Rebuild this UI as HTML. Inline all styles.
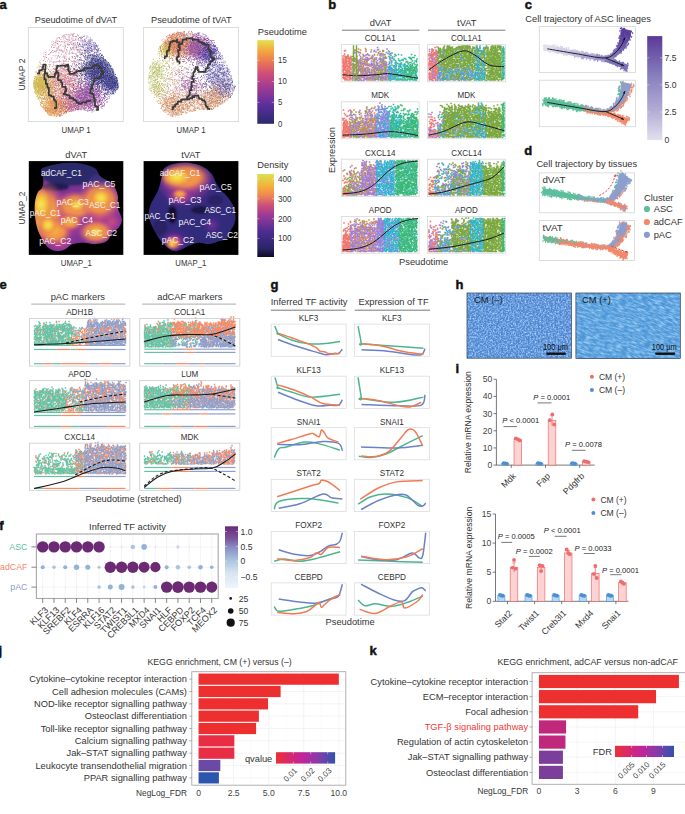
<!DOCTYPE html><html><head><meta charset="utf-8"><style>html,body{margin:0;padding:0;background:#fff;overflow:hidden}svg{display:block}</style></head><body><svg width="685" height="814" viewBox="0 0 685 814" font-family='"Liberation Sans", sans-serif'><defs><linearGradient id="gPT" x1="0" y1="1" x2="0" y2="0"><stop offset="0" stop-color="#2a2a6c"/><stop offset="0.22" stop-color="#5a2f9c"/><stop offset="0.45" stop-color="#a43c92"/><stop offset="0.6" stop-color="#cf4e78"/><stop offset="0.75" stop-color="#ec7a52"/><stop offset="0.87" stop-color="#f3a642"/><stop offset="1" stop-color="#e4e24c"/></linearGradient><linearGradient id="gDEN" x1="0" y1="1" x2="0" y2="0"><stop offset="0" stop-color="#0f0a24"/><stop offset="0.1" stop-color="#2a2466"/><stop offset="0.3" stop-color="#4a2e90"/><stop offset="0.5" stop-color="#9a3a98"/><stop offset="0.62" stop-color="#cc4e7a"/><stop offset="0.75" stop-color="#f08a50"/><stop offset="0.85" stop-color="#f2b03a"/><stop offset="1" stop-color="#dce24e"/></linearGradient><filter id="blur1" x="-10%" y="-10%" width="120%" height="120%"><feGaussianBlur stdDeviation="1.2"/></filter><filter id="blur2" x="-20%" y="-20%" width="140%" height="140%"><feGaussianBlur stdDeviation="2.5"/></filter><filter id="blur05"><feGaussianBlur stdDeviation="0.5"/></filter><radialGradient id="rgY"><stop offset="0" stop-color="#f2ee5a" stop-opacity="1"/><stop offset="0.4" stop-color="#f6c840" stop-opacity="0.95"/><stop offset="0.75" stop-color="#f09a48" stop-opacity="0.7"/><stop offset="1" stop-color="#c04a80" stop-opacity="0"/></radialGradient><radialGradient id="rgO"><stop offset="0" stop-color="#f7b43e" stop-opacity="1"/><stop offset="0.55" stop-color="#f29048" stop-opacity="0.95"/><stop offset="1" stop-color="#c8488a" stop-opacity="0"/></radialGradient><radialGradient id="rgM"><stop offset="0" stop-color="#d4507a" stop-opacity="0.9"/><stop offset="0.6" stop-color="#a43c92" stop-opacity="0.6"/><stop offset="1" stop-color="#7a3498" stop-opacity="0"/></radialGradient><radialGradient id="rgP"><stop offset="0" stop-color="#7a3498" stop-opacity="0.9"/><stop offset="1" stop-color="#5a2f9c" stop-opacity="0"/></radialGradient><clipPath id="cpDV"><path d="M42 168.4C44.33 166.77 51.33 165.13 56 164.2C60.67 163.27 65.33 162.8 70 162.8C74.67 162.8 79.78 163.27 84 164.2C88.22 165.13 92.48 166.3 95.3 168.4C98.12 170.5 98.1 174.23 100.9 176.8C103.7 179.37 109.3 180.77 112.1 183.8C114.9 186.83 116.77 191.02 117.7 195C118.63 198.98 117 203.72 117.7 207.7C118.4 211.68 121.67 215.63 121.9 218.9C122.13 222.17 120.73 224.97 119.1 227.3C117.47 229.63 114.2 230.57 112.1 232.9C110 235.23 109.3 239.43 106.5 241.3C103.7 243.17 99.05 243.87 95.3 244.1C91.55 244.33 87.75 242.7 84 242.7C80.25 242.7 76.07 242.93 72.8 244.1C69.53 245.27 67.2 248.53 64.4 249.7C61.6 250.87 58.57 251.33 56 251.1C53.43 250.87 51.1 249.93 49 248.3C46.9 246.67 45.27 244.33 43.4 241.3C41.53 238.27 39.2 234.3 37.8 230.1C36.4 225.9 35.47 220.78 35 216.1C34.53 211.42 34.53 205.98 35 202C35.47 198.02 36.63 194.53 37.8 192.2C38.97 189.87 41.07 189.87 42 188C42.93 186.13 43.4 183.33 43.4 181C43.4 178.67 42.23 176.1 42 174C41.77 171.9 39.67 170.03 42 168.4Z"/></clipPath><clipPath id="cpTV"><path d="M164 168.4C166.33 165.72 170.98 164.43 175.2 163.5C179.42 162.57 184.62 162.22 189.3 162.8C193.98 163.38 199.57 165.13 203.3 167C207.03 168.87 209.6 171.43 211.7 174C213.8 176.57 214.27 179.6 215.9 182.4C217.53 185.2 219.63 188.47 221.5 190.8C223.37 193.13 225.23 194.07 227.1 196.4C228.97 198.73 231.3 201.52 232.7 204.8C234.1 208.08 235.27 212.82 235.5 216.1C235.73 219.38 235.03 221.93 234.1 224.5C233.17 227.07 231.07 229.17 229.9 231.5C228.73 233.83 228.97 236.87 227.1 238.5C225.23 240.13 221.73 240.37 218.7 241.3C215.67 242.23 212.17 243.87 208.9 244.1C205.63 244.33 202.37 242.47 199.1 242.7C195.83 242.93 192.35 244.33 189.3 245.5C186.25 246.67 183.38 248.77 180.8 249.7C178.22 250.63 176.13 251.57 173.8 251.1C171.47 250.63 168.9 248.53 166.8 246.9C164.7 245.27 163.07 243.63 161.2 241.3C159.33 238.97 157.23 235.7 155.6 232.9C153.97 230.1 152.57 227.3 151.4 224.5C150.23 221.7 148.83 219.15 148.6 216.1C148.37 213.05 149.07 209.25 150 206.2C150.93 203.15 152.8 200.6 154.2 197.8C155.6 195 157.23 192.43 158.4 189.4C159.57 186.37 160.27 183.1 161.2 179.6C162.13 176.1 161.67 171.08 164 168.4Z"/></clipPath><clipPath id="cpdvc"><path d="M36 70C37.5 65.17 39.67 59.67 42 55C44.33 50.33 46.67 45.33 50 42C53.33 38.67 57.83 36.5 62 35C66.17 33.5 70.67 32.83 75 33C79.33 33.17 84.17 34 88 36C91.83 38 95.33 41.33 98 45C100.67 48.67 101.67 54.5 104 58C106.33 61.5 109.83 62.67 112 66C114.17 69.33 115.83 74.33 117 78C118.17 81.67 119.67 85 119 88C118.33 91 115.5 92.67 113 96C110.5 99.33 107.5 105.33 104 108C100.5 110.67 96 111.67 92 112C88 112.33 84 110 80 110C76 110 71.33 110.83 68 112C64.67 113.17 63 116.33 60 117C57 117.67 53 117.5 50 116C47 114.5 44.33 111.33 42 108C39.67 104.67 37.5 100 36 96C34.5 92 33 88.33 33 84C33 79.67 34.5 74.83 36 70Z"/></clipPath><clipPath id="cptvc"><path d="M163 38C166 34.67 170.5 33.17 175 32C179.5 30.83 185 30.67 190 31C195 31.33 201 32.5 205 34C209 35.5 211.17 36.5 214 40C216.83 43.5 219.33 50 222 55C224.67 60 227.67 64.83 230 70C232.33 75.17 235.67 81.67 236 86C236.33 90.33 234.33 93 232 96C229.67 99 225.33 101.67 222 104C218.67 106.33 216 109 212 110C208 111 202.5 109.33 198 110C193.5 110.67 189.17 112.83 185 114C180.83 115.17 176.67 117.33 173 117C169.33 116.67 165.67 114.5 163 112C160.33 109.5 159.17 105.33 157 102C154.83 98.67 151.5 96 150 92C148.5 88 148 82.5 148 78C148 73.5 148.5 69.33 150 65C151.5 60.67 154.83 56.5 157 52C159.17 47.5 160 41.33 163 38Z"/></clipPath><linearGradient id="gTr" gradientUnits="userSpaceOnUse" x1="542" y1="0" x2="608" y2="0"><stop offset="0" stop-color="#e8e5f2"/><stop offset="0.5" stop-color="#c4bde0"/><stop offset="1" stop-color="#8e84c4"/></linearGradient><linearGradient id="gUp" gradientUnits="userSpaceOnUse" x1="0" y1="60" x2="0" y2="29"><stop offset="0" stop-color="#8a80c0"/><stop offset="1" stop-color="#5a3a9a"/></linearGradient><linearGradient id="gC" x1="0" y1="1" x2="0" y2="0"><stop offset="0" stop-color="#e2e0ee"/><stop offset="0.3" stop-color="#b0aad4"/><stop offset="0.6" stop-color="#8a82c0"/><stop offset="1" stop-color="#5a3a98"/></linearGradient><linearGradient id="gF" x1="0" y1="1" x2="0" y2="0"><stop offset="0" stop-color="#eef4fa"/><stop offset="0.25" stop-color="#d6e4f1"/><stop offset="0.45" stop-color="#a9c3de"/><stop offset="0.65" stop-color="#8a8fc4"/><stop offset="0.82" stop-color="#7a4e98"/><stop offset="1" stop-color="#6a2a78"/></linearGradient><filter id="texA" x="0" y="0" width="100%" height="100%" color-interpolation-filters="sRGB"><feTurbulence type="fractalNoise" baseFrequency="0.6" numOctaves="2" seed="4" result="n"/><feColorMatrix in="n" type="matrix" values="0 0 0 0 0.72  0 0 0 0 0.85  0 0 0 0 1  2.0 0 0 0 -0.75" result="w"/><feComposite in="w" in2="SourceGraphic" operator="over"/></filter><filter id="texB" x="0" y="0" width="100%" height="100%" color-interpolation-filters="sRGB"><feTurbulence type="fractalNoise" baseFrequency="0.16 0.75" numOctaves="3" seed="9" result="n"/><feColorMatrix in="n" type="matrix" values="0 0 0 0 0.72  0 0 0 0 0.88  0 0 0 0 1  2.0 0 0 0 -0.78" result="w"/><feComposite in="w" in2="SourceGraphic" operator="over"/></filter><clipPath id="cpH1"><rect x="467" y="293" width="104.5" height="65.2"/></clipPath><clipPath id="cpH2"><rect x="575.9" y="293" width="104.4" height="65.5"/></clipPath><linearGradient id="gQ" x1="0" y1="0" x2="1" y2="0"><stop offset="0" stop-color="#ee2f3a"/><stop offset="0.45" stop-color="#c0259a"/><stop offset="0.7" stop-color="#8a3aa8"/><stop offset="1" stop-color="#2e52ad"/></linearGradient><linearGradient id="gK" x1="0" y1="0" x2="1" y2="0"><stop offset="0" stop-color="#ee2f3a"/><stop offset="0.45" stop-color="#c0259a"/><stop offset="0.7" stop-color="#8a3aa8"/><stop offset="1" stop-color="#2e52ad"/></linearGradient></defs><rect width="685" height="814" fill="#fff"/><text x="-0.5" y="9" font-size="13" fill="#111" font-weight="bold" stroke="#111" stroke-width="0.45">a</text><text x="76" y="22.9" font-size="9.3" fill="#333" text-anchor="middle" textLength="82.4" lengthAdjust="spacingAndGlyphs">Pseudotime of dVAT</text><text x="191.4" y="22.8" font-size="9.3" fill="#333" text-anchor="middle" textLength="80.6" lengthAdjust="spacingAndGlyphs">Pseudotime of tVAT</text><rect x="28.3" y="27.5" width="95" height="94.1" fill="none" stroke="#d4d4d4" stroke-width="0.8"/><rect x="143.6" y="27.5" width="94.8" height="94.1" fill="none" stroke="#d4d4d4" stroke-width="0.8"/><text x="76" y="133" font-size="9.3" fill="#333" text-anchor="middle" textLength="29" lengthAdjust="spacingAndGlyphs">UMAP 1</text><text x="191" y="133" font-size="9.3" fill="#333" text-anchor="middle" textLength="29" lengthAdjust="spacingAndGlyphs">UMAP 1</text><text x="25" y="74.5" font-size="9.3" fill="#333" text-anchor="middle" textLength="32" lengthAdjust="spacingAndGlyphs" transform="rotate(-90 25 74.5)">UMAP 2</text><text x="76.2" y="157.5" font-size="9.3" fill="#333" text-anchor="middle">dVAT</text><text x="190.8" y="157.5" font-size="9.3" fill="#333" text-anchor="middle">tVAT</text><text x="25" y="208" font-size="9.3" fill="#333" text-anchor="middle" textLength="32.8" lengthAdjust="spacingAndGlyphs" transform="rotate(-90 25 208)">UMAP_2</text><text x="76.3" y="266.3" font-size="9.3" fill="#333" text-anchor="middle" textLength="31" lengthAdjust="spacingAndGlyphs">UMAP_1</text><text x="190.8" y="266.3" font-size="9.3" fill="#333" text-anchor="middle" textLength="31" lengthAdjust="spacingAndGlyphs">UMAP_1</text><rect x="28.8" y="161.1" width="94.5" height="93.8" fill="#000"/><rect x="143.6" y="161.1" width="94.8" height="93.8" fill="#000"/><text x="257.8" y="35" font-size="9.3" fill="#333">Pseudotime</text><text x="257.3" y="168.3" font-size="9.3" fill="#333">Density</text><text x="278.1" y="63.2" font-size="9" fill="#333" textLength="8.61" lengthAdjust="spacingAndGlyphs">15</text><text x="278.1" y="84.4" font-size="9" fill="#333" textLength="8.61" lengthAdjust="spacingAndGlyphs">10</text><text x="278.1" y="105.3" font-size="9" fill="#333" textLength="4.3" lengthAdjust="spacingAndGlyphs">5</text><text x="278.1" y="126.7" font-size="9" fill="#333" textLength="4.3" lengthAdjust="spacingAndGlyphs">0</text><text x="278.1" y="181.9" font-size="9" fill="#333" textLength="13.51" lengthAdjust="spacingAndGlyphs">400</text><text x="278.1" y="201.7" font-size="9" fill="#333" textLength="13.51" lengthAdjust="spacingAndGlyphs">300</text><text x="278.1" y="221.6" font-size="9" fill="#333" textLength="13.51" lengthAdjust="spacingAndGlyphs">200</text><text x="278.1" y="241.4" font-size="9" fill="#333" textLength="13.51" lengthAdjust="spacingAndGlyphs">100</text><rect x="257.3" y="40.1" width="16.7" height="83.7" fill="url(#gPT)"/><line x1="257.3" y1="60.3" x2="259.5" y2="60.3" stroke="#fff" stroke-width="0.6" stroke-opacity="0.7"/><line x1="271.8" y1="60.3" x2="274" y2="60.3" stroke="#fff" stroke-width="0.6" stroke-opacity="0.7"/><line x1="257.3" y1="81.5" x2="259.5" y2="81.5" stroke="#fff" stroke-width="0.6" stroke-opacity="0.7"/><line x1="271.8" y1="81.5" x2="274" y2="81.5" stroke="#fff" stroke-width="0.6" stroke-opacity="0.7"/><line x1="257.3" y1="102.4" x2="259.5" y2="102.4" stroke="#fff" stroke-width="0.6" stroke-opacity="0.7"/><line x1="271.8" y1="102.4" x2="274" y2="102.4" stroke="#fff" stroke-width="0.6" stroke-opacity="0.7"/><rect x="257.3" y="174" width="16.7" height="83" fill="url(#gDEN)"/><line x1="257.3" y1="179" x2="259.5" y2="179" stroke="#fff" stroke-width="0.6" stroke-opacity="0.7"/><line x1="271.8" y1="179" x2="274" y2="179" stroke="#fff" stroke-width="0.6" stroke-opacity="0.7"/><line x1="257.3" y1="198.8" x2="259.5" y2="198.8" stroke="#fff" stroke-width="0.6" stroke-opacity="0.7"/><line x1="271.8" y1="198.8" x2="274" y2="198.8" stroke="#fff" stroke-width="0.6" stroke-opacity="0.7"/><line x1="257.3" y1="218.7" x2="259.5" y2="218.7" stroke="#fff" stroke-width="0.6" stroke-opacity="0.7"/><line x1="271.8" y1="218.7" x2="274" y2="218.7" stroke="#fff" stroke-width="0.6" stroke-opacity="0.7"/><line x1="257.3" y1="238.5" x2="259.5" y2="238.5" stroke="#fff" stroke-width="0.6" stroke-opacity="0.7"/><line x1="271.8" y1="238.5" x2="274" y2="238.5" stroke="#fff" stroke-width="0.6" stroke-opacity="0.7"/><g clip-path="url(#cpDV)"><g filter="url(#blur1)"><rect x="28" y="160" width="96" height="96" fill="#7a3295"/><ellipse cx="70" cy="172" rx="32" ry="14" fill="#2c2a6a"/><ellipse cx="100" cy="181" rx="11" ry="7" fill="#3a3080"/><ellipse cx="55" cy="187" rx="14" ry="4" fill="#221f50"/><ellipse cx="62" cy="218" rx="34" ry="30" fill="url(#rgM)"/><ellipse cx="100" cy="215" rx="26" ry="26" fill="url(#rgM)"/><ellipse cx="60" cy="243" rx="16" ry="10" fill="url(#rgM)"/><ellipse cx="112" cy="222" rx="12" ry="12" fill="url(#rgM)"/><ellipse cx="45" cy="214" rx="22" ry="34" fill="url(#rgO)"/><ellipse cx="76" cy="206" rx="22" ry="16" fill="url(#rgO)"/><ellipse cx="100" cy="200" rx="23" ry="21" fill="url(#rgO)"/><ellipse cx="96" cy="232" rx="19" ry="13" fill="url(#rgO)"/><ellipse cx="55" cy="231" rx="18" ry="15" fill="url(#rgO)"/><ellipse cx="70" cy="222" rx="13" ry="9" fill="url(#rgO)"/><ellipse cx="41" cy="204" rx="11" ry="17" fill="url(#rgY)"/><ellipse cx="101" cy="198" rx="11" ry="10" fill="url(#rgY)"/><ellipse cx="48" cy="225" rx="9" ry="9" fill="url(#rgY)"/><ellipse cx="77" cy="205" rx="9" ry="7" fill="url(#rgY)"/><ellipse cx="96" cy="232" rx="8" ry="6" fill="url(#rgY)"/></g></g><g clip-path="url(#cpTV)"><g filter="url(#blur1)"><rect x="143" y="160" width="96" height="96" fill="#33297a"/><ellipse cx="172.4" cy="214.7" rx="4.5" ry="9" fill="#14102e"/><ellipse cx="200" cy="210" rx="9" ry="4" fill="#1e1844"/><ellipse cx="215" cy="200" rx="8" ry="5" fill="#2a2462"/><ellipse cx="160" cy="228" rx="7" ry="8" fill="#2a2462"/><ellipse cx="185" cy="186" rx="32" ry="24" fill="url(#rgP)"/><ellipse cx="175" cy="240" rx="16" ry="12" fill="url(#rgP)"/><ellipse cx="212" cy="225" rx="10" ry="10" fill="url(#rgP)"/><ellipse cx="185" cy="183" rx="30" ry="20" fill="url(#rgM)"/><ellipse cx="180" cy="197" rx="15" ry="9" fill="url(#rgM)"/><ellipse cx="174" cy="242" rx="11" ry="9" fill="url(#rgM)"/><ellipse cx="185" cy="177" rx="28" ry="16" fill="url(#rgO)"/><ellipse cx="173" cy="243" rx="8" ry="7" fill="url(#rgO)"/><ellipse cx="180" cy="194" rx="8" ry="5" fill="url(#rgO)"/><ellipse cx="177" cy="177" rx="16" ry="10" fill="url(#rgY)"/><ellipse cx="172" cy="244" rx="4" ry="4" fill="url(#rgY)"/></g></g><text x="41" y="176.3" font-size="9.2" fill="#f4f4f4" textLength="40.9" lengthAdjust="spacingAndGlyphs">adCAF_C1</text><text x="82.6" y="186.7" font-size="9.2" fill="#f4f4f4" textLength="32.8" lengthAdjust="spacingAndGlyphs">pAC_C5</text><text x="56.6" y="204.6" font-size="9.2" fill="#f4f4f4" textLength="32.2" lengthAdjust="spacingAndGlyphs">pAC_C3</text><text x="89.3" y="208.3" font-size="9.2" fill="#f4f4f4" textLength="31" lengthAdjust="spacingAndGlyphs">ASC_C1</text><text x="29.8" y="216" font-size="9.2" fill="#f4f4f4" textLength="31" lengthAdjust="spacingAndGlyphs">pAC_C1</text><text x="60.8" y="223.2" font-size="9.2" fill="#f4f4f4" textLength="32.2" lengthAdjust="spacingAndGlyphs">pAC_C4</text><text x="85.6" y="235.6" font-size="9.2" fill="#f4f4f4" textLength="31.5" lengthAdjust="spacingAndGlyphs">ASC_C2</text><text x="39.2" y="244.3" font-size="9.2" fill="#f4f4f4" textLength="32" lengthAdjust="spacingAndGlyphs">pAC_C2</text><text x="159.8" y="176.3" font-size="9.2" fill="#f4f4f4" textLength="40.4" lengthAdjust="spacingAndGlyphs">adCAF_C1</text><text x="199.5" y="190.4" font-size="9.2" fill="#f4f4f4" textLength="32.2" lengthAdjust="spacingAndGlyphs">pAC_C5</text><text x="168.5" y="202.9" font-size="9.2" fill="#f4f4f4" textLength="32.7" lengthAdjust="spacingAndGlyphs">pAC_C3</text><text x="204.4" y="213.3" font-size="9.2" fill="#f4f4f4" textLength="31.6" lengthAdjust="spacingAndGlyphs">ASC_C1</text><text x="144.4" y="219" font-size="9.2" fill="#f4f4f4" textLength="31" lengthAdjust="spacingAndGlyphs">pAC_C1</text><text x="178.4" y="225.2" font-size="9.2" fill="#f4f4f4" textLength="32.7" lengthAdjust="spacingAndGlyphs">pAC_C4</text><text x="205.7" y="238.3" font-size="9.2" fill="#f4f4f4" textLength="32.2" lengthAdjust="spacingAndGlyphs">ASC_C2</text><text x="161.8" y="242.6" font-size="9.2" fill="#f4f4f4" textLength="32.2" lengthAdjust="spacingAndGlyphs">pAC_C2</text><g clip-path="url(#cpdvc)" filter="url(#blur2)" opacity="0.45"><ellipse cx="68" cy="44" rx="16.9" ry="16.9" fill="#f2e4ea" fill-opacity="0.22"/><ellipse cx="90" cy="46" rx="10.4" ry="10.4" fill="#e0daf0" fill-opacity="0.35"/><ellipse cx="41" cy="85" rx="10.4" ry="10.4" fill="#d4b848" fill-opacity="0.95"/><ellipse cx="54" cy="107" rx="10.4" ry="10.4" fill="#e0a050" fill-opacity="0.85"/><ellipse cx="63" cy="82" rx="14.3" ry="14.3" fill="#e8b0b8" fill-opacity="0.5"/><ellipse cx="98" cy="70" rx="13" ry="13" fill="#40408c" fill-opacity="0.95"/><ellipse cx="112" cy="83" rx="7.8" ry="7.8" fill="#40408c" fill-opacity="1"/><ellipse cx="88" cy="97" rx="11.7" ry="11.7" fill="#9a58a8" fill-opacity="0.8"/><ellipse cx="72" cy="105" rx="9.1" ry="9.1" fill="#c878a0" fill-opacity="0.6"/></g><path transform="scale(.5)" d="M113 198h0m8 3h0m0 31h0m2-8h0m0 4h0m1-21h0m1-10h0m2 15h0m0 15h0m1-30h0m0 22h0m1-27h0m0 8h0m0 8h0m0 6h0m0 11h0m2-21h0m0 19h0m2-28h0m0 1h0m0 17h0m1-30h0m0 25h0m0 5h0m0 8h0m1-23h0m0 17h0m1-17h0m0 11h0m0 2h0m0 9h0m0 2h0m1-16h0m0 0h0m1-17h0m0 2h0m1 4h0m0 18h0m0 0h0m1-7h0m0 9h0m1-33h0m0 22h0m1-2h0m1-5h0m0 12h0m0 2h0m0 7h0m1-30h0m0 9h0m0 12h0m0 4h0m0 6h0m1-25h0m0 28h0m1-41h0m0 27h0m0 2h0m0 4h0m1-20h0m0 3h0m0 22h0m1 3h0m1-39h0m0 29h0m0 3h0m1-25h0m0 3h0m0 7h0m1-23h0m0 24h0m0 12h0m0 4h0m1 2h0m1-13h0m0 1h0m1-15h0m0 15h0m2-5h0m0 4h0m0 6h0m1-5h0m0 2h0m1-18h0m0 16h0m0 6h0m2-24h0m0 18h0m0 11h0m0 1h0m2-25h0m2 4h0m0 10h0m0 1h0m0 9h0m1-52h0m1 45h0m6-14h0m1 17h0" stroke="#c86080" stroke-width="1.7" stroke-linecap="round"/><path transform="scale(.5)" d="M67 170h0m1 5h0m1-18h0m0 3h0m0 13h0m1-4h0m0 2h0m0 1h0m0 11h0m1-39h0m0 10h0m0 21h0m1-16h0m0 9h0m0 4h0m0 2h0m1-13h0m0 13h0m0 12h0m1-36h0m0 8h0m0 9h0m0 9h0m1-20h0m0 12h0m0 13h0m0 11h0m1-60h0m0 15h0m0 13h0m0 5h0m0 18h0m1-22h0m0 3h0m0 17h0m1-41h0m0 19h0m0 7h0m0 4h0m0 25h0m0 1h0m1-40h0m0 20h0m0 10h0m0 16h0m1-32h0m0 3h0m0 6h0m0 10h0m1-29h0m0 7h0m0 6h0m0 3h0m1-17h0m0 3h0m0 2h0m0 10h0m0 10h0m1-7h0m0 5h0m1-30h0m0 11h0m0 4h0m0 31h0m0 5h0m1-54h0m0 15h0m0 16h0m0 16h0m0 0h0m0 9h0m1-54h0m0 1h0m0 10h0m0 2h0m0 5h0m0 2h0m0 44h0m1-57h0m0 10h0m0 5h0m0 7h0m0 5h0m0 25h0m1-73h0m0 27h0m0 11h0m0 5h0m0 6h0m0 22h0m1-51h0m0 9h0m1-24h0m0 4h0m0 3h0m0 13h0m0 5h0m1-3h0m0 9h0m0 10h0m0 0h0m0 2h0m0 5h0m1-32h0m0 4h0m0 9h0m0 11h0m0 10h0m1-37h0m0 6h0m0 14h0m0 35h0m1-61h0m0 25h0m0 5h0m0 19h0m1-54h0m0 3h0m0 1h0m0 29h0m0 7h0m1-31h0m0 21h0m0 38h0m1-62h0m0 3h0m0 5h0m0 10h0m0 4h0m0 4h0m0 12h0m0 4h0m1-39h0m0 15h0m0 17h0m1-8h0m0 15h0m0 3h0m1-27h0m0 7h0m0 13h0m1-40h0m0 6h0m0 30h0m0 9h0m1-17h0m0 4h0m0 4h0m1-22h0m0 2h0m0 16h0m1-5h0m0 6h0m3-51h0m3 28h0m0 20h0m1-24h0m1-16h0m0 14h0m7 7h0m4 16h0" stroke="#b8b838" stroke-width="1.7" stroke-linecap="round"/><path transform="scale(.5)" d="M117 207h0m2 11h0m17-53h0m1 17h0m5-26h0m2 30h0m1 29h0m1-15h0m1-32h0m1 35h0m1-6h0m0 9h0m0 8h0m1-29h0m2 3h0m0 5h0m0 9h0m1-8h0m1-22h0m0 30h0m1 9h0m1-17h0m0 2h0m0 18h0m1-30h0m0 10h0m1-16h0m0 0h0m0 9h0m0 15h0m1-37h0m0 25h0m0 6h0m1-8h0m0 6h0m0 1h0m0 16h0m1-42h0m0 27h0m1-16h0m0 2h0m0 7h0m0 1h0m1-16h0m2 8h0m0 3h0m1-43h0m0 40h0m0 9h0m0 25h0m2-44h0m0 22h0m0 1h0m0 1h0m0 4h0m0 8h0m1-28h0m0 31h0m0 2h0m0 7h0m1-52h0m0 17h0m0 5h0m0 2h0m0 10h0m0 3h0m0 4h0m1-18h0m0 2h0m0 2h0m1-17h0m0 12h0m0 2h0m0 2h0m0 15h0m0 7h0m0 0h0m1-36h0m1-8h0m0 13h0m0 17h0m0 1h0m1-11h0m0 17h0m0 2h0m1-22h0m1-21h0m0 6h0m0 12h0m0 4h0m0 2h0m0 8h0m0 4h0m0 6h0m1-19h0m0 2h0m0 22h0m2-57h0m0 10h0m0 5h0m0 15h0m0 3h0m0 2h0m0 12h0m0 11h0m0 2h0m1-49h0m0 30h0m0 1h0m0 12h0m1-42h0m0 16h0m0 5h0m0 16h0m0 3h0m1-15h0m0 4h0m0 3h0m1-13h0m0 7h0m0 9h0m1-34h0m0 3h0m0 4h0m0 7h0m0 2h0m0 2h0m0 10h0m0 1h0m0 6h0m1-14h0m0 9h0m0 2h0m0 7h0m1-28h0m0 23h0m1-15h0m0 13h0m0 8h0m0 1h0m1-32h0m0 16h0m0 2h0m0 4h0m0 13h0m1-35h0m0 6h0m0 13h0m0 5h0m0 3h0m1-8h0m1-34h0m0 5h0m0 13h0m0 3h0m0 26h0m1-45h0m0 6h0m1 25h0m1-14h0m1-12h0m0 15h0m0 7h0m0 17h0m0 8h0m1-6h0m1-37h0m1 2h0m0 13h0m1-18h0m0 9h0m0 3h0m0 5h0m0 12h0m1-15h0m1-21h0m2 8h0m0 21h0m1 4h0m0 2h0m1-21h0m0 5h0m0 19h0m2-30h0m0 7h0m1 28h0m3-54h0m1 11h0m0 9h0m0 29h0m7-14h0" stroke="#8a40a0" stroke-width="1.7" stroke-linecap="round"/><path transform="scale(.5)" d="M68 166h0m0 4h0m1-3h0m0 11h0m1-25h0m1 18h0m0 6h0m0 3h0m1-16h0m0 4h0m0 2h0m0 13h0m1-29h0m0 2h0m0 4h0m0 3h0m0 17h0m1-45h0m0 35h0m0 3h0m0 10h0m0 3h0m1-22h0m0 5h0m1 11h0m0 7h0m0 11h0m1-49h0m0 13h0m0 22h0m0 11h0m1-46h0m0 6h0m0 19h0m0 11h0m0 5h0m1-33h0m0 4h0m0 1h0m0 2h0m0 4h0m1-46h0m0 27h0m0 10h0m0 36h0m1-52h0m0 15h0m0 4h0m0 7h0m0 2h0m0 14h0m0 4h0m0 16h0m1-67h0m0 10h0m0 9h0m0 14h0m0 1h0m0 9h0m0 17h0m1-50h0m0 13h0m0 8h0m0 19h0m0 1h0m1-53h0m0 19h0m0 12h0m0 2h0m0 15h0m1-14h0m0 4h0m0 10h0m1-42h0m0 14h0m0 1h0m0 3h0m0 8h0m1-20h0m0 6h0m0 0h0m0 18h0m0 10h0m0 9h0m1-23h0m0 1h0m2-11h0m0 1h0m0 22h0m0 6h0m1-37h0m0 5h0m0 2h0m0 6h0m0 10h0m0 4h0m1-11h0m0 1h0m1-2h0m0 43h0m1-71h0m0 17h0m0 2h0m0 5h0m0 33h0m1-16h0m1 11h0m1-26h0m1 2h0m0 8h0m1-23h0m0 11h0m0 22h0m1-30h0m0 18h0m0 5h0m0 6h0m0 21h0m1-39h0m0 2h0m0 32h0m1-48h0m0 32h0m0 3h0m2-16h0m0 14h0m2-40h0m0 16h0m1 15h0m0 19h0m0 4h0m3-36h0m1-10h0m0 15h0m0 5h0m0 16h0m2-29h0m0 14h0m2-7h0m2-14h0m2 1h0m1 28h0m2-22h0m5 11h0m3 10h0" stroke="#e0a840" stroke-width="1.7" stroke-linecap="round"/><path transform="scale(.5)" d="M76 185h0m5 24h0m1 2h0m1-20h0m0 13h0m0 2h0m2-15h0m1 12h0m0 11h0m1-28h0m0 11h0m1 0h0m0 1h0m0 13h0m1-16h0m1 4h0m0 4h0m1 13h0m0 4h0m1-18h0m0 16h0m1-27h0m0 4h0m0 21h0m0 5h0m1-29h0m0 8h0m0 12h0m1-12h0m1 21h0m1-3h0m1-7h0m0 14h0m1-36h0m0 19h0m0 14h0m1-24h0m0 1h0m0 24h0m1-34h0m0 18h0m0 3h0m1-18h0m0 6h0m0 20h0m0 9h0m1-41h0m0 4h0m0 2h0m0 13h0m0 0h0m0 5h0m0 8h0m1-15h0m0 6h0m0 2h0m0 11h0m1-14h0m0 4h0m1-21h0m0 1h0m0 10h0m0 1h0m0 18h0m1-21h0m0 1h0m0 2h0m0 1h0m0 8h0m0 14h0m0 1h0m1-30h0m0 14h0m0 4h0m0 2h0m0 8h0m0 6h0m1-36h0m0 3h0m0 3h0m0 7h0m0 2h0m0 7h0m0 6h0m0 6h0m1-15h0m0 1h0m0 3h0m1-28h0m0 1h0m0 14h0m0 16h0m1 0h0m0 6h0m1-31h0m0 8h0m0 22h0m1-21h0m0 1h0m0 10h0m0 2h0m0 1h0m1-25h0m0 20h0m0 0h0m0 3h0m0 3h0m1-33h0m0 26h0m0 15h0m1-20h0m0 18h0m2 5h0m0 2h0m1-26h0m0 2h0m0 21h0m0 1h0m1-51h0m0 25h0m0 1h0m0 24h0m1-27h0m0 8h0m0 3h0m0 6h0m1-26h0m0 8h0m0 8h0m0 13h0m1-34h0m1 11h0m1 7h0m0 3h0m0 3h0m0 8h0m1-29h0m0 18h0m0 11h0m2-12h0m0 1h0m0 2h0m2 5h0m1-7h0m1-10h0m0 7h0m1-1h0m0 16h0m1-15h0m0 13h0m1-4h0m1-25h0m2 0h0m0 9h0m0 7h0m4-12h0m4 16h0" stroke="#d07840" stroke-width="1.7" stroke-linecap="round"/><path transform="scale(.5)" d="M80 196h0m8 3h0m1 7h0m1 12h0m1-20h0m0 24h0m1-33h0m0 7h0m0 10h0m0 17h0m1-26h0m0 5h0m1 3h0m0 10h0m1 1h0m0 3h0m0 4h0m1-21h0m0 3h0m0 1h0m1-10h0m0 9h0m0 10h0m0 13h0m1-39h0m0 4h0m0 10h0m0 2h0m1-10h0m0 12h0m0 10h0m0 6h0m0 7h0m1-18h0m0 2h0m0 3h0m1-6h0m0 2h0m2-6h0m0 7h0m1-28h0m0 31h0m1 5h0m1-34h0m0 6h0m0 13h0m0 10h0m1-31h0m0 10h0m0 15h0m0 11h0m1-18h0m1-22h0m0 2h0m0 9h0m0 6h0m0 6h0m0 3h0m0 3h0m0 19h0m1-21h0m0 18h0m1-31h0m0 13h0m0 10h0m1-44h0m0 36h0m0 4h0m0 16h0m2-36h0m0 15h0m0 12h0m1 8h0m1-22h0m0 7h0m0 12h0m0 2h0m0 2h0m1-32h0m0 6h0m0 7h0m1-10h0m0 5h0m0 13h0m1-25h0m0 11h0m0 6h0m1 11h0m0 2h0m1 1h0m1-37h0m0 14h0m0 25h0m1-11h0m0 2h0m0 1h0m1-37h0m0 9h0m1 29h0m1-20h0m0 27h0m2-25h0m1 16h0m1-8h0m0 1h0m0 7h0m1-35h0m0 19h0m0 12h0m0 5h0m0 1h0m0 5h0m1-41h0m0 4h0m2 25h0m2 3h0m2-11h0m1 14h0m8-8h0m19 2h0" stroke="#e09040" stroke-width="1.7" stroke-linecap="round"/><path transform="scale(.5)" d="M83 213h0m2-13h0m0 7h0m0 7h0m2-30h0m0 24h0m0 6h0m1 5h0m2-35h0m1 15h0m1 17h0m1-9h0m1-21h0m0 4h0m1-5h0m0 9h0m0 25h0m0 4h0m0 4h0m1-5h0m1-19h0m0 3h0m0 5h0m0 3h0m1-7h0m0 2h0m0 14h0m1-21h0m0 18h0m1-19h0m0 6h0m0 8h0m0 2h0m1-21h0m0 4h0m0 5h0m0 11h0m0 1h0m0 13h0m1-28h0m0 5h0m0 4h0m0 8h0m0 7h0m1-39h0m0 4h0m0 12h0m0 9h0m0 3h0m0 1h0m0 12h0m0 3h0m1-30h0m0 5h0m0 2h0m1-33h0m0 14h0m0 21h0m0 3h0m0 3h0m1-17h0m0 10h0m0 15h0m1-5h0m1-29h0m0 13h0m0 12h0m0 5h0m1-26h0m0 0h0m1 8h0m0 17h0m0 2h0m1-16h0m0 2h0m0 9h0m0 1h0m0 7h0m0 2h0m1-39h0m0 14h0m0 6h0m0 5h0m0 1h0m1-5h0m0 2h0m0 6h0m0 14h0m1-31h0m0 10h0m0 2h0m0 2h0m0 8h0m1-23h0m0 3h0m0 2h0m0 3h0m1-11h0m0 5h0m0 13h0m1-22h0m0 19h0m1-22h0m0 8h0m0 21h0m1-25h0m0 16h0m0 9h0m0 2h0m0 6h0m1-26h0m0 15h0m1-32h0m0 33h0m0 6h0m0 10h0m1-22h0m1-2h0m0 14h0m1-3h0m1-29h0m0 2h0m0 18h0m0 4h0m2 2h0m1 7h0m0 0h0m2 5h0m1-30h0m0 21h0m3-12h0m0 3h0m0 12h0m2 3h0m1-13h0m2-11h0m1 18h0m1-6h0m10-21h0" stroke="#e8a050" stroke-width="1.7" stroke-linecap="round"/><path transform="scale(.5)" d="M145 114h0m2 57h0m1-19h0m2-35h0m0 34h0m0 5h0m0 3h0m1-9h0m3 33h0m2-71h0m1 16h0m0 6h0m0 24h0m0 9h0m1-45h0m1-33h0m0 48h0m0 25h0m1-21h0m1 33h0m2-65h0m0 35h0m0 16h0m1-32h0m0 6h0m0 6h0m0 16h0m1-18h0m0 3h0m0 21h0m1-24h0m0 41h0m1-52h0m0 36h0m2 29h0m1-84h0m0 20h0m0 9h0m0 19h0m0 19h0m1-41h0m0 22h0m1-41h0m0 44h0m0 17h0m1-51h0m0 4h0m0 15h0m0 6h0m0 14h0m1-60h0m0 36h0m0 12h0m0 21h0m1-57h0m0 19h0m0 8h0m0 3h0m1-11h0m0 33h0m1-26h0m0 5h0m0 21h0m1-68h0m0 42h0m0 10h0m1-47h0m0 25h0m0 18h0m1-22h0m0 2h0m0 6h0m0 11h0m0 13h0m0 8h0m0 5h0m1-76h0m0 42h0m0 6h0m0 4h0m0 16h0m1-48h0m0 6h0m0 11h0m0 15h0m0 2h0m0 10h0m0 9h0m1-66h0m0 20h0m0 19h0m0 3h0m0 6h0m0 1h0m0 9h0m0 4h0m0 7h0m1-68h0m0 20h0m0 13h0m0 2h0m0 3h0m0 3h0m0 24h0m0 17h0m1-71h0m0 8h0m0 25h0m0 7h0m0 2h0m0 15h0m1-39h0m1-14h0m0 9h0m0 4h0m0 33h0m0 10h0m1-45h0m0 6h0m0 5h0m0 19h0m0 3h0m0 3h0m1-49h0m0 8h0m0 2h0m0 13h0m0 5h0m0 6h0m0 3h0m0 1h0m0 3h0m0 5h0m0 10h0m1-36h0m0 6h0m0 3h0m0 9h0m0 9h0m1-46h0m0 7h0m0 14h0m0 2h0m0 9h0m0 0h0m0 13h0m1-35h0m0 4h0m0 9h0m0 2h0m0 3h0m0 2h0m1-38h0m0 18h0m0 2h0m0 4h0m0 22h0m1-25h0m0 31h0m0 0h0m1-61h0m0 19h0m0 9h0m0 3h0m0 5h0m0 5h0m0 0h0m0 3h0m0 25h0m1-44h0m0 3h0m0 0h0m0 25h0m0 2h0m1-57h0m0 28h0m0 11h0m0 5h0m0 10h0m0 5h0m0 6h0m0 3h0m1-47h0m0 6h0m0 1h0m0 64h0m1-82h0m0 11h0m0 16h0m0 28h0m0 4h0m0 5h0m0 2h0m0 2h0m1-33h0m0 9h0m0 6h0m0 7h0m1-32h0m0 3h0m1-17h0m0 2h0m0 5h0m0 3h0m0 4h0m0 7h0m0 1h0m0 3h0m0 5h0m0 6h0m0 2h0m0 1h0m1-47h0m0 19h0m0 1h0m0 7h0m0 12h0m0 4h0m0 2h0m1-45h0m0 4h0m0 10h0m0 8h0m0 4h0m0 7h0m0 5h0m0 3h0m0 9h0m0 14h0m1-48h0m0 6h0m0 14h0m0 1h0m0 7h0m1-20h0m0 5h0m0 10h0m0 19h0m0 3h0m1-56h0m0 12h0m0 6h0m0 1h0m0 3h0m0 5h0m0 6h0m0 2h0m0 1h0m0 11h0m1-6h0m0 10h0m0 5h0m1-50h0m0 33h0m0 1h0m0 3h0m0 4h0m0 3h0m0 7h0m0 20h0m1-73h0m0 15h0m0 2h0m0 4h0m0 26h0m0 5h0m0 7h0m1-32h0m0 1h0m0 33h0m1-39h0m0 6h0m0 3h0m0 7h0m0 4h0m0 5h0m0 0h0m1-13h0m0 5h0m0 1h0m0 11h0m0 18h0m1-54h0m0 5h0m0 3h0m0 32h0m0 13h0m1-57h0m0 7h0m0 5h0m0 10h0m0 14h0m0 1h0m0 6h0m0 11h0m0 5h0m1-56h0m0 9h0m0 2h0m0 2h0m0 4h0m0 3h0m0 2h0m0 7h0m0 1h0m0 4h0m0 5h0m0 1h0m0 10h0m0 0h0m1-46h0m0 0h0m0 26h0m1-34h0m0 29h0m0 8h0m0 22h0m0 4h0m1-55h0m0 5h0m0 4h0m0 12h0m0 9h0m0 9h0m0 7h0m1-39h0m0 9h0m0 10h0m0 0h0m0 5h0m0 2h0m0 0h0m0 1h0m0 2h0m1-40h0m0 21h0m0 22h0m0 0h0m1-45h0m0 6h0m0 6h0m0 2h0m0 26h0m1-22h0m0 3h0m0 0h0m0 4h0m0 10h0m0 3h0m0 7h0m1-20h0m0 5h0m0 3h0m0 6h0m0 13h0m0 4h0m1-48h0m0 6h0m0 4h0m0 6h0m0 1h0m0 10h0m0 6h0m1-25h0m0 6h0m0 0h0m0 0h0m0 8h0m0 7h0m0 16h0m1-45h0m0 3h0m0 3h0m0 10h0m0 2h0m0 8h0m0 1h0m1-9h0m0 6h0m0 3h0m0 12h0m0 3h0m1-28h0m0 4h0m0 4h0m0 3h0m0 2h0m0 5h0m0 1h0m0 7h0m1-15h0m0 4h0m0 1h0m1-5h0m0 3h0m0 2h0m0 1h0m0 5h0m0 5h0m1-19h0m0 5h0m0 7h0m1-19h0m0 5h0m0 4h0m0 1h0m1-9h0m0 7h0m0 4h0m1 1h0m1 6h0m0 0h0" stroke="#2c2c7a" stroke-width="1.7" stroke-linecap="round"/><path transform="scale(.5)" d="M106 207h0m6 7h0m1 6h0m5-20h0m0 2h0m1 4h0m0 18h0m1-29h0m0 8h0m1 8h0m0 12h0m3-39h0m0 47h0m1-16h0m0 3h0m1-27h0m0 8h0m0 12h0m2 5h0m0 8h0m2-40h0m0 31h0m1-11h0m0 1h0m2-23h0m0 15h0m0 18h0m1-16h0m1 0h0m0 20h0m2-24h0m0 3h0m0 10h0m0 7h0m0 4h0m1-32h0m0 10h0m0 7h0m0 13h0m1-6h0m0 7h0m1-10h0m1-23h0m0 14h0m0 7h0m0 1h0m0 2h0m0 1h0m0 5h0m1-23h0m0 2h0m0 23h0m1-24h0m0 7h0m1-12h0m2 16h0m0 0h0m1-25h0m0 17h0m1 18h0m0 3h0m0 3h0m1-41h0m0 13h0m1 3h0m0 2h0m1-30h0m0 31h0m0 7h0m0 6h0m1-4h0m1 5h0m0 2h0m0 1h0m0 3h0m1 1h0m2-19h0m0 5h0m0 15h0m1-20h0m1 14h0m1-8h0m1-11h0m2 15h0m1-19h0m0 7h0m0 9h0m0 3h0m0 2h0m2-17h0m0 19h0m4 4h0m7-14h0m7-6h0" stroke="#b85888" stroke-width="1.7" stroke-linecap="round"/><path transform="scale(.5)" d="M147 87h0m7 35h0m1-37h0m0 3h0m0 11h0m2-8h0m2-3h0m1-13h0m0 30h0m1-15h0m0 26h0m1-16h0m2-25h0m0 26h0m1 4h0m1-16h0m0 3h0m1 3h0m0 30h0m1-12h0m1 10h0m1-40h0m1 30h0m1-24h0m0 6h0m2-23h0m0 14h0m0 16h0m1-8h0m0 2h0m0 1h0m0 4h0m0 3h0m2-20h0m0 4h0m1 3h0m0 3h0m0 3h0m0 14h0m0 4h0m1-28h0m0 15h0m1-23h0m0 12h0m1-15h0m0 25h0m0 8h0m0 16h0m2-29h0m0 13h0m1-8h0m2 25h0m1-40h0m0 22h0m1-9h0m1-9h0m0 4h0m1-9h0m0 3h0m1-1h0m0 11h0m0 13h0m2 5h0m8-15h0m5 14h0m0 2h0m2 3h0" stroke="#6a58a8" stroke-width="1.7" stroke-linecap="round"/><path transform="scale(.5)" d="M81 195h0m0 11h0m1-10h0m1 2h0m3-22h0m0 27h0m2-6h0m0 15h0m0 3h0m0 1h0m1-23h0m1 15h0m0 6h0m0 3h0m1-7h0m0 2h0m0 4h0m0 5h0m1-35h0m0 28h0m1-33h0m1 23h0m0 10h0m0 8h0m1-5h0m0 3h0m0 5h0m1-42h0m0 25h0m0 9h0m0 4h0m0 6h0m1-45h0m0 15h0m0 25h0m1-4h0m0 2h0m0 10h0m1-39h0m0 9h0m0 10h0m0 18h0m1-8h0m0 5h0m1-52h0m0 30h0m1-13h0m0 14h0m0 17h0m0 1h0m0 3h0m0 4h0m0 1h0m1-36h0m0 30h0m1-48h0m0 38h0m0 4h0m0 1h0m0 5h0m1-12h0m0 6h0m0 7h0m0 1h0m1-64h0m0 39h0m0 6h0m0 13h0m0 6h0m0 2h0m1-36h0m0 32h0m1-17h0m0 2h0m0 5h0m0 5h0m1-17h0m0 10h0m0 1h0m0 13h0m1-13h0m0 11h0m1-24h0m0 3h0m0 1h0m0 19h0m0 1h0m1-19h0m1 2h0m0 16h0m0 10h0m1-36h0m0 32h0m1-51h0m1 7h0m0 25h0m0 1h0m0 13h0m0 2h0m1-33h0m0 22h0m0 7h0m0 1h0m1-26h0m0 13h0m0 6h0m0 4h0m1-20h0m0 22h0m2-14h0m0 3h0m1-17h0m0 3h0m1-6h0m0 9h0m0 4h0m0 3h0m0 5h0m0 3h0m0 11h0m1-15h0m0 6h0m0 5h0m1-20h0m0 17h0m1-17h0m0 7h0m0 15h0m1-13h0m1 3h0m0 9h0m1 3h0m1-25h0m1 19h0m1-26h0m0 13h0m0 19h0m2-46h0m1 25h0m0 6h0m0 2h0m1-33h0m3 15h0m1 24h0m1-27h0m2 13h0m2 0h0m9-1h0" stroke="#d88a48" stroke-width="1.7" stroke-linecap="round"/><path transform="scale(.5)" d="M112 222h0m5-13h0m2 20h0m2-37h0m0 25h0m1-30h0m0 23h0m0 4h0m0 3h0m1-19h0m0 7h0m1-29h0m0 36h0m3-19h0m1 10h0m0 15h0m1-11h0m1-16h0m0 8h0m1-6h0m0 4h0m0 11h0m0 0h0m0 5h0m0 10h0m1-24h0m0 15h0m0 9h0m1-9h0m0 9h0m0 2h0m1-39h0m0 8h0m0 7h0m1-9h0m1-25h0m0 23h0m0 4h0m0 2h0m0 7h0m0 0h0m0 4h0m0 5h0m1-26h0m0 8h0m0 6h0m0 18h0m1-30h0m0 9h0m0 2h0m0 1h0m0 4h0m0 5h0m0 8h0m0 5h0m1-60h0m0 14h0m0 9h0m0 31h0m0 0h0m0 7h0m1-43h0m0 23h0m0 0h0m1-9h0m0 6h0m0 4h0m0 9h0m0 9h0m1-25h0m0 16h0m0 4h0m0 4h0m1-35h0m0 17h0m0 5h0m0 7h0m0 4h0m0 4h0m1-41h0m0 3h0m0 7h0m0 8h0m0 10h0m0 3h0m1-10h0m1-9h0m0 25h0m1-39h0m0 3h0m0 12h0m0 12h0m0 1h0m0 6h0m1-45h0m0 20h0m0 6h0m0 12h0m0 1h0m0 1h0m1-25h0m0 2h0m0 25h0m1-27h0m0 23h0m1-15h0m0 8h0m0 18h0m0 2h0m1-29h0m0 8h0m0 1h0m1-21h0m0 11h0m0 15h0m1-9h0m0 10h0m0 10h0m1-60h0m0 17h0m0 18h0m0 13h0m0 6h0m0 9h0m1-54h0m0 10h0m0 12h0m0 11h0m0 18h0m1-44h0m0 12h0m0 1h0m0 26h0m0 4h0m0 3h0m2-37h0m0 1h0m1 16h0m0 5h0m0 14h0m1-51h0m0 5h0m0 6h0m0 4h0m0 24h0m1-34h0m0 2h0m0 4h0m0 8h0m0 2h0m0 10h0m0 4h0m0 1h0m0 1h0m0 17h0m1-34h0m0 18h0m0 5h0m0 5h0m0 2h0m1-55h0m0 46h0m0 7h0m1-27h0m0 16h0m0 9h0m1-18h0m0 4h0m0 3h0m0 4h0m1-34h0m0 14h0m0 2h0m0 1h0m0 11h0m0 1h0m0 3h0m0 2h0m1 1h0m0 6h0m1-34h0m0 5h0m0 3h0m0 7h0m0 9h0m0 1h0m1-39h0m0 18h0m0 17h0m0 2h0m0 6h0m0 9h0m1-49h0m0 16h0m0 3h0m0 25h0m1-38h0m0 8h0m0 21h0m0 19h0m1-40h0m0 5h0m0 21h0m0 3h0m1-33h0m0 2h0m0 4h0m0 2h0m0 1h0m1-30h0m0 23h0m0 4h0m0 8h0m0 5h0m0 3h0m0 2h0m0 7h0m0 5h0m1-51h0m0 15h0m0 10h0m0 9h0m0 3h0m0 3h0m0 20h0m1-60h0m0 12h0m0 28h0m0 4h0m1-25h0m0 2h0m0 7h0m0 6h0m0 3h0m1-7h0m0 1h0m0 8h0m0 2h0m0 1h0m0 4h0m1-33h0m0 5h0m0 14h0m0 17h0m1-18h0m0 27h0m1-41h0m0 13h0m0 13h0m0 13h0m1-26h0m0 1h0m0 7h0m0 12h0m0 0h0m1-40h0m0 3h0m0 6h0m0 12h0m1-3h0m0 24h0m0 7h0m1-57h0m0 26h0m0 6h0m0 6h0m0 6h0m1-49h0m0 32h0m0 2h0m0 3h0m1-48h0m0 74h0m1-14h0m1-32h0m0 25h0m1-54h0m0 68h0m1-36h0m0 25h0m1-49h0m0 32h0m0 12h0m0 16h0m1-50h0m0 39h0m1-14h0m0 15h0m1-22h0m0 22h0m1-28h0m0 10h0m0 4h0m0 20h0m0 4h0m1-16h0m1-15h0m0 12h0m0 9h0m1-1h0m1 2h0m1-24h0m0 12h0m0 20h0m1-13h0m0 13h0m1-24h0m0 5h0m0 17h0m0 5h0m2-47h0m1 35h0m2 2h0m1-49h0m1 28h0m3 9h0m2-35h0m0 19h0" stroke="#a85090" stroke-width="1.7" stroke-linecap="round"/><path transform="scale(.5)" d="M78 136h0m1 46h0m1-30h0m1-2h0m0 40h0m1-61h0m2 31h0m0 18h0m1-35h0m2 17h0m2-15h0m0 34h0m3-16h0m3-41h0m0 77h0m1-54h0m0 7h0m1-43h0m0 71h0m1-51h0m1-5h0m0 9h0m0 45h0m0 2h0m1-14h0m0 15h0m1-11h0m0 3h0m0 2h0m0 4h0m1-11h0m0 2h0m3-14h0m0 39h0m1-90h0m0 47h0m0 36h0m0 17h0m1-77h0m0 30h0m0 7h0m0 20h0m1-35h0m0 2h0m0 4h0m1-17h0m0 35h0m1-19h0m0 28h0m0 4h0m1-41h0m0 14h0m0 2h0m0 2h0m0 29h0m1-36h0m0 21h0m0 9h0m2-19h0m1-19h0m0 29h0m1-36h0m0 28h0m1-17h0m0 20h0m0 5h0m1-25h0m0 9h0m0 41h0m1-57h0m0 22h0m0 25h0m1-55h0m0 43h0m0 6h0m1-25h0m0 7h0m0 15h0m1-33h0m0 9h0m0 38h0m1-54h0m0 19h0m0 3h0m0 6h0m0 12h0m1-41h0m0 5h0m1-8h0m0 40h0m0 7h0m1-44h0m0 6h0m0 4h0m1-26h0m0 13h0m0 24h0m0 24h0m0 19h0m2-25h0m1-61h0m0 43h0m0 11h0m0 7h0m1-31h0m0 4h0m0 0h0m0 5h0m0 2h0m0 7h0m0 18h0m0 22h0m1-92h0m0 33h0m0 5h0m0 21h0m0 2h0m1-35h0m0 14h0m0 5h0m0 6h0m0 5h0m0 8h0m1-58h0m0 7h0m0 9h0m0 25h0m0 38h0m1-66h0m0 34h0m1-33h0m0 46h0m0 3h0m1-44h0m0 18h0m0 2h0m0 8h0m0 32h0m1-58h0m0 2h0m0 2h0m0 0h0m0 12h0m0 21h0m1-63h0m0 46h0m0 19h0m1-36h0m0 15h0m0 35h0m1-58h0m0 18h0m0 12h0m0 3h0m1-21h0m0 0h0m0 10h0m0 12h0m1-11h0m0 5h0m1 4h0m1-48h0m0 19h0m0 2h0m0 28h0m0 36h0m0 8h0m1-65h0m0 9h0m0 25h0m0 1h0m1-20h0m0 9h0m1 0h0m0 1h0m1-4h0m3-37h0m0 4h0m0 21h0m0 3h0m1-20h0m0 30h0m1-48h0m0 60h0m1-54h0m0 43h0m0 25h0m1-47h0m0 19h0m0 19h0m1-48h0m0 29h0m0 10h0m2-22h0m1-30h0m2 29h0m4-5h0m0 20h0m3-19h0m3-4h0m2 19h0m1-25h0m5 30h0m2-44h0m9 39h0" stroke="#d07080" stroke-width="1.7" stroke-linecap="round"/><path transform="scale(.5)" d="M81 126h0m0 7h0m10-10h0m1-13h0m5 8h0m2-10h0m1 12h0m1-14h0m1-1h0m2-21h0m0 5h0m0 27h0m1-15h0m1-10h0m0 34h0m3-22h0m1 40h0m1-58h0m1 17h0m0 1h0m2-26h0m0 24h0m0 16h0m1-3h0m1-16h0m1-4h0m0 17h0m2-36h0m0 25h0m1 13h0m2-34h0m0 5h0m1 47h0m2-27h0m1 18h0m1-18h0m0 8h0m0 9h0m2-4h0m1-48h0m0 4h0m0 13h0m0 26h0m1-36h0m1 7h0m1-4h0m0 20h0m0 1h0m1-21h0m1 10h0m0 6h0m1-26h0m0 14h0m0 3h0m1 4h0m0 38h0m1-58h0m0 3h0m0 16h0m1-8h0m0 24h0m0 11h0m0 3h0m1-34h0m1 57h0m1-59h0m1 16h0m0 33h0m1-64h0m0 16h0m1 43h0m1-55h0m0 9h0m0 16h0m0 9h0m1 18h0m1-43h0m0 6h0m0 3h0m0 8h0m1 39h0m2-48h0m1 7h0m0 37h0m1-60h0m1 26h0m0 14h0m1-2h0m0 37h0m2-76h0m0 54h0m2-51h0m0 27h0m0 34h0m3-53h0m0 9h0m0 22h0m0 14h0m2-54h0m0 21h0m2 16h0m2-14h0m3-14h0m5 23h0m1-2h0m2 12h0m1-35h0m0 65h0m4-46h0m8 51h0" stroke="#b88098" stroke-width="1.7" stroke-linecap="round"/><path transform="scale(.5)" d="M88 104h0m2 10h0m3-10h0m2 29h0m1 22h0m7-62h0m0 10h0m2-13h0m1 34h0m1-41h0m0 4h0m1-1h0m0 16h0m1-11h0m1 33h0m1-42h0m0 10h0m2 4h0m0 38h0m2-58h0m0 7h0m1 12h0m0 2h0m1-22h0m0 7h0m0 22h0m0 30h0m1-35h0m0 14h0m0 9h0m1-21h0m1-10h0m0 10h0m1-10h0m0 10h0m1 22h0m2-48h0m1-2h0m0 10h0m0 31h0m1-21h0m1-21h0m0 6h0m0 36h0m1-24h0m0 3h0m2-16h0m2 37h0m0 20h0m1-25h0m1-22h0m2-6h0m2-7h0m0 1h0m0 4h0m1-1h0m0 12h0m4-1h0m2-17h0m0 35h0m1-12h0m2-28h0m0 13h0m0 5h0m0 14h0m0 22h0m0 12h0m1-41h0m0 25h0m1-44h0m0 8h0m0 9h0m0 23h0m1-27h0m0 2h0m0 30h0m0 5h0m0 0h0m1 6h0m2-51h0m0 10h0m0 5h0m1-24h0m0 2h0m1 24h0m0 6h0m1-1h0m4-19h0m1 39h0m1 26h0m1-46h0m7-13h0m6 8h0" stroke="#d4a0b0" stroke-width="1.7" stroke-linecap="round"/><path transform="scale(.5)" d="M136 78h0m8 20h0m0 8h0m1-36h0m3 37h0m1 6h0m3-18h0m1-3h0m3-2h0m2-9h0m1 6h0m2-12h0m2 18h0m2-18h0m0 7h0m1 4h0m2 13h0m1-20h0m0 2h0m2 2h0m2 16h0m0 13h0m0 7h0m2-33h0m1 1h0m0 7h0m1 3h0m0 6h0m0 34h0m1-56h0m0 2h0m1 27h0m1-27h0m0 25h0m1-21h0m0 25h0m1-32h0m2 0h0m2 23h0m0 17h0m1-22h0m0 20h0m1-22h0m0 12h0m2-10h0m3-8h0m0 10h0m0 9h0m2 1h0m1-4h0m2-9h0" stroke="#8a78c0" stroke-width="1.7" stroke-linecap="round"/><path transform="scale(.5)" d="M146 88h0m0 2h0m7 20h0m1 2h0m6-19h0m1 5h0m0 12h0m2 16h0m1-40h0m1 3h0m0 5h0m2 17h0m1-38h0m0 11h0m1 4h0m0 1h0m4-13h0m0 43h0m1-31h0m0 12h0m0 23h0m2-49h0m3 17h0m0 8h0m0 36h0m1-52h0m0 6h0m0 16h0m1-23h0m1 5h0m0 17h0m0 8h0m2-23h0m0 12h0m0 12h0m2-28h0m0 8h0m3-1h0m0 4h0m0 4h0m0 10h0m2-19h0m0 6h0m0 24h0m2-29h0m2 1h0m0 3h0m1-5h0m0 10h0m5 13h0m2 14h0" stroke="#7a68b8" stroke-width="1.7" stroke-linecap="round"/><path transform="scale(.5)" d="M123 197h0m10 20h0m9-24h0m2 10h0m2 18h0m1-44h0m0 6h0m1 17h0m2-21h0m0 19h0m0 6h0m1-27h0m0 1h0m1 5h0m1 12h0m1-18h0m0 18h0m0 15h0m1-24h0m0 2h0m0 5h0m0 7h0m0 19h0m1-12h0m0 10h0m1-57h0m0 14h0m0 17h0m0 1h0m0 2h0m0 25h0m1-28h0m0 5h0m0 20h0m1-40h0m1-2h0m0 13h0m0 4h0m0 3h0m0 6h0m0 3h0m0 4h0m1-38h0m0 19h0m0 15h0m0 11h0m1-46h0m0 32h0m1-21h0m0 16h0m0 6h0m0 4h0m1-38h0m0 10h0m0 7h0m0 10h0m0 7h0m0 4h0m1-18h0m0 15h0m1-16h0m0 3h0m0 12h0m0 7h0m1-28h0m0 15h0m0 3h0m0 12h0m1-37h0m0 5h0m0 17h0m0 24h0m1-42h0m0 8h0m0 23h0m1-19h0m0 9h0m1-28h0m0 5h0m0 4h0m0 3h0m0 4h0m0 4h0m0 28h0m1-23h0m1-12h0m0 5h0m0 7h0m0 16h0m1-34h0m0 13h0m0 13h0m0 3h0m1-33h0m0 24h0m0 25h0m1-39h0m0 2h0m1-15h0m0 43h0m0 3h0m0 1h0m1-46h0m1 6h0m0 2h0m0 12h0m0 3h0m0 5h0m0 16h0m1-65h0m0 39h0m0 8h0m0 0h0m0 5h0m1-29h0m0 5h0m0 3h0m0 12h0m0 2h0m0 19h0m0 2h0m1-15h0m0 3h0m0 7h0m1-45h0m0 8h0m0 12h0m0 2h0m0 17h0m0 12h0m1-38h0m0 4h0m0 23h0m1-37h0m0 38h0m0 3h0m0 0h0m0 10h0m2-60h0m0 21h0m0 2h0m0 32h0m0 3h0m1-31h0m1-1h0m0 2h0m0 4h0m1-1h0m1-25h0m0 1h0m0 7h0m0 5h0m0 11h0m0 8h0m0 4h0m0 6h0m1-31h0m0 18h0m0 8h0m1-15h0m0 3h0m0 8h0m1-21h0m0 11h0m1-14h0m0 2h0m0 7h0m0 4h0m0 16h0m0 3h0m1-35h0m0 37h0m0 7h0m1-34h0m0 11h0m0 3h0m0 12h0m0 3h0m2-40h0m0 18h0m0 7h0m1-14h0m0 17h0m1 10h0m1-41h0m0 6h0m0 10h0m2 5h0m1 21h0m0 3h0m1-2h0m1-22h0m0 6h0m2-5h0m0 3h0m0 5h0m1-10h0m0 8h0m1 5h0m3-20h0m1 6h0m0 17h0m1-7h0m6-21h0m1 12h0" stroke="#9a4898" stroke-width="1.7" stroke-linecap="round"/><path transform="scale(.5)" d="M70 166h0m3-7h0m1 8h0m0 26h0m10-20h0m3-60h0m2 5h0m1 59h0m1-37h0m0 35h0m1-33h0m1-27h0m0 30h0m0 33h0m1-20h0m0 4h0m1 12h0m0 2h0m0 3h0m0 7h0m1-19h0m1-28h0m0 23h0m1-5h0m0 2h0m0 2h0m0 10h0m0 16h0m0 1h0m1-46h0m0 7h0m0 36h0m0 12h0m2 24h0m1-98h0m0 33h0m0 10h0m0 5h0m0 12h0m0 3h0m1-38h0m1 5h0m0 10h0m0 9h0m1 6h0m0 7h0m1-25h0m1-65h0m0 48h0m0 20h0m1-39h0m0 55h0m0 7h0m1-50h0m0 19h0m0 20h0m0 5h0m0 26h0m1-67h0m0 29h0m0 1h0m0 31h0m1-52h0m0 19h0m0 14h0m1-39h0m0 42h0m1-36h0m0 33h0m0 33h0m1-48h0m0 16h0m1-42h0m0 11h0m0 49h0m1-29h0m0 21h0m1-25h0m0 2h0m0 21h0m1-27h0m0 1h0m1 1h0m0 6h0m0 1h0m0 5h0m0 2h0m1-56h0m0 26h0m1-2h0m0 18h0m1-30h0m0 12h0m1 2h0m0 7h0m0 30h0m1-58h0m0 6h0m0 16h0m0 3h0m0 18h0m0 33h0m1-68h0m0 20h0m0 6h0m0 6h0m0 5h0m0 11h0m0 9h0m1-35h0m0 9h0m0 2h0m0 11h0m0 24h0m1-47h0m0 16h0m0 22h0m1-56h0m0 12h0m0 2h0m0 10h0m1-48h0m0 25h0m0 8h0m0 6h0m0 6h0m0 15h0m1-77h0m0 54h0m0 13h0m0 19h0m1-40h0m0 22h0m0 4h0m0 2h0m1-34h0m0 20h0m0 9h0m0 8h0m0 9h0m0 4h0m0 5h0m1-33h0m0 46h0m1-62h0m0 3h0m1 9h0m1-24h0m0 29h0m0 8h0m0 20h0m1-71h0m0 29h0m0 1h0m0 6h0m1 20h0m1-11h0m1-26h0m0 19h0m0 12h0m1-17h0m0 12h0m0 21h0m0 3h0m1-44h0m0 16h0m2-2h0m0 6h0m0 10h0m0 19h0m1-38h0m0 7h0m0 20h0m0 8h0m1-37h0m0 36h0m2-37h0m0 22h0m2-23h0m0 24h0m1-27h0m0 15h0m0 5h0m0 5h0m1 28h0m1-47h0m1-4h0m0 18h0m1-16h0m0 19h0m0 45h0m1-50h0m0 15h0m1-45h0m6-4h0m0 32h0m0 20h0m8-4h0m1-25h0m5-9h0m5 32h0m4 18h0m1-61h0" stroke="#c86878" stroke-width="1.7" stroke-linecap="round"/><path transform="scale(.5)" d="M88 108h0m0 35h0m2-29h0m1-5h0m10 20h0m2-34h0m3 16h0m3-16h0m1-10h0m0 27h0m1-24h0m1 16h0m0 7h0m1-25h0m0 60h0m1-48h0m0 2h0m1-13h0m1 25h0m1-24h0m0 5h0m1 1h0m1 21h0m0 7h0m0 2h0m4-41h0m0 18h0m1 1h0m3 22h0m1-53h0m0 55h0m1-30h0m1-5h0m0 17h0m0 5h0m1-20h0m0 35h0m1-7h0m1-52h0m1 37h0m1-4h0m2 21h0m1-54h0m0 39h0m1-6h0m1-31h0m1 24h0m0 2h0m1-1h0m0 5h0m0 5h0m0 31h0m1-59h0m0 8h0m0 37h0m1-54h0m0 7h0m1 28h0m1-27h0m0 58h0m1-41h0m0 53h0m1-80h0m1 55h0m2-44h0m0 39h0m1-43h0m0 18h0m1 2h0m1 26h0m1-18h0m0 17h0m2-28h0m0 3h0m0 5h0m1-7h0m1 14h0m2-7h0m0 20h0m1-15h0m0 21h0m0 8h0m2-4h0m2-28h0m2 27h0m1 6h0m1-34h0m1 2h0m0 13h0m1-30h0m5 21h0m0 26h0m5-47h0m7 39h0m29 21h0" stroke="#c090a8" stroke-width="1.7" stroke-linecap="round"/><path transform="scale(.5)" d="M68 164h0m0 9h0m1-17h0m0 9h0m0 12h0m1-16h0m0 7h0m0 7h0m0 9h0m1-19h0m1-3h0m1 27h0m1-36h0m0 16h0m0 19h0m1-34h0m0 29h0m1-25h0m0 15h0m0 3h0m1-20h0m0 12h0m0 6h0m0 1h0m0 4h0m0 3h0m0 15h0m1-36h0m0 2h0m0 7h0m1-36h0m0 37h0m0 21h0m1-17h0m0 8h0m0 4h0m1-10h0m0 2h0m0 8h0m0 0h0m1-42h0m0 1h0m0 13h0m0 20h0m0 15h0m1-39h0m0 1h0m0 9h0m0 11h0m0 25h0m1-67h0m0 23h0m0 14h0m0 16h0m1-36h0m0 3h0m0 18h0m0 8h0m1-12h0m0 9h0m0 9h0m0 12h0m1-48h0m0 7h0m0 10h0m0 10h0m1-25h0m0 5h0m0 14h0m0 11h0m0 7h0m1-35h0m0 13h0m0 5h0m0 7h0m1-29h0m0 3h0m0 8h0m0 2h0m0 6h0m0 4h0m0 1h0m0 24h0m1-61h0m0 8h0m0 25h0m0 7h0m1-4h0m0 2h0m0 15h0m0 5h0m1-42h0m0 5h0m0 3h0m0 20h0m0 25h0m1-60h0m1 18h0m0 5h0m0 19h0m0 4h0m1-34h0m0 3h0m0 30h0m1-35h0m0 4h0m1 8h0m0 11h0m1 24h0m2-60h0m0 5h0m0 11h0m1 3h0m1 1h0m0 15h0m0 13h0m1-12h0m0 9h0m1-40h0m0 22h0m1 7h0m2-12h0m2 26h0m1-44h0m1 27h0m0 8h0m5-7h0m1-19h0m4 18h0m1 6h0" stroke="#c8c040" stroke-width="1.7" stroke-linecap="round"/><path transform="scale(.5)" d="M81 144h0m0 2h0m3 61h0m3-28h0m3-2h0m0 8h0m1-7h0m1-22h0m0 10h0m0 22h0m2-34h0m1-4h0m0 18h0m1-32h0m0 12h0m0 23h0m0 1h0m1 11h0m0 3h0m1-46h0m0 16h0m0 20h0m1-15h0m0 8h0m1-26h0m0 13h0m0 9h0m0 28h0m1-41h0m0 6h0m1-17h0m0 60h0m1-83h0m0 77h0m1-49h0m0 27h0m1-40h0m0 33h0m0 0h0m1-33h0m0 31h0m0 6h0m0 12h0m1-34h0m0 21h0m0 10h0m1-17h0m0 16h0m0 13h0m1-34h0m0 6h0m0 8h0m1-40h0m0 29h0m1-18h0m0 42h0m1-25h0m0 7h0m0 1h0m0 24h0m1-55h0m0 7h0m1-14h0m0 26h0m0 12h0m0 7h0m0 3h0m1-44h0m0 3h0m0 8h0m0 10h0m0 1h0m0 10h0m1-1h0m0 3h0m0 12h0m0 15h0m0 11h0m1-47h0m0 5h0m0 3h0m1-22h0m0 16h0m0 2h0m0 4h0m1-18h0m0 6h0m0 34h0m0 21h0m1-70h0m0 18h0m0 8h0m1-21h0m0 6h0m0 2h0m0 14h0m0 12h0m0 20h0m1-3h0m1-19h0m0 2h0m0 4h0m1-56h0m0 32h0m0 9h0m0 2h0m0 2h0m1-42h0m0 23h0m0 13h0m0 13h0m0 10h0m1-8h0m0 2h0m0 21h0m1-51h0m1-23h0m0 8h0m0 2h0m0 6h0m0 5h0m0 16h0m0 6h0m0 4h0m0 1h0m1-35h0m0 38h0m1-7h0m1-19h0m0 26h0m0 15h0m1-56h0m0 15h0m1 32h0m1-51h0m0 31h0m0 27h0m1-46h0m0 15h0m0 29h0m1-35h0m0 18h0m0 2h0m0 24h0m1-45h0m0 14h0m1 7h0m0 4h0m1 12h0m0 4h0m1-44h0m0 5h0m0 14h0m0 19h0m0 8h0m1-62h0m0 19h0m0 29h0m0 7h0m0 14h0m1-84h0m0 23h0m0 25h0m0 1h0m1 5h0m1-13h0m0 11h0m1-4h0m0 6h0m0 18h0m1-53h0m0 26h0m0 13h0m0 17h0m1-39h0m0 58h0m1-89h0m0 17h0m0 45h0m0 13h0m1-3h0m1-66h0m0 6h0m0 3h0m0 27h0m1 8h0m0 12h0m1-41h0m0 32h0m0 1h0m1-25h0m0 11h0m0 22h0m1 1h0m0 21h0m1-60h0m1-9h0m0 6h0m1-2h0m0 19h0m2 5h0m0 16h0m2-28h0m0 8h0m1-15h0m0 63h0m4-68h0m0 38h0m2-14h0m0 4h0m1-14h0m0 16h0m0 37h0m7-57h0m14 19h0m10-29h0" stroke="#e09088" stroke-width="1.7" stroke-linecap="round"/><path transform="scale(.5)" d="M143 133h0m4 44h0m1-16h0m2-37h0m3 5h0m0 57h0m2-47h0m3-19h0m0 44h0m1-45h0m0 16h0m0 11h0m0 5h0m0 6h0m2-10h0m0 28h0m1-27h0m0 0h0m1-28h0m1 13h0m0 3h0m2-44h0m1 39h0m1 12h0m1-6h0m0 12h0m1-23h0m0 6h0m0 26h0m1-28h0m0 30h0m0 7h0m1-38h0m0 10h0m0 8h0m0 22h0m0 16h0m0 3h0m1-34h0m1-26h0m0 4h0m0 23h0m0 12h0m1-55h0m1-2h0m0 7h0m0 22h0m0 14h0m0 33h0m1-48h0m1-16h0m0 30h0m0 11h0m1-38h0m0 3h0m0 19h0m0 6h0m0 1h0m1-31h0m0 6h0m0 14h0m0 15h0m0 15h0m1-49h0m0 16h0m0 2h0m0 8h0m0 4h0m0 4h0m0 24h0m1-85h0m0 13h0m0 15h0m0 11h0m0 2h0m0 2h0m0 7h0m0 6h0m0 19h0m0 4h0m1-52h0m0 12h0m0 12h0m0 4h0m0 14h0m1-24h0m0 1h0m0 7h0m0 1h0m0 16h0m1-58h0m0 2h0m0 35h0m0 3h0m0 17h0m1-26h0m0 6h0m0 9h0m0 24h0m1-11h0m0 10h0m1-67h0m0 2h0m0 9h0m0 6h0m0 2h0m0 1h0m0 15h0m1-27h0m0 16h0m0 5h0m0 1h0m1-47h0m0 18h0m0 7h0m0 10h0m0 2h0m0 30h0m1-27h0m0 23h0m0 15h0m1-40h0m0 2h0m0 5h0m0 9h0m0 5h0m0 8h0m1-62h0m0 15h0m0 4h0m0 4h0m0 10h0m0 8h0m0 8h0m0 5h0m0 4h0m0 5h0m0 22h0m1-66h0m0 21h0m0 11h0m0 9h0m0 7h0m1-40h0m0 23h0m0 10h0m1-38h0m0 9h0m0 8h0m0 4h0m0 4h0m0 1h0m1-28h0m0 9h0m0 12h0m0 5h0m0 24h0m1-42h0m0 5h0m0 9h0m0 9h0m0 4h0m0 26h0m0 7h0m1-77h0m0 6h0m0 1h0m0 6h0m0 3h0m0 5h0m0 6h0m0 8h0m0 15h0m0 14h0m1-60h0m0 7h0m0 6h0m0 3h0m0 19h0m0 10h0m1-52h0m0 20h0m0 14h0m0 23h0m1-36h0m0 11h0m0 31h0m1-60h0m0 6h0m0 18h0m0 14h0m0 3h0m0 2h0m0 4h0m0 6h0m0 14h0m1-67h0m0 14h0m0 46h0m0 2h0m1-46h0m0 49h0m1-31h0m0 8h0m0 5h0m0 1h0m0 13h0m1-58h0m0 8h0m0 5h0m0 15h0m0 20h0m0 8h0m1-37h0m0 4h0m0 6h0m0 19h0m0 5h0m0 8h0m0 3h0m0 20h0m1-66h0m0 14h0m0 1h0m0 3h0m0 3h0m0 21h0m0 18h0m1-40h0m0 7h0m0 5h0m0 15h0m0 6h0m1-53h0m0 4h0m0 2h0m0 2h0m0 14h0m0 8h0m0 17h0m0 1h0m1-51h0m0 6h0m0 16h0m0 6h0m0 17h0m0 13h0m1-48h0m0 3h0m0 13h0m0 4h0m0 7h0m0 2h0m0 2h0m0 0h0m0 1h0m0 5h0m0 3h0m0 21h0m1-73h0m0 2h0m0 17h0m0 0h0m0 4h0m0 2h0m0 5h0m0 6h0m0 11h0m1-32h0m0 4h0m0 4h0m0 12h0m0 4h0m0 13h0m1-51h0m0 2h0m0 1h0m0 16h0m0 33h0m1-22h0m0 1h0m0 17h0m0 1h0m0 4h0m0 2h0m0 4h0m1-50h0m0 12h0m0 27h0m1-47h0m0 3h0m0 9h0m0 11h0m0 12h0m0 14h0m0 2h0m1-30h0m0 14h0m1-30h0m0 5h0m0 4h0m0 17h0m0 9h0m0 7h0m0 11h0m1-44h0m0 10h0m0 3h0m0 5h0m0 3h0m0 3h0m0 16h0m1-36h0m0 29h0m0 2h0m1-36h0m0 11h0m0 7h0m0 1h0m0 14h0m0 1h0m0 4h0m1-41h0m0 4h0m0 3h0m0 7h0m0 10h0m0 25h0m1-37h0m0 11h0m0 11h0m0 5h0m0 9h0m1-39h0m0 2h0m0 20h0m0 6h0m0 5h0m0 6h0m1-27h0m0 3h0m0 16h0m1-20h0m0 2h0m0 11h0m1-15h0m1-7h0m0 4h0m0 3h0m0 1h0m0 1h0m0 3h0m0 1h0m0 6h0m0 6h0m0 1h0m1-14h0m0 5h0m0 5h0m0 1h0m1-17h0m0 2h0m0 6h0m1-1h0m0 4h0m0 9h0m0 3h0m1-17h0m0 10h0m0 0h0m1 2h0" stroke="#3c3c98" stroke-width="1.7" stroke-linecap="round"/><path transform="scale(.5)" d="M91 105h0m8-5h0m7 39h0m7-59h0m1 2h0m0 41h0m1-35h0m2 52h0m1-34h0m1-29h0m0 6h0m0 38h0m3-32h0m0 10h0m1 10h0m1-7h0m2-32h0m0 14h0m0 18h0m2-30h0m0 3h0m0 52h0m1-45h0m0 3h0m0 17h0m2-12h0m0 4h0m0 12h0m1-2h0m1 15h0m3-29h0m3-1h0m0 19h0m1 42h0m1-64h0m0 12h0m1-30h0m1 21h0m1 24h0m1-33h0m0 15h0m1 21h0m1-47h0m0 4h0m0 22h0m1-1h0m0 6h0m3-27h0m0 6h0m0 36h0m1-35h0m0 18h0m0 9h0m0 2h0m5-32h0m0 3h0m1 23h0m1-5h0m0 4h0m1-9h0m1-16h0m1-3h0m0 5h0m0 27h0m0 1h0m0 9h0m1 11h0m2-45h0m2-9h0m0 19h0m4-11h0m2 24h0m2 16h0m2-13h0m5-16h0m1 0h0m2 6h0m1 38h0m7-34h0" stroke="#c88898" stroke-width="1.7" stroke-linecap="round"/><path transform="scale(.5)" d="M73 144h0m4 28h0m4-17h0m4-5h0m0 24h0m1 14h0m1-67h0m0 11h0m1 53h0m2-3h0m2-25h0m2 1h0m0 15h0m3-19h0m0 13h0m3-37h0m2 15h0m0 49h0m1-18h0m1-24h0m0 10h0m1 14h0m1-27h0m0 7h0m0 9h0m0 18h0m1-46h0m0 35h0m1-26h0m1 17h0m1-7h0m0 14h0m1-38h0m0 45h0m0 5h0m1-58h0m0 25h0m0 21h0m0 13h0m0 6h0m1-33h0m0 6h0m0 1h0m0 8h0m0 24h0m1-45h0m0 41h0m1-55h0m1-13h0m0 12h0m0 12h0m0 8h0m0 26h0m1-11h0m0 14h0m1-43h0m0 1h0m0 8h0m1 1h0m0 5h0m1-26h0m0 5h0m0 16h0m0 10h0m0 16h0m0 7h0m0 12h0m0 17h0m1-57h0m0 20h0m0 11h0m1-50h0m0 4h0m0 27h0m1-21h0m0 38h0m1-48h0m1 22h0m0 1h0m0 11h0m1-34h0m0 27h0m0 22h0m1-55h0m0 48h0m0 18h0m0 10h0m0 6h0m1-75h0m0 21h0m0 1h0m0 5h0m0 14h0m0 5h0m1-49h0m0 21h0m0 6h0m0 7h0m0 9h0m0 10h0m1-65h0m0 35h0m0 28h0m0 3h0m1-48h0m0 9h0m0 18h0m0 3h0m0 33h0m1-54h0m0 14h0m0 17h0m0 10h0m0 11h0m2-67h0m0 34h0m0 8h0m1-28h0m0 4h0m0 11h0m1-15h0m1 8h0m1-7h0m0 13h0m0 3h0m0 12h0m1-9h0m0 3h0m0 6h0m1-47h0m0 28h0m0 27h0m0 23h0m1-70h0m0 8h0m0 34h0m0 31h0m1-52h0m0 22h0m1 21h0m0 9h0m1-56h0m0 14h0m1-40h0m0 37h0m0 8h0m1-29h0m0 1h0m0 43h0m1-41h0m0 2h0m0 19h0m0 29h0m1-77h0m0 18h0m0 17h0m1 5h0m1-18h0m0 16h0m0 4h0m1 3h0m1-28h0m1 35h0m1-5h0m1-22h0m0 37h0m1-46h0m0 39h0m1-27h0m0 19h0m1 35h0m1-52h0m0 34h0m2-32h0m1-14h0m2-31h0m0 42h0m10 13h0m2 42h0" stroke="#b86080" stroke-width="1.7" stroke-linecap="round"/><path transform="scale(.5)" d="M127 205h0m14-9h0m3-12h0m0 15h0m2-7h0m0 20h0m1-11h0m1-10h0m2 21h0m1-27h0m0 5h0m0 19h0m0 8h0m1-21h0m0 11h0m0 5h0m1-35h0m0 5h0m1-24h0m0 31h0m0 7h0m0 16h0m1-30h0m1 0h0m0 18h0m1-7h0m1-11h0m0 7h0m0 14h0m0 10h0m1-21h0m0 5h0m0 8h0m1-2h0m0 2h0m0 3h0m1-11h0m0 3h0m1-17h0m0 14h0m0 21h0m1-40h0m0 14h0m1-15h0m0 4h0m0 7h0m0 3h0m0 3h0m0 2h0m1 3h0m1-35h0m0 16h0m0 17h0m1-8h0m0 27h0m1-47h0m0 11h0m0 18h0m0 2h0m0 3h0m0 14h0m1-64h0m0 10h0m0 25h0m0 8h0m1 0h0m0 14h0m0 5h0m1-52h0m0 45h0m1-42h0m0 17h0m0 14h0m0 3h0m0 5h0m1-46h0m0 31h0m0 9h0m1-31h0m0 8h0m0 12h0m0 2h0m0 4h0m0 1h0m0 6h0m0 3h0m0 2h0m1-45h0m0 13h0m0 8h0m1-13h0m0 10h0m0 19h0m0 22h0m1-20h0m1-22h0m0 2h0m0 6h0m0 1h0m0 21h0m0 5h0m1-48h0m0 7h0m0 10h0m0 3h0m0 1h0m0 23h0m0 12h0m1-41h0m0 27h0m1-21h0m0 1h0m0 11h0m0 10h0m1-33h0m0 8h0m0 5h0m1 32h0m1-28h0m0 3h0m0 8h0m0 0h0m0 21h0m2-54h0m0 11h0m0 6h0m0 32h0m1-37h0m0 6h0m0 6h0m0 4h0m1-6h0m0 5h0m0 3h0m1-36h0m0 10h0m0 10h0m0 10h0m0 15h0m0 2h0m1-28h0m1 7h0m1-53h0m0 40h0m0 5h0m0 12h0m1 7h0m0 16h0m1-60h0m0 37h0m0 1h0m1 22h0m1-15h0m2-12h0m0 13h0m1-41h0m0 39h0m0 1h0m0 9h0m1-30h0m0 2h0m0 10h0m0 16h0m1-9h0m1-3h0m0 5h0m0 7h0m1-29h0m0 25h0m0 3h0m1-1h0m1-30h0m1 21h0m2-2h0m0 15h0m0 2h0m1-26h0m0 15h0m2-31h0m0 23h0m1-31h0m2 18h0m0 18h0m5-3h0m3-16h0m3-3h0m1-6h0m2 17h0" stroke="#7a3aa0" stroke-width="1.7" stroke-linecap="round"/><path transform="scale(.5)" d="M67 166h0m1-5h0m1 2h0m0 3h0m1 19h0m1-31h0m0 9h0m0 9h0m0 8h0m0 7h0m1-30h0m0 20h0m1 3h0m1-15h0m0 16h0m1-16h0m0 7h0m0 2h0m0 17h0m1-41h0m0 5h0m0 3h0m0 12h0m0 0h0m0 2h0m0 24h0m1-45h0m0 8h0m0 8h0m0 3h0m0 6h0m0 1h0m0 8h0m0 1h0m0 3h0m1-44h0m0 2h0m0 5h0m0 2h0m0 4h0m0 6h0m0 8h0m0 3h0m0 3h0m0 8h0m0 13h0m1-74h0m0 7h0m0 14h0m0 4h0m0 12h0m0 6h0m0 3h0m0 7h0m0 1h0m0 1h0m0 13h0m1-39h0m0 9h0m0 3h0m0 1h0m1-4h0m0 1h0m0 18h0m1-16h0m0 1h0m0 4h0m0 3h0m0 7h0m1-27h0m0 5h0m0 17h0m0 6h0m0 25h0m1-61h0m0 11h0m0 8h0m0 7h0m0 3h0m0 5h0m1-18h0m0 5h0m0 10h0m0 3h0m0 2h0m1-27h0m0 7h0m0 2h0m0 25h0m1-46h0m0 21h0m0 11h0m1-46h0m0 30h0m0 2h0m0 3h0m0 10h0m0 2h0m0 2h0m1-45h0m0 15h0m0 16h0m0 7h0m1-16h0m0 15h0m0 21h0m1-47h0m0 16h0m0 7h0m0 1h0m1-34h0m0 17h0m0 34h0m0 7h0m0 12h0m1-40h0m0 8h0m1-7h0m0 5h0m0 1h0m0 0h0m0 10h0m1-10h0m0 25h0m1-30h0m0 12h0m0 0h0m1 17h0m1-21h0m1 17h0m2-32h0m0 29h0m1-38h0m0 22h0m0 2h0m1-16h0m0 25h0m1-1h0m1-14h0m0 6h0m0 13h0m1 7h0m1-28h0m0 1h0m0 8h0m1-31h0m1 22h0m1 16h0m3 27h0m2-38h0m1-9h0m0 18h0m1-30h0m11 28h0" stroke="#d0b040" stroke-width="1.7" stroke-linecap="round"/><path transform="scale(.5)" d="M140 168h0m7-30h0m0 32h0m2-42h0m3 21h0m2-4h0m1 8h0m2-12h0m2-14h0m0 14h0m3-20h0m0 20h0m1 17h0m1-8h0m0 15h0m1-33h0m0 17h0m0 31h0m1-45h0m0 8h0m0 7h0m1-28h0m1 13h0m0 9h0m0 14h0m1-36h0m0 6h0m0 5h0m0 6h0m0 2h0m0 16h0m1-54h0m0 43h0m0 26h0m1-66h0m0 43h0m0 2h0m1 0h0m1-62h0m0 39h0m0 6h0m0 2h0m0 4h0m1-24h0m0 11h0m0 4h0m0 6h0m0 12h0m0 7h0m2-41h0m0 17h0m0 33h0m1-39h0m1-3h0m0 26h0m0 17h0m1-14h0m1-22h0m0 14h0m0 9h0m0 16h0m2-51h0m0 14h0m0 10h0m1 12h0m0 3h0m0 1h0m0 4h0m1-62h0m0 19h0m0 7h0m0 2h0m0 6h0m0 14h0m0 29h0m1-51h0m0 5h0m0 4h0m0 22h0m0 1h0m0 3h0m0 3h0m0 18h0m1-71h0m0 14h0m0 8h0m0 5h0m0 6h0m0 8h0m1-27h0m0 19h0m0 7h0m0 3h0m0 12h0m0 11h0m1-61h0m0 28h0m0 6h0m0 1h0m1-46h0m0 16h0m0 15h0m0 11h0m0 2h0m1-21h0m0 2h0m0 3h0m0 21h0m0 5h0m0 2h0m0 2h0m1-43h0m0 3h0m0 19h0m1-49h0m0 12h0m0 19h0m0 12h0m0 8h0m0 7h0m0 18h0m1-78h0m0 15h0m0 17h0m0 7h0m0 14h0m0 8h0m0 8h0m0 9h0m1-45h0m0 9h0m0 13h0m0 5h0m0 1h0m0 3h0m0 12h0m1-47h0m0 23h0m0 3h0m0 21h0m0 4h0m0 11h0m1-46h0m0 13h0m0 7h0m0 14h0m0 3h0m0 7h0m1-80h0m0 12h0m0 10h0m0 10h0m0 6h0m0 9h0m0 21h0m0 0h0m0 24h0m1-62h0m0 25h0m0 4h0m0 1h0m0 7h0m0 12h0m2-45h0m0 2h0m0 2h0m0 1h0m0 3h0m0 10h0m0 15h0m1-50h0m0 7h0m0 25h0m0 6h0m0 2h0m1-43h0m0 11h0m0 22h0m0 3h0m0 1h0m0 9h0m0 1h0m1-38h0m0 3h0m0 1h0m0 13h0m0 2h0m0 1h0m0 15h0m0 5h0m0 1h0m1-53h0m0 26h0m0 6h0m0 10h0m0 7h0m0 8h0m0 5h0m0 6h0m0 4h0m1-53h0m0 11h0m0 1h0m0 19h0m0 2h0m0 9h0m1-54h0m0 3h0m0 2h0m0 8h0m0 16h0m0 9h0m0 5h0m0 3h0m1-46h0m0 6h0m0 19h0m0 7h0m0 4h0m0 0h0m0 0h0m0 24h0m1-59h0m0 37h0m0 3h0m0 4h0m0 25h0m1-63h0m0 3h0m0 10h0m0 5h0m0 10h0m0 17h0m1-41h0m0 13h0m0 3h0m0 6h0m0 25h0m0 12h0m0 4h0m1-73h0m0 2h0m0 1h0m0 4h0m0 3h0m0 1h0m0 4h0m0 9h0m0 12h0m0 1h0m0 3h0m0 3h0m0 3h0m0 1h0m0 2h0m0 0h0m0 11h0m1-53h0m0 19h0m0 2h0m0 29h0m0 11h0m1-49h0m0 19h0m0 6h0m0 16h0m1-55h0m0 8h0m0 7h0m0 12h0m0 20h0m1-35h0m0 15h0m0 11h0m0 8h0m1-16h0m0 2h0m0 2h0m0 1h0m0 3h0m0 7h0m0 1h0m0 2h0m0 10h0m1-40h0m0 24h0m0 4h0m0 1h0m1-38h0m0 8h0m0 11h0m0 1h0m0 2h0m0 1h0m0 6h0m0 1h0m0 6h0m0 4h0m0 3h0m1-46h0m0 21h0m0 5h0m0 6h0m0 4h0m0 6h0m1-35h0m0 4h0m0 6h0m0 1h0m0 3h0m0 5h0m0 6h0m0 4h0m0 1h0m1-35h0m0 11h0m0 7h0m0 21h0m0 2h0m0 14h0m1-39h0m0 7h0m0 3h0m0 3h0m0 3h0m0 4h0m0 6h0m0 5h0m1-39h0m0 9h0m0 6h0m0 3h0m0 5h0m0 4h0m0 5h0m1-16h0m0 13h0m0 6h0m0 3h0m0 3h0m1-38h0m0 10h0m0 7h0m0 5h0m0 1h0m0 17h0m1-12h0m0 1h0m0 2h0m0 2h0m1-25h0m0 23h0m0 6h0m0 7h0m1-27h0m0 3h0m0 3h0m0 3h0m0 2h0m0 12h0m1-29h0m0 24h0m1-29h0m0 4h0m0 10h0m0 11h0m0 1h0m0 4h0m1 5h0m1-16h0m0 8h0m1 3h0m1-22h0m0 2h0m0 10h0m0 2h0m1-10h0m0 8h0m0 6h0m0 3h0m1-12h0m0 4h0m0 6h0" stroke="#303080" stroke-width="1.7" stroke-linecap="round"/><path transform="scale(.5)" d="M153 95h0m1 5h0m1 14h0m1-9h0m1-27h0m1 8h0m1 29h0m1-6h0m0 19h0m3-51h0m1 4h0m1-1h0m0 13h0m0 28h0m1-14h0m1-25h0m1 32h0m1-42h0m1 6h0m0 12h0m0 1h0m0 1h0m1 6h0m2 23h0m1-25h0m0 6h0m2-19h0m1-3h0m0 9h0m0 12h0m0 31h0m1-40h0m0 17h0m1-24h0m0 9h0m0 19h0m1-27h0m0 9h0m1-7h0m0 8h0m3-16h0m0 2h0m0 10h0m2-3h0m0 3h0m1-1h0m1-1h0m0 5h0m1 1h0m0 11h0m1-3h0m1-9h0m0 44h0m1-47h0m2 2h0m0 8h0m2 9h0m0 7h0m2-16h0m4 21h0m3-13h0m2 18h0" stroke="#9080c0" stroke-width="1.7" stroke-linecap="round"/><path transform="scale(.5)" d="M134 129h0m10 14h0m4-6h0m1 2h0m3-8h0m0 10h0m0 2h0m1 8h0m3 12h0m1-21h0m3-4h0m0 45h0m1-21h0m1-26h0m0 2h0m0 8h0m0 8h0m1-11h0m0 8h0m0 16h0m1-59h0m2 40h0m1-11h0m2-36h0m0 5h0m0 8h0m1 3h0m0 23h0m0 1h0m0 7h0m1-47h0m0 10h0m0 8h0m0 22h0m0 2h0m0 1h0m0 6h0m2-18h0m0 14h0m1-55h0m0 48h0m0 8h0m0 13h0m0 15h0m1-61h0m0 11h0m0 10h0m0 23h0m1-60h0m0 9h0m0 12h0m0 22h0m0 2h0m0 2h0m1-33h0m0 18h0m0 18h0m0 8h0m0 14h0m0 8h0m1-67h0m0 17h0m0 5h0m0 3h0m0 22h0m1-42h0m0 23h0m0 3h0m0 20h0m1-34h0m1-17h0m0 20h0m0 6h0m0 37h0m1-76h0m0 20h0m0 7h0m1-32h0m0 27h0m0 6h0m0 2h0m0 27h0m1-38h0m0 0h0m0 13h0m0 16h0m1-30h0m0 4h0m0 9h0m0 4h0m0 10h0m1-25h0m0 3h0m0 20h0m0 8h0m0 4h0m0 8h0m0 38h0m1-85h0m0 3h0m0 16h0m0 4h0m0 2h0m0 9h0m0 9h0m1-45h0m0 16h0m0 9h0m0 6h0m0 1h0m0 5h0m0 20h0m1-57h0m0 17h0m0 3h0m0 5h0m0 15h0m0 4h0m1-24h0m0 14h0m0 11h0m1-43h0m0 9h0m0 21h0m1-24h0m0 37h0m0 3h0m0 20h0m1-68h0m0 1h0m0 24h0m0 5h0m0 37h0m1-44h0m0 1h0m0 9h0m1-43h0m0 10h0m0 4h0m0 6h0m0 5h0m0 8h0m0 3h0m0 9h0m0 7h0m0 11h0m0 9h0m1-70h0m0 5h0m0 13h0m0 11h0m0 10h0m0 8h0m0 11h0m0 3h0m0 10h0m1-61h0m0 6h0m0 2h0m0 15h0m0 2h0m0 5h0m0 15h0m0 4h0m0 19h0m1-49h0m0 1h0m0 14h0m0 54h0m1-69h0m0 7h0m0 5h0m0 8h0m0 4h0m1-29h0m0 15h0m0 10h0m1-32h0m0 4h0m0 4h0m0 3h0m0 3h0m0 2h0m0 4h0m0 5h0m0 1h0m0 3h0m0 15h0m1-43h0m0 10h0m0 5h0m0 7h0m0 3h0m0 18h0m1-20h0m0 16h0m0 24h0m1-50h0m0 30h0m0 1h0m0 0h0m1-50h0m0 13h0m0 3h0m0 2h0m0 4h0m0 8h0m0 4h0m0 5h0m0 3h0m1-35h0m0 14h0m0 9h0m0 8h0m0 14h0m1-34h0m0 46h0m1-40h0m0 5h0m1-19h0m0 9h0m0 1h0m0 3h0m0 26h0m0 5h0m1-30h0m1 12h0m1-19h0m0 11h0m1-22h0m0 8h0m0 22h0m1-20h0m0 18h0m1-21h0m0 17h0m1-11h0m1-10h0m0 23h0m0 12h0m1-10h0m0 8h0m1 21h0m1-33h0m0 7h0m0 1h0m0 7h0m1-4h0m2-20h0m1 1h0m1 25h0m0 13h0m1-31h0m0 7h0m0 7h0m0 5h0m2-18h0m0 5h0m2 15h0" stroke="#28286a" stroke-width="1.7" stroke-linecap="round"/><g clip-path="url(#cptvc)" filter="url(#blur2)" opacity="0.45"><ellipse cx="177" cy="44" rx="10.4" ry="10.4" fill="#d88858" fill-opacity="0.95"/><ellipse cx="166" cy="50" rx="4.55" ry="4.55" fill="#c8c050" fill-opacity="0.9"/><ellipse cx="197" cy="47" rx="10.4" ry="10.4" fill="#9050a0" fill-opacity="0.9"/><ellipse cx="209" cy="53" rx="7.8" ry="7.8" fill="#6050a8" fill-opacity="0.8"/><ellipse cx="156" cy="70" rx="7.8" ry="7.8" fill="#d0d890" fill-opacity="0.5"/><ellipse cx="157" cy="88" rx="7.8" ry="7.8" fill="#d0d890" fill-opacity="0.45"/><ellipse cx="190" cy="86" rx="9.1" ry="9.1" fill="#d0b0d8" fill-opacity="0.4"/><ellipse cx="176" cy="80" rx="11.7" ry="11.7" fill="#f0e4e0" fill-opacity="0.15"/><ellipse cx="217" cy="74" rx="13" ry="13" fill="#a0a0d0" fill-opacity="0.45"/><ellipse cx="226" cy="88" rx="7.8" ry="7.8" fill="#a0a0d0" fill-opacity="0.45"/><ellipse cx="173" cy="106" rx="10.4" ry="10.4" fill="#e0b090" fill-opacity="0.6"/><ellipse cx="216" cy="99" rx="11.7" ry="11.7" fill="#e0b090" fill-opacity="0.55"/><ellipse cx="195" cy="107" rx="13" ry="13" fill="#ecc8b0" fill-opacity="0.35"/></g><path transform="scale(.5)" d="M389 144h0m1 8h0m1-3h0m2 25h0m1-17h0m3-25h0m0 3h0m0 25h0m4 7h0m2-62h0m0 47h0m1 17h0m1-47h0m0 2h0m2 58h0m1-48h0m0 14h0m1 6h0m0 15h0m1-44h0m0 48h0m0 12h0m1-79h0m0 44h0m0 18h0m1-1h0m1-56h0m0 30h0m1-15h0m0 7h0m0 6h0m1 10h0m1-1h0m0 11h0m1-39h0m0 32h0m1-5h0m0 4h0m0 14h0m0 24h0m2-39h0m2 8h0m1-10h0m0 15h0m1-51h0m0 28h0m0 5h0m1-8h0m0 13h0m0 4h0m0 43h0m1-25h0m0 6h0m0 7h0m1-37h0m0 32h0m1-49h0m0 16h0m0 24h0m0 11h0m1-47h0m0 51h0m1-70h0m0 15h0m0 11h0m0 19h0m0 9h0m0 7h0m1-23h0m0 3h0m0 12h0m1-37h0m0 5h0m0 6h0m0 9h0m1-3h0m0 27h0m1-42h0m0 24h0m0 2h0m0 15h0m0 4h0m1-53h0m0 43h0m1-17h0m0 5h0m0 18h0m1-21h0m1-35h0m0 24h0m0 20h0m0 6h0m0 1h0m0 35h0m1-96h0m0 20h0m0 42h0m1-54h0m0 17h0m1 26h0m0 22h0m0 19h0m0 1h0m1-90h0m0 26h0m0 11h0m0 11h0m0 6h0m0 6h0m0 13h0m1-60h0m1-14h0m0 7h0m0 6h0m0 29h0m0 31h0m0 3h0m1-47h0m0 16h0m0 3h0m0 9h0m0 5h0m0 12h0m0 8h0m1-68h0m0 21h0m0 10h0m0 5h0m0 7h0m0 10h0m0 3h0m1-16h0m0 7h0m0 6h0m0 1h0m0 3h0m1-26h0m0 13h0m0 2h0m1-29h0m0 15h0m0 2h0m1-23h0m0 9h0m0 24h0m0 2h0m1-5h0m0 3h0m1 4h0m1-37h0m0 17h0m0 31h0m0 3h0m1-45h0m1-1h0m0 25h0m1-11h0m0 2h0m0 1h0m0 16h0m0 14h0m1-44h0m0 3h0m0 12h0m0 11h0m2-25h0m0 17h0m0 7h0m0 13h0m1-7h0m1-21h0m0 14h0m0 4h0m2 15h0m1-26h0m0 3h0m1 6h0m0 16h0m1-8h0m0 4h0m1-8h0m2 3h0m1-5h0" stroke="#8070b8" stroke-width="1.7" stroke-linecap="round"/><path transform="scale(.5)" d="M302 182h0m7 13h0m8-7h0m1 5h0m2 11h0m1-17h0m0 19h0m0 0h0m2 0h0m2-23h0m0 12h0m0 11h0m0 14h0m1-8h0m1-16h0m0 6h0m2-18h0m0 18h0m0 0h0m0 0h0m1-5h0m1 13h0m0 6h0m1-9h0m0 14h0m0 3h0m1-37h0m0 10h0m0 13h0m0 3h0m0 0h0m1 1h0m0 7h0m1-18h0m0 5h0m1 4h0m1 11h0m2-25h0m0 4h0m0 3h0m0 3h0m0 9h0m1-20h0m0 3h0m0 13h0m0 4h0m1-68h0m0 31h0m0 15h0m0 35h0m1-43h0m0 3h0m0 7h0m0 11h0m1-4h0m0 8h0m2-26h0m0 17h0m0 9h0m0 1h0m0 10h0m1-33h0m0 7h0m0 19h0m1 16h0m1-52h0m0 12h0m0 12h0m1-4h0m0 8h0m1-17h0m1 12h0m1-13h0m0 16h0m0 18h0m2-27h0m0 22h0m1-21h0m1 15h0m0 6h0m0 10h0m1-41h0m0 30h0m0 3h0m0 5h0m1-35h0m0 20h0m0 2h0m0 6h0m0 11h0m1-48h0m0 29h0m1-16h0m0 6h0m1 9h0m0 1h0m0 1h0m1-27h0m0 24h0m0 20h0m1-22h0m0 11h0m2-17h0m1-2h0m1-6h0m0 16h0m0 6h0m1-7h0m0 9h0m1-38h0m0 15h0m0 8h0m0 16h0m1-7h0m0 11h0m1-31h0m0 9h0m0 18h0m1-40h0m0 48h0m1-19h0m1-18h0m0 1h0m0 10h0m0 9h0m0 10h0m2-36h0m0 28h0m2-25h0m0 15h0m0 14h0m0 3h0m1-11h0m0 5h0m1-20h0m0 12h0m0 9h0m1-24h0m0 6h0m0 14h0m0 3h0m1-7h0m0 16h0m1-22h0m1-12h0m0 23h0m1-22h0m1 34h0m1-19h0m0 9h0m0 8h0m1-20h0m1 18h0m1-37h0m0 27h0m1-22h0m1-4h0m0 17h0m2-19h0m1 20h0m1 5h0m1-6h0m1-13h0m0 8h0m2 10h0m2-23h0m0 21h0m1-16h0m1 14h0m0 0h0m0 12h0m1-7h0m1-18h0m0 17h0m0 6h0m0 7h0m1-8h0m1-4h0m0 14h0m1-25h0m1 6h0m0 5h0m0 9h0m0 3h0m1-2h0m1-41h0m0 6h0m0 11h0m0 2h0m1 1h0m0 11h0m0 9h0m1-45h0m0 11h0m0 16h0m0 18h0m1-29h0m0 11h0m0 13h0m0 11h0m1-29h0m0 8h0m0 2h0m0 2h0m1 6h0m0 4h0m1-30h0m0 15h0m1 10h0m0 5h0m0 5h0m1-36h0m0 7h0m0 5h0m0 15h0m1-12h0m0 8h0m1-9h0m0 17h0m1-14h0m0 11h0m1-16h0m1-7h0m1 0h0m1 24h0m1-31h0m0 23h0m1-12h0m1-7h0m0 13h0m0 4h0m0 2h0m2-35h0m0 10h0m0 13h0m0 7h0m0 13h0m1-42h0m1 28h0m1-24h0m0 19h0m1 9h0m0 6h0m1-20h0m0 1h0m0 2h0m0 3h0m2-34h0m0 39h0m2-34h0m0 33h0m0 2h0m1-31h0m0 39h0m1-17h0m1 12h0m0 2h0m4-21h0m3 16h0m2-21h0m2 6h0m6 11h0m1-11h0" stroke="#d89868" stroke-width="1.7" stroke-linecap="round"/><path transform="scale(.5)" d="M348 97h0m9 2h0m2-13h0m4-15h0m0 40h0m2 12h0m1-26h0m1 16h0m0 1h0m0 9h0m1-38h0m0 25h0m2-39h0m0 6h0m3 3h0m1 13h0m0 9h0m0 2h0m1-22h0m0 2h0m0 3h0m0 32h0m1-39h0m0 10h0m0 8h0m0 7h0m1 5h0m0 10h0m2-20h0m0 9h0m0 12h0m1-47h0m0 39h0m1-32h0m0 14h0m0 5h0m0 4h0m1-16h0m0 4h0m0 4h0m0 12h0m1-20h0m0 16h0m1-30h0m0 6h0m0 15h0m1-25h0m0 14h0m0 8h0m0 4h0m0 6h0m0 3h0m1 8h0m0 6h0m1-46h0m0 5h0m0 14h0m0 17h0m1-29h0m0 3h0m0 6h0m0 12h0m1-1h0m0 4h0m0 2h0m0 14h0m1-35h0m1 5h0m1-10h0m0 1h0m0 7h0m0 5h0m0 4h0m0 3h0m0 17h0m1-44h0m0 23h0m0 9h0m1-34h0m0 12h0m0 40h0m0 7h0m1-38h0m0 1h0m0 5h0m0 2h0m0 6h0m0 4h0m0 23h0m1-66h0m0 9h0m0 3h0m0 10h0m0 8h0m0 10h0m1-32h0m0 2h0m0 10h0m0 8h0m0 33h0m1-59h0m0 6h0m0 10h0m0 26h0m1-25h0m0 14h0m0 6h0m0 9h0m0 9h0m1-44h0m0 5h0m0 14h0m0 7h0m0 8h0m1-30h0m0 2h0m0 2h0m0 15h0m0 4h0m1-29h0m0 6h0m0 28h0m0 20h0m1-45h0m0 21h0m1-21h0m0 11h0m1-12h0m0 14h0m0 3h0m0 4h0m0 18h0m1-20h0m1-29h0m0 24h0m0 9h0m1-35h0m1 2h0m0 3h0m1-1h0m0 18h0m1 4h0m1 11h0m1-33h0m0 10h0m1 6h0m1-9h0m0 14h0m1-22h0m0 5h0m0 7h0m1 4h0m1-14h0m0 10h0m0 35h0m1-34h0m1 6h0m2 5h0m6-20h0m0 37h0m1-33h0m1 7h0" stroke="#8a40a0" stroke-width="1.7" stroke-linecap="round"/><path transform="scale(.5)" d="M318 106h0m2-8h0m1 4h0m1 2h0m1-11h0m0 7h0m0 9h0m1-3h0m1-13h0m1-10h0m0 38h0m1-34h0m1 2h0m0 9h0m0 4h0m0 9h0m1-18h0m0 2h0m0 5h0m0 8h0m0 1h0m1-5h0m1 0h0m0 8h0m1-15h0m0 6h0m1 4h0m0 7h0m1-12h0m0 1h0m0 2h0m1 2h0m0 4h0m1-22h0m0 2h0m0 6h0m0 5h0m0 2h0m0 4h0m0 1h0m1-16h0m0 10h0m0 6h0m1-14h0m0 8h0m1-13h0m0 18h0m0 4h0m0 1h0m1-16h0m1 3h0m1 6h0m3-6h0m1 11h0m1-25h0" stroke="#b8b840" stroke-width="1.7" stroke-linecap="round"/><path transform="scale(.5)" d="M297 150h0m0 13h0m1 4h0m1-30h0m0 37h0m1-10h0m0 16h0m1-29h0m0 9h0m1-17h0m0 38h0m1-41h0m0 36h0m1-52h0m0 39h0m1-34h0m0 9h0m0 12h0m0 7h0m1-12h0m0 4h0m0 16h0m0 3h0m0 4h0m0 3h0m1-50h0m0 8h0m0 3h0m0 25h0m0 22h0m1-9h0m0 0h0m0 13h0m1-18h0m0 6h0m0 4h0m1-49h0m0 31h0m0 2h0m0 15h0m1-48h0m0 23h0m0 35h0m1-45h0m0 8h0m0 20h0m0 12h0m1-57h0m0 22h0m0 19h0m0 27h0m1-69h0m0 44h0m1-48h0m0 25h0m0 11h0m0 10h0m0 6h0m0 4h0m0 15h0m1-40h0m0 44h0m1-58h0m0 11h0m0 34h0m1-41h0m0 29h0m0 2h0m1-35h0m0 29h0m0 11h0m0 4h0m1-33h0m0 13h0m0 20h0m1-30h0m0 5h0m0 14h0m1-23h0m0 4h0m0 28h0m0 10h0m1-48h0m0 27h0m0 9h0m0 12h0m1-54h0m0 3h0m0 16h0m1 12h0m1-24h0m1-2h0m0 38h0m1-27h0m2 39h0m2-6h0m3-52h0m3 30h0m0 20h0m1-34h0m11 16h0" stroke="#c8c878" stroke-width="1.7" stroke-linecap="round"/><path transform="scale(.5)" d="M318 103h0m3-6h0m9-13h0m0 2h0m2 5h0m0 11h0m1-29h0m0 13h0m0 2h0m1-5h0m2-7h0m0 9h0m1-10h0m1 8h0m0 47h0m1-60h0m0 18h0m0 26h0m0 4h0m1-46h0m0 3h0m0 17h0m1-9h0m0 2h0m0 14h0m2-23h0m0 1h0m0 11h0m0 3h0m0 4h0m0 9h0m0 12h0m1-45h0m0 19h0m1-21h0m0 9h0m0 4h0m0 12h0m0 13h0m0 4h0m0 6h0m1-40h0m0 5h0m0 7h0m0 11h0m0 6h0m0 22h0m1-45h0m0 6h0m0 10h0m1-20h0m0 4h0m0 2h0m0 0h0m0 6h0m0 7h0m0 14h0m1-43h0m0 23h0m0 3h0m0 11h0m1-17h0m0 4h0m1-19h0m0 11h0m0 17h0m0 4h0m1-25h0m0 6h0m0 4h0m0 5h0m0 2h0m0 6h0m1-37h0m0 6h0m0 23h0m1-30h0m0 6h0m0 4h0m0 2h0m0 40h0m1-31h0m0 23h0m0 2h0m1-46h0m0 9h0m0 3h0m0 5h0m0 6h0m0 4h0m0 14h0m1-39h0m0 23h0m0 9h0m1-35h0m0 23h0m0 4h0m0 2h0m1-21h0m0 27h0m0 19h0m1-36h0m0 3h0m0 8h0m0 7h0m1-13h0m0 10h0m0 6h0m0 13h0m1-45h0m1 20h0m0 7h0m0 2h0m0 35h0m1-52h0m0 3h0m0 2h0m0 2h0m1-7h0m0 4h0m1-20h0m0 10h0m0 11h0m0 7h0m1-18h0m0 10h0m0 13h0m1 2h0m0 3h0m0 2h0m1-44h0m0 12h0m0 17h0m0 22h0m0 7h0m1-22h0m0 5h0m0 2h0m1-33h0m0 14h0m0 7h0m1-10h0m0 3h0m0 21h0m1-20h0m0 24h0m1-19h0m0 16h0m1-23h0m0 25h0m1-40h0m1 32h0m0 12h0m1-24h0m1-17h0m0 9h0m0 12h0m1-29h0m0 3h0m0 7h0m0 2h0m0 1h0m0 2h0m0 4h0m0 28h0m1 2h0m1-46h0m0 13h0m1 16h0m0 10h0m2-17h0m4-15h0m3 6h0m0 1h0" stroke="#b86050" stroke-width="1.7" stroke-linecap="round"/><path transform="scale(.5)" d="M298 155h0m1-9h0m0 32h0m1-44h0m0 22h0m1-22h0m1 20h0m0 9h0m0 7h0m2-23h0m0 4h0m0 9h0m0 14h0m1-32h0m1 4h0m1-14h0m0 13h0m0 8h0m0 16h0m0 5h0m0 5h0m1-31h0m0 12h0m0 10h0m1-25h0m0 1h0m0 16h0m0 12h0m0 8h0m0 3h0m0 0h0m1-62h0m0 20h0m0 22h0m1-7h0m1-31h0m0 10h0m0 23h0m0 5h0m0 24h0m1-60h0m0 45h0m0 12h0m0 6h0m1-57h0m0 16h0m0 31h0m1-35h0m0 16h0m0 2h0m0 13h0m0 7h0m0 19h0m1-65h0m0 5h0m0 11h0m0 34h0m1-57h0m0 10h0m0 4h0m0 26h0m0 3h0m0 8h0m0 24h0m1-84h0m0 9h0m0 44h0m0 10h0m1-52h0m0 1h0m0 6h0m0 3h0m0 4h0m0 1h0m0 5h0m0 24h0m0 19h0m1-76h0m0 7h0m0 12h0m0 3h0m0 55h0m2-52h0m1-13h0m0 16h0m0 18h0m0 11h0m0 2h0m1-32h0m0 5h0m1 24h0m0 1h0m2-47h0m1 38h0m0 27h0m2 3h0m1-49h0m2-13h0m0 1h0m0 34h0m1-6h0m0 21h0m1-29h0m0 10h0m1 2h0m2-32h0m0 50h0m1-55h0m3 26h0m1-23h0m2 45h0" stroke="#a8b050" stroke-width="1.7" stroke-linecap="round"/><path transform="scale(.5)" d="M357 96h0m1-30h0m1 31h0m1-28h0m1 28h0m1-10h0m0 8h0m1 46h0m1-73h0m2 34h0m2-5h0m0 0h0m0 8h0m1-3h0m1-32h0m0 21h0m1 2h0m0 23h0m2-46h0m0 11h0m0 18h0m0 8h0m0 1h0m0 9h0m1-33h0m0 2h0m0 13h0m0 2h0m0 0h0m0 4h0m1 2h0m2-30h0m0 18h0m0 1h0m0 2h0m0 24h0m1-37h0m1 6h0m0 14h0m0 5h0m0 8h0m1-24h0m0 3h0m0 6h0m0 3h0m1-22h0m0 5h0m0 2h0m0 1h0m0 21h0m1-29h0m0 2h0m0 13h0m0 5h0m0 6h0m1-23h0m0 3h0m0 4h0m1 6h0m0 3h0m1-27h0m0 4h0m0 1h0m0 48h0m1-60h0m0 25h0m0 6h0m0 11h0m1-31h0m0 5h0m0 8h0m0 11h0m0 21h0m0 6h0m1-45h0m0 5h0m0 12h0m1-24h0m0 7h0m0 1h0m0 6h0m0 4h0m1-26h0m0 11h0m0 14h0m0 13h0m1-35h0m0 4h0m0 13h0m0 8h0m0 6h0m0 10h0m1-23h0m0 3h0m0 4h0m0 8h0m0 12h0m1-50h0m0 22h0m0 11h0m0 8h0m0 7h0m1-32h0m0 0h0m0 8h0m0 2h0m0 4h0m0 29h0m1-53h0m0 5h0m0 2h0m0 8h0m0 18h0m1-42h0m0 2h0m0 19h0m0 5h0m0 7h0m0 4h0m0 14h0m0 2h0m1-53h0m0 5h0m0 13h0m0 11h0m0 3h0m0 4h0m0 5h0m0 7h0m0 1h0m1-13h0m1-36h0m0 31h0m0 7h0m0 3h0m1-36h0m0 7h0m0 13h0m0 4h0m0 15h0m0 8h0m1-27h0m1-4h0m0 8h0m0 1h0m0 31h0m1-14h0m1-39h0m0 10h0m0 2h0m0 18h0m1-15h0m0 3h0m0 20h0m0 20h0m1-64h0m1 13h0m0 4h0m0 4h0m0 2h0m0 5h0m0 23h0m0 0h0m1-40h0m0 37h0m0 11h0m1-34h0m0 6h0m0 9h0m1-34h0m0 12h0m0 22h0m0 1h0m1-30h0m0 8h0m0 2h0m0 6h0m0 3h0m1-26h0m0 15h0m0 2h0m2-1h0m0 8h0m0 2h0m0 14h0m1-31h0m0 24h0m0 14h0m1-9h0m1-15h0m1 0h0m1-4h0m2 1h0m2 10h0m4 5h0m1-14h0m12 45h0" stroke="#7a3a9a" stroke-width="1.7" stroke-linecap="round"/><path transform="scale(.5)" d="M318 189h0m5 12h0m0 15h0m1-35h0m0 7h0m3-7h0m0 28h0m1-3h0m0 2h0m1 12h0m2-29h0m0 17h0m1-9h0m0 6h0m1 1h0m0 0h0m0 5h0m1-11h0m0 10h0m1-27h0m0 3h0m0 36h0m1-11h0m0 4h0m1 2h0m1 3h0m0 1h0m2-32h0m0 17h0m1 13h0m1-10h0m1-18h0m0 33h0m1-19h0m0 24h0m1-25h0m0 20h0m1-40h0m0 14h0m0 5h0m0 12h0m1-27h0m0 3h0m0 4h0m1 3h0m0 22h0m1-33h0m0 12h0m0 10h0m0 1h0m0 4h0m0 4h0m0 4h0m1-8h0m0 6h0m0 1h0m1-31h0m0 29h0m0 7h0m0 0h0m1-45h0m0 3h0m0 31h0m1-14h0m1 16h0m0 0h0m0 7h0m0 7h0m1-43h0m0 26h0m1 12h0m1-12h0m0 1h0m0 9h0m1-36h0m0 13h0m0 13h0m0 16h0m1-14h0m0 6h0m1-46h0m0 10h0m0 36h0m1-19h0m0 3h0m0 16h0m1-17h0m0 20h0m1-26h0m0 13h0m0 17h0m1-40h0m0 27h0m1-11h0m0 7h0m1-2h0m1-5h0m0 14h0m0 6h0m1-34h0m1 11h0m1-18h0m1 18h0m0 3h0m0 9h0m1-24h0m0 6h0m0 13h0m0 8h0m1-21h0m1 5h0m0 12h0m1-42h0m0 41h0m0 2h0m2-16h0m1 6h0m0 13h0m1-20h0m1-16h0m1 28h0m0 11h0m1-10h0m1-26h0m1-17h0m0 44h0m0 12h0m2-49h0m0 20h0m0 8h0m0 4h0m1 1h0m2-35h0m0 32h0m0 6h0m1-7h0m1 18h0m1-27h0m1-12h0m0 5h0m0 10h0m0 9h0m1 9h0m1-18h0m0 3h0m0 6h0m0 8h0m0 3h0m1-26h0m1 5h0m0 6h0m1-2h0m0 7h0m2-12h0m2 1h0m1-12h0m0 14h0m0 2h0m1 15h0m0 2h0m1-8h0m1-40h0m0 21h0m0 11h0m0 12h0m1-18h0m0 23h0m0 0h0m1-19h0m0 2h0m1-38h0m0 25h0m0 14h0m1-6h0m1-8h0m0 5h0m0 18h0m1-13h0m1 2h0m0 8h0m1-22h0m0 13h0m1-19h0m0 24h0m0 9h0m1-51h0m0 19h0m0 27h0m0 6h0m1-63h0m2 41h0m0 5h0m0 4h0m0 16h0m1-32h0m1-9h0m0 15h0m0 20h0m0 2h0m1-19h0m1-5h0m0 23h0m0 7h0m1-27h0m0 2h0m0 8h0m0 1h0m0 2h0m0 14h0m1-38h0m0 3h0m1-2h0m0 5h0m0 9h0m0 3h0m0 6h0m1-12h0m0 23h0m0 1h0m1-21h0m1-18h0m0 21h0m0 5h0m1-28h0m0 14h0m0 19h0m1-23h0m0 5h0m0 15h0m0 7h0m1-32h0m1 1h0m0 1h0m0 2h0m1 2h0m1 9h0m0 7h0m0 7h0m0 3h0m1-42h0m0 15h0m0 20h0m1-45h0m0 23h0m0 14h0m1-6h0m0 5h0m0 9h0m1-20h0m0 2h0m0 6h0m0 8h0m1-36h0m0 4h0m0 18h0m0 6h0m0 1h0m0 5h0m0 7h0m1-30h0m1 0h0m0 12h0m0 0h0m0 15h0m0 4h0m1-14h0m1-21h0m1 27h0m1-49h0m0 55h0m1-44h0m0 11h0m0 22h0m1-39h0m1 45h0m1-8h0m1-22h0m1 12h0m1 1h0m1 1h0m0 13h0m3-19h0m0 11h0m0 0h0m3 4h0m1-20h0m2 17h0m3-17h0" stroke="#c88050" stroke-width="1.7" stroke-linecap="round"/><path transform="scale(.5)" d="M313 170h0m11 24h0m8-39h0m0 6h0m2 23h0m1-44h0m1 7h0m0 31h0m1-21h0m1 19h0m1-19h0m0 12h0m1-17h0m1 19h0m1 16h0m1-39h0m1 7h0m1-3h0m2-15h0m1 30h0m3-16h0m0 32h0m1-35h0m0 11h0m0 21h0m1-7h0m1-27h0m0 21h0m1-7h0m0 15h0m2-30h0m0 28h0m0 1h0m2-4h0m1 6h0m3-31h0m0 14h0m0 7h0m2-5h0m1-19h0m3 23h0m1-19h0m1 30h0m1 10h0m3-27h0m1 11h0m1-34h0m1 9h0m1 38h0m11-37h0m18 4h0" stroke="#d8b0a0" stroke-width="1.7" stroke-linecap="round"/><path transform="scale(.5)" d="M298 165h0m1-29h0m0 15h0m1 4h0m1-24h0m0 23h0m0 12h0m1-28h0m0 13h0m0 7h0m0 19h0m1-21h0m0 26h0m1-6h0m0 10h0m1-58h0m0 40h0m0 3h0m1-32h0m0 9h0m0 4h0m1-33h0m1 14h0m0 22h0m0 29h0m1-55h0m0 7h0m0 9h0m0 32h0m1-43h0m0 9h0m0 12h0m0 15h0m1-36h0m0 8h0m0 4h0m0 15h0m0 8h0m0 4h0m0 3h0m1-28h0m0 24h0m0 4h0m1-49h0m0 18h0m0 14h0m1-19h0m0 2h0m0 31h0m0 0h0m0 3h0m0 3h0m0 4h0m0 3h0m1-36h0m1-22h0m0 52h0m1-45h0m0 45h0m0 12h0m0 9h0m1-71h0m0 35h0m0 4h0m0 2h0m0 5h0m1-64h0m0 28h0m0 27h0m0 1h0m0 15h0m0 4h0m1-15h0m1-15h0m0 6h0m0 11h0m0 9h0m1-57h0m0 10h0m1-24h0m0 23h0m0 19h0m0 4h0m0 17h0m1-24h0m0 6h0m0 10h0m0 1h0m1-47h0m0 7h0m0 4h0m0 10h0m0 47h0m1-66h0m0 31h0m0 3h0m0 33h0m1-66h0m0 13h0m0 33h0m1-37h0m0 23h0m0 2h0m0 12h0m0 21h0m0 1h0m0 5h0m1-41h0m0 19h0m0 0h0m1-54h0m0 47h0m0 13h0m1-53h0m0 57h0m0 4h0m1-30h0m1-33h0m0 16h0m0 50h0m3-70h0m0 52h0" stroke="#b8c060" stroke-width="1.7" stroke-linecap="round"/><path transform="scale(.5)" d="M359 113h0m2-35h0m2 7h0m1-5h0m0 77h0m1-42h0m1-39h0m1-7h0m0 5h0m3 61h0m1-29h0m0 7h0m2-21h0m0 1h0m0 3h0m1-7h0m1 8h0m0 4h0m1-12h0m1 0h0m0 28h0m1-54h0m2 36h0m1 2h0m0 5h0m1 18h0m1-33h0m0 2h0m0 4h0m1-11h0m0 9h0m1-3h0m0 6h0m0 1h0m0 5h0m1-24h0m0 2h0m0 1h0m0 3h0m0 11h0m0 2h0m0 7h0m0 2h0m0 23h0m1-61h0m0 13h0m0 4h0m0 3h0m0 21h0m0 3h0m1-44h0m0 19h0m0 1h0m0 23h0m0 7h0m1-16h0m0 13h0m1-38h0m0 9h0m0 19h0m0 4h0m0 25h0m1-50h0m0 9h0m0 6h0m0 2h0m1-36h0m0 23h0m0 14h0m0 3h0m1-33h0m0 45h0m1-38h0m0 2h0m0 6h0m0 6h0m0 13h0m0 6h0m1-42h0m0 15h0m0 17h0m0 18h0m1-37h0m0 9h0m1-8h0m0 4h0m0 2h0m0 1h0m0 4h0m0 5h0m0 7h0m1-24h0m0 9h0m0 20h0m0 14h0m1-46h0m0 6h0m0 11h0m0 22h0m1-42h0m0 8h0m0 3h0m0 10h0m0 4h0m1-11h0m0 22h0m0 2h0m1-44h0m0 5h0m1 17h0m0 1h0m0 21h0m1-45h0m0 12h0m0 6h0m0 5h0m1-14h0m0 12h0m0 6h0m0 6h0m1-22h0m0 6h0m0 7h0m1 2h0m1-29h0m0 8h0m2 2h0m1-9h0m0 22h0m0 24h0m1-39h0m0 4h0m0 5h0m1-4h0m0 41h0m1-26h0m2-7h0m0 2h0m2-11h0m1 15h0m0 15h0m1-6h0m0 0h0m0 10h0m1-34h0m0 7h0m3 23h0m2-25h0m2 4h0m0 25h0m2-15h0" stroke="#9a4a98" stroke-width="1.7" stroke-linecap="round"/><path transform="scale(.5)" d="M382 118h0m8-14h0m5 13h0m1-5h0m1-3h0m3-8h0m0 4h0m0 4h0m0 5h0m0 11h0m1-3h0m1-42h0m0 20h0m0 1h0m1 19h0m2-11h0m0 10h0m1-9h0m0 10h0m1-26h0m0 8h0m0 18h0m1-30h0m0 5h0m0 6h0m0 3h0m0 2h0m0 2h0m0 3h0m0 2h0m1-33h0m0 23h0m0 16h0m0 5h0m1-34h0m0 7h0m0 1h0m0 4h0m0 15h0m0 12h0m1-39h0m0 5h0m0 16h0m0 6h0m1-2h0m1-30h0m0 10h0m0 22h0m1-17h0m0 13h0m0 4h0m1-30h0m0 3h0m0 2h0m0 12h0m0 9h0m0 18h0m1-43h0m0 12h0m0 3h0m0 9h0m0 4h0m1-37h0m0 6h0m0 32h0m0 2h0m1-26h0m1 4h0m0 31h0m0 1h0m0 5h0m0 1h0m1-46h0m0 10h0m0 2h0m1 12h0m0 2h0m0 6h0m1-26h0m0 13h0m0 0h0m1-25h0m0 27h0m0 7h0m1-36h0m0 22h0m0 2h0m0 1h0m0 3h0m0 1h0m0 5h0m1-15h0m0 13h0m1-15h0m0 1h0m0 0h0m0 6h0m0 4h0m0 8h0m1-1h0m1-16h0m0 1h0m0 14h0m1-23h0m0 22h0m0 3h0m0 9h0m1-8h0m1 8h0m1-24h0m0 1h0m0 15h0m1-22h0m0 12h0m1-12h0m0 11h0m2 9h0m1 27h0m3-27h0m1-3h0m2 17h0" stroke="#503ca0" stroke-width="1.7" stroke-linecap="round"/><path transform="scale(.5)" d="M344 88h0m9 9h0m0 5h0m2-4h0m2 15h0m2-33h0m1 27h0m1-24h0m0 10h0m1 8h0m5-10h0m0 8h0m0 20h0m1-47h0m1-4h0m0 6h0m0 10h0m0 23h0m1-5h0m0 8h0m0 13h0m3-36h0m0 29h0m1-30h0m0 5h0m1-10h0m0 16h0m2-19h0m0 15h0m0 24h0m1-39h0m0 8h0m0 7h0m0 7h0m0 2h0m0 6h0m1-31h0m0 38h0m1-22h0m0 9h0m0 5h0m0 22h0m1-40h0m0 2h0m1-12h0m0 19h0m0 2h0m0 23h0m1-60h0m0 21h0m0 17h0m0 3h0m0 3h0m1-28h0m0 6h0m0 3h0m1-22h0m0 7h0m0 6h0m0 8h0m0 3h0m1-12h0m0 18h0m0 8h0m0 1h0m0 9h0m1-24h0m0 15h0m1-27h0m0 17h0m0 3h0m0 3h0m0 18h0m1-51h0m1 9h0m0 15h0m0 21h0m0 0h0m1-25h0m0 1h0m0 9h0m1-29h0m0 17h0m0 22h0m0 5h0m1-26h0m0 3h0m0 9h0m0 1h0m0 5h0m0 10h0m0 10h0m0 3h0m1-50h0m0 6h0m0 14h0m0 5h0m1-15h0m0 13h0m0 11h0m0 8h0m1-30h0m0 37h0m1-22h0m0 6h0m0 15h0m1-38h0m0 3h0m0 0h0m0 13h0m0 6h0m1-31h0m0 4h0m1-8h0m0 7h0m0 3h0m0 11h0m0 7h0m0 4h0m1-32h0m0 22h0m1 2h0m0 7h0m0 5h0m1-33h0m0 13h0m0 8h0m0 2h0m0 4h0m0 3h0m0 8h0m1-16h0m0 28h0m0 1h0m1-37h0m1-13h0m0 10h0m0 10h0m0 18h0m2-37h0m0 4h0m0 8h0m0 23h0m1-29h0m0 20h0m1-14h0m0 3h0m0 7h0m0 15h0m3-45h0m0 9h0m1 12h0m1 19h0m0 4h0m1-41h0m0 23h0m0 4h0m1-17h0m1 10h0m0 1h0m0 3h0m0 4h0m1-17h0m0 2h0m1 6h0m1-4h0m1-9h0m0 9h0m4 32h0m1-33h0m13 16h0" stroke="#a04890" stroke-width="1.7" stroke-linecap="round"/><path transform="scale(.5)" d="M317 98h0m1 0h0m1 9h0m1-13h0m0 16h0m1-11h0m4-10h0m0 5h0m0 3h0m1 8h0m0 3h0m1-6h0m1-3h0m1-2h0m1-7h0m0 4h0m0 2h0m0 15h0m1-17h0m1 4h0m0 5h0m1-11h0m0 7h0m1-5h0m0 16h0m1-14h0m0 1h0m1 3h0m0 6h0m2-11h0m1 13h0m1 3h0m1-3h0m2-8h0m2 3h0m1 4h0m1-6h0" stroke="#c8c048" stroke-width="1.7" stroke-linecap="round"/><path transform="scale(.5)" d="M382 146h0m6 11h0m3-24h0m1 24h0m2 13h0m1-14h0m2 19h0m4-61h0m2 12h0m0 27h0m4-18h0m0 16h0m0 16h0m0 8h0m1-30h0m2-4h0m0 3h0m2 1h0m0 22h0m0 5h0m2-35h0m0 7h0m1-1h0m0 15h0m0 20h0m1-72h0m0 34h0m0 9h0m0 36h0m1-64h0m0 35h0m1-41h0m0 14h0m0 28h0m0 38h0m1-55h0m1 2h0m1 6h0m0 8h0m1-28h0m0 35h0m1-53h0m0 29h0m0 26h0m0 12h0m0 4h0m1-61h0m0 20h0m0 6h0m0 25h0m0 12h0m1-80h0m0 18h0m0 7h0m1 4h0m0 22h0m0 2h0m0 6h0m0 4h0m0 0h0m0 3h0m1-49h0m0 15h0m0 10h0m1 10h0m0 8h0m0 15h0m0 11h0m1-59h0m0 19h0m0 4h0m0 12h0m0 1h0m1-15h0m0 8h0m2 6h0m0 8h0m1-22h0m1-25h0m0 22h0m0 14h0m1-38h0m0 9h0m0 5h0m0 2h0m0 13h0m0 5h0m0 20h0m0 23h0m1-59h0m0 8h0m0 18h0m0 2h0m0 12h0m1-66h0m1-2h0m0 26h0m0 5h0m0 10h0m0 8h0m0 3h0m0 8h0m1-36h0m0 34h0m0 5h0m1-32h0m0 13h0m0 19h0m1-69h0m0 28h0m0 4h0m0 0h0m0 50h0m1-32h0m0 4h0m1 25h0m1-72h0m0 50h0m0 9h0m1-41h0m0 15h0m0 16h0m0 25h0m1-59h0m0 15h0m0 45h0m1-39h0m0 1h0m0 17h0m0 26h0m1-58h0m0 22h0m0 4h0m0 30h0m1-62h0m0 41h0m0 12h0m1-40h0m0 42h0m0 16h0m1-9h0m1-41h0m0 16h0m0 15h0m0 9h0m1-24h0m0 12h0m0 7h0m1-51h0m0 26h0m0 11h0m0 4h0m1-10h0m1 26h0m1-45h0m0 16h0m0 8h0m0 12h0m1-26h0m0 5h0m0 6h0m0 6h0m0 2h0m1 2h0m1 9h0m1 2h0m2-38h0m1 13h0m1-2h0m0 17h0m3 0h0m1-6h0m0 1h0" stroke="#4a4898" stroke-width="1.7" stroke-linecap="round"/><path transform="scale(.5)" d="M337 178h0m9-9h0m2 14h0m4-6h0m0 34h0m4-43h0m0 12h0m0 6h0m1-48h0m2 7h0m0 31h0m0 8h0m1-30h0m2 36h0m5-29h0m0 6h0m1-4h0m0 12h0m2-3h0m1-11h0m0 8h0m1 5h0m0 2h0m1 6h0m1-28h0m0 18h0m0 5h0m0 17h0m1-19h0m1-11h0m0 6h0m0 7h0m1-16h0m0 20h0m1-15h0m0 20h0m0 0h0m1-25h0m0 3h0m0 33h0m1-37h0m0 2h0m0 14h0m1-21h0m1 14h0m0 3h0m0 2h0m0 3h0m1-7h0m0 2h0m0 7h0m1-20h0m0 21h0m0 9h0m1-18h0m1-25h0m0 23h0m1 19h0m1-26h0m0 9h0m1-19h0m0 25h0m1 2h0m1-15h0m2-16h0m0 19h0m0 4h0m0 5h0m0 10h0m1 7h0m1-48h0m0 58h0m4-38h0m0 9h0m1-14h0m1 9h0m1 6h0m1-2h0m1-1h0m0 3h0m4 6h0m2-15h0m0 7h0m4 13h0" stroke="#b070a8" stroke-width="1.7" stroke-linecap="round"/><path transform="scale(.5)" d="M310 182h0m17 2h0m1-10h0m2-41h0m0 27h0m1 10h0m2-13h0m2-33h0m0 49h0m2-43h0m0 15h0m0 13h0m1-43h0m1 69h0m2-26h0m1-11h0m1-6h0m0 4h0m2 0h0m0 3h0m0 2h0m0 15h0m1-26h0m0 3h0m0 22h0m2-4h0m1-17h0m0 8h0m0 11h0m0 14h0m1-41h0m0 3h0m1 9h0m1 50h0m1-3h0m1-53h0m2 7h0m0 47h0m0 1h0m1-67h0m1 12h0m0 3h0m0 2h0m1-7h0m0 32h0m3-39h0m0 48h0m1-23h0m1-10h0m2 0h0m0 10h0m1-17h0m0 32h0m1-9h0m10-4h0m1-25h0" stroke="#d0a090" stroke-width="1.7" stroke-linecap="round"/><path transform="scale(.5)" d="M379 101h0m6 25h0m3-28h0m1 11h0m0 1h0m5-16h0m2-12h0m1 41h0m1-23h0m0 1h0m0 15h0m1-7h0m0 17h0m1-33h0m0 1h0m0 26h0m1 5h0m1-35h0m0 19h0m1-17h0m1 20h0m1-7h0m1 6h0m1-26h0m1 12h0m0 4h0m0 2h0m0 1h0m0 7h0m1-2h0m0 1h0m0 3h0m0 1h0m1-23h0m0 19h0m0 1h0m0 5h0m1-10h0m0 2h0m0 4h0m0 8h0m1-21h0m0 2h0m0 2h0m0 2h0m0 12h0m0 8h0m1-34h0m0 2h0m0 9h0m0 3h0m0 4h0m1-3h0m0 1h0m0 3h0m0 4h0m1-33h0m0 15h0m0 8h0m1 11h0m0 3h0m0 7h0m1-21h0m0 6h0m0 10h0m1-22h0m0 1h0m0 7h0m0 1h0m0 2h0m0 1h0m0 7h0m1-11h0m0 1h0m0 7h0m0 4h0m1-7h0m1-17h0m0 1h0m0 3h0m0 8h0m0 2h0m0 2h0m0 15h0m1-27h0m0 14h0m0 1h0m1-17h0m0 1h0m0 28h0m1-40h0m0 8h0m0 4h0m1 12h0m0 8h0m0 3h0m1-9h0m0 4h0m1-25h0m0 7h0m0 5h0m0 1h0m0 10h0m1-14h0m0 5h0m0 3h0m0 5h0m0 6h0m1-25h0m1 3h0m0 7h0m0 1h0m0 3h0m0 0h0m1-16h0m0 17h0m2-2h0m0 9h0m1-14h0m0 0h0m1-2h0m1 6h0m1-2h0m4 14h0" stroke="#5a40a0" stroke-width="1.7" stroke-linecap="round"/><path transform="scale(.5)" d="M321 95h0m2 7h0m0 1h0m0 1h0m1-24h0m0 29h0m2-10h0m4-6h0m1-10h0m0 2h0m1-4h0m0 4h0m0 8h0m1 11h0m1-26h0m0 19h0m1-8h0m0 21h0m1-29h0m2 4h0m0 9h0m1-24h0m0 65h0m1-41h0m0 7h0m1-27h0m0 23h0m1-13h0m0 6h0m0 1h0m1-20h0m0 8h0m0 20h0m1-24h0m0 8h0m0 9h0m0 6h0m0 28h0m1-45h0m1-14h0m0 2h0m0 16h0m0 11h0m0 6h0m1-20h0m0 29h0m1-37h0m0 12h0m0 2h0m0 7h0m0 1h0m1-15h0m0 13h0m0 2h0m0 7h0m1-13h0m0 10h0m0 8h0m0 5h0m1-35h0m0 17h0m1-11h0m0 24h0m1-40h0m0 12h0m0 5h0m0 5h0m0 1h0m0 2h0m0 18h0m1-40h0m0 13h0m0 3h0m0 1h0m0 32h0m1-56h0m0 13h0m0 3h0m0 11h0m0 8h0m0 9h0m0 7h0m1-19h0m0 18h0m0 9h0m1-44h0m0 9h0m0 17h0m1-35h0m0 11h0m1-9h0m0 20h0m0 0h0m0 2h0m0 2h0m1-19h0m0 5h0m0 27h0m0 1h0m0 23h0m1-49h0m0 0h0m0 10h0m0 3h0m0 13h0m1-41h0m0 12h0m0 1h0m0 33h0m1-35h0m0 31h0m0 2h0m1-34h0m0 15h0m0 8h0m0 0h0m1-21h0m0 4h0m0 3h0m0 45h0m1-34h0m1-10h0m1-23h0m0 4h0m0 22h0m0 1h0m1-30h0m0 36h0m1-21h0m0 16h0m0 2h0m1-12h0m0 7h0m0 8h0m1-23h0m0 4h0m0 47h0m1-52h0m0 15h0m0 20h0m0 15h0m1-50h0m0 45h0m2-27h0m0 3h0m1-31h0m0 17h0m1 1h0m0 0h0m0 14h0m1-10h0m1 1h0m0 8h0m1-28h0m1 20h0m1 13h0m1-13h0m2 4h0m0 10h0m2 17h0m4-17h0m4-2h0m3-5h0m5-13h0m5-5h0" stroke="#c86a50" stroke-width="1.7" stroke-linecap="round"/><path transform="scale(.5)" d="M319 117h0m2-25h0m5-14h0m1 13h0m1-6h0m0 5h0m1-6h0m1-4h0m2 7h0m0 9h0m0 31h0m1-11h0m1-42h0m1 27h0m1-23h0m0 8h0m0 1h0m1 10h0m1 0h0m1-8h0m0 15h0m0 1h0m1-24h0m0 2h0m0 6h0m0 10h0m0 5h0m1-24h0m0 8h0m0 7h0m1-21h0m0 1h0m0 19h0m0 3h0m0 8h0m0 3h0m1-26h0m0 3h0m0 10h0m1-22h0m0 21h0m0 15h0m1-35h0m0 10h0m0 1h0m0 2h0m0 3h0m0 28h0m1-45h0m0 5h0m0 2h0m0 11h0m0 2h0m0 5h0m0 7h0m0 1h0m0 15h0m1-48h0m0 7h0m0 15h0m0 8h0m1-26h0m0 13h0m0 2h0m0 5h0m0 13h0m1-44h0m0 32h0m0 7h0m1-30h0m0 4h0m0 5h0m0 1h0m1-15h0m0 10h0m0 1h0m0 8h0m0 1h0m0 13h0m1-28h0m0 0h0m0 39h0m1-20h0m0 6h0m1-15h0m0 6h0m0 13h0m0 3h0m1-3h0m0 26h0m1-52h0m0 3h0m0 4h0m0 12h0m0 5h0m0 10h0m0 13h0m1-27h0m1-33h0m0 20h0m0 3h0m0 2h0m0 12h0m0 4h0m0 1h0m0 8h0m2-50h0m0 24h0m0 6h0m0 4h0m1-34h0m0 8h0m0 7h0m0 24h0m1-39h0m0 2h0m0 6h0m0 5h0m0 8h0m0 2h0m0 8h0m0 6h0m0 4h0m0 7h0m1-47h0m0 22h0m0 1h0m0 15h0m1-38h0m0 12h0m0 13h0m0 5h0m0 4h0m1-33h0m0 9h0m0 15h0m0 2h0m0 1h0m1-30h0m0 24h0m0 20h0m0 3h0m1-29h0m0 4h0m0 8h0m0 2h0m0 6h0m0 7h0m1-32h0m0 3h0m0 16h0m0 14h0m1-28h0m0 37h0m1-34h0m1-9h0m0 3h0m0 23h0m0 10h0m1-43h0m0 13h0m0 8h0m0 6h0m0 10h0m1-29h0m0 6h0m1-3h0m0 4h0m1-1h0m0 8h0m0 7h0m0 10h0m1-30h0m0 13h0m0 10h0m0 7h0m1 0h0m1-2h0m1-30h0m1 34h0m4 0h0m0 3h0m4-42h0m0 36h0m1-8h0" stroke="#e08a50" stroke-width="1.7" stroke-linecap="round"/><path transform="scale(.5)" d="M310 190h0m6 0h0m4 3h0m2 24h0m2-6h0m1-1h0m2 4h0m0 8h0m1-33h0m0 10h0m1 9h0m1-4h0m0 20h0m1-29h0m0 7h0m0 16h0m0 2h0m1-42h0m1 16h0m1 23h0m1-45h0m0 39h0m0 4h0m1-21h0m0 8h0m0 4h0m0 6h0m0 17h0m1-32h0m0 2h0m1 29h0m1-35h0m0 18h0m0 2h0m0 12h0m2-27h0m0 8h0m0 16h0m1-4h0m0 14h0m1-32h0m0 15h0m1-14h0m0 8h0m0 4h0m0 1h0m0 7h0m1 0h0m0 9h0m0 3h0m1-38h0m0 2h0m0 8h0m0 4h0m0 18h0m1-34h0m0 19h0m0 3h0m0 7h0m0 4h0m1-23h0m0 1h0m0 6h0m0 1h0m0 18h0m1-41h0m0 5h0m0 24h0m1-5h0m0 10h0m0 3h0m1-23h0m0 19h0m1-23h0m0 7h0m0 4h0m0 3h0m0 17h0m2-36h0m0 14h0m0 12h0m0 7h0m0 2h0m1-19h0m1-14h0m0 5h0m0 8h0m0 13h0m1-28h0m0 7h0m0 2h0m1 11h0m1-24h0m0 7h0m0 17h0m0 6h0m3-20h0m0 1h0m0 24h0m1-43h0m0 22h0m0 2h0m0 16h0m0 7h0m1-56h0m0 28h0m0 18h0m1-26h0m0 6h0m0 17h0m1 2h0m0 1h0m0 5h0m1-11h0m1-14h0m0 3h0m0 18h0m2-20h0m1-19h0m0 29h0m0 0h0m1-7h0m0 9h0m0 15h0m1-36h0m1-2h0m1 5h0m0 17h0m0 10h0m1-4h0m0 5h0m1-29h0m1 7h0m0 8h0m0 5h0m0 2h0m1-26h0m1 35h0m2-43h0m0 20h0m1 8h0m1-34h0m0 23h0m0 8h0m2-13h0m0 8h0m0 5h0m0 8h0m1 5h0m2-38h0m0 34h0m0 2h0m1 4h0m1-4h0m1-15h0m1-38h0m0 5h0m1 33h0m0 8h0m3-3h0m0 10h0m1-42h0m0 7h0m1 37h0m1-10h0m0 11h0m1-10h0m0 2h0m2-29h0m0 12h0m0 2h0m0 11h0m1-28h0m0 39h0m2-25h0m0 15h0m0 6h0m2-27h0m0 20h0m0 9h0m1-7h0m1-18h0m2 18h0m1 4h0m2 0h0m1-25h0m0 22h0m0 7h0m1-14h0m0 10h0m1-6h0m0 3h0m0 1h0m1-26h0m0 2h0m0 13h0m1-7h0m0 7h0m0 4h0m0 2h0m1-31h0m0 22h0m0 10h0m1-33h0m0 12h0m1 16h0m0 15h0m1-13h0m0 3h0m0 12h0m1-51h0m0 45h0m1-45h0m0 36h0m1-25h0m0 24h0m1-35h0m0 17h0m0 8h0m0 13h0m1-32h0m1 14h0m0 25h0m1-40h0m0 20h0m0 10h0m1-28h0m0 1h0m0 18h0m0 7h0m0 3h0m1-21h0m0 17h0m0 4h0m1-18h0m0 9h0m0 10h0m1-43h0m0 15h0m0 17h0m1-18h0m0 18h0m0 13h0m0 5h0m2-25h0m0 14h0m1-5h0m0 9h0m1-27h0m0 12h0m0 3h0m1-12h0m0 6h0m1-26h0m0 9h0m0 26h0m2 3h0m1-7h0m0 11h0m1-15h0m1-5h0m1 2h0m1 19h0m1-20h0m0 12h0m1-15h0m0 2h0m1-9h0m2-15h0m0 41h0m1-24h0m0 16h0m4 3h0m3-35h0m0 7h0" stroke="#c07858" stroke-width="1.7" stroke-linecap="round"/><path transform="scale(.5)" d="M344 159h0m7-13h0m0 28h0m2 2h0m4-24h0m1 42h0m2-14h0m2-36h0m0 18h0m0 17h0m2-22h0m1 11h0m0 11h0m1-30h0m0 22h0m2 0h0m0 29h0m1-24h0m2-11h0m1-13h0m0 42h0m1-56h0m0 15h0m0 14h0m0 32h0m1-54h0m0 59h0m1-43h0m0 24h0m1-30h0m1-10h0m0 34h0m1-24h0m0 9h0m0 6h0m0 12h0m1-26h0m0 21h0m1-12h0m0 21h0m0 8h0m0 8h0m1-50h0m0 4h0m0 29h0m0 3h0m1 3h0m1-51h0m0 24h0m0 11h0m0 1h0m2-17h0m0 15h0m1-3h0m0 1h0m0 16h0m0 2h0m1-29h0m0 3h0m0 16h0m1-43h0m0 16h0m0 6h0m0 21h0m1-14h0m0 22h0m1-48h0m0 16h0m0 21h0m1-16h0m0 0h0m0 11h0m0 20h0m1-25h0m0 20h0m1-9h0m0 5h0m0 11h0m1-13h0m1-14h0m1-11h0m0 14h0m1 12h0m1-34h0m0 20h0m2 0h0m0 10h0m1-34h0m1 27h0m2 5h0m0 1h0m3 6h0m3-25h0" stroke="#a05aa0" stroke-width="1.7" stroke-linecap="round"/><path transform="scale(.5)" d="M297 158h0m1-2h0m1-3h0m2-11h0m3-10h0m0 3h0m0 18h0m1-18h0m1 1h0m0 11h0m2-20h0m0 10h0m0 19h0m1-14h0m0 12h0m1-19h0m2-3h0m0 3h0m0 5h0m0 9h0m0 10h0m1-21h0m0 1h0m0 13h0m1-12h0m1-16h0m0 29h0m1-17h0m0 5h0m0 22h0m1-11h0m1-22h0m1 7h0m0 32h0m3-34h0m2 9h0m2-25h0m1-4h0m1 34h0m1-18h0m2 14h0m3-6h0m1-12h0m1 19h0m1-13h0" stroke="#b0b858" stroke-width="1.7" stroke-linecap="round"/><path transform="scale(.5)" d="M306 126h0m15-31h0m0 6h0m9-13h0m0 0h0m1 0h0m0 4h0m1-5h0m0 37h0m1-33h0m1-3h0m1-9h0m0 3h0m0 12h0m1-23h0m0 19h0m0 4h0m0 19h0m1-31h0m0 1h0m0 1h0m0 3h0m0 2h0m0 6h0m0 4h0m0 6h0m1-29h0m0 12h0m0 5h0m1-1h0m0 15h0m0 15h0m1-44h0m0 8h0m0 6h0m1-17h0m0 42h0m1-45h0m0 14h0m0 2h0m0 5h0m0 15h0m1-20h0m1-14h0m0 8h0m0 5h0m0 14h0m1-15h0m0 9h0m0 10h0m0 16h0m1-51h0m0 27h0m0 17h0m0 6h0m1-51h0m0 10h0m0 22h0m0 3h0m0 5h0m1-34h0m0 4h0m0 9h0m0 5h0m1-22h0m0 16h0m1-5h0m0 20h0m1-26h0m0 6h0m0 3h0m0 16h0m1-33h0m0 9h0m0 1h0m0 4h0m0 11h0m0 6h0m1-13h0m0 18h0m0 9h0m1-25h0m0 5h0m0 2h0m0 5h0m0 9h0m1-41h0m0 3h0m0 10h0m0 2h0m0 2h0m0 6h0m0 5h0m0 4h0m0 3h0m1-34h0m0 14h0m0 8h0m0 3h0m0 4h0m0 11h0m0 34h0m1-61h0m1 3h0m0 5h0m0 13h0m0 24h0m1-44h0m0 1h0m0 4h0m1-13h0m0 12h0m0 14h0m1-34h0m0 11h0m0 2h0m0 10h0m0 3h0m0 26h0m1-36h0m0 8h0m0 15h0m1-9h0m1-19h0m0 5h0m0 10h0m0 7h0m0 10h0m0 9h0m1-49h0m0 11h0m0 18h0m0 8h0m1-36h0m0 2h0m0 7h0m0 25h0m0 8h0m1-49h0m0 60h0m1-53h0m0 16h0m0 4h0m1-13h0m0 7h0m0 0h0m0 19h0m0 2h0m1-26h0m0 3h0m0 7h0m0 3h0m1-15h0m0 11h0m0 10h0m1-24h0m0 27h0m1-34h0m1 0h0m0 0h0m0 6h0m0 9h0m0 23h0m1-35h0m0 7h0m0 8h0m2-18h0m0 6h0m0 16h0m1-9h0m0 7h0m1 3h0m0 7h0m3-21h0m1-11h0m2 18h0m0 25h0m3-8h0m1-29h0m1 10h0m1-8h0" stroke="#d07848" stroke-width="1.7" stroke-linecap="round"/><path transform="scale(.5)" d="M365 158h0m11-19h0m7 19h0m0 32h0m1-84h0m2 54h0m1-24h0m2 28h0m5 22h0m1-62h0m0 8h0m0 5h0m6 24h0m1 30h0m2-73h0m1-5h0m0 43h0m2-12h0m1-21h0m0 5h0m3 5h0m0 32h0m1-42h0m0 3h0m0 43h0m1-29h0m0 20h0m0 3h0m1-10h0m0 17h0m1-35h0m1 21h0m1-33h0m1 20h0m1-32h0m0 12h0m0 4h0m0 4h0m0 21h0m0 10h0m1-21h0m1-3h0m0 11h0m0 4h0m0 8h0m1-29h0m0 23h0m0 35h0m1-76h0m0 45h0m1-3h0m1-39h0m0 12h0m0 34h0m0 0h0m1 26h0m1-45h0m0 14h0m0 1h0m0 15h0m1-46h0m0 23h0m1-21h0m0 18h0m0 24h0m1-52h0m0 35h0m0 9h0m1-35h0m0 10h0m0 28h0m1-56h0m0 23h0m0 7h0m0 21h0m1 7h0m0 12h0m1-33h0m0 4h0m0 8h0m0 4h0m0 23h0m1-41h0m0 25h0m1-52h0m0 20h0m0 12h0m0 3h0m0 17h0m0 8h0m1-44h0m0 15h0m0 14h0m1-57h0m0 10h0m0 12h0m0 4h0m0 3h0m0 22h0m1-28h0m0 6h0m0 5h0m0 3h0m0 6h0m0 35h0m1-27h0m0 2h0m0 2h0m1-6h0m0 18h0m0 2h0m1-57h0m0 16h0m0 60h0m1-59h0m0 2h0m0 7h0m0 2h0m1-16h0m0 35h0m0 2h0m0 9h0m0 7h0m0 1h0m1-73h0m0 26h0m0 8h0m0 7h0m0 16h0m1-52h0m0 16h0m0 3h0m0 8h0m0 49h0m1-56h0m0 54h0m1-18h0m1-27h0m0 6h0m0 10h0m0 19h0m1-30h0m0 7h0m0 14h0m0 3h0m0 14h0m1-12h0m0 2h0m1-32h0m0 3h0m0 30h0m2-10h0m0 0h0m1-34h0m0 2h0m0 23h0m0 12h0m0 7h0m1-40h0m0 9h0m0 10h0m0 1h0m1 17h0m0 17h0m0 2h0m1-37h0m0 2h0m0 11h0m1-23h0m0 28h0m1-26h0m0 30h0m1 2h0m0 10h0m0 1h0m2-18h0m3 0h0" stroke="#6a60b0" stroke-width="1.7" stroke-linecap="round"/><path transform="scale(.5)" d="M381 108h0m8-12h0m3 15h0m4-5h0m2 0h0m1 12h0m2-13h0m0 10h0m2-1h0m1-12h0m0 29h0m1-44h0m0 10h0m0 13h0m0 10h0m1-12h0m0 7h0m1-17h0m0 3h0m0 12h0m0 2h0m1-7h0m1-13h0m1 2h0m1-6h0m0 3h0m0 7h0m0 4h0m0 4h0m0 4h0m0 9h0m1-38h0m0 9h0m0 25h0m0 2h0m1-28h0m0 7h0m0 1h0m0 20h0m1-18h0m0 1h0m0 6h0m0 5h0m0 1h0m1-38h0m1 19h0m0 2h0m0 15h0m1-5h0m0 3h0m0 16h0m1-43h0m0 8h0m0 9h0m0 3h0m0 0h0m0 9h0m0 5h0m0 19h0m1-38h0m0 2h0m0 1h0m0 2h0m0 5h0m0 10h0m0 3h0m1-38h0m0 19h0m0 13h0m1-16h0m0 0h0m0 8h0m0 7h0m0 8h0m0 5h0m1-39h0m0 10h0m0 4h0m1 1h0m0 3h0m0 14h0m1-34h0m0 4h0m0 13h0m0 11h0m0 1h0m1-10h0m0 1h0m0 26h0m1-52h0m0 11h0m1 13h0m0 1h0m1-15h0m0 3h0m0 14h0m0 17h0m1-27h0m0 7h0m1-7h0m0 2h0m0 3h0m0 8h0m0 5h0m1-23h0m0 6h0m0 24h0m0 2h0m1-24h0m1 12h0m0 4h0m0 3h0m0 9h0m1-29h0m1-4h0m0 21h0m2-5h0m1 4h0m1-5h0m0 14h0" stroke="#403090" stroke-width="1.7" stroke-linecap="round"/><path transform="scale(.5)" d="M315 159h0m4 28h0m6-16h0m1-22h0m1 13h0m1-21h0m1 21h0m0 22h0m2-21h0m4-12h0m0 2h0m1 14h0m0 15h0m1-7h0m1-16h0m2-3h0m0 6h0m1 8h0m0 2h0m1-17h0m0 47h0m3-41h0m1 17h0m2-53h0m1 34h0m0 8h0m0 3h0m1-11h0m0 42h0m1-31h0m0 27h0m1-56h0m0 22h0m1-2h0m0 18h0m1-54h0m1 40h0m0 22h0m1-47h0m0 24h0m1 2h0m1-5h0m1-19h0m0 7h0m0 13h0m1-8h0m4 6h0m1-19h0m0 56h0m0 2h0m1-26h0m0 3h0m1-27h0m2-11h0m2 25h0m1-27h0m2 27h0m1-15h0m2-8h0m10 2h0m1 10h0" stroke="#c89888" stroke-width="1.7" stroke-linecap="round"/><path transform="scale(.5)" d="M310 181h0m4 21h0m6 0h0m0 5h0m1-9h0m2 16h0m1-21h0m1 4h0m0 16h0m1-4h0m2 11h0m1 1h0m1-7h0m2-11h0m0 1h0m1-6h0m1 1h0m0 7h0m0 0h0m0 13h0m1-19h0m1 3h0m2 13h0m0 8h0m2-29h0m0 11h0m2-25h0m0 23h0m0 7h0m0 14h0m0 3h0m1-33h0m0 2h0m0 1h0m0 16h0m1-5h0m0 7h0m0 4h0m0 11h0m1-66h0m0 30h0m0 2h0m0 13h0m0 8h0m1-4h0m0 10h0m1-39h0m0 24h0m0 8h0m0 9h0m1-30h0m0 4h0m0 15h0m0 13h0m1-7h0m1-46h0m0 38h0m0 16h0m1-36h0m0 13h0m0 3h0m0 4h0m0 19h0m1-7h0m1-12h0m0 14h0m0 2h0m1-52h0m0 26h0m0 25h0m1-46h0m0 21h0m0 16h0m0 3h0m1-13h0m0 2h0m1-2h0m1 12h0m0 1h0m1-5h0m0 3h0m1-2h0m0 2h0m0 7h0m1-25h0m0 1h0m1-11h0m0 4h0m1 27h0m1-18h0m0 4h0m0 6h0m0 4h0m0 6h0m1-34h0m0 11h0m0 8h0m0 6h0m0 9h0m1-29h0m1 18h0m1-27h0m0 30h0m1-40h0m0 27h0m0 3h0m1-16h0m0 6h0m1 7h0m0 20h0m1-11h0m1-26h0m1 28h0m0 6h0m0 4h0m1-41h0m0 24h0m0 9h0m1-4h0m0 5h0m2-25h0m1 29h0m1-17h0m1 3h0m1-8h0m0 4h0m1-11h0m0 2h0m0 16h0m1 9h0m1-19h0m0 9h0m1-15h0m2 27h0m1-30h0m0 4h0m0 9h0m0 16h0m1-9h0m0 6h0m2-1h0m3-26h0m0 13h0m1-8h0m2 15h0m0 3h0m0 2h0m1-7h0m1-21h0m1-4h0m1 5h0m1 3h0m0 17h0m1-19h0m0 15h0m0 8h0m1-42h0m0 31h0m0 2h0m0 9h0m1-23h0m0 13h0m1-7h0m1-41h0m0 29h0m0 12h0m0 4h0m0 19h0m1-27h0m0 14h0m1-24h0m0 13h0m0 3h0m0 11h0m1-44h0m0 22h0m0 20h0m1-19h0m0 7h0m0 23h0m1-38h0m1 14h0m0 21h0m1-24h0m0 17h0m1 11h0m1-48h0m0 15h0m0 18h0m1-19h0m1 18h0m1-53h0m0 36h0m1-3h0m0 5h0m0 13h0m0 6h0m1-41h0m0 16h0m0 34h0m0 1h0m1-48h0m0 11h0m0 21h0m0 4h0m0 2h0m1-22h0m0 14h0m0 19h0m1-42h0m0 15h0m0 12h0m0 0h0m1-37h0m0 25h0m0 15h0m1 3h0m1-33h0m0 14h0m0 11h0m0 14h0m1-33h0m0 12h0m1 9h0m0 4h0m0 4h0m0 1h0m1-38h0m0 6h0m0 5h0m0 3h0m0 8h0m1-17h0m0 16h0m0 5h0m0 6h0m0 2h0m1-17h0m0 3h0m0 13h0m1-9h0m1-17h0m0 3h0m1-27h0m0 53h0m1-15h0m1-1h0m0 11h0m1-23h0m1-17h0m0 24h0m0 20h0m1-1h0m1-28h0m0 11h0m1-28h0m1 14h0m0 6h0m0 23h0m1-15h0m0 6h0m0 8h0m1-2h0m3-2h0m1-34h0m0 21h0m1-27h0m0 29h0m0 4h0m1-30h0m0 10h0m1-2h0m1 17h0m0 8h0m2-16h0m2 5h0m1 4h0m3-18h0m3 6h0m1 4h0m2-10h0" stroke="#d09060" stroke-width="1.7" stroke-linecap="round"/><path transform="scale(.5)" d="M316 108h0m3-14h0m1-1h0m3-2h0m0 17h0m1-20h0m0 11h0m0 14h0m0 2h0m1-21h0m1 2h0m1-2h0m0 3h0m0 2h0m0 1h0m1 2h0m0 2h0m2-13h0m0 7h0m0 2h0m0 3h0m0 3h0m0 2h0m0 3h0m1-15h0m0 1h0m0 3h0m1 6h0m1-11h0m0 5h0m1-1h0m0 1h0m0 6h0m1-13h0m1 6h0m0 4h0m1-3h0m0 6h0m1-8h0m0 8h0m1-16h0m1 11h0m0 16h0m1-21h0m0 5h0m2 11h0m1-15h0" stroke="#d0b040" stroke-width="1.7" stroke-linecap="round"/><path transform="scale(.5)" d="M352 187h0m1-38h0m5 11h0m2-11h0m3 12h0m0 8h0m1-1h0m0 3h0m0 2h0m1-18h0m1-2h0m0 28h0m0 4h0m2-29h0m0 10h0m0 7h0m1-21h0m0 16h0m0 5h0m1-12h0m0 14h0m0 4h0m1-17h0m0 10h0m0 2h0m1 10h0m1-23h0m1-24h0m0 7h0m1 23h0m0 2h0m1-1h0m1-2h0m0 9h0m0 2h0m1-4h0m0 0h0m1 1h0m0 31h0m1-16h0m1-32h0m0 17h0m0 12h0m1-28h0m0 5h0m0 5h0m1-20h0m0 17h0m0 23h0m1-48h0m0 12h0m0 16h0m0 25h0m1 6h0m1-36h0m0 19h0m1-23h0m0 4h0m0 13h0m1-4h0m0 3h0m1-18h0m0 8h0m0 6h0m0 7h0m0 22h0m1-29h0m0 17h0m1-14h0m0 12h0m1-25h0m0 12h0m0 15h0m1 7h0m1-21h0m2 2h0m0 13h0m1-26h0m4-8h0m0 26h0m1-17h0m1 46h0m2-42h0m3 25h0m3-17h0m4 8h0m4-11h0" stroke="#9050a0" stroke-width="1.7" stroke-linecap="round"/><path transform="scale(.5)" d="M383 120h0m15 18h0m1 5h0m1-12h0m3 28h0m2 13h0m2-32h0m1-9h0m0 36h0m0 6h0m1-51h0m0 74h0m2-82h0m0 23h0m0 47h0m2-65h0m0 6h0m0 24h0m0 5h0m0 8h0m0 8h0m0 4h0m2-15h0m0 29h0m1-66h0m1 19h0m0 22h0m1-23h0m0 10h0m0 5h0m1-39h0m0 20h0m0 21h0m0 7h0m0 11h0m1-3h0m0 2h0m1-52h0m0 20h0m0 7h0m1-11h0m0 6h0m0 33h0m1-57h0m0 71h0m1-60h0m0 23h0m0 6h0m0 7h0m0 31h0m1-52h0m0 1h0m0 8h0m1-25h0m0 25h0m1-31h0m0 22h0m0 21h0m0 7h0m1-43h0m0 56h0m1-43h0m1-33h0m0 33h0m0 6h0m0 1h0m1-31h0m0 5h0m0 15h0m0 7h0m0 31h0m0 3h0m1-32h0m1 8h0m1-3h0m0 2h0m0 33h0m1-58h0m0 13h0m0 19h0m0 1h0m1 14h0m1-25h0m0 0h0m0 6h0m0 26h0m1-54h0m0 20h0m0 1h0m0 18h0m0 8h0m1-5h0m0 11h0m1-47h0m0 29h0m0 14h0m0 4h0m0 5h0m1-71h0m0 12h0m0 8h0m0 7h0m0 27h0m0 7h0m1-31h0m0 18h0m0 9h0m0 8h0m1-26h0m1-9h0m0 15h0m0 17h0m0 9h0m1-59h0m1 29h0m0 3h0m0 1h0m0 3h0m0 0h0m0 4h0m0 1h0m0 7h0m1-39h0m0 8h0m0 2h0m0 24h0m0 13h0m1-64h0m0 4h0m0 18h0m0 4h0m0 3h0m1-6h0m0 16h0m0 14h0m1-26h0m0 24h0m0 2h0m0 3h0m1-54h0m0 38h0m0 6h0m0 6h0m0 10h0m1-14h0m0 6h0m0 2h0m0 14h0m1-50h0m0 5h0m0 3h0m0 6h0m0 13h0m0 10h0m1-48h0m0 13h0m0 23h0m1-24h0m0 10h0m0 24h0m1-39h0m0 4h0m0 11h0m0 16h0m0 1h0m0 3h0m0 11h0m0 7h0m1-6h0m1-46h0m0 28h0m0 19h0m0 2h0m0 2h0m1-20h0m0 8h0m0 2h0m1-37h0m0 15h0m0 14h0m1-12h0m0 9h0m0 2h0m1-15h0m0 9h0m0 4h0m0 9h0m1-21h0m1 3h0m0 6h0m1-2h0m0 7h0m0 17h0m6-15h0" stroke="#5050a0" stroke-width="1.7" stroke-linecap="round"/><path d="M37.7 73.4 L39.17 73.4 L39.17 72.62 L39.17 70.43 L41.33 70.43 L41.33 69.7 L42.9 69.7 L42.9 67.06 L42.28 67.06 L42.28 67.01 L43.22 67.01 L43.22 64.5 L43.6 64.5 L45.8 64.5 L45.8 65.2 L45.44 65.2 L45.44 66.26 L45.44 69.27 L44.69 69.27 L45.1 69.27 L45.1 71.2 L45.1 71.95 L44.94 71.95 L44.94 73.43 L46.84 73.43 L47.3 73.43 L47.3 75.6 L47.3 75.87 L48.42 75.87 L48.42 77.1 L50.3 77.1 L50.3 76.83 L52.6 76.83 L54.8 76.83 L54.8 76.4 L54.8 73.87 L55.54 73.87 L55.54 72.6 L57 72.6 L57 70.9 L56.71 70.9 L56.3 70.9 L56.3 68.2 L56.3 68.27 L56.99 68.27 L56.99 65.91 L58.85 65.91 L58.85 66 L60.7 66 L60.7 65.6 L62.26 65.6 L65.2 65.6 L65.2 66.7 L65.2 65.25 L66.22 65.25 L68.2 65.25 L68.2 64.5 L67.07 64.5 L67.07 66.31 L68.66 66.31 L68.66 68.11 L68.66 69.7 L67.4 69.7 L68.68 69.7 L68.68 71.47 L69.9 71.47 L69.9 72.19 L69.7 72.19 L69.7 74.1 L69.7 73.95 L72.64 73.95 L74.1 73.95 L74.1 72.6 L76.42 72.6 L76.42 72.46 L76.42 71.2 L78.6 71.2 L80.54 71.2 L80.54 70.43 L83.1 70.43 L83.1 69.7 L84.34 69.7 L84.34 68.26 L84.34 68.2 L87.5 68.2 L87.5 68.06 L89.82 68.06 L92 68.06 L92 66.7 L94.35 66.7 L94.35 66.16 L94.35 65.2 L96.5 65.2 L97.25 65.2 L97.25 65.46 L99.22 65.46 L99.22 68.07 L100.9 68.07 L100.9 68.2 L101.59 68.2 L101.59 69.73 L101.59 70.82 L102.61 70.82 L102.61 72.6 L103.2 72.6 L103.2 74.18 L102 74.18 L101.14 74.18 L101.14 76.51 L99.4 76.51 L99.4 77.1 L99.4 78.2 L97.42 78.2 L95 78.2 L95 78.6 L94.36 78.6 L94.36 80.01 L94.36 80.75 L94.35 80.75 L93.63 80.75 L93.63 83.69 L93.63 84.6 L92 84.6 L92 87.31 L92.18 87.31 L92.18 88.59 L91.9 88.59 L90.8 88.59 L90.8 89.99 L90.5 89.99 L90.5 92 L90.27 92 L90.27 93.46 L92.18 93.46 L92.18 94.09 L93.64 94.09 L93.64 96.63 L93.5 96.63 L93.5 98 L94.71 98 L94.71 100.53 L94.2 100.53 L94.2 101.07 L95 101.07 L95 103.9 L95 106.04 L96.8 106.04 L96.8 106.9 L98 106.9 L98 109.05 L98.1 109.05 L98.1 109.9 L96.5 109.9" fill="none" stroke="#3a3a3a" stroke-width="1.7" stroke-linejoin="round" stroke-linecap="round"/><path d="M57 72.6 L58.42 72.6 L58.42 74.32 L58.42 76.38 L57.9 76.38 L57.9 78.23 L57.92 78.23 L57.92 80.1 L59.2 80.1 L61.04 80.1 L61.04 82.52 L61.96 82.52 L61.96 82.65 L62.2 82.65 L62.2 84.6 L62.2 86.85 L63.33 86.85 L63.33 86.78 L65.62 86.78 L65.62 89 L66.7 89 L66.23 89 L66.23 91.09 L64.94 91.09 L64.94 92.94 L64.94 93.5 L63.7 93.5 L63.7 94.45 L64.48 94.45 L66.32 94.45 L66.32 94.84 L67.27 94.84 L67.27 95.3 L69.7 95.3 L69.7 96.5 L69.7 98.18 L71.91 98.18 L73.24 98.18 L73.24 99.55 L73.24 99.85 L74.52 99.85 L75.6 99.85 L75.6 100.9 L76.72 100.9 L76.72 102.58 L78.6 102.58 L78.6 103.9 L80.46 103.9 L80.46 103.68 L81.92 103.68 L81.92 102.26 L84.6 102.26 L84.6 102.4 L84.6 102.57 L86.27 102.57 L86.27 101.04 L88.55 101.04 L88.55 100.9 L90.5 100.9" fill="none" stroke="#3a3a3a" stroke-width="1.7" stroke-linejoin="round" stroke-linecap="round"/><path d="M45.1 71.2 L45.22 71.2 L45.22 73.61 L44.42 73.61 L44.42 75.33 L44.42 77.1 L44.4 77.1 L44.4 79.44 L45 79.44 L45.54 79.44 L45.54 79.55 L45.84 79.55 L45.84 82.14 L45.84 83.97 L45.94 83.97 L47.3 83.97 L47.3 84.6 L47.3 86.65 L47.54 86.65 L47.54 87.59 L47.63 87.59 L48.88 87.59 L48.88 90.63 L48.88 92 L48.8 92 L48.8 94.37 L48.94 94.37 L48.94 95.45 L51.23 95.45 L51.23 96.5 L51.8 96.5 L53.69 96.5 L53.69 97.92 L53.69 99.4 L54.8 99.4 L54.8 100.98 L56.03 100.98 L56.18 100.98 L56.18 102.92 L56.3 102.92 L56.3 105.4 L56.3 107.86 L56.5 107.86 L54.8 107.86 L54.8 108.4" fill="none" stroke="#3a3a3a" stroke-width="1.7" stroke-linejoin="round" stroke-linecap="round"/><path d="M164.7 58.3 L164.91 58.3 L164.91 56.4 L166.94 56.4 L166.94 54.86 L166.94 54.32 L166.75 54.32 L166.75 52.1 L167.2 52.1 L167.2 50.71 L167.07 50.71 L169.1 50.71 L169.1 48.36 L169.1 46.6 L170 46.6 L169.7 46.6 L169.7 44.7 L169.7 43.83 L170.25 43.83 L170.25 41.81 L172.29 41.81 L172.29 40.9 L173.4 40.9 L173.4 41.2 L174.31 41.2 L177.1 41.2 L177.1 39.7 L176.94 39.7 L176.94 42.35 L179.45 42.35 L179.45 42.72 L179.6 42.72 L179.6 44.7 L178.52 44.7 L178.52 47.15 L179.89 47.15 L179.89 48.71 L179.89 50.1 L178 50.1 L178 52.1 L178.4 52.1 L178.73 52.1 L178.73 53.94 L178.73 56.72 L177.5 56.72 L177.5 57.78 L176.52 57.78 L176.52 59.6 L177.1 59.6 L177.37 59.6 L177.37 61.43 L179.6 61.43 L179.6 63.3" fill="none" stroke="#3a3a3a" stroke-width="1.7" stroke-linejoin="round" stroke-linecap="round"/><path d="M179.6 44.7 L180.09 44.7 L180.09 43.9 L182.16 43.9 L182.16 42.32 L182.16 41.79 L182.75 41.79 L182.75 39.7 L184.6 39.7 L186.32 39.7 L186.32 38.44 L189.01 38.44 L189.01 38.32 L189.01 38.5 L190.8 38.5 L190.8 38.18 L192.65 38.18 L192.65 39.98 L194.07 39.98 L194.07 39.7 L197 39.7 L198.35 39.7 L198.35 39.64 L198.35 41.44 L199.93 41.44 L199.93 42.2 L202 42.2 L202 43.83 L202.86 43.83 L202.86 43.08 L204.4 43.08 L204.4 44.7 L206.9 44.7 L208.43 44.7 L208.43 46.44 L208.43 48.72 L208.09 48.72 L208.09 49.6 L209.4 49.6 L209.4 50.99 L210.03 50.99 L211.36 50.99 L211.36 52.36 L210.4 52.36 L210.4 55.72 L210.4 57.1 L211.9 57.1 L211.9 58.46 L213.54 58.46 L214.4 58.46 L214.4 59.6 L213.51 59.6 L213.51 60.02 L212.41 60.02 L212.41 61.47 L210.13 61.47 L210.13 63.71 L210.13 64.5 L209.4 64.5 L207.96 64.5 L207.96 66.7 L207.96 68.21 L206.99 68.21 L206.45 68.21 L206.45 68.57 L205.57 68.57 L205.57 70.74 L205.57 72 L204.4 72 L204.4 71.8 L202.95 71.8 L202.95 71.8 L200.57 71.8 L199.5 71.8 L199.5 72 L198.57 72 L198.57 70.14 L197.58 70.14 L197.58 68.2 L197.58 67 L195.8 67 L195.8 69.14 L195 69.14 L195 71.62 L194.48 71.62 L193.99 71.62 L193.99 72.54 L193.3 72.54 L193.3 74.4 L193.3 76.31 L192.14 76.31 L192.14 78.73 L192.92 78.73 L192.92 79.02 L193.67 79.02 L193.67 81.87 L192.13 81.87 L191.64 81.87 L191.64 82.69 L191.36 82.69 L191.36 85.47 L192 85.47 L192 86.8 L191.15 86.8 L191.15 89.65 L191.7 89.65 L191.7 90.17 L189.66 90.17 L189.66 92.85 L189.6 92.85 L189.6 94.3 L189.6 95.31 L188.41 95.31 L188.41 96.72 L187.41 96.72 L187.1 96.72 L187.1 99.3 L187.1 99.32 L185.16 99.32 L182.5 99.32 L182.5 99.7 L181.07 99.7 L181.07 101.32 L181.07 101.7 L179.6 101.7 L177.78 101.7 L177.78 103.29 L177.78 103.96 L176.27 103.96 L176.27 104.48 L175.1 104.48 L175.1 106.7 L174.7 106.7 L173.01 106.7 L173.01 107.83 L173.01 109.2 L172.2 109.2" fill="none" stroke="#3a3a3a" stroke-width="1.7" stroke-linejoin="round" stroke-linecap="round"/><path d="M187.1 99.3 L189.19 99.3 L189.19 98.3 L190.32 98.3 L190.32 98.14 L192.42 98.14 L192.42 96.1 L193.83 96.1 L193.83 97.1 L194.5 97.1 L194.5 95.5 L196.11 95.5 L196.11 95.54 L198.53 95.54 L198.53 96.42 L198.53 98 L199.5 98 L199.5 99.01 L200.98 99.01 L202.15 99.01 L202.15 100.36 L204.4 100.36 L204.4 101.7 L205.54 101.7 L205.54 102.7 L205.54 105.56 L206.23 105.56 L206.23 106.7 L206.9 106.7 L207.53 106.7 L207.53 108.7 L209.4 108.7 L209.4 109.2" fill="none" stroke="#3a3a3a" stroke-width="1.7" stroke-linejoin="round" stroke-linecap="round"/><text x="328.3" y="8.8" font-size="13" fill="#111" font-weight="bold" stroke="#111" stroke-width="0.45">b</text><text x="380.6" y="26" font-size="9.3" fill="#333" text-anchor="middle">dVAT</text><text x="466.7" y="26" font-size="9.3" fill="#333" text-anchor="middle">tVAT</text><line x1="341.9" y1="30.2" x2="419.3" y2="30.2" stroke="#555" stroke-width="0.8"/><line x1="428" y1="30.2" x2="505.4" y2="30.2" stroke="#555" stroke-width="0.8"/><text x="380.2" y="41.2" font-size="9.6" fill="#333" text-anchor="middle" textLength="30.93" lengthAdjust="spacingAndGlyphs">COL1A1</text><text x="466.4" y="41.2" font-size="9.6" fill="#333" text-anchor="middle" textLength="30.93" lengthAdjust="spacingAndGlyphs">COL1A1</text><text x="380.2" y="98.4" font-size="9.6" fill="#333" text-anchor="middle" textLength="17.92" lengthAdjust="spacingAndGlyphs">MDK</text><text x="466.4" y="98.4" font-size="9.6" fill="#333" text-anchor="middle" textLength="17.92" lengthAdjust="spacingAndGlyphs">MDK</text><text x="380.2" y="155.8" font-size="9.6" fill="#333" text-anchor="middle" textLength="30.48" lengthAdjust="spacingAndGlyphs">CXCL14</text><text x="466.4" y="155.8" font-size="9.6" fill="#333" text-anchor="middle" textLength="30.48" lengthAdjust="spacingAndGlyphs">CXCL14</text><text x="380.2" y="213" font-size="9.6" fill="#333" text-anchor="middle" textLength="22.85" lengthAdjust="spacingAndGlyphs">APOD</text><text x="466.4" y="213" font-size="9.6" fill="#333" text-anchor="middle" textLength="22.85" lengthAdjust="spacingAndGlyphs">APOD</text><path transform="scale(.5)" d="M686 112h0m0 4h0m0 2h0m0 2h0m0 3h0m0 3h0m0 5h0m0 3h0m0 5h0m0 2h0m0 3h0m0 6h0m0 5h0m1-26h0m0 8h0m0 10h0m0 6h0m0 4h0m1-37h0m0 4h0m0 3h0m0 2h0m0 3h0m0 9h0m0 14h0m0 2h0m1-55h0m0 6h0m0 4h0m0 23h0m0 1h0m0 3h0m0 7h0m0 4h0m0 1h0m1-35h0m0 44h0m1-59h0m0 14h0m0 3h0m0 3h0m0 3h0m0 4h0m0 4h0m0 3h0m0 1h0m0 2h0m0 11h0m0 6h0m0 3h0m1-45h0m0 13h0m0 15h0m0 3h0m0 2h0m0 7h0m1-34h0m0 2h0m0 4h0m0 4h0m0 11h0m0 8h0m0 1h0m1-36h0m0 3h0m0 7h0m0 9h0m0 1h0m0 8h0m0 17h0m0 2h0m1-23h0m0 7h0m0 8h0m0 2h0m1-44h0m0 18h0m0 12h0m0 4h0m0 3h0m0 13h0m1-47h0m0 3h0m0 2h0m0 4h0m0 1h0m0 4h0m0 5h0m0 1h0m0 3h0m0 6h0m0 13h0m2-36h0m0 2h0m0 2h0m0 3h0m0 9h0m0 1h0m0 4h0m0 2h0m0 2h0m0 6h0m0 2h0m0 5h0m1-41h0m0 13h0m0 3h0m0 15h0m0 7h0m0 6h0m1-34h0m0 13h0m0 5h0m0 5h0m0 2h0m0 4h0m0 4h0m1-46h0m0 3h0m0 2h0m0 6h0m0 7h0m0 5h0m0 11h0m0 10h0m1-37h0m0 9h0" stroke="#f0776f" stroke-width="3.2" stroke-linecap="square"/><path transform="scale(.5)" d="M704 118h0m0 33h0m1-31h0m0 13h0m0 14h0m2-40h0m0 33h0m1-19h0m1-17h0m0 19h0m0 8h0m0 8h0m0 3h0m1-42h0m0 22h0m0 12h0m0 13h0m0 10h0m3-46h0m0 43h0m1 1h0m1-34h0m0 7h0m0 5h0m1-30h0m0 23h0m0 13h0m0 8h0m0 2h0m1-51h0m0 36h0m0 3h0m0 15h0m1-26h0m0 2h0m0 24h0m1-20h0m0 9h0m1-18h0m0 26h0m1-49h0m0 6h0m0 7h0m0 24h0m1-16h0m0 8h0m0 3h0m0 12h0m0 2h0m0 7h0m0 2h0m2-33h0m0 12h0m0 3h0m0 2h0m0 2h0m0 11h0m2-43h0m0 5h0m0 25h0m0 5h0m0 3h0m1-28h0m0 5h0m0 7h0m0 5h0m0 6h0m0 16h0m3-40h0m0 8h0m0 3h0m0 15h0m1-47h0m0 29h0m0 26h0m1-52h0m0 20h0m0 11h0m0 14h0m0 14h0m1-36h0m0 26h0m0 5h0m1-28h0m0 16h0m1-34h0m0 7h0m0 14h0m0 6h0m0 4h0m0 6h0m0 10h0m2-45h0m0 30h0m0 20h0m1-32h0m0 30h0m1-20h0m0 3h0m0 14h0m0 5h0m1-31h0m0 22h0m2-34h0m0 16h0m0 22h0m0 5h0m1-60h0m0 14h0m0 28h0m0 4h0m1-1h0m0 2h0m1-29h0m0 23h0m0 9h0m1-27h0m0 17h0m1 14h0m1-34h0m0 11h0m0 8h0m0 5h0m0 13h0m1-29h0m0 27h0m1-39h0m0 19h0m0 4h0m0 13h0m2-8h0m2 3h0m1-37h0m1 35h0m1-40h0m0 39h0m0 16h0m1-34h0m0 15h0m2-38h0m0 5h0m0 31h0m0 6h0m1-16h0m0 18h0m1-35h0m0 43h0m1-23h0m0 8h0m0 20h0m2-34h0m0 20h0m0 9h0m1-52h0m0 5h0m0 10h0m0 14h0m2 2h0m0 2h0m0 12h0m0 12h0m1-18h0m1-15h0m0 2h0m1-16h0m0 10h0m0 24h0m0 8h0m0 4h0m2-30h0m0 29h0m1-4h0" stroke="#c99431" stroke-width="3.2" stroke-linecap="square"/><path transform="scale(.5)" d="M704 122h0m0 18h0m0 10h0m1-14h0m0 18h0m0 3h0m1-30h0m0 20h0m0 8h0m0 2h0m1-26h0m0 3h0m0 2h0m0 8h0m0 6h0m1-34h0m1 21h0m1-31h0m0 49h0m0 5h0m1-59h0m1 16h0m0 6h0m1-4h0m0 12h0m0 13h0m1-26h0m0 31h0m0 2h0m1-26h0m0 20h0m1-15h0m0 15h0m0 10h0m1-50h0m0 17h0m0 2h0m0 7h0m0 11h0m0 15h0m0 4h0m2-51h0m0 10h0m0 14h0m0 5h0m0 16h0m0 2h0m1-52h0m0 32h0m0 23h0m1-42h0m0 6h0m0 3h0m0 12h0m0 3h0m0 16h0m1-42h0m0 17h0m0 17h0m0 10h0m2-34h0m0 18h0m0 5h0m0 5h0m0 7h0m1-43h0m0 11h0m0 18h0m1 8h0m1-44h0m0 16h0m0 6h0m0 17h0m1 3h0m0 8h0m1-49h0m0 11h0m0 5h0m0 9h0m0 2h0m0 3h0m0 7h0m0 3h0m0 3h0m1-35h0m0 27h0m0 11h0m1-19h0m1-36h0m0 7h0m0 5h0m0 4h0m0 10h0m0 7h0m0 6h0m0 6h0m0 9h0m2-37h0m0 3h0m0 24h0m0 3h0m0 10h0m1-51h0m0 8h0m0 14h0m0 5h0m0 16h0m0 5h0m2-37h0m0 16h0m0 8h0m0 6h0m0 1h0m1-33h0m0 13h0m0 11h0m0 13h0m1-44h0m0 21h0m0 14h0m1-29h0m0 28h0m0 4h0m0 8h0m2-53h0m0 25h0m0 20h0m0 8h0m1-35h0m0 4h0m0 5h0m0 8h0m0 5h0m0 9h0m1 0h0m1-42h0m0 5h0m0 12h0m0 3h0m0 4h0m0 22h0m0 3h0m1-47h0m0 23h0m0 19h0m1-27h0m0 24h0m0 8h0m1-57h0m0 21h0m0 10h0m0 2h0m0 6h0m0 5h0m0 2h0m1-48h0m0 17h0m0 6h0m0 8h0m1 5h0m0 7h0m0 3h0m0 3h0m0 7h0m0 3h0m2-56h0m0 15h0m0 15h0m0 4h0m0 9h0m0 3h0m0 1h0m0 3h0m0 4h0m1-42h0m0 8h0m0 4h0m0 13h0m1-15h0m1-31h0m0 5h0m0 21h0m0 7h0m0 3h0m0 4h0m0 1h0m0 2h0m0 3h0m0 9h0m0 8h0m2-59h0m0 8h0m0 24h0m0 21h0m0 3h0m0 3h0m1-40h0m0 16h0m0 5h0m0 11h0m1 5h0m1-44h0m0 20h0m0 3h0m0 19h0m1-34h0m0 2h0m0 15h0m0 24h0m1-51h0m0 8h0m0 19h0m0 21h0m1-50h0m0 12h0m0 5h0m0 5h0m0 5h0m0 15h0m0 4h0m1-16h0m1-27h0m0 11h0m0 2h0m0 5h0m0 5h0m0 6h0m0 2h0m0 9h0m0 2h0m0 5h0m1-43h0m1-12h0m0 16h0m0 3h0m0 33h0m1-44h0m0 15h0m0 3h0m0 3h0m0 8h0m0 6h0m0 4h0m0 8h0m2-40h0m0 14h0m0 14h0m0 4h0m0 4h0m1-38h0m0 27h0m0 15h0m1-30h0m0 9h0m0 8h0m0 16h0m1-55h0m0 20h0m0 6h0m0 16h0m0 3h0m0 2h0m1-54h0m0 42h0m2-1h0m0 3h0m0 10h0m0 3h0m1-26h0m1-16h0m1-4h0m0 36h0m1-26h0m1-12h0m1 14h0m1 14h0m1-29h0m0 16h0m0 22h0m1-3h0m0 5h0" stroke="#a47dd0" stroke-width="3.2" stroke-linecap="square"/><path transform="scale(.5)" d="M704 128h0m0 16h0m1-31h0m0 47h0m1-41h0m0 41h0m1-47h0m0 17h0m0 12h0m0 10h0m2-23h0m0 23h0m1-35h0m0 2h0m0 30h0m1 11h0m1-31h0m0 5h0m0 2h0m0 21h0m1-33h0m0 3h0m0 13h0m0 2h0m0 5h0m0 2h0m0 2h0m1-38h0m0 10h0m0 24h0m0 13h0m1-19h0m0 17h0m1-19h0m33-30h0m0 1h0m0 12h0m0 20h0m2 17h0m1-28h0m0 5h0m2 19h0m1 4h0m1-7h0m1-4h0m1-11h0m2-21h0m0 7h0m0 26h0m1-8h0m0 17h0m1-14h0m0 3h0m1-22h0m2 19h0m0 16h0m1-59h0m2 14h0m0 8h0m2-14h0m0 27h0m1-2h0m0 5h0m1 2h0m1-25h0m1 18h0m3-32h0m2 40h0m0 5h0m0 10h0m1-7h0m0 5h0m0 5h0m2-49h0m0 5h0m1 8h0m1 6h0m1 9h0m0 11h0" stroke="#7ba83f" stroke-width="3.2" stroke-linecap="square"/><path transform="scale(.5)" d="M776 107h0m0 37h0m0 16h0m1-26h0m0 2h0m0 12h0m0 2h0m0 7h0m2-53h0m0 10h0m0 10h0m0 3h0m0 9h0m0 3h0m0 14h0m1-36h0m0 15h0m0 2h0m1-26h0m0 23h0m0 24h0m0 6h0m1-25h0m0 3h0m0 3h0m0 5h0m0 2h0m0 3h0m0 5h0m1-31h0m0 19h0m1-8h0m0 15h0m0 7h0m1-45h0m0 3h0m0 37h0m0 4h0m3-14h0m1-3h0m0 8h0m1-13h0m0 9h0m0 12h0m2-20h0m0 10h0m0 7h0m3-14h0m0 20h0m3-32h0m0 4h0m0 2h0m2 23h0m1-11h0m2-36h0m0 38h0m2-7h0m0 7h0m1-27h0m2 25h0m0 6h0m1-24h0m0 3h0" stroke="#3ba7df" stroke-width="3.2" stroke-linecap="square"/><path transform="scale(.5)" d="M787 132h0m0 7h0m1-21h0m0 31h0m0 3h0m0 5h0m0 2h0m1-28h0m1-5h0m0 7h0m0 7h0m0 12h0m1-31h0m1 3h0m0 5h0m0 5h0m0 10h0m0 8h0m0 8h0m1-19h0m0 8h0m2-4h0m0 5h0m1 4h0m1-45h0m0 37h0m0 12h0m1-37h0m0 16h0m0 5h0m0 2h0m0 8h0m0 8h0m2-38h0m0 8h0m0 14h0m0 6h0m1-18h0m0 10h0m0 11h0m1-24h0m1-9h0m0 14h0m0 18h0m0 8h0m1-21h0m0 5h0m0 14h0m1-21h0m0 8h0m0 13h0m0 2h0m1-41h0m0 11h0m0 20h0m0 2h0m2-19h0m0 27h0m1-43h0m0 20h0m0 10h0m1-30h0m0 12h0m0 6h0m0 25h0m2-22h0m1 4h0m0 4h0m2-15h0m0 6h0m0 4h0m0 9h0m0 5h0m0 5h0m1-12h0m1 4h0m1-8h0m2-29h0m0 2h0m0 30h0m0 3h0m1-21h0m1 28h0m1-48h0m0 10h0m0 13h0m0 22h0m2-18h0m0 19h0m0 3h0m1-24h0m0 13h0m2-12h0m0 9h0m1 11h0m0 5h0m1-38h0m0 36h0m1-11h0m0 8h0m0 5h0m2-15h0m1-27h0m0 24h0m0 12h0m0 3h0" stroke="#27b7c2" stroke-width="3.2" stroke-linecap="square"/><path transform="scale(.5)" d="M787 155h0m1-35h0m0 14h0m0 8h0m0 6h0m1-35h0m1-4h0m0 45h0m2-43h0m1 15h0m0 5h0m0 8h0m0 19h0m2-31h0m0 20h0m0 5h0m0 6h0m2-40h0m0 21h0m1 11h0m3-23h0m0 7h0m0 5h0m0 20h0m1-10h0m1-23h0m0 16h0m2-2h0m0 15h0m3-13h0m0 2h0m0 11h0m1-5h0m0 2h0m0 2h0m0 3h0m1-18h0m0 5h0m0 14h0m1-25h0m0 8h0m0 8h0m1-30h0m0 5h0m0 21h0m1-13h0m0 1h0m0 4h0m0 13h0m0 1h0m0 4h0m0 5h0m1-21h0m1-16h0m0 10h0m0 20h0m1-27h0m0 32h0m1-30h0m0 6h0m0 5h0m0 11h0m1-35h0m0 22h0m0 4h0m0 7h0m0 6h0m0 4h0m2-33h0m0 6h0m0 6h0m0 2h0m0 2h0m0 3h0m0 14h0m0 2h0m1-26h0m0 18h0m0 3h0m1-38h0m0 8h0m0 9h0m0 5h0m0 2h0m0 10h0m1-15h0m0 9h0m0 2h0m0 3h0m0 9h0m2-44h0m0 7h0m0 6h0m0 3h0m0 11h0m0 8h0m1-11h0m0 5h0m0 16h0m2-45h0m0 11h0m0 15h0m0 6h0m0 5h0m1-15h0m0 1h0m0 20h0m1-47h0m0 18h0m0 11h0m1-7h0m0 3h0m0 6h0m0 2h0m0 5h0m0 2h0m2-30h0m0 3h0m0 10h0m0 3h0m0 13h0m0 2h0m0 8h0m1-31h0m0 2h0m0 8h0" stroke="#3bb878" stroke-width="3.2" stroke-linecap="square"/><path d="M342.5 74.68C345.01 74.86 351.92 75.73 357.58 75.73C363.24 75.73 371.4 75.03 376.43 74.68C381.46 74.34 383.34 73.47 387.74 73.64C392.14 73.81 397.79 74.97 402.82 75.73C407.85 76.48 415.39 77.76 417.9 78.16" fill="none" stroke="#1a1a1a" stroke-width="1"/><rect x="341.3" y="44.6" width="77.8" height="37.2" fill="none" stroke="#d8d8d8" stroke-width="0.8"/><path transform="scale(.5)" d="M707 92h0m0 3h0m0 2h0m0 3h0m0 2h0m0 3h0m0 3h0m0 2h0m0 3h0m0 2h0m0 3h0m0 3h0m0 2h0m0 5h0m0 3h0m0 3h0m0 2h0m0 3h0m0 8h0m0 5h0" stroke="#7ba83f" stroke-width="2.8" stroke-linecap="square"/><path transform="scale(.5)" d="M713 92h0m0 3h0m0 2h0m0 3h0m0 2h0m0 3h0m0 3h0m0 2h0m0 3h0m0 2h0m0 3h0m0 3h0m0 2h0m0 3h0m0 5h0m0 3h0m0 2h0m0 3h0m0 2h0m0 3h0m0 3h0m0 2h0m0 3h0" stroke="#7ba83f" stroke-width="2.8" stroke-linecap="square"/><path transform="scale(.5)" d="M858 108h0m0 3h0m0 1h0m0 14h0m0 3h0m0 3h0m0 4h0m0 12h0m0 7h0m1-52h0m0 13h0m0 5h0m0 2h0m0 16h0m0 6h0m0 7h0m0 6h0m0 2h0m1-39h0m0 8h0m0 20h0m0 6h0m0 3h0m1-50h0m0 15h0m0 4h0m0 9h0m0 3h0m0 2h0m0 12h0m1-39h0m0 2h0m0 15h0m0 16h0m1-37h0m0 3h0m0 13h0m1-26h0m0 3h0m0 5h0m0 13h0m0 2h0m0 5h0m0 3h0m0 4h0m0 7h0m0 2h0m0 3h0m0 3h0m0 2h0m0 2h0m0 3h0m0 3h0m2-58h0m0 6h0m0 2h0m0 3h0m0 14h0m0 7h0m0 3h0m0 4h0m0 11h0m1-52h0m0 6h0m0 18h0m0 7h0m0 26h0m1-28h0m0 15h0m0 6h0m1-45h0m0 3h0m0 2h0m0 6h0m0 2h0m0 2h0m0 4h0m0 8h0m0 4h0m0 6h0m0 10h0m0 3h0m0 2h0m1-62h0m0 44h0m1-20h0m0 9h0m0 4h0m0 3h0m0 3h0m0 4h0m0 2h0m0 3h0m0 2h0m0 2h0m0 7h0m0 3h0m1-61h0m0 3h0m0 2h0m0 3h0m0 5h0m0 2h0m0 21h0m1-22h0m0 12h0m0 6h0m0 18h0m1-56h0m0 11h0m0 3h0m0 11h0m0 2h0m0 2h0m0 10h0m0 3h0m0 3h0m0 5h0m0 3h0m0 13h0m1-44h0m0 26h0" stroke="#f0776f" stroke-width="3.2" stroke-linecap="square"/><path transform="scale(.5)" d="M858 118h0m1-19h0m0 51h0m2-39h0m0 23h0m1 25h0m1-54h0m1-7h0m0 18h0m0 2h0m0 19h0m2-21h0m0 3h0m0 2h0m0 18h0m0 5h0m0 5h0m0 6h0m0 6h0m2-14h0m2-21h0m1-2h0m0 31h0m1-45h0m0 11h0m2-18h0m0 49h0m1-41h0m0 44h0m0 2h0m1-50h0m0 42h0m0 8h0m1-31h0m0 13h0m0 5h0m0 2h0m0 9h0m2-50h0m0 11h0m0 8h0m0 14h0m0 19h0m1-21h0m2-4h0m0 9h0m0 6h0m0 2h0m0 11h0m2-57h0m0 2h0m0 37h0m1-21h0m0 31h0m1-43h0m1-14h0m0 11h0m0 22h0m0 24h0m0 8h0m1-29h0m0 2h0m0 12h0m0 2h0m0 11h0m1-19h0m0 16h0m4 2h0m2-65h0m1 41h0m0 6h0m0 21h0m1-37h0m2 16h0m1-31h0m0 50h0m1-16h0m1 11h0m2-14h0m0 11h0m0 9h0m1-31h0m1 16h0m1 10h0m3-15h0m0 16h0m1 0h0m1 3h0m0 1h0m1-40h0m1 10h0m1-34h0m0 47h0m0 7h0m0 10h0m2-30h0m0 23h0m1-8h0m1 17h0m4-64h0m0 3h0m0 14h0m0 26h0m0 2h0m0 13h0m3-37h0m0 41h0m2-17h0m0 3h0m0 5h0m0 5h0m2-9h0m2 14h0m1-24h0m0 8h0m3 5h0m0 3h0m2 3h0m1-14h0m1 1h0m0 13h0m1-10h0m1 8h0m1-1h0m1-12h0m0 10h0m2-4h0" stroke="#a47dd0" stroke-width="3.2" stroke-linecap="square"/><path transform="scale(.5)" d="M876 111h0m0 5h0m0 2h0m0 3h0m0 13h0m1-39h0m0 3h0m0 2h0m0 3h0m0 3h0m0 7h0m0 10h0m0 5h0m0 8h0m0 5h0m1-13h0m1-30h0m0 5h0m0 10h0m0 14h0m0 14h0m0 13h0m1-54h0m0 8h0m0 3h0m0 11h0m0 9h0m1-34h0m0 5h0m0 3h0m0 2h0m0 14h0m0 31h0m1-52h0m0 10h0m0 3h0m0 2h0m0 9h0m0 1h0m0 4h0m0 28h0m1-38h0m1 5h0m0 2h0m0 5h0m0 3h0m0 2h0m0 8h0m1-35h0m0 2h0m0 2h0m0 3h0m0 12h0m0 12h0m0 15h0m1-57h0m0 3h0m0 35h0m1-20h0m0 3h0m0 5h0m0 23h0m0 3h0m0 4h0m1-59h0m0 3h0m0 8h0m0 2h0m0 2h0m0 1h0m0 3h0m0 2h0m0 2h0m0 3h0m0 1h0m0 4h0m0 0h0m0 8h0m0 3h0m0 4h0m0 1h0m0 7h0m0 4h0m0 6h0m1-67h0m0 8h0m0 3h0m0 20h0m0 6h0m0 3h0m0 12h0m2-44h0m0 13h0m0 2h0m0 4h0m0 5h0m0 5h0m0 6h0m0 2h0m0 3h0m0 4h0m0 13h0m0 2h0m1-56h0m0 2h0m0 2h0m0 3h0m0 11h0m0 10h0m0 15h0m0 5h0m1-53h0m0 10h0m0 2h0m0 14h0m1-30h0m0 6h0m0 3h0m0 2h0m0 8h0m0 8h0m0 5h0m0 3h0m0 2h0m0 3h0m0 2h0m0 6h0m0 7h0m0 11h0m1-44h0m0 2h0m0 27h0m1-52h0m0 2h0m0 2h0m0 6h0m0 3h0m0 5h0m0 2h0m0 2h0m0 3h0m0 13h0m0 5h0m0 6h0m0 8h0m0 2h0m1-52h0m0 9h0m0 11h0m0 6h0m0 3h0m1-5h0m0 3h0m1-35h0m0 3h0m0 2h0m0 9h0m0 4h0m0 3h0m0 5h0m0 3h0m0 7h0m0 4h0m0 5h0m0 4h0m0 19h0m1-60h0m0 2h0m0 13h0m0 18h0m0 19h0m1-54h0m0 5h0m0 2h0m0 9h0m0 5h0m0 7h0m0 7h0m0 22h0m1-60h0m0 5h0m0 8h0m0 2h0m0 6h0m0 5h0m0 2h0m0 5h0m0 4h0m0 4h0m0 8h0m0 3h0m0 10h0m0 2h0m1-9h0m1-53h0m0 4h0m0 2h0m0 5h0m0 5h0m0 3h0m0 3h0m0 1h0m0 3h0m0 3h0m0 10h0m0 6h0m0 9h0m0 3h0m0 4h0m1-64h0m0 11h0m0 5h0m0 21h0m0 2h0m1-33h0m0 14h0m0 1h0m0 4h0m0 6h0m0 12h0m1-39h0m0 5h0m0 3h0m0 1h0m0 16h0m0 6h0m0 3h0m0 2h0m0 8h0m0 8h0m0 2h0m1-42h0m0 12h0m0 24h0m1-41h0m0 14h0m0 2h0m0 11h0m0 2h0m0 2h0m1-38h0m0 2h0m0 8h0m0 4h0m0 3h0m0 8h0m0 3h0m0 3h0m0 13h0m0 11h0m0 5h0m0 2h0m1-57h0m1-6h0m0 10h0m0 4h0m0 3h0m0 2h0m0 7h0m0 2h0m0 6h0m0 5h0m0 11h0m0 5h0m1-57h0m0 10h0m0 15h0m0 9h0m0 5h0m0 10h0m0 6h0m1-53h0m0 2h0m0 11h0m0 13h0m0 8h0m0 24h0m1-52h0m0 2h0m0 3h0m0 6h0m0 1h0m0 4h0m0 2h0m0 4h0m0 8h0m0 6h0m0 8h0m0 6h0m0 5h0m2-65h0m0 1h0m0 5h0m0 4h0m0 3h0m0 2h0m0 2h0m0 14h0m0 7h0m0 3h0m0 7h0m0 6h0m0 8h0m0 5h0m1-63h0m0 16h0m0 2h0m0 4h0m0 1h0m0 5h0m0 14h0m0 11h0m0 7h0m1-50h0m0 5h0m0 8h0m0 17h0m0 16h0m1-60h0m0 2h0m0 7h0m0 21h0m0 2h0m0 3h0m0 21h0m1-51h0m0 3h0m0 9h0m0 5h0m0 3h0m0 16h0m0 10h0m1-41h0m0 5h0m0 19h0m0 2h0m0 3h0m0 13h0m0 4h0m0 3h0m1-59h0m0 2h0m0 10h0m0 16h0m0 2h0m0 11h0m0 2h0m0 22h0m0 2h0m1-57h0m0 2h0m0 6h0m0 12h0m1-31h0m0 6h0m0 2h0m0 7h0m0 9h0m0 15h0m0 2h0m0 4h0m0 5h0m0 13h0m1-60h0m0 18h0m0 8h0m0 6h0m0 2h0m0 18h0m1-55h0m0 9h0m0 6h0m0 9h0m0 17h0m1-37h0m0 7h0m0 3h0m0 4h0m0 3h0m0 6h0m0 2h0m0 3h0m0 3h0m0 1h0m0 3h0m0 5h0m0 3h0m0 12h0m1-54h0m1-5h0m0 5h0m0 3h0m0 3h0m0 4h0m0 6h0m0 6h0m0 2h0m0 3h0m0 2h0m0 3h0m0 6h0m0 6h0m0 3h0m0 5h0m0 6h0m0 3h0m1-63h0m0 10h0m0 5h0m0 5h0m0 16h0m0 6h0m1-18h0m0 38h0m1-65h0m0 3h0m0 4h0m0 8h0m0 4h0m0 2h0m0 3h0m0 5h0m0 6h0m0 15h0m0 5h0m0 5h0m0 2h0m1-57h0m0 6h0m0 2h0m0 18h0m0 8h0m0 3h0m1-42h0m0 3h0m0 2h0m0 3h0m0 3h0m0 2h0m0 9h0m0 2h0m0 7h0m0 5h0m0 6h0m0 8h0m0 15h0m1-47h0m0 8h0m0 3h0m0 5h0m0 5h0m0 5h0m0 8h0m0 11h0m0 5h0m1-66h0m0 9h0m1-11h0m0 5h0m0 8h0m0 3h0m0 2h0m0 3h0m0 3h0m0 3h0m0 2h0m0 2h0m0 3h0m0 8h0m0 16h0m0 10h0m1-59h0m0 38h0m1-46h0m0 2h0m0 3h0m0 10h0m0 14h0m0 1h0m0 6h0m0 8h0m0 3h0m1-37h0m0 2h0m0 5h0m0 3h0m0 3h0m0 3h0m0 7h0m0 6h0m0 25h0m0 3h0m2-58h0m0 6h0m0 3h0m0 4h0m0 4h0m0 1h0m0 5h0m0 4h0m0 3h0m0 4h0m0 23h0m1-61h0m0 2h0m0 24h0m0 10h0m0 13h0m0 11h0m1-58h0m0 3h0m0 5h0m0 21h0m0 2h0m0 6h0m1-43h0m0 3h0m0 8h0m0 10h0m0 3h0m0 3h0m0 18h0m0 3h0m0 2h0m0 7h0m0 6h0m1-47h0m0 3h0m0 10h0m0 3h0m0 8h0m2-39h0m0 2h0m0 4h0m0 9h0m0 9h0m0 4h0m0 8h0m0 3h0m0 5h0m0 13h0m0 5h0m1-54h0m0 3h0m0 15h0m0 8h0m0 7h0m1-21h0m0 30h0m0 10h0m1-54h0m0 4h0m0 3h0m0 5h0m0 8h0m0 5h0m0 5h0m0 5h0m0 5h0m1-49h0m0 3h0m0 23h0m1-26h0m0 7h0m0 9h0m0 8h0m0 2h0m0 32h0m1-53h0m0 5h0m0 21h0m0 14h0m0 10h0m0 5h0m1-47h0m1-5h0m0 2h0m0 5h0m0 18h0m0 15h0m0 2h0m0 18h0m2-52h0m0 13h0m0 5h0m0 13h0m0 11h0m0 2h0m0 5h0m1-60h0m0 6h0m0 7h0m0 6h0m0 2h0m0 11h0m0 2h0m0 5h0m0 9h0m0 9h0m2-47h0m0 3h0m0 8h0m0 8h0m0 11h0m0 5h0m0 5h0m0 10h0m1-43h0m0 1h0m0 6h0m0 2h0m0 6h0m0 2h0m1-23h0m0 6h0m0 28h0m0 18h0m1-55h0m0 5h0m0 6h0m0 5h0m0 13h0m0 13h0m0 8h0m2-55h0m0 3h0m0 2h0m0 3h0m0 7h0m0 8h0m0 36h0m1-49h0m0 3h0m0 21h0m0 2h0m0 4h0m0 9h0m0 5h0m1-52h0m0 12h0m0 5h0m0 7h0m1-29h0m0 3h0m0 5h0m0 11h0m0 15h0m0 6h0m0 7h0m0 3h0m0 5h0m1-57h0m0 26h0m0 3h0m0 15h0m2-47h0m0 3h0m0 2h0m0 11h0m0 2h0m0 6h0m0 2h0m0 3h0m0 5h0m0 5h0m0 6h0m0 13h0m0 5h0m0 2h0m0 4h0m1-60h0m0 1h0m0 3h0m0 9h0m0 10h0m0 18h0m0 11h0m1-3h0m1-55h0m0 2h0m0 3h0m0 2h0m0 4h0m0 2h0m0 2h0m0 3h0m0 2h0m0 5h0m0 4h0m0 5h0m0 5h0m0 2h0m0 5h0m0 5h0m0 6h0m0 2h0m0 4h0m0 1h0m1-40h0m0 7h0m0 6h0m0 13h0m1-37h0m0 2h0m0 13h0m0 6h0m0 2h0m0 4h0m0 5h0m0 6h0m0 6h0m0 3h0m0 3h0m1-55h0m0 3h0m0 8h0m0 2h0m0 2h0m0 3h0m0 5h0m0 10h0m0 6h0m0 2h0m0 6h0m0 10h0m2-62h0m0 2h0m0 10h0m0 2h0m0 6h0m0 8h0m0 2h0m0 5h0m0 9h0m0 2h0m0 3h0m0 3h0m0 2h0m0 2h0m0 6h0m1-66h0m0 11h0m0 3h0m0 8h0m0 5h0m0 2h0m0 8h0m0 6h0m0 2h0m0 18h0m1-54h0m0 7h0m0 11h0m0 4h0m0 4h0m0 8h0m0 2h0m0 14h0m1-61h0m0 3h0m0 3h0m0 2h0m0 5h0m0 3h0m0 6h0m0 2h0m0 2h0m0 5h0m0 11h0m0 8h0m0 2h0m0 2h0m0 3h0m0 8h0m0 3h0m1-28h0m1-40h0m0 3h0m0 6h0m0 5h0m0 2h0m0 5h0m0 8h0m0 5h0m0 2h0m0 6h0m0 2h0m0 3h0m0 3h0m0 2h0m0 3h0m0 2h0m0 3h0m1-55h0m0 5h0m0 8h0m0 6h0m0 2h0m0 5h0m0 8h0m0 24h0m0 2h0m0 3h0m1-47h0m0 16h0m0 26h0m0 5h0m1-65h0m0 5h0m0 2h0m0 3h0m0 3h0m0 7h0m0 3h0m0 3h0m0 5h0m0 5h0m0 6h0m0 1h0m0 8h0m0 3h0m0 8h0m1-65h0m0 6h0m0 13h0m0 13h0m0 9h0m0 9h0m0 3h0m0 8h0m1-61h0m0 3h0m0 2h0m0 6h0m0 3h0m0 2h0m0 10h0m0 11h0m0 11h0m0 5h0m0 1h0m0 4h0m0 3h0m0 1h0m0 4h0m0 2h0m1-59h0m0 9h0m0 2h0m0 4h0m0 5h0m0 3h0m0 3h0m0 4h0m0 3h0m0 8h0m1-35h0m0 26h0m0 4h0m0 2h0m1-41h0m0 2h0m0 3h0m0 10h0m0 2h0m0 6h0m0 6h0m0 4h0m0 14h0m0 3h0m0 1h0m0 2h0m0 4h0m0 3h0m1-66h0m0 3h0m0 10h0m0 5h0m0 8h0m0 5h0m0 6h0m0 12h0m0 18h0m1-59h0m0 6h0m0 2h0m0 5h0m0 3h0m0 8h0m0 7h0m0 5h0m0 4h0m0 4h0m1-52h0m0 3h0m0 16h0m0 10h0m0 6h0m0 2h0m0 6h0m0 6h0m0 6h0m0 2h0m0 3h0m0 2h0m0 7h0m2-66h0m0 3h0m0 8h0m0 5h0m0 3h0m0 2h0m0 2h0m0 3h0m0 5h0m0 3h0m0 3h0m0 7h0m0 2h0m0 14h0m0 4h0m1-67h0m0 7h0m0 8h0m0 16h0m0 12h0m0 2h0m0 10h0m0 2h0m0 3h0m1-52h0m0 15h0m0 6h0m0 23h0m0 5h0m1-56h0m0 3h0m0 1h0m0 11h0m0 2h0m0 8h0m0 6h0m0 2h0m0 3h0m0 3h0m0 5h0m0 2h0m0 2h0m0 6h0m0 5h0m0 3h0m1-53h0m0 4h0m0 8h0m0 19h0m0 24h0m0 3h0" stroke="#7ba83f" stroke-width="3.2" stroke-linecap="square"/><path transform="scale(.5)" d="M876 131h0m0 29h0m1-7h0m2-6h0m0 3h0m1-16h0m0 11h0m0 7h0m0 8h0m1-23h0m1 2h0m0 6h0m2 3h0m0 1h0m0 8h0m1 3h0m1-21h0m1-27h0m0 45h0m1-54h0m3 39h0m0 8h0m0 5h0m2-16h0m0 15h0m1-2h0m2-8h0m0 11h0m0 3h0m1-12h0m2-2h0m0 3h0m1 3h0m0 5h0m2-16h0m2 5h0m1 3h0m2 10h0m0 3h0m2-10h0m1-39h0m0 33h0m2-43h0m0 38h0m0 3h0m3-6h0m1 8h0m3 11h0m1-23h0m0 9h0m0 6h0m1 11h0m1-39h0m1-8h0m0 5h0m0 32h0m1-3h0m1 12h0m1-17h0m0 9h0m0 4h0m1-6h0m1 11h0m0 2h0m2 0h0m1-21h0m2 0h0m1 11h0m1-3h0m1-8h0m1 6h0m1-14h0m0 6h0m0 10h0m0 5h0m1 6h0m2-8h0m1-2h0m1-43h0m0 37h0m1 2h0m0 10h0m1-4h0m1 4h0m3-40h0m0 13h0m0 22h0m1-41h0m0 8h0m0 31h0m1 5h0m1-50h0m0 33h0m0 12h0m0 2h0m0 11h0m1-21h0m1-44h0m0 26h0m0 8h0m0 10h0m0 6h0m0 12h0m1-51h0m0 8h0m0 13h0m0 4h0m0 3h0m0 25h0m1-22h0m0 10h0m0 6h0m1-55h0m0 13h0m0 3h0m0 4h0m0 6h0m0 5h0m0 26h0m0 3h0m1-9h0m1-48h0m0 22h0m1-31h0m0 21h0m0 28h0m0 6h0m2-46h0m0 44h0m0 15h0m1-57h0m0 36h0m0 11h0m1-27h0m0 14h0m0 3h0m1 4h0m0 5h0m1-21h0m1-7h0m0 5h0m0 5h0m0 10h0m1-46h0m0 53h0m1-37h0m1-3h0m0 21h0m0 21h0m0 10h0m1-19h0" stroke="#3ba7df" stroke-width="3.2" stroke-linecap="square"/><path transform="scale(.5)" d="M949 154h0m0 6h0m1-16h0m2-46h0m0 13h0m0 18h0m0 28h0m2-16h0m1-30h0m1 11h0m0 23h0m1-14h0m0 3h0m2 1h0m0 25h0m1-65h0m1 59h0m1-2h0m1-47h0m1 52h0m1-55h0m0 24h0m0 5h0m0 21h0m2-55h0m0 32h0m0 23h0m1-7h0m0 13h0m1-3h0m0 2h0m35-32h0m0 25h0m1-39h0m0 5h0m0 21h0m0 5h0m1-45h0m0 35h0m0 7h0m0 8h0m0 4h0m1-57h0m0 58h0m1-54h0m0 12h0m0 6h0m0 2h0m0 5h0m0 22h0m0 3h0m1-17h0" stroke="#27b7c2" stroke-width="3.2" stroke-linecap="square"/><path transform="scale(.5)" d="M1005 99h0m0 3h0m0 3h0m0 16h0m0 3h0m0 5h0m0 5h0m0 11h0m0 9h0m0 3h0m0 2h0m1-50h0m0 5h0m0 5h0m1-19h0m0 28h0m0 6h0m0 23h0m1-54h0m0 2h0m0 3h0m0 6h0m0 8h0m0 5h0m0 9h0m0 2h0m0 4h0m0 8h0m0 5h0" stroke="#3bb878" stroke-width="3.2" stroke-linecap="square"/><path d="M428.6 70.16C431.12 68.42 438.05 62.91 443.72 59.72C449.39 56.53 457.58 51.89 462.62 51.02C467.66 50.15 469.55 52.18 473.96 54.5C478.37 56.82 484.04 62.91 489.08 64.94C494.12 66.97 501.68 66.39 504.2 66.68" fill="none" stroke="#1a1a1a" stroke-width="1"/><rect x="427.4" y="44.6" width="78" height="37.2" fill="none" stroke="#d8d8d8" stroke-width="0.8"/><path transform="scale(.5)" d="M686 237h0m0 3h0m0 10h0m0 11h0m0 3h0m0 2h0m0 3h0m0 5h0m1-54h0m0 25h0m0 3h0m0 5h0m0 3h0m0 2h0m0 14h0m1-16h0m0 2h0m0 13h0m1-44h0m0 10h0m0 5h0m0 3h0m0 3h0m0 6h0m0 6h0m0 4h0m0 5h0m0 5h0m1-23h0m0 15h0m1-36h0m0 12h0m0 6h0m0 5h0m0 5h0m0 3h0m0 4h0m1-25h0m0 6h0m0 4h0m0 6h0m0 7h0m0 6h0m0 2h0m0 2h0m1-12h0m1-28h0m0 10h0m0 7h0m0 3h0m0 2h0m0 8h0m0 2h0m0 6h0m0 2h0m1-41h0m0 14h0m0 12h0m0 11h0m1-21h0m0 13h0m1-39h0m0 31h0m0 2h0m0 3h0m0 5h0m0 2h0m0 3h0m0 3h0m0 2h0m2-42h0m0 7h0m0 5h0m0 11h0m0 4h0m0 2h0m0 3h0m1-43h0m0 26h0m0 1h0m0 3h0m0 6h0m0 10h0m0 2h0m0 6h0" stroke="#f0776f" stroke-width="3.2" stroke-linecap="square"/><path transform="scale(.5)" d="M701 248h0m0 11h0m0 10h0m1-30h0m0 33h0m1-14h0m0 15h0m1-49h0m0 16h0m0 5h0m0 21h0m1-24h0m0 14h0m1 2h0m1-12h0m0 14h0m0 4h0m1-44h0m0 9h0m1 10h0m0 9h0m0 21h0m1 2h0m1-29h0m0 13h0m0 8h0m1-39h0m0 15h0m0 12h0m0 2h0m0 21h0m1-13h0m1-21h0m0 16h0m0 8h0m0 5h0m1-33h0m0 10h0m0 26h0m1-16h0m1-13h0m0 15h0m0 16h0m1-24h0m1-15h0m0 17h0m0 3h0m0 14h0m1-31h0m0 13h0m0 8h0m2-32h0m0 8h0m0 7h0m0 3h0m0 2h0m0 4h0m0 8h0m0 2h0m0 8h0m0 2h0m2-9h0m0 9h0m1-31h0m0 11h0m0 5h0m0 3h0m0 15h0m1-11h0m1-26h0m0 13h0m0 9h0m1-14h0m0 11h0m0 5h0m0 10h0m1-22h0m0 25h0m1-20h0m0 1h0m0 3h0m0 9h0m0 2h0m1-42h0m0 11h0m0 8h0m0 7h0m0 3h0m0 5h0m0 0h0m0 10h0m0 1h0m1-48h0m0 23h0m0 17h0m0 2h0m1-43h0m1-9h0m0 5h0m0 26h0m0 2h0m0 12h0m0 2h0m0 4h0m0 9h0m1-21h0m0 3h0m0 13h0m1-35h0m0 21h0m1-25h0m0 8h0m0 5h0m0 2h0m0 19h0m0 5h0m0 5h0m1-54h0m1 20h0m0 10h0m0 5h0m0 8h0m0 3h0m1-24h0m0 10h0m0 20h0m1-44h0m1-10h0m0 21h0m0 22h0m0 8h0m1-44h0m0 21h0m0 2h0m1-32h0m0 22h0m0 4h0m0 7h0m0 2h0m0 2h0m0 6h0m1-18h0m0 4h0m0 11h0m0 5h0m0 8h0m0 2h0m2-34h0m0 5h0m0 31h0m1-34h0m0 19h0m0 3h0m0 5h0m0 5h0m1-45h0m0 9h0m0 32h0m1-53h0m0 26h0m0 6h0m0 5h0m0 2h0m0 2h0m2-12h0m0 6h0m0 5h0m0 4h0m0 10h0m0 5h0m1-38h0m0 3h0" stroke="#c99431" stroke-width="3.2" stroke-linecap="square"/><path transform="scale(.5)" d="M701 230h0m0 5h0m0 16h0m0 9h0m1-38h0m0 3h0m0 30h0m0 8h0m0 3h0m0 8h0m2-43h0m0 4h0m0 16h0m0 9h0m0 9h0m1-16h0m1-16h0m0 6h0m1-14h0m0 20h0m0 2h0m0 2h0m0 2h0m0 12h0m0 2h0m0 3h0m1-6h0m1-26h0m0 23h0m1-11h0m0 4h0m0 2h0m1-28h0m1 8h0m0 7h0m0 3h0m0 10h0m0 8h0m0 3h0m0 2h0m2-34h0m0 11h0m0 10h0m0 2h0m1-7h0m0 14h0m1-22h0m0 27h0m1-24h0m0 5h0m0 8h0m0 8h0m1-3h0m1-41h0m0 4h0m0 15h0m0 5h0m0 25h0m1-53h0m0 25h0m0 17h0m0 3h0m0 5h0m2-15h0m0 7h0m0 10h0m1-41h0m2 5h0m0 5h0m0 12h0m0 11h0m0 4h0m2-27h0m0 6h0m0 15h0m0 4h0m0 7h0m1-20h0m0 14h0m2-37h0m0 15h0m0 4h0m0 14h0m1-42h0m0 11h0m0 1h0m0 5h0m0 4h0m0 0h0m1 7h0m0 8h0m1-42h0m0 27h0m1-12h0m0 6h0m0 3h0m0 10h0m0 14h0m0 7h0m1-45h0m0 2h0m1 20h0m0 3h0m0 11h0m1-38h0m0 29h0m0 5h0m0 8h0m0 5h0m2-51h0m0 41h0m0 8h0m0 5h0m1-51h0m0 4h0m0 5h0m0 5h0m0 9h0m0 2h0m0 11h0m1-18h0m1-10h0m0 5h0m0 6h0m0 8h0m0 4h0m0 1h0m0 8h0m0 2h0m0 6h0m0 3h0m2-45h0m0 5h0m0 30h0m1-42h0m0 10h0m0 34h0m0 8h0m2-29h0m0 9h0m0 10h0m1-47h0m0 33h0m0 6h0m1 13h0m1-39h0m0 2h0m0 5h0m0 12h0m0 12h0m0 3h0m0 7h0m0 3h0m1-32h0m0 17h0m1-40h0m0 2h0m0 13h0m0 11h0m0 6h0m0 5h0m0 10h0m1-5h0m0 2h0m0 4h0m0 5h0m1-31h0m0 4h0m0 5h0m0 11h0m0 7h0m0 4h0m0 2h0m1-37h0m1-25h0m0 7h0m0 11h0m0 10h0m0 18h0m1-42h0m0 10h0m0 17h0m0 4h0m0 9h0m0 5h0m0 12h0m1-59h0m0 18h0m1-13h0m0 11h0m0 2h0m0 13h0m0 5h0m0 3h0m1-47h0m0 19h0m0 33h0m0 2h0m0 8h0m1-31h0m0 16h0m0 12h0m0 9h0m1-51h0m0 1h0m0 16h0m0 3h0m0 5h0m0 8h0m0 2h0m0 2h0m0 9h0m1-56h0m0 23h0m1-21h0m0 18h0m0 5h0m0 9h0m0 14h0m1-43h0m0 17h0m0 4h0m0 4h0m0 2h0m0 6h0m0 12h0m2-34h0m0 5h0m0 18h0m0 3h0m0 6h0m0 10h0m0 3h0m1-56h0m0 2h0m0 3h0m0 9h0m0 5h0m1-12h0m0 18h0m0 28h0m1-58h0m0 4h0m0 5h0m0 11h0m0 2h0m0 6h0m0 5h0m0 4h0m0 6h0m0 7h0m0 3h0m0 2h0m1-39h0m1-1h0m0 10h0m0 20h0m0 4h0m0 2h0m0 10h0m1-48h0m0 17h0m0 5h0m0 21h0m1-32h0m0 21h0m0 5h0m0 3h0m1-40h0m0 3h0m0 11h0m0 3h0m0 4h0m0 7h0m0 6h0m0 8h0m1-17h0m1-19h0m0 6h0m0 2h0m0 6h0m0 2h0m0 5h0m0 3h0m0 13h0m1-45h0m0 2h0m0 35h0m0 12h0" stroke="#a47dd0" stroke-width="3.2" stroke-linecap="square"/><path transform="scale(.5)" d="M701 245h0m0 7h0m1-24h0m2 35h0m3 11h0m2-13h0m1-18h0m0 3h0m0 27h0m2-39h0m2 17h0m0 24h0m4-51h0m5 43h0m2-22h0m6-22h0" stroke="#7ba83f" stroke-width="3.2" stroke-linecap="square"/><path transform="scale(.5)" d="M753 255h0m1-27h0m0 4h0m0 22h0m0 4h0m0 6h0m1-29h0m0 8h0m0 5h0m1-13h0m1-14h0m0 16h0m0 26h0m0 4h0m0 1h0m0 4h0m1-48h0m0 21h0m1-8h0m0 11h0m0 19h0m1-11h0m0 8h0m0 7h0m0 3h0m1-41h0m0 17h0m1-31h0m0 26h0m0 18h0m0 8h0m2-61h0m0 15h0m0 5h0m0 24h0m0 20h0m1-55h0m0 40h0m0 7h0m0 2h0m0 3h0m1-5h0m1-39h0m0 13h0m0 8h0m0 2h0m0 9h0m0 4h0m0 6h0m1-27h0m0 4h0m1 12h0m0 3h0m0 13h0m1-55h0m0 29h0m0 5h0m1-15h0m1-7h0m0 9h0m0 6h0m0 4h0m0 4h0m0 2h0m0 16h0m1-55h0m0 5h0m0 13h0m0 31h0m2-50h0m0 8h0m0 8h0m0 24h0m0 16h0m0 1h0m1-38h0m1 23h0m1-45h0m0 10h0m0 7h0m0 4h0m0 9h0m0 23h0m0 5h0" stroke="#3ba7df" stroke-width="3.2" stroke-linecap="square"/><path transform="scale(.5)" d="M779 228h0m1 5h0m0 15h0m0 3h0m0 2h0m0 3h0m0 5h0m0 2h0m0 10h0m2-55h0m0 37h0m0 3h0m0 11h0m0 3h0m1-41h0m0 20h0m0 10h0m0 3h0m1-25h0m0 15h0m1-30h0m0 6h0m0 3h0m0 2h0m0 2h0m0 5h0m0 8h0m0 8h0m0 3h0m0 5h0m0 5h0m0 2h0m1-17h0m1-37h0m0 6h0m0 7h0m0 10h0m0 3h0m0 3h0m1-20h0m0 12h0m0 13h0m0 5h0m0 9h0m2-53h0m0 8h0m0 13h0m0 13h0m0 2h0m0 5h0m1-14h0m0 1h0m0 29h0m0 3h0m1-57h0m0 2h0m0 23h0m0 24h0m1-36h0m0 1h0m0 3h0m0 6h0m0 5h0m0 3h0m0 3h0m0 7h0m0 5h0m2-49h0m0 22h0m0 11h0m0 4h0m0 8h0m0 4h0m1-18h0m0 11h0m0 15h0m1-31h0m1-8h0m0 3h0m0 11h0m0 5h0m0 2h0m0 16h0m0 5h0m1-26h0m1-8h0m0 14h0m0 12h0m1-39h0m0 10h0m0 13h0m0 8h0m0 3h0m0 2h0m0 6h0m0 3h0m0 2h0m2-42h0m0 3h0m1 10h0m0 9h0m0 9h0m0 6h0m2-26h0m1 15h0m2 5h0m1-20h0m2 2h0m0 17h0m0 1h0m1 11h0m1-33h0m0 5h0m0 17h0m0 11h0m1-31h0m2-17h0m0 27h0m0 8h0m0 10h0m0 2h0m1-6h0m1-7h0m1-40h0m0 20h0m0 26h0m1-23h0m0 28h0m1-36h0m0 23h0m0 8h0m0 2h0m0 4h0m1-34h0m0 15h0m1 15h0m1-40h0m0 26h0m0 17h0m2-29h0m3 9h0m0 13h0m1-24h0m1-16h0m1 26h0m1 6h0m1-3h0m1-30h0m0 27h0" stroke="#27b7c2" stroke-width="3.2" stroke-linecap="square"/><path transform="scale(.5)" d="M779 266h0m1-44h0m0 19h0m0 4h0m0 13h0m0 11h0m0 3h0m2-59h0m0 21h0m0 11h0m0 3h0m1-10h0m0 2h0m0 2h0m0 12h0m0 12h0m0 9h0m1-30h0m0 24h0m1-53h0m0 31h0m0 16h0m2-54h0m0 12h0m0 14h0m0 3h0m0 13h0m0 5h0m0 5h0m0 2h0m0 6h0m1-40h0m0 42h0m0 3h0m1-44h0m0 8h0m1-19h0m0 13h0m0 14h0m0 14h0m1-6h0m0 4h0m0 7h0m0 4h0m1-16h0m0 19h0m1-47h0m0 31h0m0 4h0m0 9h0m0 5h0m2-51h0m0 20h0m0 10h0m1-41h0m0 5h0m0 8h0m0 35h0m0 6h0m0 2h0m0 5h0m1-15h0m1-44h0m0 41h0m0 6h0m0 10h0m1-41h0m0 13h0m1-9h0m0 9h0m0 2h0m0 10h0m1-45h0m0 21h0m0 2h0m0 15h0m2-27h0m0 19h0m0 3h0m0 4h0m0 9h0m0 2h0m0 3h0m0 6h0m0 7h0m1-63h0m2 45h0m0 18h0m1-53h0m0 6h0m0 6h0m0 2h0m0 2h0m0 4h0m0 5h0m0 1h0m0 4h0m0 2h0m0 11h0m0 3h0m1-49h0m0 51h0m0 3h0m1-42h0m0 17h0m0 4h0m0 15h0m1-48h0m0 11h0m0 10h0m0 14h0m0 3h0m0 3h0m0 2h0m0 8h0m0 3h0m0 2h0m2-46h0m0 16h0m0 6h0m0 3h0m0 3h0m0 3h0m0 7h0m0 2h0m0 3h0m1-23h0m2-26h0m0 8h0m0 5h0m0 2h0m0 11h0m0 3h0m0 2h0m0 2h0m0 4h0m0 2h0m0 5h0m0 2h0m2-28h0m0 2h0m0 3h0m0 5h0m0 9h0m0 10h0m1-47h0m0 7h0m0 6h0m0 2h0m0 12h0m0 6h0m0 8h0m1-26h0m0 11h0m0 7h0m1-20h0m0 16h0m0 2h0m0 6h0m0 5h0m0 4h0m0 6h0m1-28h0m1-15h0m0 19h0m0 5h0m0 5h0m0 4h0m0 9h0m1-45h0m0 5h0m0 7h0m0 3h0m0 2h0m0 2h0m1 14h0m0 12h0m1-46h0m0 5h0m0 2h0m0 6h0m0 3h0m0 2h0m0 3h0m0 8h0m0 3h0m1-8h0m0 13h0m0 3h0m1-36h0m0 14h0m0 2h0m0 7h0m0 2h0m0 3h0m0 4h0m1-34h0m0 5h0m0 3h0m0 4h0m0 10h0m0 9h0m0 6h0m0 2h0m0 4h0m0 2h0m2-50h0m0 18h0m0 3h0m0 3h0m0 5h0m0 18h0m1-36h0m0 2h0m0 18h0m0 6h0m0 5h0m0 3h0m0 5h0m1-31h0m0 2h0m0 4h0m1-20h0m0 6h0m0 2h0m0 3h0m0 13h0m0 6h0m0 5h0m0 1h0m0 7h0m0 2h0m1-14h0m0 9h0m1-51h0m0 8h0m0 14h0m0 18h0m0 3h0m0 3h0m0 4h0m0 3h0m1-28h0m0 3h0m0 2h0m0 7h0m0 11h0m0 8h0" stroke="#3bb878" stroke-width="3.2" stroke-linecap="square"/><path d="M342.5 135.18C346.27 135.01 357.58 134.72 365.12 134.14C372.66 133.56 381.46 131.95 387.74 131.72C394.02 131.49 397.79 132.12 402.82 132.76C407.85 133.39 415.39 135.06 417.9 135.52" fill="none" stroke="#1a1a1a" stroke-width="1"/><rect x="341.3" y="101.8" width="77.8" height="37" fill="none" stroke="#d8d8d8" stroke-width="0.8"/><path transform="scale(.5)" d="M858 234h0m0 22h0m0 11h0m1-24h0m0 20h0m1-16h0m0 19h0m1-27h0m0 14h0m0 3h0m0 18h0m1-40h0m0 35h0m0 3h0m1-27h0m0 2h0m0 3h0m0 5h0m0 14h0m0 3h0m1-38h0m0 5h0m0 22h0m0 2h0m0 11h0m2-32h0m0 5h0m0 22h0m1-16h0m0 10h0m0 9h0m1-1h0m1-35h0m0 5h0m0 11h0m0 11h0m0 12h0m2-15h0m0 7h0m0 2h0m1-22h0m0 24h0m1 4h0m1-13h0m1-16h0m0 26h0" stroke="#f0776f" stroke-width="3.2" stroke-linecap="square"/><path transform="scale(.5)" d="M858 228h0m0 31h0m0 10h0m0 5h0m1-13h0m0 10h0m1-12h0m1 4h0m1-34h0m0 31h0m2-35h0m0 41h0m2 8h0m1-14h0m1-11h0m0 17h0m1-7h0m0 10h0m2-28h0m0 23h0m1 10h0m2-7h0m0 2h0m1-18h0m1-6h0m0 5h0m0 3h0m1 15h0m0 5h0m2-34h0m0 36h0m1-51h0m1 37h0m1-10h0m0 7h0m0 8h0m2-24h0m0 27h0m1-43h0m0 20h0m2-3h0m0 5h0m1-11h0m1 21h0m2 13h0m1-8h0m1 2h0m1-6h0m2 5h0m1-34h0m0 32h0m2-30h0m1 40h0m1-4h0m4-9h0m0 7h0m4 9h0m1-12h0m1-3h0m1-41h0m2 39h0m1-3h0m2-25h0m1 10h0m0 21h0m2-3h0m2-13h0m0 18h0m1-7h0m2-19h0m1 19h0m1 12h0m1-28h0m0 19h0m2-7h0m0 6h0m0 14h0m1-60h0m4 47h0m3 13h0m1-42h0m7-5h0m1 43h0" stroke="#a47dd0" stroke-width="3.2" stroke-linecap="square"/><path transform="scale(.5)" d="M876 256h0m0 7h0m0 3h0m0 5h0m1-36h0m0 25h0m2 0h0m0 4h0m0 2h0m1-18h0m0 8h0m0 13h0m0 2h0m1-60h0m0 43h0m1-19h0m2-23h0m0 17h0m0 21h0m0 13h0m0 8h0m1-57h0m0 39h0m0 6h0m0 15h0m1-35h0m0 0h0m1-14h0m0 7h0m0 21h0m0 3h0m0 5h0m0 8h0m0 5h0m1-53h0m0 6h0m0 10h0m0 4h0m0 9h0m0 5h0m0 3h0m0 6h0m0 2h0m0 0h0m0 5h0m0 0h0m1-56h0m0 2h0m0 3h0m0 4h0m0 6h0m0 2h0m0 3h0m0 8h0m0 4h0m0 4h0m0 2h0m0 8h0m0 7h0m2-38h0m0 2h0m0 3h0m0 2h0m0 4h0m0 5h0m0 2h0m0 8h0m0 5h0m1-44h0m0 2h0m0 4h0m0 1h0m0 19h0m0 8h0m0 8h0m0 10h0m0 5h0m1-55h0m0 9h0m0 14h0m0 6h0m0 5h0m0 21h0m1-65h0m0 15h0m0 9h0m0 5h0m0 2h0m0 5h0m0 6h0m0 13h0m0 5h0m0 3h0m1-55h0m0 13h0m0 5h0m0 21h0m0 5h0m1-36h0m0 10h0m0 5h0m0 3h0m0 2h0m0 11h0m1-44h0m0 1h0m0 7h0m0 7h0m0 6h0m0 4h0m0 10h0m0 4h0m0 3h0m0 11h0m0 4h0m0 3h0m0 2h0m2-60h0m0 3h0m0 3h0m0 5h0m0 3h0m0 2h0m0 8h0m0 5h0m0 5h0m0 3h0m0 2h0m0 3h0m0 4h0m0 4h0m0 2h0m0 2h0m0 6h0m1-39h0m0 5h0m0 5h0m0 13h0m1-36h0m0 13h0m0 2h0m0 16h0m0 8h0m0 2h0m1-56h0m0 8h0m0 1h0m0 4h0m0 4h0m0 5h0m0 3h0m0 8h0m0 2h0m0 4h0m0 2h0m0 3h0m0 5h0m0 2h0m0 8h0m0 7h0m2-61h0m0 3h0m0 1h0m0 7h0m0 4h0m0 3h0m0 5h0m0 3h0m0 5h0m0 10h0m0 3h0m0 12h0m1-49h0m0 6h0m0 7h0m0 7h0m0 6h0m0 3h0m0 3h0m0 10h0m0 2h0m0 9h0m0 3h0m1-35h0m0 16h0m0 16h0m1-47h0m0 3h0m0 1h0m0 3h0m0 3h0m0 3h0m0 8h0m0 2h0m0 6h0m0 7h0m0 2h0m0 3h0m0 2h0m0 6h0m1-31h0m0 8h0m1-42h0m0 10h0m0 6h0m0 8h0m0 8h0m0 4h0m0 13h0m0 2h0m1-48h0m0 2h0m0 3h0m0 5h0m0 6h0m0 2h0m0 7h0m0 6h0m0 5h0m0 6h0m0 14h0m0 4h0m1-23h0m0 9h0m1-44h0m0 2h0m0 9h0m0 2h0m0 5h0m0 3h0m0 5h0m0 2h0m0 9h0m0 4h0m0 9h0m0 4h0m0 4h0m1-19h0m1-28h0m0 3h0m0 15h0m0 4h0m0 6h0m0 15h0m0 6h0m1-55h0m0 3h0m0 7h0m0 3h0m0 2h0m0 7h0m0 4h0m0 5h0m0 11h0m0 6h0m0 4h0m2-61h0m0 5h0m0 10h0m0 2h0m0 5h0m0 5h0m0 6h0m0 2h0m0 8h0m0 13h0m0 6h0m1-61h0m0 6h0m0 2h0m0 2h0m0 14h0m0 16h0m0 5h0m0 2h0m0 5h0m0 6h0m1-47h0m0 3h0m0 9h0m0 19h0m1-40h0m0 4h0m0 2h0m0 10h0m0 3h0m0 5h0m0 4h0m0 4h0m0 3h0m0 3h0m0 5h0m0 7h0m0 2h0m0 6h0m1-28h0m0 18h0m0 13h0m1-57h0m0 3h0m0 8h0m0 7h0m0 5h0m0 7h0m0 11h0m0 13h0m1-59h0m0 2h0m0 8h0m0 3h0m0 4h0m0 4h0m0 5h0m0 15h0m0 9h0m0 4h0m1-54h0m0 13h0m0 43h0m1-54h0m0 2h0m0 18h0m0 7h0m0 2h0m0 8h0m0 2h0m0 5h0m0 4h0m0 4h0m1-46h0m0 1h0m0 7h0m0 20h0m0 25h0m1-44h0m0 5h0m0 11h0m0 4h0m0 17h0m0 5h0m1-56h0m0 1h0m0 3h0m0 2h0m0 3h0m0 2h0m0 12h0m0 5h0m0 7h0m0 3h0m0 10h0m0 11h0m1-14h0m1-44h0m0 3h0m0 6h0m0 2h0m0 3h0m0 2h0m0 3h0m0 2h0m0 10h0m0 4h0m0 13h0m0 2h0m0 3h0m1-55h0m0 9h0m0 20h0m0 13h0m1-31h0m0 2h0m0 29h0m0 8h0m1-45h0m0 11h0m0 2h0m0 3h0m0 3h0m0 2h0m0 3h0m0 3h0m0 4h0m0 3h0m0 13h0m0 2h0m0 6h0m1-60h0m0 8h0m0 26h0m0 13h0m0 11h0m1-52h0m0 4h0m0 14h0m0 5h0m0 10h0m0 3h0m0 10h0m1-54h0m0 2h0m0 2h0m0 6h0m0 6h0m0 2h0m0 3h0m0 2h0m0 6h0m0 4h0m0 3h0m0 2h0m0 13h0m0 6h0m0 3h0m0 2h0m1-65h0m0 36h0m1-31h0m0 2h0m0 6h0m0 2h0m0 9h0m0 2h0m0 14h0m0 1h0m0 5h0m0 4h0m0 3h0m0 1h0m0 5h0m1-49h0m0 8h0m0 11h0m0 1h0m0 4h0m0 10h0m0 21h0m1-62h0m0 5h0m0 5h0m0 15h0m0 8h0m0 5h0m0 11h0m0 2h0m0 11h0m1-61h0m0 6h0m0 7h0m0 4h0m0 5h0m0 5h0m0 3h0m0 5h0m0 5h0m0 6h0m0 8h0m0 1h0m0 3h0m2-43h0m0 12h0m0 5h0m0 3h0m0 3h0m0 3h0m0 2h0m0 2h0m0 16h0m1-52h0m0 2h0m0 6h0m0 2h0m0 2h0m0 27h0m0 10h0m1-58h0m0 1h0m1-4h0m0 10h0m0 9h0m0 4h0m0 3h0m0 2h0m0 5h0m0 3h0m0 3h0m0 1h0m0 4h0m0 2h0m0 8h0m0 3h0m0 4h0m0 3h0m1-57h0m0 5h0m0 18h0m0 21h0m1 13h0m1-57h0m0 5h0m0 3h0m0 9h0m0 3h0m0 5h0m0 6h0m0 19h0m1-55h0m0 2h0m0 5h0m0 11h0m0 3h0m0 7h0m0 20h0m0 9h0m0 3h0m1-51h0m0 11h0m0 18h0m0 3h0m1-36h0m0 8h0m0 5h0m0 5h0m0 10h0m0 3h0m0 8h0m0 3h0m0 5h0m0 10h0m1-37h0m0 6h0m1-29h0m0 3h0m0 13h0m0 2h0m0 9h0m0 2h0m0 9h0m0 3h0m0 4h0m0 12h0m1-45h0m0 9h0m0 3h0m0 26h0m1-50h0m0 16h0m0 33h0m1-57h0m0 11h0m0 2h0m0 3h0m0 6h0m0 4h0m0 3h0m0 3h0m0 5h0m0 12h0m0 3h0m0 10h0m0 5h0m1-32h0m0 4h0m1-26h0m0 11h0m0 5h0m0 3h0m0 2h0m0 2h0m0 21h0m0 3h0m0 9h0m1-63h0m0 2h0m0 2h0m0 6h0m0 5h0m0 5h0m0 16h0m0 3h0m0 2h0m0 3h0m0 3h0m0 9h0m1-40h0m1-16h0m0 5h0m0 20h0m0 6h0m0 10h0m0 10h0m1-55h0m0 6h0m0 26h0m0 18h0m0 11h0m0 5h0m1-57h0m0 20h0m0 12h0m0 1h0m1-38h0m0 7h0m0 4h0m0 1h0m0 6h0m0 5h0m0 6h0m0 2h0m0 2h0m0 11h0m0 3h0m0 2h0m0 5h0m1-33h0m1-17h0m0 3h0m0 2h0m0 3h0m0 5h0m0 3h0m0 6h0m0 3h0m0 15h0m0 11h0m1-53h0m0 13h0m0 8h0m0 8h0m0 3h0m0 2h0m1-18h0m0 26h0m1-41h0m0 2h0m0 2h0m0 19h0m0 3h0m0 1h0m0 17h0m1-37h0m0 2h0m0 1h0m0 2h0m0 5h0m0 0h0m0 6h0m0 10h0m0 2h0m0 11h0m0 10h0m0 3h0m1-63h0m0 8h0m0 11h0m0 5h0m0 5h0m0 14h0m0 1h0m0 3h0m0 5h0m0 3h0m0 3h0m0 3h0m1-56h0m0 5h0m0 22h0m0 2h0m1-13h0m0 8h0m0 3h0m0 2h0m0 5h0m0 2h0m0 3h0m0 3h0m0 2h0m0 3h0m1-37h0m0 10h0m0 2h0m0 10h0m0 21h0m0 2h0m0 3h0m1-5h0m1-53h0m0 5h0m0 3h0m0 6h0m0 7h0m0 6h0m0 2h0m0 3h0m0 3h0m0 8h0m0 5h0m1-37h0m0 5h0m0 8h0m0 16h0m0 6h0m0 4h0m0 6h0m0 2h0m1-46h0m0 15h0m0 6h0m0 9h0m0 6h0m0 5h0m0 5h0m1-58h0m0 8h0m0 8h0m0 3h0m0 2h0m0 4h0m0 4h0m0 6h0m0 2h0m0 2h0m0 6h0m0 5h0m0 6h0m2-48h0m0 3h0m0 5h0m0 3h0m0 2h0m0 3h0m0 3h0m0 3h0m0 8h0m0 2h0m0 2h0m0 6h0m0 5h0m0 2h0m1-53h0m0 5h0m0 7h0m0 18h0m0 2h0m0 16h0m0 9h0m1-29h0m0 5h0m0 7h0m0 6h0m0 10h0m1-47h0m0 3h0m0 2h0m0 3h0m0 3h0m0 2h0m0 2h0m0 7h0m0 4h0m0 8h0m0 5h0m0 2h0m0 3h0m1-15h0m1-32h0m0 4h0m0 7h0m0 2h0m0 2h0m0 3h0m0 3h0m0 3h0m0 3h0m0 4h0m0 3h0m0 11h0m0 2h0m1-59h0m0 5h0m0 6h0m0 7h0m0 2h0m0 21h0m0 8h0m0 3h0m0 2h0m0 8h0m2-57h0m0 5h0m0 3h0m0 4h0m0 4h0m0 2h0m0 3h0m0 2h0m0 8h0m0 2h0m0 4h0m0 6h0m0 3h0m0 3h0m0 3h0m0 5h0m1-55h0m0 9h0m0 18h0m0 9h0m0 3h0m0 14h0m1-47h0m0 2h0m0 14h0m0 1h0m0 19h0m0 3h0m0 2h0m0 5h0m1-54h0m0 3h0m0 9h0m0 3h0m0 2h0m0 3h0m0 8h0m0 3h0m0 3h0m0 2h0m0 2h0m0 3h0m0 11h0m0 5h0m2-64h0m0 14h0m0 5h0m0 3h0m0 3h0m0 2h0m0 3h0m0 3h0m0 3h0m0 1h0m0 3h0m0 6h0m0 2h0m0 5h0m0 2h0m0 7h0m0 3h0m1-55h0m0 8h0m0 25h0m0 8h0m0 8h0m1-31h0m0 5h0m1-28h0m0 1h0m0 3h0m0 3h0m0 2h0m0 3h0m0 2h0m0 3h0m0 13h0m0 3h0m0 3h0m0 9h0m0 4h0m0 2h0m0 8h0m1-38h0m0 23h0m0 10h0m0 3h0m1-54h0m0 9h0m0 2h0m0 5h0m0 6h0m0 14h0m0 12h0m0 3h0m0 3h0m1-50h0m0 10h0m0 6h0m0 8h0m0 1h0m0 4h0m0 4h0m0 4h0m0 2h0m0 3h0m0 10h0m1-8h0m0 3h0m0 3h0m1-63h0m0 21h0m0 2h0m0 3h0m0 2h0m0 6h0m0 4h0m0 4h0m0 3h0m0 2h0m0 5h0m0 3h0m1-25h0m0 6h0m0 14h0" stroke="#7ba83f" stroke-width="3.2" stroke-linecap="square"/><path transform="scale(.5)" d="M877 232h0m0 26h0m2-29h0m0 30h0m1-9h0m0 3h0m1 19h0m1-23h0m0 15h0m1 5h0m1-35h0m0 33h0m2-33h0m1 11h0m1 29h0m1-11h0m2 3h0m1-39h0m16 32h0m1-24h0m0 31h0m3-20h0m0 27h0m1-43h0m2 34h0m1-26h0m1 36h0m5-5h0m0 5h0m3-11h0m0 8h0m2-39h0m1 24h0m2-10h0m1 16h0m2-4h0m3 3h0m1 5h0m3-42h0m2 31h0m1-12h0m0 21h0m1 4h0m2-9h0m3 5h0m1-10h0m2-34h0m0 6h0m0 34h0m0 11h0m1-4h0m1-48h0m0 2h0m1 30h0m0 23h0m1-8h0m0 6h0m1-63h0m0 3h0m0 38h0m0 3h0m0 9h0m2-1h0m1 10h0m1-46h0m1 4h0m0 6h0m0 21h0m0 4h0m0 7h0m2-53h0m0 54h0m1-58h0m0 17h0m0 26h0m0 11h0m0 9h0m2-20h0m0 5h0m0 6h0m0 8h0m1 3h0m1-30h0m1-18h0m0 8h0m0 39h0m1-13h0m0 8h0" stroke="#3ba7df" stroke-width="3.2" stroke-linecap="square"/><path transform="scale(.5)" d="M949 227h0m0 28h0m0 3h0m2-17h0m1 27h0m2-44h0m0 21h0m0 16h0m0 8h0m1-3h0m2-17h0m1-25h0m1 21h0m3-24h0m0 12h0m0 12h0m0 5h0m0 21h0m1-65h0m1 65h0m3-21h0m1 18h0m1-4h0m1-16h0m1 5h0" stroke="#27b7c2" stroke-width="3.2" stroke-linecap="square"/><path transform="scale(.5)" d="M1005 209h0m0 3h0m0 2h0m0 2h0m0 3h0m0 6h0m0 8h0m0 2h0m0 2h0m0 3h0m0 3h0m0 7h0m0 6h0m0 2h0m0 3h0m0 3h0m0 11h0m1-54h0m0 7h0m0 1h0m0 16h0m0 3h0m0 5h0m0 16h0m0 2h0m1-63h0m0 22h0m0 3h0m0 12h0m0 13h0m0 6h0m1-58h0m0 5h0m0 4h0m0 5h0m0 2h0m0 2h0m0 4h0m0 7h0m0 3h0m0 2h0m0 2h0m0 6h0m0 3h0m0 1h0m0 3h0m0 6h0m0 8h0m0 3h0m1-56h0" stroke="#3bb878" stroke-width="3.2" stroke-linecap="square"/><path d="M428.6 135.18C431.12 134.54 437.42 133.56 443.72 131.37C450.02 129.18 459.47 123.01 466.4 122.03C473.33 121.05 479 124.05 485.3 125.49C491.6 126.93 501.05 129.81 504.2 130.68" fill="none" stroke="#1a1a1a" stroke-width="1"/><rect x="427.4" y="101.8" width="78" height="37" fill="none" stroke="#d8d8d8" stroke-width="0.8"/><path transform="scale(.5)" d="M686 342h0m0 19h0m0 18h0m0 5h0m0 6h0m1-14h0m1-24h0m1 6h0m0 8h0m0 7h0m0 12h0m0 1h0m1-10h0m1-20h0m0 8h0m0 12h0m0 3h0m0 2h0m0 6h0m0 2h0m1-4h0m1 5h0m1-25h0m0 19h0m0 3h0m1-38h0m1 31h0m0 5h0m0 1h0m0 4h0m1-27h0m0 6h0m0 8h0m0 5h0" stroke="#f0776f" stroke-width="3.2" stroke-linecap="square"/><path transform="scale(.5)" d="M698 379h0m0 7h0m1-31h0m0 6h0m0 7h0m1 10h0m1-34h0m0 7h0m0 14h0m0 25h0m1-18h0m1-31h0m0 22h0m0 6h0m1-38h0m0 19h0m0 21h0m0 5h0m1-13h0m1-9h0m0 25h0m0 5h0m1-34h0m0 11h0m1-18h0m0 2h0m0 18h0m0 6h0m0 6h0m1-38h0m0 11h0m0 37h0m0 5h0m2-14h0m0 5h0m1-25h0m0 9h0m1-6h0m1 3h0m2 2h0m0 13h0m0 12h0m1-34h0m2-3h0m0 8h0m0 4h0m0 1h0m0 14h0m0 8h0m1-41h0m2 10h0m0 11h0m0 22h0m1-2h0m1-1h0m2-36h0m1-15h0m0 5h0m0 6h0m0 27h0m0 12h0m0 2h0m2-60h0m0 8h0m0 2h0m0 13h0m0 9h0m0 25h0m1-39h0m0 3h0m0 28h0m0 5h0m2-52h0m0 9h0m0 1h0m0 12h0m0 28h0m0 3h0m1-49h0m0 52h0m1-43h0m0 24h0m0 3h0m1-35h0m0 7h0m0 43h0m2-51h0m0 36h0m0 9h0m2-14h0m0 7h0m0 8h0m1-50h0m0 19h0m0 39h0m1-42h0m1-15h0m0 2h0m0 6h0m0 35h0m0 7h0m1-26h0m0 4h0m0 5h0m0 3h0m1-23h0m0 3h0m0 8h0m1-16h0m0 12h0m0 6h0m0 5h0m0 10h0m0 14h0m2-25h0m1 22h0m1 2h0m0 2h0m1-25h0m0 20h0m2-46h0m0 7h0m0 8h0m0 19h0m0 13h0m1-37h0m0 3h0m0 6h0" stroke="#c99431" stroke-width="3.2" stroke-linecap="square"/><path transform="scale(.5)" d="M698 370h0m0 4h0m0 16h0m1-47h0m0 1h0m0 41h0m1-39h0m0 17h0m1-29h0m0 15h0m0 25h0m0 2h0m0 11h0m1-2h0m1-38h0m0 27h0m1-20h0m0 6h0m0 6h0m0 18h0m0 4h0m2-22h0m0 8h0m0 3h0m0 9h0m1-44h0m0 29h0m0 19h0m2-32h0m0 8h0m0 6h0m0 6h0m0 3h0m0 6h0m2-35h0m0 15h0m0 17h0m1-48h0m0 32h0m0 6h0m0 6h0m0 7h0m1-23h0m0 11h0m0 15h0m1-44h0m0 23h0m0 7h0m0 2h0m0 6h0m0 3h0m1-34h0m1 19h0m0 8h0m0 1h0m0 4h0m0 2h0m1-19h0m0 5h0m2-25h0m0 27h0m0 1h0m0 8h0m1-25h0m0 30h0m1-38h0m0 23h0m0 7h0m0 3h0m1-19h0m0 6h0m1-30h0m0 3h0m0 27h0m1-45h0m0 3h0m0 2h0m0 6h0m0 8h0m0 3h0m0 3h0m0 2h0m0 2h0m0 4h0m0 8h0m0 6h0m0 3h0m0 3h0m0 3h0m0 3h0m0 4h0m1-47h0m0 18h0m0 4h0m0 4h0m1-47h0m0 5h0m0 4h0m0 23h0m0 5h0m0 5h0m0 3h0m0 5h0m0 5h0m1-44h0m0 6h0m0 4h0m0 14h0m0 5h0m0 8h0m0 11h0m2-56h0m0 6h0m0 2h0m0 24h0m0 12h0m0 4h0m0 2h0m0 16h0m1-50h0m0 12h0m0 8h0m0 4h0m0 2h0m0 13h0m0 8h0m1-52h0m0 11h0m0 2h0m0 7h0m0 12h0m0 2h0m0 2h0m0 5h0m0 14h0m1-64h0m0 4h0m0 23h0m0 6h0m0 2h0m0 2h0m1-40h0m0 51h0m0 12h0m1-49h0m0 19h0m0 2h0m0 3h0m0 11h0m0 5h0m0 2h0m0 11h0m1-45h0m0 3h0m0 2h0m0 4h0m0 9h0m0 10h0m0 9h0m0 4h0m1-43h0m0 46h0m1-51h0m0 2h0m0 8h0m0 2h0m0 4h0m0 4h0m0 3h0m0 12h0m0 3h0m0 6h0m0 2h0m1-50h0m0 11h0m0 11h0m0 7h0m0 4h0m0 4h0m0 15h0m1-62h0m0 11h0m0 3h0m0 2h0m0 6h0m0 15h0m0 8h0m0 7h0m0 5h0m0 8h0m1-56h0m0 9h0m0 8h0m0 3h0m0 3h0m0 2h0m0 8h0m0 8h0m0 11h0m1-13h0m1-38h0m0 6h0m0 8h0m0 13h0m0 8h0m0 12h0m1-30h0m0 5h0m0 21h0m0 10h0m0 2h0m1-41h0m0 18h0m0 10h0m0 4h0m1-45h0m0 5h0m0 19h0m0 4h0m0 6h0m0 5h0m0 7h0m0 6h0m0 2h0m2-59h0m0 10h0m0 13h0m0 11h0m0 3h0m0 10h0m0 2h0m0 5h0m1-48h0m0 2h0m0 5h0m0 2h0m0 3h0m0 2h0m0 5h0m0 3h0m0 13h0m0 2h0m0 14h0m0 3h0m1-36h0m1-22h0m0 6h0m0 5h0m0 3h0m0 1h0m0 3h0m0 19h0m0 2h0m0 6h0m1-42h0m0 21h0m0 7h0m0 16h0m0 11h0m1-65h0m0 31h0m0 2h0m0 3h0m0 23h0m0 2h0m1-63h0m0 6h0m0 9h0m0 26h0m0 2h0m0 5h0m0 0h0m0 2h0m0 4h0m0 2h0m0 11h0m1-60h0m0 5h0m0 29h0m0 18h0m1-22h0m4-33h0m0 19h0m0 6h0m0 15h0m0 6h0m0 12h0m0 2h0m1-65h0m1 15h0m0 16h0m1-29h0m0 6h0m1 12h0m0 18h0m1 2h0m0 1h0m0 22h0m0 2h0m1-39h0m0 42h0m1-27h0m1-4h0m0 10h0m2-19h0m0 11h0m0 4h0m3-20h0m0 8h0m0 11h0m0 13h0m2-35h0m0 3h0m0 27h0m1-16h0m0 5h0m0 3h0m0 12h0m2-10h0m1-29h0m0 14h0m0 13h0m2-43h0m0 47h0m0 18h0m1-8h0m1-39h0m0 25h0m1 15h0m2-7h0m0 7h0m1-52h0m0 50h0m0 10h0m2-60h0m0 14h0m0 1h0m0 5h0m0 19h0m1-34h0" stroke="#a47dd0" stroke-width="3.2" stroke-linecap="square"/><path transform="scale(.5)" d="M687 382h0m0 6h0m1-10h0m1-38h0m0 49h0m1-7h0m2-11h0m2-24h0m0 12h0m0 14h0m0 6h0m1 2h0m1-24h0m1 15h0m0 2h0m1 2h0m1 6h0m1-22h0m1-5h0m0 14h0m1 13h0m2-25h0m0 33h0m5-13h0m1-23h0m2-6h0m0 41h0m2-18h0m0 11h0m2-38h0m2 27h0m1-15h0m1 26h0m1-3h0m1-20h0" stroke="#7ba83f" stroke-width="3.2" stroke-linecap="square"/><path transform="scale(.5)" d="M753 390h0m1-48h0m0 4h0m0 3h0m0 17h0m0 11h0m0 7h0m1-57h0m0 11h0m0 18h0m0 23h0m1-52h0m0 2h0m0 6h0m0 8h0m0 16h0m1-35h0m0 8h0m0 6h0m0 10h0m0 2h0m0 11h0m0 2h0m0 8h0m0 6h0m0 5h0m0 2h0m0 5h0m1-1h0m1-59h0m0 5h0m0 26h0m0 9h0m1-10h0m0 4h0m0 16h0m0 2h0m1-18h0m0 11h0m0 7h0m1-54h0m0 18h0m0 11h0m0 28h0m0 2h0m1-51h0m0 32h0m1-38h0m0 14h0m0 7h0m0 8h0m0 10h0m0 9h0m0 5h0m1-37h0m0 8h0m0 13h0m0 7h0m2-37h0m0 6h0m0 14h0m0 5h0m0 4h0m0 13h0m0 3h0m0 5h0m1-57h0m0 56h0m0 5h0m1-51h0m0 6h0m0 41h0m1-51h0m0 8h0m0 5h0m0 6h0m0 2h0m0 2h0m0 10h0m0 6h0m0 5h0m2-53h0m0 9h0m0 21h0m0 3h0m0 25h0m0 3h0m1-54h0m0 7h0m0 8h0m0 18h0m0 24h0m1-62h0m0 2h0m0 18h0m0 11h0m1-22h0m0 4h0m0 28h0m0 10h0m0 2h0m1 4h0m1-27h0m0 18h0m0 8h0m1-56h0m0 5h0m0 2h0m0 19h0m0 20h0m0 4h0m0 4h0m0 7h0m2-65h0m0 4h0m0 7h0m0 3h0m0 15h0m0 23h0m0 6h0m1-26h0m0 3h0m0 3h0m0 1h0m0 4h0m0 6h0m0 17h0m1-61h0m0 16h0m0 4h0m1-16h0m0 2h0m0 15h0m0 8h0m0 2h0m0 7h0m0 15h0m0 2h0m2-54h0m0 15h0m0 18h0m0 18h0m1-49h0m0 2h0m0 14h0m0 2h0m0 6h0m0 2h0m1-2h0m0 6h0m0 13h0m1-53h0m0 3h0m0 5h0m0 4h0m0 16h0m0 4h0m0 18h0m0 5h0m0 11h0m0 2h0m1-31h0" stroke="#3ba7df" stroke-width="3.2" stroke-linecap="square"/><path transform="scale(.5)" d="M753 339h0m0 34h0m1-52h0m0 3h0m0 8h0m0 19h0m0 8h0m0 10h0m0 19h0m1-35h0m2-8h0m0 8h0m0 16h0m0 4h0m0 6h0m2-40h0m0 9h0m0 2h0m0 22h0m0 4h0m1-43h0m0 5h0m0 5h0m0 13h0m0 33h0m2-67h0m0 11h0m0 7h0m0 10h0m0 19h0m0 20h0m1-40h0m0 9h0m0 13h0m2-39h0m0 3h0m0 2h0m0 3h0m0 16h0m0 16h0m2-34h0m0 2h0m0 6h0m0 2h0m0 5h0m0 19h0m0 4h0m1-25h0m0 22h0m1-48h0m0 1h0m0 4h0m0 34h0m1-42h0m0 11h0m0 5h0m0 33h0m0 11h0m0 3h0m0 5h0m1-13h0m1-39h0m0 5h0m0 7h0m0 10h0m0 13h0m0 9h0m1-55h0m0 3h0m0 39h0m0 2h0m1-36h0m0 18h0m0 14h0m0 7h0m1-51h0m0 2h0m0 8h0m0 17h0m1 36h0m1-57h0m0 17h0m0 22h0m1-43h0m0 16h0m0 1h0m0 6h0m0 23h0m0 16h0m2-55h0m0 8h0m0 7h0m0 4h0m1-22h0m0 13h0m0 4h0m0 25h0m0 13h0m1-16h0m0 21h0m1-67h0m0 3h0m0 13h0m0 15h0m0 3h0m0 16h0m0 2h0m0 3h0m1-50h0m0 60h0m1-65h0m0 16h0m0 5h0m0 11h0m0 7h0m0 6h0m0 2h0m0 20h0m1-15h0m2-37h0m0 8h0m0 19h0m0 5h0m0 10h0m0 5h0m1-2h0m3-39h0m0 41h0m2-59h0m0 31h0m0 18h0m1-45h0m0 32h0m1-34h0m1 41h0m2-38h0m0 31h0m1-28h0m0 33h0m2-14h0m1-9h0m0 15h0m2-26h0m0 11h0m2-9h0m0 41h0m0 12h0m1-59h0m0 2h0m0 26h0m2-34h0m0 19h0m0 9h0m2-15h0m0 44h0m1-25h0m1-19h0m1 8h0m0 4h0m0 43h0m1-69h0m0 35h0m0 26h0m1-46h0m0 9h0m1-12h0m0 4h0m0 13h0m2-12h0m0 15h0m0 29h0m1-52h0m0 3h0m0 13h0m0 33h0m0 10h0m1-25h0m2-40h0m1 8h0m0 43h0m0 4h0m1-37h0m2-12h0m0 48h0m1-54h0m0 27h0m1 5h0m0 18h0m1-31h0m1 33h0m1-20h0m0 28h0m1-10h0m0 5h0" stroke="#27b7c2" stroke-width="3.2" stroke-linecap="square"/><path transform="scale(.5)" d="M791 324h0m0 3h0m0 18h0m0 8h0m0 8h0m0 16h0m0 10h0m1-52h0m0 2h0m0 4h0m0 9h0m0 6h0m0 11h0m0 2h0m0 2h0m0 2h0m0 7h0m0 2h0m1-52h0m0 2h0m0 26h0m0 31h0m1-67h0m0 13h0m0 2h0m0 5h0m0 4h0m0 1h0m0 6h0m0 11h0m0 18h0m0 5h0m1-60h0m0 6h0m0 7h0m0 10h0m0 9h0m0 6h0m0 4h0m0 3h0m0 4h0m0 8h0m0 5h0m1-36h0m0 19h0m0 7h0m0 3h0m0 5h0m1-65h0m0 2h0m0 6h0m0 5h0m0 5h0m0 2h0m0 4h0m0 10h0m0 4h0m0 4h0m0 2h0m0 7h0m0 3h0m0 8h0m0 6h0m1-58h0m0 5h0m0 12h0m0 2h0m0 7h0m1-36h0m0 2h0m0 19h0m0 8h0m0 18h0m0 7h0m0 6h0m1-55h0m0 8h0m0 3h0m0 8h0m0 2h0m0 5h0m0 2h0m0 4h0m0 5h0m0 8h0m0 2h0m0 5h0m0 5h0m0 3h0m2-65h0m0 8h0m0 3h0m0 12h0m0 2h0m0 17h0m0 2h0m0 2h0m0 3h0m0 3h0m0 3h0m0 3h0m0 2h0m0 4h0m1-62h0m0 3h0m0 8h0m0 3h0m0 1h0m0 12h0m0 4h0m0 29h0m1-63h0m0 8h0m0 8h0m0 15h0m0 8h0m0 11h0m0 11h0m1-58h0m0 22h0m0 2h0m0 3h0m0 8h0m0 5h0m0 2h0m0 3h0m0 4h0m0 3h0m0 3h0m0 6h0m0 2h0m1-60h0m0 8h0m1-11h0m0 13h0m0 10h0m0 6h0m0 5h0m0 7h0m0 7h0m0 8h0m0 5h0m0 5h0m1-68h0m0 19h0m0 1h0m0 3h0m0 5h0m0 12h0m0 1h0m0 5h0m1-4h0m0 2h0m0 6h0m0 7h0m1-53h0m0 7h0m0 5h0m0 4h0m0 3h0m0 4h0m0 5h0m0 1h0m0 4h0m0 2h0m0 15h0m0 6h0m0 2h0m0 2h0m0 4h0m1-66h0m0 11h0m0 33h0m1-43h0m0 2h0m0 2h0m0 8h0m0 26h0m0 8h0m0 3h0m0 8h0m1-50h0m0 9h0m0 2h0m0 3h0m0 2h0m0 2h0m0 9h0m0 2h0m0 8h0m0 8h0m0 7h0m0 3h0m0 2h0m1-10h0m1-47h0m0 6h0m0 2h0m0 5h0m0 7h0m0 6h0m0 3h0m0 5h0m0 5h0m0 3h0m0 2h0m0 8h0m1-60h0m0 4h0m0 2h0m0 21h0m0 12h0m0 6h0m0 18h0m1-62h0m0 2h0m0 15h0m0 21h0m0 19h0m1-52h0m0 10h0m0 9h0m0 4h0m0 3h0m0 2h0m0 8h0m0 3h0m0 2h0m0 3h0m0 2h0m0 4h0m0 7h0m0 3h0m1-5h0m1-63h0m0 3h0m0 11h0m0 23h0m0 1h0m0 4h0m0 4h0m0 18h0m1-59h0m0 13h0m0 3h0m0 5h0m0 2h0m0 6h0m0 11h0m0 5h0m0 1h0m0 11h0m1-57h0m0 31h0m0 29h0m1-64h0m0 7h0m0 3h0m0 17h0m0 3h0m0 8h0m0 6h0m0 5h0m0 1h0m0 3h0m0 9h0m0 4h0m1-54h0m0 5h0m0 2h0m0 4h0m0 2h0m0 7h0m0 14h0m0 13h0m1-53h0m0 19h0m0 5h0m0 3h0m0 11h0m0 4h0m0 14h0m1-64h0m0 4h0m0 3h0m0 6h0m0 4h0m0 2h0m0 6h0m0 5h0m0 7h0m0 4h0m0 6h0m0 9h0m0 4h0m0 6h0m1-41h0m0 15h0m0 28h0m1-57h0m0 3h0m0 3h0m0 10h0m0 8h0m0 3h0m0 8h0m0 4h0m0 5h0m0 5h0m0 3h0m0 3h0m1-60h0m0 13h0m0 3h0m0 11h0m0 10h0m0 4h0m0 7h0m1-47h0m0 1h0m0 30h0m0 13h0m0 10h0m1-60h0m0 10h0m0 3h0m0 6h0m0 5h0m0 2h0m0 2h0m0 3h0m0 8h0m0 3h0m0 5h0m0 9h0m0 9h0m0 2h0m1-65h0m0 14h0m1-17h0m0 17h0m0 3h0m0 8h0m0 2h0m0 7h0m0 3h0m0 3h0m0 3h0m0 2h0m0 2h0m0 5h0m1-49h0m0 3h0m0 2h0m0 3h0m0 10h0m0 7h0m0 29h0m0 5h0" stroke="#3bb878" stroke-width="3.2" stroke-linecap="square"/><path d="M342.5 193.69C343.76 193.62 347.53 193.5 350.04 193.26C352.55 193.01 355.07 192.78 357.58 192.23C360.09 191.68 362.61 191.08 365.12 189.97C367.63 188.86 370.15 187.42 372.66 185.57C375.17 183.72 377.69 181.19 380.2 178.87C382.71 176.54 385.23 173.74 387.74 171.64C390.25 169.53 392.77 167.64 395.28 166.24C397.79 164.84 400.31 163.97 402.82 163.23C405.33 162.49 407.85 162.14 410.36 161.8C412.87 161.46 416.64 161.29 417.9 161.19" fill="none" stroke="#1a1a1a" stroke-width="1"/><rect x="341.3" y="159.2" width="77.8" height="37.4" fill="none" stroke="#d8d8d8" stroke-width="0.8"/><path transform="scale(.5)" d="M858 359h0m0 20h0m0 6h0m1-14h0m0 10h0m0 6h0m0 2h0m1-13h0m0 13h0m1-34h0m0 27h0m0 4h0m1-2h0m1-23h0m0 2h0m0 10h0m0 13h0m0 4h0m1-20h0m0 15h0m2-24h0m0 2h0m0 6h0m0 5h0m0 10h0m0 3h0m1-32h0m1 13h0m1-12h0m0 31h0m0 2h0" stroke="#f0776f" stroke-width="3.2" stroke-linecap="square"/><path transform="scale(.5)" d="M859 369h0m0 7h0m2-8h0m5-3h0m0 14h0m0 10h0" stroke="#c99431" stroke-width="3.2" stroke-linecap="square"/><path transform="scale(.5)" d="M870 354h0m0 19h0m0 11h0m0 4h0m1-6h0m1 0h0m1-30h0m0 15h0m1-34h0m0 45h0m1-35h0m0 47h0m1-62h0m0 13h0m0 31h0m0 13h0m2-42h0m0 19h0m0 14h0m0 4h0m0 9h0m1-32h0m0 28h0m0 1h0m1-4h0m0 5h0m3-46h0m0 32h0m0 12h0m1 2h0m2-20h0m0 2h0m0 11h0m0 5h0m1-3h0m1-44h0m0 31h0m1-29h0m0 42h0m0 8h0m1-29h0m1-6h0m0 16h0m0 2h0m0 7h0m0 2h0m1-14h0m1 1h0m1-30h0m0 12h0m0 39h0m1-8h0m1 2h0m1-37h0m0 9h0m0 13h0m0 2h0m0 6h0m2-39h0m0 41h0m0 2h0m0 8h0m1-21h0m1-28h0m0 14h0m0 36h0m1-35h0m0 4h0m0 23h0m0 3h0m1-56h0m0 30h0m0 22h0m1-18h0m0 6h0m0 2h0m1-10h0m0 16h0m1-9h0m1-37h0m0 16h0m0 9h0m1-1h0m0 9h0m0 4h0m0 22h0m1-48h0m0 4h0m0 4h0m0 3h0m0 6h0m1-25h0m1 9h0m0 20h0m0 8h0m1-25h0m0 3h0m0 2h0m0 4h0m0 30h0m0 1h0m2-36h0m0 6h0m0 4h0m0 5h0m0 4h0m1 2h0m0 4h0m0 7h0m1-40h0m0 25h0m1-28h0m0 11h0m0 8h0m0 11h0m0 2h0m0 5h0m1-23h0m0 11h0m1-22h0m0 22h0m0 18h0m0 2h0m0 6h0m1-53h0m0 15h0m0 8h0m1-22h0m0 10h0m1 8h0m0 3h0m0 1h0m0 3h0m0 9h0m0 2h0m0 5h0m0 3h0m0 5h0m2-60h0m0 13h0m0 33h0m1-41h0m0 3h0m0 8h0m0 8h0m0 7h0m0 18h0m2-50h0m0 37h0m0 2h0m0 14h0m0 3h0m0 5h0m1-28h0m0 9h0m0 3h0m0 14h0m1-3h0m0 3h0m1-44h0m0 2h0m0 10h0m2-20h0m0 11h0m0 10h0m0 6h0m0 7h0m0 10h0m0 2h0m1-44h0m0 29h0m0 5h0m0 2h0m0 16h0m1-45h0m0 10h0m0 14h0m1-40h0m0 5h0m0 6h0m0 23h0m0 14h0m0 4h0m0 4h0m0 8h0m2-40h0m0 16h0m0 18h0m1-52h0m0 21h0m0 2h0m0 8h0m0 11h0m0 16h0m1-34h0m1-20h0m0 22h0m0 5h0m0 5h0m0 9h0m0 8h0m1-52h0m0 13h0m0 14h0m0 6h0m0 6h0m0 9h0" stroke="#a47dd0" stroke-width="3.2" stroke-linecap="square"/><path transform="scale(.5)" d="M870 390h0m1-24h0m2-12h0m0 3h0m0 32h0m1-10h0m0 8h0m1-36h0m0 23h0m0 7h0m1-27h0m0 11h0m2-38h0m0 19h0m0 28h0m0 7h0m1-46h0m1 16h0m2 24h0m1 15h0m1-36h0m0 17h0m0 10h0m2-7h0m0 2h0m1-33h0m0 28h0m2-15h0m0 23h0m0 7h0m2-24h0m0 14h0m1-29h0m0 40h0m2-16h0m0 16h0m2-42h0m0 8h0m0 6h0m0 15h0m0 8h0m1-43h0m0 4h0m0 21h0m0 25h0m2-61h0m0 49h0m3 10h0m1-35h0m0 32h0m0 3h0m1-46h0m0 4h0m0 5h0m0 17h0m0 7h0m2-48h0m0 32h0m0 2h0m0 6h0m0 5h0m0 16h0m0 3h0m1-55h0m0 18h0m0 11h0m0 9h0m0 3h0m0 3h0m0 6h0m1-24h0m0 20h0m1-14h0m0 4h0m0 14h0m1-56h0m0 47h0m0 3h0m0 7h0m1-12h0m0 7h0m1-50h0m0 27h0m0 3h0m0 8h0m2-30h0m0 14h0m0 5h0m0 18h0m0 9h0m1-39h0m0 18h0m0 26h0m1-56h0m0 45h0m1-23h0m0 4h0m0 27h0m0 2h0m1-46h0m1-11h0m0 16h0m0 7h0m0 12h0m0 1h0m0 3h0m0 6h0m0 3h0m1-46h0m0 7h0m0 17h0m0 29h0m2-45h0m0 3h0m0 5h0m0 17h0m0 1h0m0 9h0m0 7h0m0 6h0m2-35h0m0 12h0m0 11h0m0 4h0m0 2h0m0 5h0m1-45h0m0 3h0m0 6h0m0 7h0m0 4h0m0 7h0m0 17h0m1-26h0m1-22h0m1 7h0m0 29h0m0 14h0m1-31h0m0 5h0m0 15h0m1-29h0m0 5h0m0 5h0m0 5h0m0 4h0m0 2h0m0 6h0m0 11h0m0 1h0m1-41h0m1-24h0m0 5h0m0 52h0m0 3h0m1-45h0m0 35h0m1-40h0m0 38h0m1-44h0m0 36h0m0 4h0m0 19h0m1-10h0m1-9h0m0 9h0m0 9h0m1-41h0m0 3h0m0 10h0m0 3h0m0 10h0m0 8h0m0 2h0m2-33h0m0 32h0m1-32h0m0 25h0m0 13h0m0 4h0m1-48h0m2-5h0m0 14h0m0 23h0m1-16h0m0 31h0m1-61h0m0 31h0m1-30h0m0 14h0m0 46h0m2-48h0m0 17h0m0 8h0m1 16h0m2-47h0m0 12h0m1 33h0m0 8h0m2-37h0m0 2h0m2-25h0m0 5h0m0 14h0m0 6h0m0 13h0m0 2h0m0 11h0m1 11h0m1-66h0m0 53h0m1-43h0m0 9h0m0 36h0m0 6h0m2-32h0m0 13h0m1-39h0m0 5h0m0 57h0m1-31h0m1-24h0m0 7h0m0 2h0m0 17h0m0 8h0m0 8h0m1-44h0m0 43h0m1-34h0m0 2h0m0 6h0m0 2h0m0 5h0m0 2h0m0 3h0m0 3h0m0 1h0m0 3h0m0 4h0m0 1h0m0 9h0m0 2h0m0 3h0m0 2h0m1-56h0m0 2h0m0 2h0m0 8h0m0 8h0m0 23h0m0 4h0m1-42h0m0 15h0m0 6h0m0 2h0m0 4h0m0 17h0m0 6h0m1-53h0m0 8h0m0 2h0m0 3h0m0 3h0m0 5h0m0 8h0m0 5h0m0 2h0m0 3h0m0 2h0m0 2h0m0 7h0m0 4h0m1-57h0m0 8h0m1-13h0m0 7h0m0 6h0m0 13h0m0 11h0m0 2h0m0 3h0m0 5h0m0 7h0m0 4h0m0 2h0m1-50h0m0 5h0m0 3h0m0 3h0m0 8h0m0 2h0m0 3h0m0 11h0m0 4h0m0 13h0m2-48h0m0 2h0m0 5h0m0 2h0m0 3h0m0 6h0m0 4h0m0 2h0m0 4h0m0 3h0m0 4h0m0 3h0m0 3h0m0 7h0m1-52h0m0 8h0m0 11h0m0 5h0m0 12h0m0 11h0m0 2h0m1-60h0m0 16h0m0 3h0m0 24h0m0 4h0m0 3h0m0 6h0m0 8h0m1-60h0m0 7h0m0 4h0m0 6h0m0 4h0m0 1h0m0 3h0m0 3h0m0 2h0m0 4h0m0 3h0m0 4h0m0 7h0m0 7h0m0 1h0m2-60h0m0 4h0m0 3h0m0 1h0m0 13h0m0 6h0m0 5h0m0 2h0m0 4h0m0 8h0m0 9h0m0 6h0m0 3h0m1-52h0m0 3h0m0 4h0m0 6h0m0 5h0m0 11h0m0 2h0m0 5h0m0 3h0m0 2h0m0 5h0m1-52h0m0 6h0m0 4h0m0 16h0m0 9h0m0 1h0m1-23h0m0 6h0m0 4h0m0 7h0m0 1h0m0 13h0m0 3h0m0 3h0m0 3h0m0 2h0m1-51h0m0 36h0m0 1h0m0 17h0m1-50h0m0 8h0m0 8h0m0 7h0m0 4h0m0 2h0m0 3h0m0 2h0m0 2h0m1-34h0m0 3h0m0 6h0m0 2h0m0 6h0m0 21h0m0 1h0m0 4h0m0 2h0m0 2h0m1-44h0m0 13h0m0 11h0m1-42h0m0 8h0m0 2h0m0 3h0m0 7h0m0 4h0m0 1h0m0 3h0m0 6h0m0 2h0m0 3h0m0 12h0m0 7h0m0 2h0m1-44h0m0 28h0m0 3h0m0 2h0m0 5h0m0 9h0m1-52h0m0 9h0m0 8h0m0 9h0m0 8h0m1-31h0m0 2h0m0 2h0m0 5h0m0 4h0m0 4h0m0 3h0m0 5h0m0 3h0m0 5h0m0 6h0m0 2h0m0 2h0m0 3h0m0 3h0m2-62h0m0 5h0m0 4h0m0 3h0m0 20h0m0 4h0m0 2h0m0 11h0m0 8h0m0 1h0m1-51h0m0 8h0m0 2h0m0 3h0m0 2h0m0 3h0m0 3h0m0 2h0m0 11h0m0 5h0m0 6h0m0 2h0m0 8h0m1-58h0m0 37h0m0 15h0m0 3h0m0 3h0m1-66h0m0 11h0m0 8h0m0 2h0m0 5h0m0 3h0m0 2h0m0 4h0m0 2h0m0 5h0m0 10h0m0 3h0m1-41h0m0 2h0m0 23h0m0 8h0m0 2h0m1-35h0m0 4h0m0 3h0m0 8h0m0 2h0m0 14h0m0 2h0m0 8h0m0 6h0m0 1h0m1-46h0m0 11h0m0 7h0m0 5h0m0 10h0m0 4h0m0 4h0m0 9h0m1-22h0m1-35h0m0 3h0m0 1h0m0 5h0m0 3h0m0 3h0m0 4h0m0 7h0m0 3h0m0 2h0m0 11h0m0 4h0m0 2h0m0 4h0m0 3h0m0 2h0m1-50h0m0 11h0m0 4h0m0 12h0m0 4h0m0 5h0m1-46h0m0 2h0m0 6h0m0 8h0m0 20h0m0 3h0m1-43h0m0 10h0m0 5h0m0 2h0m0 4h0m0 3h0m0 3h0m0 2h0m0 6h0m0 11h0m0 2h0m0 3h0m0 2h0m0 3h0m0 6h0m0 1h0m1-30h0m0 5h0" stroke="#7ba83f" stroke-width="3.2" stroke-linecap="square"/><path transform="scale(.5)" d="M870 361h0m0 14h0m0 3h0m1-15h0m0 7h0m2-8h0m0 13h0m0 10h0m2-5h0m1-20h0m0 17h0m0 10h0m2-37h0m0 14h0m2 21h0m1-46h0m0 50h0m1-33h0m1 1h0m0 22h0m1-53h0m0 22h0m2-20h0m0 20h0m1-18h0m0 56h0m0 3h0m1-43h0m1 25h0m0 5h0m0 9h0m2 4h0m1-51h0m0 1h0m0 5h0m0 16h0m2-12h0m0 8h0m0 28h0m2-49h0m0 53h0m1-56h0m0 48h0m2-28h0m0 5h0m0 28h0m0 2h0m2-15h0m0 4h0m1-28h0m0 16h0m0 5h0m0 5h0m2 5h0m3-37h0m0 7h0m1 25h0m1-25h0m2 5h0m0 23h0m1-11h0m2-22h0m0 34h0m1 8h0m1-2h0m1-10h0m0 7h0m3-31h0m0 23h0m2-21h0m5-20h0m0 9h0m0 3h0m0 11h0m0 19h0m6 15h0m2-35h0m0 4h0m1 27h0m2-42h0m3-18h0m0 8h0m0 5h0m0 13h0m0 23h0m0 5h0m0 2h0m0 6h0m1-37h0m0 4h0m2-1h0m0 3h0m0 11h0m1-40h0m0 3h0m0 2h0m0 10h0m0 3h0m0 24h0m0 3h0m1-21h0m1-19h0m0 2h0m0 3h0m0 27h0m0 5h0m0 15h0m2-36h0m0 6h0m0 14h0m0 5h0m0 6h0m0 11h0m1-27h0m1-40h0m0 59h0m1-52h0m0 3h0m0 25h0m0 16h0m0 11h0m1-24h0m0 29h0m1-55h0m0 29h0m0 2h0m0 18h0m0 6h0m1-60h0m0 11h0m0 5h0m0 25h0m2-10h0m0 13h0m1-34h0m0 5h0m0 19h0m0 18h0m0 4h0m1-17h0m1-42h0m0 18h0m0 14h0m1-7h0m1-4h0m0 8h0m0 18h0m0 10h0m1-54h0m0 4h0m0 4h0m0 21h0m0 12h0m1-26h0m0 5h0m1-26h0m0 32h0m0 8h0m0 15h0m0 3h0m1-11h0" stroke="#3ba7df" stroke-width="3.2" stroke-linecap="square"/><path transform="scale(.5)" d="M941 334h0m0 6h0m0 18h0m0 27h0m0 5h0m1-64h0m0 3h0m0 27h0m0 5h0m0 2h0m0 4h0m0 1h0m0 4h0m0 5h0m2-36h0m0 19h0m0 16h0m0 5h0m0 5h0m1-51h0m0 14h0m0 14h0m0 16h0m0 5h0m1-60h0m0 53h0m0 5h0m0 5h0m1-47h0m0 6h0m0 2h0m0 5h0m0 18h0m0 3h0m0 5h0m1-18h0m0 4h0m1-39h0m0 3h0m0 3h0m0 23h0m0 31h0m1-50h0m0 1h0m0 5h0m0 4h0m0 4h0m0 11h0m0 15h0m1-36h0m0 5h0m1-8h0m0 6h0m0 10h0m0 10h0m0 3h0m0 5h0m0 5h0m1-49h0m0 24h0m0 4h0m0 13h0m1-26h0m0 14h0m0 2h0m0 4h0m0 12h0m0 13h0m1-54h0m0 5h0m0 10h0m0 29h0m0 2h0m0 3h0m2-52h0m0 5h0m0 3h0m0 5h0m0 7h0m0 21h0m0 13h0m1-59h0m0 30h0m0 4h0m0 17h0m1-55h0m0 12h0m1-3h0m0 7h0m0 12h0m0 1h0m0 6h0m0 7h0m0 3h0m0 6h0m0 1h0m0 17h0m1-29h0m1-21h0m0 3h0m0 8h0m0 12h0m0 24h0m1-41h0m0 14h0m0 9h0m0 12h0m1-28h0m1-16h0m0 30h0m0 18h0m0 1h0m1-59h0m0 20h0" stroke="#27b7c2" stroke-width="3.2" stroke-linecap="square"/><path transform="scale(.5)" d="M1004 341h0m0 7h0m0 4h0m1-24h0m0 7h0m0 8h0m0 2h0m0 11h0m0 5h0m0 5h0m0 3h0m0 4h0m0 3h0m0 4h0m0 2h0m0 4h0m1-56h0m0 8h0m0 20h0m0 6h0m0 7h0m0 18h0m1-66h0m0 13h0m0 1h0m0 6h0m0 10h0m0 7h0m0 4h0m0 7h0m0 19h0m1-65h0m0 2h0m0 2h0m0 3h0m0 9h0m0 5h0m0 2h0m0 2h0m0 5h0m0 3h0m0 8h0m0 3h0m0 5h0m0 2h0m0 2h0m0 3h0m0 6h0" stroke="#3bb878" stroke-width="3.2" stroke-linecap="square"/><path d="M428.6 194C431.12 193.65 437.42 193.3 443.72 191.9C450.02 190.5 460.1 187.35 466.4 185.6C472.7 183.85 477.11 182.8 481.52 181.4C485.93 180 489.08 179.65 492.86 177.2C496.64 174.75 502.31 168.45 504.2 166.7" fill="none" stroke="#1a1a1a" stroke-width="1"/><rect x="427.4" y="159.2" width="78" height="37.4" fill="none" stroke="#d8d8d8" stroke-width="0.8"/><path transform="scale(.5)" d="M686 477h0m0 6h0m0 2h0m0 1h0m0 4h0m0 2h0m0 3h0m0 3h0m0 2h0m0 3h0m1-41h0m0 9h0m0 3h0m0 5h0m1-33h0m0 13h0m0 18h0m0 2h0m0 3h0m0 15h0m0 5h0m1-32h0m0 2h0m0 2h0m0 11h0m0 1h0m0 4h0m0 2h0m0 3h0m0 5h0m2-43h0m0 4h0m0 6h0m0 4h0m0 5h0m0 6h0m0 3h0m0 2h0m0 12h0m0 3h0m1-38h0m0 4h0m0 6h0m0 5h0m0 11h0m0 2h0m0 2h0m0 4h0m1-11h0m1-31h0m0 13h0m0 2h0m0 6h0m0 7h0m0 9h0m0 4h0m0 3h0m0 3h0m1-41h0m0 13h0m0 4h0m0 11h0m0 5h0m1-24h0m0 11h0m0 3h0m0 2h0m0 2h0m0 6h0m0 3h0m0 2h0m0 3h0m1-55h0m0 5h0m0 6h0m0 15h0m0 2h0m0 3h0m0 13h0m2-24h0m0 6h0m0 11h0m0 2h0m0 5h0m0 3h0m0 4h0m0 4h0m1-45h0m0 5h0m0 8h0m0 6h0m0 3h0m0 10h0m0 8h0m1-53h0m3 17h0m3 20h0m2-30h0m0 24h0m1-36h0m0 29h0m0 3h0m0 7h0m1 0h0m1 18h0m5-34h0m0 17h0m1-4h0m1-20h0m0 21h0m3-1h0m0 4h0m0 23h0m2-34h0m1-3h0m0 6h0m0 11h0m2-6h0m0 23h0m5-47h0m0 21h0m3 2h0m1-2h0m0 23h0m2-33h0m2-18h0m1 41h0m2-19h0m0 17h0m1-19h0m4-11h0m0 41h0m1-30h0m2-8h0m1-16h0" stroke="#f0776f" stroke-width="3.2" stroke-linecap="square"/><path transform="scale(.5)" d="M701 443h0m0 31h0m0 11h0m0 10h0m1 5h0m2-50h0m0 8h0m1 26h0m0 3h0m2 0h0m2-34h0m0 45h0m0 2h0m1-26h0m0 12h0m1-10h0m1-34h0m0 22h0m0 8h0m0 18h0m2-42h0m0 9h0m0 7h0m0 18h0m1 13h0m0 4h0m0 4h0m1-29h0m0 15h0m1-34h0m0 12h0m0 2h0m0 13h0m0 10h0m0 8h0m1-59h0m1-1h0m0 14h0m0 15h0m1-21h0m0 11h0m0 28h0m0 5h0m1-34h0m1-2h0m0 25h0m1-9h0m0 18h0m1-5h0m0 5h0m1-48h0m0 3h0m0 11h0m0 8h0m0 10h0m0 2h0m0 10h0m0 14h0m1-21h0m1-27h0m0 3h0m0 40h0m1-53h0m0 30h0m0 13h0m0 7h0m1-48h0m1 5h0m0 5h0m0 7h0m0 20h0m0 20h0m1-51h0m0 6h0m0 23h0m1-15h0m0 13h0m0 2h0m0 13h0m1-49h0m0 42h0m0 9h0m0 4h0m0 1h0m2-52h0m0 40h0m0 3h0m2-31h0m0 26h0m0 8h0m1-53h0m0 34h0m0 23h0m1-41h0m1 3h0m0 2h0m0 10h0m0 8h0m0 5h0m0 8h0m0 3h0m0 5h0m1-46h0m1 10h0m1-20h0m0 15h0m0 23h0m0 5h0m1 5h0m1-41h0m0 26h0m0 3h0m0 1h0m0 18h0m1-54h0m0 21h0m0 32h0m2-55h0m0 42h0m1-3h0m0 15h0m1-50h0m0 26h0m0 14h0m1-43h0m0 23h0m0 35h0" stroke="#c99431" stroke-width="3.2" stroke-linecap="square"/><path transform="scale(.5)" d="M701 451h0m0 4h0m0 3h0m0 2h0m0 17h0m0 13h0m0 13h0m1-50h0m0 11h0m0 3h0m0 3h0m0 2h0m0 8h0m0 2h0m0 6h0m0 4h0m0 5h0m1-41h0m0 44h0m1-37h0m0 3h0m0 3h0m0 6h0m0 1h0m0 4h0m0 2h0m0 8h0m0 3h0m0 5h0m0 5h0m2-53h0m0 13h0m0 4h0m0 10h0m0 8h0m0 4h0m0 5h0m0 3h0m0 5h0m1-40h0m0 10h0m0 2h0m0 18h0m0 8h0m2-57h0m0 5h0m0 9h0m0 6h0m0 3h0m0 15h0m0 9h0m0 2h0m0 2h0m1-36h0m0 4h0m0 22h0m1-31h0m0 16h0m0 12h0m0 4h0m0 3h0m0 6h0m0 6h0m0 2h0m1-57h0m0 5h0m0 7h0m0 1h0m0 3h0m0 5h0m0 8h0m0 19h0m2-55h0m0 21h0m0 8h0m0 10h0m0 7h0m0 3h0m0 10h0m1-35h0m0 7h0m0 2h0m0 2h0m0 6h0m0 13h0m1-38h0m0 18h0m1-23h0m0 10h0m0 3h0m0 23h0m0 9h0m0 4h0m1-10h0m0 14h0m1-30h0m0 2h0m0 10h0m1-23h0m0 3h0m0 2h0m0 13h0m0 2h0m0 8h0m0 6h0m0 3h0m0 5h0m1-58h0m1 6h0m0 3h0m0 13h0m0 2h0m0 23h0m0 2h0m0 3h0m0 4h0m1-37h0m0 11h0m0 9h0m0 3h0m1-28h0m0 1h0m1-12h0m0 3h0m0 3h0m0 39h0m0 1h0m0 3h0m0 5h0m2-43h0m0 7h0m0 2h0m0 12h0m0 2h0m0 6h0m1-42h0m0 11h0m0 7h0m0 11h0m0 22h0m0 6h0m1-44h0m0 5h0m0 6h0m0 6h0m0 9h0m0 3h0m0 15h0m1-36h0m0 7h0m0 15h0m0 4h0m0 2h0m0 3h0m2-39h0m0 28h0m0 16h0m1-55h0m0 8h0m0 4h0m0 6h0m0 2h0m0 13h0m1-14h0m1-12h0m0 7h0m0 1h0m0 5h0m0 14h0m0 2h0m0 8h0m0 10h0m1-47h0m0 4h0m0 13h0m1-18h0m0 7h0m0 26h0m1-38h0m0 18h0m0 2h0m0 2h0m0 8h0m0 3h0m0 7h0m0 5h0m0 7h0m0 1h0m1-25h0m1-26h0m0 5h0m0 8h0m0 2h0m0 8h0m0 2h0m0 21h0m1-28h0m0 13h0m0 8h0m0 12h0m1-48h0m0 2h0m0 16h0m0 1h0m0 4h0m1-29h0m0 47h0m0 3h0m0 2h0m0 3h0m1-13h0m1-34h0m0 3h0m0 2h0m0 11h0m1-25h0m0 16h0m0 5h0m0 6h0m0 10h0m0 4h0m0 2h0m0 3h0m0 2h0m0 7h0m2-64h0m0 23h0m0 2h0m0 8h0m0 9h0m0 8h0m0 1h0m0 3h0m0 9h0m0 2h0m1-53h0m0 8h0m0 16h0m0 3h0m1-21h0m0 4h0m0 16h0m0 3h0m0 16h0m1-31h0m0 8h0m0 9h0m0 3h0m0 5h0m0 8h0m0 3h0m1-31h0m0 23h0m1-47h0m0 40h0m0 11h0m1-52h0m0 6h0m0 4h0m0 3h0m0 2h0m0 2h0m0 2h0m0 4h0m0 7h0m0 3h0m0 3h0m0 2h0m0 7h0m0 11h0m0 2h0m1-54h0m0 21h0m0 19h0m0 9h0m1-54h0m0 13h0m0 2h0m0 4h0m0 2h0m0 10h0m0 11h0m1-48h0m0 3h0m0 6h0m0 5h0m0 3h0m0 12h0m0 5h0m0 6h0m0 5h0m0 10h0m0 4h0m0 1h0m0 3h0m1-52h0m0 55h0m1-62h0m0 3h0m0 4h0m0 10h0m0 5h0m0 5h0m0 3h0m0 5h0m0 5h0m0 3h0m0 3h0m0 5h0m0 6h0m0 1h0m1-53h0m0 4h0m0 6h0m0 5h0m0 19h0m0 10h0m0 12h0m1-54h0m0 34h0m0 3h0m0 10h0m0 5h0m1-63h0m0 3h0m0 2h0m0 4h0m0 10h0m0 3h0m0 2h0m0 3h0m0 5h0m0 3h0m0 5h0m0 2h0m0 9h0m0 1h0m0 8h0m1-46h0m0 23h0m0 29h0m1-61h0m0 3h0m0 3h0m0 6h0m0 1h0m0 3h0m0 9h0m0 9h0m0 6h0m0 2h0m0 4h0m0 9h0m1-46h0m0 10h0m0 3h0m0 5h0m0 3h0m0 2h0m0 15h0m0 7h0m0 4h0m1-56h0m0 9h0m0 44h0m0 5h0m1-57h0m0 3h0m0 3h0m0 5h0m0 3h0m0 2h0m0 3h0m0 3h0m0 2h0m0 5h0m0 3h0m0 2h0m0 8h0m0 2h0m0 6h0m1-12h0m0 2h0m1-3h0m0 18h0m2-50h0m0 35h0m1-22h0m0 5h0m0 11h0m0 7h0m0 9h0m2-49h0m0 38h0m0 5h0m0 3h0m0 3h0m1-44h0m0 12h0m0 9h0m0 8h0m2-27h0m0 34h0m0 6h0m1-45h0m0 29h0m0 8h0m0 18h0m1-61h0m0 9h0m0 33h0m0 8h0m0 6h0m1-39h0m0 36h0m2-47h0m0 8h0m0 21h0m0 4h0m0 7h0m1-19h0m0 20h0m1-13h0m0 16h0m1-54h0m0 21h0m0 39h0m2-47h0m0 3h0m0 30h0m0 8h0m0 2h0m1-18h0m0 3h0m2-5h0m0 3h0m0 24h0m1-58h0m1 3h0m0 29h0m0 1h0m1-15h0m0 11h0m0 25h0m1-48h0m1 1h0m0 5h0m0 7h0m0 19h0m0 19h0m0 3h0m1-36h0m0 17h0m0 4h0m1-24h0m1-14h0m0 3h0m0 18h0m0 5h0m0 13h0m0 8h0m1-17h0" stroke="#a47dd0" stroke-width="3.2" stroke-linecap="square"/><path transform="scale(.5)" d="M755 472h0m2 7h0m0 11h0m2-37h0m1-15h0m0 28h0m2-12h0m0 38h0m3-12h0m0 12h0m0 11h0m2-62h0m0 30h0m1-28h0m0 56h0m1-58h0m0 12h0m0 4h0m0 15h0m0 2h0m0 3h0m0 8h0m0 7h0m1-42h0m0 16h0m0 3h0m0 21h0m0 6h0m0 6h0m1-56h0m1 8h0m0 17h0m0 3h0m0 8h0m1-42h0m0 61h0m1-46h0m0 14h0m1-32h0m0 12h0m0 10h0m0 7h0m1 13h0m0 3h0m1-39h0m0 19h0m0 2h0m0 3h0m0 7h0m1-23h0m0 46h0m1-49h0m0 7h0m0 13h0m0 14h0m0 5h0m1-41h0m0 25h0m0 6h0m0 2h0m0 11h0m0 13h0m2-57h0m0 5h0m0 2h0m0 8h0m0 5h0m0 26h0m0 8h0m1-42h0m0 14h0m0 13h0m0 18h0m1-41h0m0 38h0m1-52h0m0 5h0m0 11h0m0 3h0m0 1h0m0 7h0m2-18h0m0 2h0m0 2h0m0 28h0m1-43h0m0 2h0m0 23h0m0 32h0m1-62h0m0 15h0m1 2h0m0 10h0m0 4h0m0 8h0m0 12h0m0 5h0m0 5h0m1-48h0m0 41h0m1-42h0m0 36h0m0 11h0m1-56h0m0 36h0m0 8h0m0 14h0m2-61h0m0 12h0m0 16h0m0 21h0m0 2h0m0 2h0m1-56h0m0 4h0m0 3h0m1 0h0m1 3h0m0 11h0m0 15h0m0 11h0m0 2h0" stroke="#3ba7df" stroke-width="3.2" stroke-linecap="square"/><path transform="scale(.5)" d="M769 445h0m0 18h0m0 16h0m0 8h0m0 10h0m1-59h0m0 9h0m0 12h0m1-16h0m0 15h0m0 3h0m0 5h0m0 10h0m0 16h0m1-54h0m0 10h0m0 7h0m0 35h0m0 8h0m0 5h0m2-62h0m0 3h0m0 54h0m0 2h0m1-25h0m0 1h0m0 11h0m1-47h0m0 6h0m1-8h0m0 18h0m0 15h0m0 19h0m0 4h0m0 6h0m1-32h0m1-28h0m0 23h0m1-25h0m0 16h0m0 12h0m0 8h0m0 27h0m2-38h0m0 10h0m0 25h0m1-54h0m0 35h0m0 16h0m1-55h0m0 39h0m0 5h0m0 19h0m1-59h0m0 2h0m0 10h0m0 34h0m0 5h0m1-7h0m1-45h0m0 26h0m0 5h0m0 7h0m0 6h0m0 10h0m0 3h0m1-37h0m0 4h0m1 0h0m0 23h0m1-52h0m0 8h0m0 4h0m0 12h0m0 20h0m1-19h0m0 22h0m1-48h0m0 4h0m0 9h0m0 6h0m0 10h0m0 3h0m0 12h0m0 11h0m0 2h0m1-46h0m0 15h0m0 22h0m2-12h0m0 4h0m0 21h0m1-39h0m0 5h0m0 7h0m0 9h0m1-40h0m0 3h0m0 49h0m1-55h0m0 20h0m0 10h0m0 2h0m0 13h0m0 21h0m1-63h0m0 9h0m0 17h0m0 28h0m0 9h0m1-50h0m2 31h0m1-14h0m1 18h0m1-9h0m0 4h0m2-45h0m1 13h0m0 32h0m0 6h0m1-45h0m1 12h0m2-6h0m0 14h0m0 11h0m0 14h0m1-23h0m0 29h0m1-47h0m0 45h0m1-56h0m0 4h0m1 20h0m1-14h0m0 48h0m1-37h0m0 16h0m0 23h0m0 4h0m2-64h0m0 47h0m0 16h0m1-54h0m0 20h0m0 37h0m2-62h0m0 7h0m0 13h0m0 2h0m0 11h0m2-30h0m0 45h0m1-23h0m2-24h0m0 8h0m0 12h0m0 6h0m1-22h0m0 25h0m1 8h0m0 14h0m3-42h0m0 25h0m1-7h0" stroke="#27b7c2" stroke-width="3.2" stroke-linecap="square"/><path transform="scale(.5)" d="M799 456h0m0 2h0m0 3h0m0 8h0m0 2h0m0 14h0m0 3h0m0 2h0m0 4h0m0 3h0m1-59h0m0 5h0m0 2h0m0 6h0m0 12h0m0 11h0m0 2h0m0 4h0m0 1h0m0 11h0m0 8h0m1-55h0m0 3h0m0 13h0m0 10h0m0 18h0m1-51h0m0 5h0m0 10h0m0 2h0m0 3h0m0 5h0m0 3h0m0 9h0m0 7h0m0 6h0m0 5h0m0 2h0m0 3h0m0 2h0m1-60h0m0 11h0m0 26h0m0 3h0m0 23h0m1-60h0m0 10h0m0 3h0m0 7h0m0 4h0m0 2h0m0 4h0m0 3h0m0 19h0m0 2h0m0 4h0m1-61h0m0 7h0m0 12h0m0 2h0m0 11h0m0 13h0m0 5h0m0 2h0m2-50h0m0 4h0m0 2h0m0 10h0m0 11h0m0 3h0m0 5h0m0 3h0m0 7h0m0 10h0m0 3h0m0 3h0m1-62h0m0 21h0m0 2h0m0 3h0m0 6h0m0 12h0m0 7h0m1-42h0m0 8h0m0 5h0m0 8h0m0 5h0m0 11h0m0 2h0m0 3h0m0 6h0m1-53h0m0 4h0m0 4h0m0 13h0m0 3h0m0 6h0m0 5h0m0 2h0m0 2h0m0 11h0m0 8h0m1-41h0m0 38h0m1-62h0m0 2h0m0 6h0m0 8h0m0 1h0m0 6h0m0 7h0m0 3h0m0 9h0m0 1h0m0 4h0m0 8h0m0 4h0m0 6h0m1-61h0m0 6h0m0 11h0m0 18h0m0 10h0m1-18h0m0 13h0m1-39h0m0 3h0m0 7h0m0 4h0m0 1h0m0 5h0m0 4h0m0 5h0m0 1h0m0 6h0m0 5h0m0 4h0m0 2h0m0 8h0m0 1h0m1-49h0m0 26h0m0 18h0m0 8h0m1-65h0m0 4h0m0 3h0m0 7h0m0 3h0m0 17h0m0 9h0m0 1h0m0 4h0m1-39h0m0 11h0m0 4h0m0 3h0m0 2h0m0 2h0m0 19h0m0 3h0m0 2h0m0 11h0m1-8h0m1-52h0m0 5h0m0 2h0m0 3h0m0 2h0m0 6h0m0 2h0m0 8h0m0 2h0m0 6h0m0 14h0m0 5h0m1-57h0m0 28h0m0 8h0m0 4h0m0 9h0m1-47h0m0 8h0m0 21h0m0 5h0m0 4h0m0 9h0m0 3h0m0 2h0m1-49h0m0 7h0m0 3h0m0 3h0m0 7h0m0 2h0m0 11h0m0 5h0m0 3h0m0 10h0m0 4h0m0 2h0m2-62h0m0 4h0m0 3h0m0 5h0m0 3h0m0 2h0m0 3h0m0 3h0m0 5h0m0 2h0m0 6h0m0 2h0m0 19h0m0 4h0m1-65h0m0 14h0m0 23h0m0 11h0m0 7h0m0 8h0m1-52h0m0 49h0m1-59h0m0 2h0m0 13h0m0 3h0m0 20h0m0 5h0m0 4h0m0 2h0m0 6h0m0 1h0m0 6h0m1-37h0m0 4h0m0 7h0m0 5h0m0 11h0m1-31h0m0 8h0m0 2h0m0 5h0m0 10h0m0 14h0m0 5h0m1-63h0m0 2h0m0 4h0m0 3h0m0 2h0m0 2h0m0 9h0m0 1h0m0 13h0m0 6h0m0 6h0m0 2h0m0 5h0m2-55h0m0 3h0m0 5h0m0 5h0m0 3h0m0 6h0m0 2h0m0 2h0m0 8h0m0 8h0m0 3h0m0 2h0m0 3h0m0 2h0m0 6h0m0 4h0m1-64h0m0 7h0m0 35h0m0 14h0m0 6h0" stroke="#3bb878" stroke-width="3.2" stroke-linecap="square"/><path d="M342.5 249.88C343.76 249.8 347.53 249.66 350.04 249.41C352.55 249.16 355.07 248.91 357.58 248.41C360.09 247.9 362.61 247.33 365.12 246.38C367.63 245.44 370.15 244.25 372.66 242.72C375.17 241.18 377.69 239.17 380.2 237.17C382.71 235.17 385.23 232.71 387.74 230.71C390.25 228.71 392.77 226.7 395.28 225.16C397.79 223.63 400.31 222.44 402.82 221.5C405.33 220.55 407.85 219.98 410.36 219.47C412.87 218.97 416.64 218.64 417.9 218.47" fill="none" stroke="#1a1a1a" stroke-width="1"/><rect x="341.3" y="216.4" width="77.8" height="36.8" fill="none" stroke="#d8d8d8" stroke-width="0.8"/><path transform="scale(.5)" d="M858 460h0m0 5h0m0 8h0m0 21h0m0 7h0m1-31h0m0 6h0m0 22h0m0 5h0m2-60h0m0 8h0m0 36h0m0 6h0m1-3h0m0 13h0m1-19h0m1-4h0m0 10h0m0 2h0m0 5h0m2-34h0m0 3h0m0 18h0m0 5h0m0 4h0m0 2h0m1-41h0m0 16h0m0 17h0m0 15h0m1-9h0m0 6h0m1-45h0m0 36h0m0 8h0m1-36h0m1-2h0m0 14h0m0 2h0m0 2h0m0 9h0m0 2h0m1-38h0m0 18h0m0 2h0m0 13h0m0 16h0m2-35h0m0 4h0m0 4h0m0 1h0m0 5h0m0 8h0m0 9h0m0 7h0m1-46h0m0 2h0m0 18h0m0 15h0m0 5h0m0 2h0" stroke="#f0776f" stroke-width="3.2" stroke-linecap="square"/><path transform="scale(.5)" d="M858 463h0m0 29h0m1-8h0m0 2h0m0 4h0m1 9h0m1-45h0m0 20h0m0 6h0m0 3h0m0 11h0m0 3h0m1-25h0m1-16h0m0 43h0m1-32h0m0 14h0m0 6h0m0 8h0m0 8h0m2-5h0m1-39h0m0 18h0m1 18h0m1-16h0m0 5h0m0 4h0m0 15h0m2-21h0m0 16h0m1-32h0m0 27h0m0 2h0m0 8h0m2-19h0m1 6h0m1 13h0m1-26h0m2-27h0m0 20h0m0 23h0m0 2h0m0 4h0m1-35h0m0 20h0m1-33h0m0 5h0m0 23h0m1-34h0m0 26h0m0 11h0m0 3h0m2-3h0m0 13h0m0 6h0m1-25h0m0 13h0m1-42h0m1-5h0m0 53h0m0 3h0m0 1h0m3-23h0m0 11h0m0 3h0m0 2h0m0 11h0m2-13h0m0 11h0m1-22h0m0 13h0m1-7h0m1 11h0m0 2h0m1-33h0m1-11h0m0 28h0m1-12h0m0 22h0m0 2h0m0 9h0m1-6h0m1-37h0m0 35h0m1-16h0m2-33h0m0 43h0m1 13h0m2-59h0m0 23h0m0 37h0m1-32h0m0 6h0m0 23h0m1-44h0m0 6h0m1-9h0m0 13h0m1 8h0m0 23h0m1-20h0m1-39h0m0 13h0m2 4h0m0 3h0m0 6h0m0 16h0m1-31h0m0 34h0m1-40h0m0 55h0m3-43h0m1 20h0m0 6h0m1 18h0m1-23h0m0 3h0m1-12h0m1 35h0m1-23h0m2-30h0m0 2h0m0 47h0m0 3h0m1-30h0m2 9h0m0 15h0m0 2h0m1-43h0m1 48h0m1-44h0m0 8h0m0 11h0m0 8h0m2-16h0m0 28h0m0 5h0m2-57h0m0 11h0m1 23h0m2 6h0m0 2h0m1-38h0m0 23h0" stroke="#a47dd0" stroke-width="3.2" stroke-linecap="square"/><path transform="scale(.5)" d="M876 480h0m0 3h0m0 7h0m0 8h0m1-28h0m0 23h0m0 7h0m2-18h0m0 21h0m2-11h0m1-18h0m0 13h0m0 3h0m0 10h0m0 3h0m2-19h0m0 19h0m1-51h0m0 6h0m0 13h0m0 2h0m2-18h0m0 15h0m0 15h0m1 7h0m1-12h0m1-15h0m0 17h0m0 16h0m2-43h0m0 11h0m1-22h0m0 53h0m1-18h0m1-3h0m0 5h0m0 6h0m0 15h0m1-12h0m0 3h0m1-8h0m0 4h0m2 4h0m1-12h0m0 22h0m1-35h0m0 19h0m2-49h0m0 34h0m0 15h0m0 14h0m1-61h0m0 4h0m0 7h0m0 2h0m0 3h0m0 8h0m0 2h0m0 3h0m0 8h0m0 2h0m0 2h0m0 3h0m1-9h0m0 20h0m1-49h0m0 2h0m0 6h0m0 8h0m0 7h0m0 10h0m0 2h0m0 13h0m1-43h0m0 4h0m0 3h0m0 16h0m0 10h0m0 4h0m0 1h0m0 3h0m0 5h0m1-28h0m0 13h0m0 10h0m1-47h0m0 3h0m0 10h0m0 13h0m0 6h0m0 2h0m0 5h0m0 3h0m0 3h0m0 5h0m0 5h0m1-50h0m0 13h0m0 40h0m1-61h0m0 5h0m0 11h0m0 10h0m0 6h0m0 10h0m0 9h0m0 1h0m1-54h0m0 5h0m0 16h0m0 3h0m0 7h0m0 8h0m0 2h0m0 6h0m0 3h0m0 9h0m2-59h0m0 3h0m0 23h0m0 5h0m0 6h0m0 7h0m0 3h0m0 5h0m0 11h0m1-52h0m0 3h0m0 7h0m0 14h0m0 15h0m0 7h0m1-56h0m0 8h0m0 2h0m0 5h0m0 4h0m0 3h0m0 17h0m0 2h0m0 8h0m0 2h0m1-33h0m0 7h0m0 2h0m0 4h0m0 5h0m0 10h0m0 8h0m0 5h0m0 3h0m2-53h0m0 9h0m0 8h0m0 9h0m0 4h0m0 4h0m0 11h0m0 3h0m1-45h0m0 8h0m0 2h0m0 6h0m0 2h0m0 17h0m0 11h0m0 4h0m1-18h0m0 2h0m0 5h0m1-41h0m0 2h0m0 3h0m0 3h0m0 2h0m0 10h0m0 11h0m0 7h0m0 6h0m0 3h0m1-34h0m0 5h0m0 5h0m0 29h0m1-66h0m0 10h0m0 4h0m0 8h0m0 7h0m0 5h0m0 3h0m0 8h0m0 11h0m0 5h0m1-45h0m0 8h0m0 3h0m0 4h0m0 16h0m0 3h0m0 3h0m0 5h0m0 4h0m1-6h0m1-48h0m0 11h0m0 2h0m0 9h0m0 8h0m0 5h0m0 1h0m1-42h0m0 3h0m0 11h0m0 9h0m0 2h0m0 5h0m0 7h0m0 9h0m0 4h0m1-38h0m0 13h0m0 36h0m1-52h0m0 7h0m0 6h0m0 5h0m0 2h0m0 4h0m0 1h0m0 9h0m0 2h0m0 4h0m0 4h0m0 10h0m2-66h0m0 11h0m0 7h0m0 1h0m0 6h0m0 3h0m0 6h0m0 3h0m0 15h0m0 2h0m0 5h0m0 6h0m1-29h0m0 7h0m0 14h0m0 4h0m1-36h0m0 27h0m1-44h0m0 8h0m0 2h0m0 2h0m0 2h0m0 9h0m0 4h0m0 6h0m0 3h0m0 2h0m0 3h0m0 5h0m0 3h0m0 2h0m0 5h0m1-37h0m1-27h0m0 12h0m0 10h0m0 3h0m0 5h0m0 6h0m0 2h0m0 3h0m0 13h0m0 2h0m0 5h0m0 6h0m1-61h0m0 8h0m0 3h0m0 11h0m0 5h0m0 14h0m0 1h0m0 3h0m0 8h0m0 5h0m2-59h0m0 4h0m0 8h0m0 5h0m0 6h0m0 2h0m0 9h0m0 1h0m0 4h0m0 9h0m0 5h0m0 4h0m0 3h0m1-59h0m0 8h0m0 1h0m0 3h0m0 1h0m0 5h0m0 9h0m0 10h0m0 3h0m0 11h0m0 10h0m0 0h0m1-3h0m1-31h0m1 11h0m0 2h0m0 10h0m1-44h0m0 9h0m0 3h0m0 7h0m1-4h0m0 7h0m0 30h0m1-58h0m0 38h0m0 2h0m1-15h0m1-24h0m0 8h0m0 4h0m0 27h0m1 3h0m0 5h0m0 4h0m2-57h0m0 46h0m0 1h0m0 6h0m0 2h0m1-18h0m0 28h0m2-57h0m0 11h0m0 5h0m0 11h0m0 8h0m0 2h0m0 13h0m0 2h0m2-59h0m0 12h0m0 43h0m0 4h0m1-25h0m0 1h0m0 16h0m1-23h0m1-17h0m0 12h0m0 8h0m0 8h0m0 20h0m2-52h0m0 24h0m0 5h0m0 3h0m0 4h0m1-41h0m0 53h0m1-53h0m0 52h0m1-44h0m0 55h0m1-50h0m1-13h0m0 3h0m0 8h0m0 3h0m0 4h0m0 3h0m0 3h0m0 10h0m0 11h0m0 3h0m0 7h0m0 6h0m1-63h0m0 7h0m0 3h0m0 8h0m0 11h0m0 5h0m0 5h0m0 3h0m0 3h0m0 7h0m0 3h0m0 4h0m0 5h0m1-54h0m0 2h0m0 3h0m0 23h0m0 8h0m0 3h0m0 14h0m1-61h0m0 4h0m0 2h0m0 13h0m0 5h0m0 2h0m0 3h0m0 10h0m0 11h0m0 3h0m0 2h0m0 3h0m0 5h0m1-46h0m0 4h0m0 10h0m0 3h0m1-28h0m0 12h0m0 2h0m0 23h0m0 5h0m0 1h0m0 3h0m0 8h0m1-59h0m0 3h0m0 3h0m0 7h0m0 2h0m0 8h0m0 3h0m0 1h0m0 9h0m0 3h0m0 5h0m0 10h0m0 2h0m1-39h0m0 10h0m0 35h0m1-65h0m0 4h0m0 3h0m0 3h0m0 2h0m0 3h0m0 11h0m0 3h0m0 7h0m0 5h0m0 6h0m0 2h0m0 3h0m0 2h0m0 8h0m1-39h0m0 10h0m0 5h0m0 22h0m1-60h0m0 16h0m0 2h0m0 5h0m0 3h0m0 3h0m0 10h0m0 4h0m0 11h0m0 8h0m0 3h0m1-63h0m0 2h0m0 3h0m0 2h0m0 3h0m0 9h0m0 9h0m0 3h0m0 3h0m0 5h0m0 5h0m0 3h0m0 3h0m0 4h0m0 3h0m2-57h0m0 3h0m0 13h0m0 8h0m0 5h0m0 3h0m0 2h0m0 3h0m0 5h0m0 8h0m0 4h0m0 7h0m0 2h0m1-65h0m0 7h0m0 3h0m0 3h0m0 3h0m0 5h0m0 3h0m0 4h0m0 14h0m0 13h0m0 4h0m1-36h0m0 6h0m0 4h0m0 16h0m1-41h0m0 1h0m0 3h0m0 3h0m0 4h0m0 1h0m0 5h0m0 7h0m0 4h0m0 2h0m0 3h0m0 3h0m0 3h0m0 7h0m0 3h0m0 3h0m0 3h0m0 2h0m1-61h0m0 48h0m1-50h0m0 4h0m0 3h0m0 10h0m0 2h0m0 5h0m0 5h0m0 2h0m0 3h0m0 2h0m0 14h0m0 5h0m0 5h0m1-63h0m0 9h0m0 5h0m0 3h0m0 8h0m0 4h0m0 13h0m0 3h0m0 2h0m0 3h0m0 6h0m0 4h0m0 6h0m1-65h0m0 60h0m1-57h0m0 1h0m0 3h0m0 3h0m0 3h0m0 2h0m0 3h0m0 2h0m0 4h0m0 2h0m0 6h0m0 1h0m0 2h0m0 4h0m0 3h0m0 2h0m0 21h0m1-37h0m0 19h0m0 1h0m0 4h0m0 3h0m0 2h0m1-53h0m0 6h0m0 2h0m0 11h0m0 35h0m1-56h0m0 6h0m0 7h0m0 3h0m0 3h0m0 5h0m0 2h0m0 3h0m0 2h0m0 3h0m0 3h0m0 3h0m0 1h0m0 4h0m0 2h0m0 2h0m0 4h0m0 4h0m0 3h0m0 3h0m2-66h0m0 4h0m0 3h0m0 2h0m0 7h0m0 6h0m0 2h0m0 2h0m0 3h0m0 3h0m0 5h0m0 6h0m0 2h0m0 2h0m0 9h0m0 2h0m0 3h0m0 5h0m1-55h0m0 3h0m0 4h0m0 33h0m0 2h0m1-53h0m0 8h0m0 3h0m0 3h0m0 18h0m0 24h0m1-53h0m0 3h0m0 11h0m0 2h0m0 2h0m0 9h0m0 4h0m0 4h0m0 7h0m0 6h0m0 10h0m1-21h0m0 2h0m0 5h0m0 6h0m1-50h0m0 3h0m0 11h0m0 4h0m0 6h0m0 2h0m0 3h0m0 6h0m0 4h0m0 6h0m0 3h0m0 6h0m0 3h0m0 4h0m1-56h0m0 4h0m0 7h0m0 4h0m0 12h0m0 5h0m0 4h0m0 8h0m0 13h0m1-5h0m1-57h0m0 6h0m0 2h0m0 7h0m0 6h0m0 8h0m0 2h0m0 2h0m0 9h0m0 10h0m0 3h0m0 5h0m1-58h0m0 9h0m0 2h0m0 5h0m0 5h0m0 14h0m0 2h0m0 7h0m0 4h0m0 13h0m1-58h0m0 8h0m0 26h0m0 6h0m0 15h0m0 3h0m1-64h0m0 10h0m0 2h0m0 5h0m0 3h0m0 2h0m0 3h0m0 2h0m0 3h0m0 3h0m0 3h0m0 1h0m0 7h0m0 6h0m0 3h0m1-6h0m0 12h0" stroke="#7ba83f" stroke-width="3.2" stroke-linecap="square"/><path transform="scale(.5)" d="M877 464h0m0 31h0m2 3h0m1-10h0m0 1h0m1 6h0m1-18h0m0 21h0m2-12h0m1 6h0m0 5h0m2-7h0m0 12h0m2-18h0m0 11h0m1-41h0m0 15h0m0 9h0m0 22h0m2-57h0m0 15h0m0 24h0m0 5h0m0 8h0m1-34h0m0 23h0m0 18h0m1-32h0m1-7h0m0 5h0m0 8h0m0 24h0m1-45h0m1 32h0m1-26h0m0 19h0m0 18h0m2-35h0m0 3h0m0 18h0m0 5h0m0 11h0m4-7h0m2-29h0m6-10h0m0 43h0m0 6h0m2-3h0m3-46h0m3 36h0m5-14h0m3 26h0m1-12h0m1-14h0m2-25h0m2 24h0m7-33h0m0 19h0m0 2h0m0 3h0m0 29h0m1-49h0m0 2h0m0 40h0m0 10h0m2-55h0m0 10h0m0 6h0m1-8h0m0 23h0m0 26h0m0 3h0m1-44h0m0 31h0m0 12h0m1-61h0m0 47h0m0 10h0m1-45h0m1 13h0m0 37h0m1-49h0m0 4h0m0 40h0m2-50h0m0 8h0m0 16h0m0 23h0m1-50h0m2-7h0m0 50h0m0 1h0m2-41h0m0 11h0m0 2h0m0 3h0m0 2h0m1 13h0m0 4h0m0 12h0m0 8h0m2-66h0m0 4h0m0 10h0m0 20h0m0 19h0m0 2h0m2-36h0m0 2h0m0 6h0m0 8h0m0 15h0m0 16h0m1-42h0m0 6h0m0 13h0m0 17h0m2-59h0m0 7h0m0 6h0m0 28h0m0 5h0m0 14h0m1-30h0m0 22h0" stroke="#3ba7df" stroke-width="3.2" stroke-linecap="square"/><path transform="scale(.5)" d="M941 459h0m1-18h0m0 15h0m0 13h0m0 4h0m0 4h0m0 5h0m0 3h0m0 4h0m2-49h0m0 5h0m0 26h0m0 24h0m0 3h0m1-34h0m0 13h0m0 7h0m0 3h0m0 3h0m1-42h0m0 3h0m0 21h0m0 1h0m0 23h0m1-60h0m0 9h0m0 31h0m0 16h0m1-31h0m1-20h0m0 22h0m0 11h0m0 2h0m0 11h0m0 5h0m0 8h0m1-55h0m0 3h0m0 13h0m0 8h0m0 2h0m0 9h0m1-37h0m0 17h0m0 20h0m1-40h0m0 11h0m0 15h0m0 11h0m0 10h0m0 13h0m1-41h0m0 5h0m0 4h0m0 30h0m1-58h0m0 8h0m0 3h0m0 15h0m0 33h0m1-55h0m0 9h0m0 5h0m0 5h0m0 6h0m0 5h0m0 3h0m0 7h0m0 18h0m1-56h0m1 8h0m0 23h0m0 23h0m1-58h0m0 14h0m0 29h0m0 1h0m1-12h0m1-31h0m0 11h0m0 5h0m0 20h0m0 4h0m0 4h0m0 8h0m0 5h0m0 2h0m1-64h0m0 8h0m0 9h0m0 29h0m1-41h0m0 11h0m0 47h0m1-64h0m0 13h0m0 34h0m0 5h0m0 5h0m1-30h0m1-21h0m0 13h0m0 3h0m0 2h0m0 10h0m0 3h0m1-8h0m0 15h0m0 7h0m0 6h0" stroke="#27b7c2" stroke-width="3.2" stroke-linecap="square"/><path transform="scale(.5)" d="M1004 454h0m0 10h0m0 12h0m1-39h0m0 3h0m0 3h0m0 2h0m0 4h0m0 8h0m0 1h0m0 3h0m0 6h0m0 1h0m0 17h0m0 2h0m0 8h0m0 3h0m0 2h0m0 3h0m1-52h0m0 23h0m0 5h0m0 3h0m0 8h0m0 2h0m1-26h0m0 5h0m0 6h0m0 3h0m0 2h0m0 5h0m0 6h0m0 9h0m1-59h0m0 3h0m0 2h0m0 3h0m0 3h0m0 2h0m0 3h0m0 2h0m0 2h0m0 6h0m0 5h0m0 10h0m0 6h0m0 5h0m0 3h0m0 3h0m1-64h0m0 4h0" stroke="#3bb878" stroke-width="3.2" stroke-linecap="square"/><path d="M428.6 249.25C432.38 248.85 443.72 247.99 451.28 246.84C458.84 245.69 467.66 243.69 473.96 242.37C480.26 241.05 484.04 240.48 489.08 238.93C494.12 237.38 501.68 234.05 504.2 233.08" fill="none" stroke="#1a1a1a" stroke-width="1"/><rect x="427.4" y="216.4" width="78" height="36.8" fill="none" stroke="#d8d8d8" stroke-width="0.8"/><text x="334.5" y="150" font-size="9.3" fill="#333" text-anchor="middle" transform="rotate(-90 334.5 150)">Expression</text><text x="423.6" y="264.8" font-size="9.3" fill="#333" text-anchor="middle">Pseudotime</text><text x="524.8" y="9.2" font-size="13" fill="#111" font-weight="bold" stroke="#111" stroke-width="0.45">c</text><text x="525.3" y="21.8" font-size="9.3" fill="#333">Cell trajectory of ASC lineages</text><text x="524.3" y="155.3" font-size="13" fill="#111" font-weight="bold" stroke="#111" stroke-width="0.45">d</text><text x="536.4" y="167" font-size="9.3" fill="#333">Cell trajectory by tissues</text><text x="644" y="200.8" font-size="9.3" fill="#333">Cluster</text><circle cx="646.9" cy="209" r="3.1" fill="#5bbf9b"/><text x="653.7" y="212.3" font-size="9.3" fill="#333">ASC</text><circle cx="646.9" cy="222" r="3.1" fill="#f08a6a"/><text x="653.7" y="225.3" font-size="9.3" fill="#333">adCAF</text><circle cx="646.9" cy="234.8" r="3.1" fill="#8a9bd0"/><text x="653.7" y="238.1" font-size="9.3" fill="#333">pAC</text><rect x="539.3" y="26.6" width="96.2" height="45.9" fill="none" stroke="#d4d4d4" stroke-width="0.8"/><rect x="539.3" y="80.2" width="96.2" height="46.5" fill="none" stroke="#d4d4d4" stroke-width="0.8"/><path d="M543.1 50.77 L544.74 50.97 L546.38 51.18 L548.03 51.38 L549.67 51.58 L551.31 51.78 L552.96 51.98 L554.47 52.16 L555.96 52.47 L557.59 52.8 L559.21 53.13 L560.83 53.46 L562.45 53.79 L564.07 54.12 L565.7 54.45 L567.32 54.78 L568.96 55.11 L570.61 55.43 L572.25 55.73 L573.87 56.03 L575.5 56.33 L577.13 56.63 L578.76 56.93 L580.39 57.22 L582.02 57.51 L583.65 57.8 L585.29 58.09 L586.93 58.37 L588.56 58.64 L590.19 58.92 L591.82 59.2 L593.45 59.48 L595.08 59.76 L596.76 60.06 L598.48 60.3 L600.18 60.46 L601.82 60.62 L603.47 60.77 L605.12 60.93 L606.77 61.09 L607.23 56.91 L605.59 56.7 L603.95 56.5 L602.31 56.29 L600.66 56.08 L599.07 55.88 L597.53 55.61 L595.95 55.28 L594.33 54.94 L592.71 54.59 L591.09 54.25 L589.47 53.9 L587.85 53.55 L586.24 53.21 L584.63 52.85 L583.02 52.49 L581.4 52.13 L579.79 51.78 L578.17 51.43 L576.55 51.08 L574.93 50.73 L573.31 50.38 L571.7 50.04 L570.11 49.68 L568.52 49.31 L566.91 48.92 L565.3 48.54 L563.69 48.16 L562.08 47.78 L560.47 47.4 L558.86 47.02 L557.24 46.64 L555.5 46.24 L553.74 45.99 L552.1 45.76 L550.46 45.54 L548.82 45.31 L547.18 45.08 L545.54 44.85 L543.9 44.63Z" fill="url(#gTr)" stroke="none" stroke-width="1"/><path d="M606.47 59.92 L607.43 59.7 L608.38 59.47 L609.34 59.25 L610.29 59.02 L611.25 58.8 L612.38 58.51 L613.59 57.96 L614.56 57.33 L615.39 56.8 L616.22 56.27 L617.05 55.74 L617.88 55.21 L618.95 54.46 L619.86 53.48 L620.53 52.75 L621.2 52.03 L621.87 51.32 L622.54 50.6 L623.21 49.88 L623.96 49.05 L624.82 47.89 L625.42 46.72 L625.89 45.85 L626.36 44.99 L626.82 44.12 L627.29 43.26 L627.76 42.4 L628.23 41.53 L628.8 40.36 L629.2 39.13 L629.52 38.2 L629.83 37.27 L630.15 36.34 L630.47 35.41 L630.77 34.48 L631.05 33.54 L631.34 32.6 L631.62 31.66 L631.91 30.73 L621.69 28.27 L621.52 29.24 L621.35 30.2 L621.18 31.15 L621 32.11 L620.84 33.08 L620.7 34.05 L620.55 35.02 L620.41 35.99 L620.27 36.96 L620.21 37.62 L620.06 38.27 L619.8 39.21 L619.54 40.16 L619.28 41.11 L619.02 42.06 L618.77 43 L618.51 43.95 L618.39 44.59 L618.2 45.06 L617.78 45.8 L617.28 46.65 L616.77 47.49 L616.27 48.33 L615.77 49.18 L615.27 50.01 L614.99 50.59 L614.55 51.05 L613.85 51.74 L613.15 52.43 L612.45 53.13 L611.76 53.82 L611.2 54.4 L610.74 54.78 L610.02 55.11 L609.12 55.51 L608.22 55.9 L607.32 56.29 L606.42 56.68 L605.53 57.08Z" fill="url(#gUp)" stroke="none" stroke-width="1"/><path d="M605.49 61.02 L606.05 61.22 L606.61 61.43 L607.17 61.63 L607.72 61.84 L608.28 62.05 L608.84 62.25 L609.4 62.46 L609.95 62.66 L610.51 62.88 L611.05 63.09 L611.59 63.3 L612.13 63.53 L612.67 63.75 L613.22 63.98 L613.77 64.21 L614.32 64.43 L614.87 64.67 L615.41 64.92 L615.95 65.17 L616.49 65.42 L617.03 65.67 L617.57 65.93 L618.04 66.15 L618.47 66.4 L618.97 66.68 L619.49 66.98 L620.01 67.27 L620.52 67.57 L621.04 67.86 L621.56 68.16 L622.08 68.44 L622.61 68.71 L623.11 68.97 L623.59 69.23 L624.09 69.52 L624.6 69.81 L625.12 70.1 L625.64 70.39 L626.16 70.68 L628.84 65.32 L628.3 65.08 L627.75 64.84 L627.21 64.6 L626.67 64.36 L626.1 64.11 L625.51 63.86 L624.93 63.62 L624.37 63.4 L623.82 63.19 L623.25 63 L622.69 62.8 L622.13 62.61 L621.57 62.41 L621 62.21 L620.42 62.01 L619.77 61.78 L619.12 61.61 L618.54 61.46 L617.96 61.31 L617.38 61.16 L616.81 61.01 L616.23 60.86 L615.66 60.7 L615.09 60.53 L614.52 60.36 L613.95 60.18 L613.38 60.01 L612.8 59.83 L612.21 59.66 L611.63 59.5 L611.06 59.34 L610.49 59.17 L609.92 59 L609.35 58.83 L608.78 58.66 L608.21 58.49 L607.64 58.32 L607.08 58.15 L606.51 57.98Z" fill="#7a70b8" stroke="none" stroke-width="1"/><path transform="scale(.5)" d="M1189 118h0m1-1h0m0 3h0m2-5h0m0 2h0m0 1h0m1-9h0m0 3h0m0 1h0m0 1h0m0 3h0m1-7h0m0 7h0m1-8h0m0 2h0m0 0h0m0 10h0m0 1h0m1-11h0m0 0h0m0 1h0m0 7h0m1-7h0m0 1h0m2-3h0m0 1h0m1 2h0m0 0h0m0 0h0m0 2h0m1-2h0m2-2h0m0 7h0m1-6h0m0 9h0m0 2h0m1-8h0m1-2h0m1 0h0m0 0h0m1 10h0m1-5h0m0 0h0m1-6h0m0 10h0m1-6h0m1-3h0m0 2h0m0 2h0m0 1h0m0 2h0m0 1h0m1-9h0m0 2h0m0 1h0m0 7h0m1-9h0m0 2h0m1-2h0m0 7h0m0 1h0m0 1h0m0 2h0m1-10h0m0 6h0" stroke="#9890cc" stroke-width="2.6" stroke-linecap="square"/><path transform="scale(.5)" d="M1163 115h0m0 1h0m1 1h0m1-3h0m1-10h0m0 13h0m1-6h0m0 3h0m0 3h0m1-9h0m1-1h0m0 4h0m0 3h0m2-6h0m0 3h0m1-6h0m0 7h0m1-1h0m0 1h0m0 0h0m0 4h0m0 2h0m1-7h0m1-5h0m0 0h0m1 10h0m1-2h0m1-5h0m1 0h0m0 6h0m0 1h0m1-6h0m0 1h0m0 3h0m0 1h0m0 5h0m1-4h0m1-8h0m0 9h0m1-7h0m0 1h0m0 0h0m0 6h0m1-8h0m0 1h0m1-2h0m0 2h0m0 5h0m1-3h0m2-4h0m0 7h0m0 6h0m1-5h0m1-6h0" stroke="#aea6d6" stroke-width="2.6" stroke-linecap="square"/><path transform="scale(.5)" d="M1087 92h0m1-1h0m0 2h0m0 5h0m0 1h0m1-7h0m0 1h0m0 2h0m0 2h0m1-6h0m0 1h0m1-2h0m0 10h0m0 0h0m1-4h0m0 1h0m0 2h0m2-4h0m0 1h0m1 5h0m1-10h0m0 5h0m1 0h0m0 0h0m1 6h0m0 2h0m1-11h0m0 4h0m1-5h0m0 0h0m0 3h0m1 9h0m1-8h0m1-2h0m1-3h0m1 0h0m0 7h0m0 0h0m0 2h0m1-8h0m0 9h0m2-11h0m1 0h0m0 5h0m0 4h0m1-8h0m0 12h0m0 1h0m2-5h0" stroke="#e2def0" stroke-width="2.6" stroke-linecap="square"/><path transform="scale(.5)" d="M1110 105h0m3-4h0m1 4h0m0 0h0m1-13h0m0 8h0m0 1h0m0 4h0m0 1h0m2-2h0m0 2h0m1-9h0m1 0h0m0 4h0m1 4h0m1-12h0m1 7h0m0 5h0m1-10h0m0 0h0m0 0h0m0 6h0m0 6h0m1-13h0m0 1h0m0 4h0m0 7h0m1-12h0m1 6h0m0 0h0m0 1h0m1 0h0m0 2h0m0 1h0m0 2h0m0 3h0m1-4h0m0 5h0m1-13h0m0 10h0m2 1h0m1-9h0m0 10h0m1-13h0m0 7h0m0 1h0m0 6h0m1-9h0m0 10h0m2-10h0m1-5h0m0 4h0m1 2h0" stroke="#d6d0ea" stroke-width="2.6" stroke-linecap="square"/><path transform="scale(.5)" d="M1138 108h0m3-3h0m2-2h0m1-1h0m0 7h0m1-7h0m0 5h0m0 1h0m1-8h0m1 4h0m1 0h0m0 0h0m1 4h0m0 3h0m0 3h0m1-14h0m0 1h0m0 2h0m0 5h0m1-2h0m0 6h0m1-5h0m0 3h0m0 2h0m0 1h0m1-6h0m1-6h0m0 4h0m1-2h0m0 10h0m2-7h0m0 1h0m0 7h0m1-11h0m0 6h0m1 0h0m4-6h0m1 0h0m0 6h0" stroke="#c4bde0" stroke-width="2.6" stroke-linecap="square"/><path transform="scale(.5)" d="M1238 76h0m1-4h0m0 4h0m0 6h0m0 2h0m1-7h0m0 4h0m0 1h0m1-9h0m0 0h0m0 9h0m0 5h0m1-7h0m1-9h0m0 11h0m2-9h0m0 7h0m0 2h0m0 5h0m1-14h0m0 9h0m1-3h0m1-5h0m0 8h0m0 6h0m1-10h0m0 5h0m1 1h0m1 0h0m1-2h0m0 2h0m2-3h0m0 2h0m0 8h0m2-10h0m0 8h0m1-2h0m2-9h0m1 2h0" stroke="#5e46a2" stroke-width="2.6" stroke-linecap="square"/><path transform="scale(.5)" d="M1232 98h0m1-6h0m0 5h0m0 2h0m2-8h0m0 1h0m1-6h0m0 9h0m0 3h0m1-9h0m0 4h0m0 3h0m1-9h0m0 2h0m0 1h0m0 2h0m0 10h0m1-6h0m1-11h0m0 3h0m0 12h0m2-6h0m0 1h0m0 0h0m0 1h0m0 6h0m0 3h0m0 1h0m1-13h0m0 2h0m0 0h0m0 7h0m1-11h0m2-2h0m0 3h0m0 1h0m1 0h0m0 7h0m1-3h0m1-4h0m0 1h0m2-1h0m1 0h0m0 3h0" stroke="#6a58ac" stroke-width="2.6" stroke-linecap="square"/><path transform="scale(.5)" d="M1224 109h0m1-2h0m0 2h0m0 4h0m1-7h0m1-4h0m0 11h0m1-10h0m0 1h0m0 1h0m0 9h0m1-15h0m0 3h0m0 6h0m0 3h0m1-11h0m0 0h0m0 8h0m0 3h0m1-7h0m0 0h0m0 4h0m0 2h0m0 1h0m0 2h0m1-9h0m0 7h0m0 1h0m1-14h0m0 1h0m2 2h0m3 3h0m1 0h0m1 1h0m0 0h0" stroke="#7a6cb8" stroke-width="2.6" stroke-linecap="square"/><path transform="scale(.5)" d="M1211 113h0m1 1h0m0 0h0m0 3h0m1 3h0m1-7h0m0 1h0m0 1h0m0 5h0m0 1h0m1-8h0m0 5h0m1-7h0m0 1h0m0 2h0m0 3h0m1 1h0m0 1h0m1-8h0m0 1h0m0 2h0m0 0h0m0 3h0m0 2h0m0 0h0m1-3h0m0 1h0m0 2h0m1-7h0m0 4h0m1-7h0m0 1h0m0 2h0m0 6h0m1-10h0m0 1h0m0 2h0m0 5h0m2 0h0m1 2h0m1-4h0m0 0h0m1 3h0" stroke="#8a80c0" stroke-width="2.6" stroke-linecap="square"/><path transform="scale(.5)" d="M1240 62h0m0 0h0m1-5h0m1 9h0m0 4h0m1-14h0m0 5h0m1 7h0m0 5h0m2-3h0m1-12h0m0 1h0m0 5h0m0 2h0m0 3h0m1-12h0m0 4h0m0 11h0m1-15h0m3 8h0m0 1h0m0 1h0m1 0h0m1-2h0m0 4h0m0 2h0m2-5h0m0 1h0m0 1h0m0 7h0m2-6h0m1 4h0m0 3h0m1-7h0m1 3h0m1-9h0m1 11h0m0 0h0m2-8h0" stroke="#583c9c" stroke-width="2.6" stroke-linecap="square"/><path transform="scale(.5)" d="M1211 123h0m1-7h0m0 5h0m0 1h0m2-5h0m0 1h0m1 5h0m0 0h0m2-2h0m0 2h0m0 1h0m2 1h0m1 1h0m1-6h0m0 4h0m1-3h0m0 5h0m2-4h0m0 5h0m0 0h0m2 1h0m0 0h0m1 0h0m1-9h0m0 2h0m0 1h0m0 1h0m0 1h0m0 0h0m0 0h0m0 0h0m1-1h0m0 0h0m0 2h0m1-4h0m0 0h0m0 0h0m0 7h0m1-8h0m0 10h0m1-3h0m0 2h0m0 0h0m0 2h0m0 0h0m1-9h0m0 4h0m1-2h0m0 7h0m1 1h0m0 1h0m1-8h0m0 5h0m1-2h0m0 0h0m1 0h0m1-6h0m0 3h0m0 3h0m0 1h0m2 9h0m1-12h0m1 0h0m0 3h0m0 8h0m1-2h0m0 2h0m1-12h0m1 0h0m1 1h0m0 3h0m1 3h0m0 9h0m1-8h0m0 1h0m0 5h0m1-5h0m0 4h0m0 1h0m1-6h0m0 2h0m1 5h0m0 2h0m1-9h0m0 4h0m0 4h0m1 1h0m1-15h0m0 10h0m1-9h0" stroke="#7a70b8" stroke-width="2.6" stroke-linecap="square"/><path d="M547.3 48.8C551.92 49.58 565.55 51.97 575 53.5C584.45 55.03 597.33 58.08 604 58C610.67 57.92 612.08 55.17 615 53C617.92 50.83 619.83 47.58 621.5 45C623.17 42.42 624.42 38.75 625 37.5" fill="none" stroke="#111" stroke-width="0.9"/><path d="M625 37.5L622.84 39.36L624.96 40.35Z" fill="#111" stroke="none" stroke-width="1"/><path d="M606 58.2C607.33 58.75 611.02 60.23 614 61.5C616.98 62.77 622.25 65.08 623.9 65.8" fill="none" stroke="#111" stroke-width="0.9"/><path d="M623.9 65.8L621.98 63.69L621.05 65.84Z" fill="#111" stroke="none" stroke-width="1"/><path d="M543.1 104.37 L544.74 104.57 L546.38 104.78 L548.03 104.98 L549.67 105.18 L551.31 105.38 L552.96 105.58 L554.47 105.76 L555.96 106.07 L557.59 106.4 L559.21 106.73 L560.83 107.06 L562.45 107.39 L564.07 107.72 L565.7 108.05 L567.32 108.38 L568.96 108.71 L570.61 109.03 L572.25 109.33 L573.87 109.63 L575.5 109.93 L577.13 110.23 L578.76 110.53 L580.39 110.82 L582.02 111.11 L583.65 111.4 L585.29 111.69 L586.93 111.97 L588.56 112.24 L590.19 112.52 L591.82 112.8 L593.45 113.08 L595.08 113.36 L596.76 113.66 L598.48 113.9 L600.18 114.06 L601.82 114.22 L603.47 114.37 L605.12 114.53 L606.77 114.69 L607.23 110.51 L605.59 110.3 L603.95 110.1 L602.31 109.89 L600.66 109.68 L599.07 109.48 L597.53 109.21 L595.95 108.88 L594.33 108.54 L592.71 108.19 L591.09 107.85 L589.47 107.5 L587.85 107.15 L586.24 106.81 L584.63 106.45 L583.02 106.09 L581.4 105.73 L579.79 105.38 L578.17 105.03 L576.55 104.68 L574.93 104.33 L573.31 103.98 L571.7 103.64 L570.11 103.28 L568.52 102.91 L566.91 102.52 L565.3 102.14 L563.69 101.76 L562.08 101.38 L560.47 101 L558.86 100.62 L557.24 100.24 L555.5 99.84 L553.74 99.59 L552.1 99.36 L550.46 99.14 L548.82 98.91 L547.18 98.68 L545.54 98.45 L543.9 98.23Z" fill="#5cbf9b" stroke="none" stroke-width="1"/><path transform="scale(.5)" d="M1085 208h0m0 1h0m1-9h0m0 10h0m0 1h0m2-9h0m1-5h0m0 6h0m0 3h0m0 0h0m1-10h0m0 2h0m1 2h0m0 6h0m0 2h0m0 2h0m0 1h0m1-13h0m0 1h0m0 0h0m0 12h0m1-15h0m0 9h0m1-4h0m0 2h0m1 0h0m0 0h0m0 3h0m0 3h0m0 3h0m2-16h0m0 4h0m0 1h0m0 9h0m0 3h0m1-15h0m0 2h0m1-4h0m0 2h0m0 3h0m0 2h0m1 3h0m1 0h0m0 1h0m1-6h0m2-2h0m1-3h0m0 1h0m0 2h0m0 6h0m0 0h0m0 8h0m1-14h0m0 4h0m0 2h0m1-8h0m0 15h0m0 1h0m2-14h0m0 8h0m1 5h0m1-3h0m0 4h0m1-15h0m0 9h0m0 0h0m0 0h0m2 6h0m1-3h0m0 2h0m1-11h0m0 4h0m0 6h0m1-9h0m0 2h0m0 7h0m2-11h0m0 3h0m0 3h0m0 4h0m1-4h0m0 9h0m1-4h0m1-11h0m0 3h0m0 1h0m0 3h0m0 3h0m1 5h0m0 2h0m1-7h0m0 1h0m0 2h0m0 4h0m1-15h0m0 12h0m1-6h0m0 7h0m1-14h0m0 3h0m1-3h0m0 4h0m0 1h0m0 9h0m1-10h0m0 0h0m0 2h0m0 1h0m0 5h0m0 3h0m4-3h0m0 0h0m0 4h0m2-12h0m0 2h0m0 4h0m0 1h0m0 1h0m0 6h0m1-7h0m1-7h0m0 4h0m0 6h0m0 3h0m1-14h0m0 8h0m0 4h0m1-3h0m0 1h0m1-10h0m0 5h0m0 1h0m2-5h0m0 2h0m2 4h0m0 4h0m1-7h0m0 7h0m1-6h0m0 3h0m0 7h0m0 1h0m1-11h0m0 1h0m0 5h0m0 5h0m1-13h0m0 1h0m0 4h0m1-5h0m1 6h0m0 3h0m0 1h0m1 2h0m1-12h0m0 11h0m1-1h0m0 2h0m0 3h0m1-5h0m0 6h0m1-14h0m0 3h0m1-4h0m0 9h0m0 4h0m1-6h0m0 6h0m1-5h0m0 3h0m1-4h0m0 4h0m0 2h0m1-8h0m0 3h0m0 6h0m1-10h0m0 2h0m0 0h0m1-4h0m0 4h0m1-4h0m0 11h0m1-9h0m0 7h0m1-9h0m0 4h0m0 3h0m1 3h0m1-8h0" stroke="#5cbf9b" stroke-width="2.6" stroke-linecap="square"/><path transform="scale(.5)" d="M1167 212h0m1 9h0m1-7h0m0 6h0m2-8h0m0 1h0m0 3h0m1-5h0m1 8h0m0 3h0m1 0h0m0 4h0m2-5h0m0 4h0m2-4h0m0 1h0m0 2h0m1 0h0m0 0h0m0 1h0m1 1h0m1-11h0m1 2h0m0 7h0m0 0h0m0 1h0m2-7h0m0 8h0m1-8h0m0 0h0m0 4h0m0 3h0m0 2h0m1-8h0m2 3h0m1-1h0m0 2h0m0 2h0m0 3h0m2-3h0m0 0h0m0 1h0m0 1h0m1-2h0m1-4h0m0 0h0m0 0h0m1-1h0m0 4h0m0 4h0m1-4h0m0 3h0m0 1h0m0 1h0m0 0h0m2 0h0m1 0h0m1-4h0m1 4h0m0 1h0m1-9h0m0 2h0m0 3h0m0 4h0m1-4h0m0 2h0m2-8h0m0 6h0m0 0h0m1-6h0m0 4h0m0 1h0m0 1h0m0 2h0m1-6h0m0 3h0m0 5h0m1-10h0m0 5h0m0 3h0m1-2h0m0 1h0m0 1h0m0 0h0m0 2h0m2-2h0m1-3h0m0 6h0m1-5h0m0 3h0m2-1h0" stroke="#f08a6a" stroke-width="2.6" stroke-linecap="square"/><path transform="scale(.5)" d="M1168 217h0m3-5h0m0 3h0m2-1h0m1-2h0m0 4h0m3-3h0m5 2h0m1-1h0m1 3h0m1-2h0m2 6h0m1-2h0m0 3h0m1-3h0m2-2h0m0 1h0m1-1h0m1 1h0m0 1h0m1 0h0m1-2h0m1 4h0m1-1h0m1-3h0m3 1h0m0 5h0m1 0h0m3 1h0m1-1h0m1 0h0m0 1h0m1-5h0m0 3h0m2-1h0m2 2h0m1-2h0m1 2h0m0 1h0" stroke="#8a9fd0" stroke-width="2.6" stroke-linecap="square"/><path d="M606.47 113.52 L607.43 113.3 L608.38 113.07 L609.34 112.85 L610.29 112.62 L611.25 112.4 L612.38 112.11 L613.59 111.56 L614.56 110.93 L615.39 110.4 L616.22 109.87 L617.05 109.34 L617.88 108.81 L618.95 108.06 L619.86 107.08 L620.53 106.35 L621.2 105.63 L621.87 104.92 L622.54 104.2 L623.21 103.48 L623.96 102.65 L624.82 101.49 L625.42 100.32 L625.89 99.45 L626.36 98.59 L626.82 97.72 L627.29 96.86 L627.76 96 L628.23 95.13 L628.8 93.96 L629.2 92.73 L629.52 91.8 L629.83 90.87 L630.15 89.94 L630.47 89.01 L630.77 88.08 L631.05 87.14 L631.34 86.2 L631.62 85.26 L631.91 84.33 L621.69 81.87 L621.52 82.84 L621.35 83.8 L621.18 84.75 L621 85.71 L620.84 86.68 L620.7 87.65 L620.55 88.62 L620.41 89.59 L620.27 90.56 L620.21 91.22 L620.06 91.87 L619.8 92.81 L619.54 93.76 L619.28 94.71 L619.02 95.66 L618.77 96.6 L618.51 97.55 L618.39 98.19 L618.2 98.66 L617.78 99.4 L617.28 100.25 L616.77 101.09 L616.27 101.93 L615.77 102.78 L615.27 103.61 L614.99 104.19 L614.55 104.65 L613.85 105.34 L613.15 106.03 L612.45 106.73 L611.76 107.42 L611.2 108 L610.74 108.38 L610.02 108.71 L609.12 109.11 L608.22 109.5 L607.32 109.89 L606.42 110.28 L605.53 110.68Z" fill="#8a9fd0" stroke="none" stroke-width="1"/><path transform="scale(.5)" d="M1210 225h0m1-4h0m0 1h0m1 0h0m0 3h0m1-2h0m0 0h0m0 1h0m1-6h0m0 6h0m0 0h0m0 1h0m1-5h0m0 2h0m0 6h0m1-10h0m0 0h0m0 6h0m0 3h0m2-9h0m0 1h0m0 2h0m1-1h0m0 5h0m1-10h0m1-1h0m1 4h0m1-5h0m0 3h0m0 3h0m1-2h0m0 1h0m0 0h0m0 4h0m1-6h0m1 1h0m0 5h0m1-15h0m0 2h0m0 2h0m0 5h0m0 1h0m0 4h0m0 0h0m1-7h0m0 1h0m2-2h0m1-8h0m0 1h0m0 3h0m0 8h0m1-15h0m1-4h0m0 1h0m0 4h0m0 5h0m0 2h0m0 3h0m1-18h0m0 1h0m0 1h0m0 4h0m0 12h0m1-12h0m0 1h0m1 7h0m0 6h0m1-38h0m0 11h0m0 12h0m0 1h0m0 1h0m0 5h0m0 5h0m1-38h0m0 1h0m0 34h0m1-36h0m0 7h0m0 16h0m0 1h0m0 4h0m0 2h0m0 3h0m1-34h0m0 28h0m0 2h0m0 5h0m0 0h0m1-25h0m0 5h0m0 5h0m0 1h0m0 5h0m0 3h0m0 4h0m0 2h0m0 9h0m1-26h0m0 5h0m0 5h0m1-13h0m0 1h0m0 13h0m0 3h0m0 1h0m0 1h0m0 8h0m1-36h0m0 4h0m0 17h0m0 2h0m0 2h0m0 3h0m0 6h0m1-32h0m0 15h0m0 5h0m1-37h0m0 16h0m0 2h0m0 2h0m0 2h0m0 7h0m0 0h0m0 15h0m1-29h0m0 5h0m0 9h0m0 3h0m1-24h0m0 17h0m0 0h0m0 6h0m0 12h0m1-32h0m0 2h0m0 3h0m0 8h0m0 10h0m1-21h0m0 1h0m0 9h0m0 9h0m0 3h0m1-31h0m0 15h0m0 9h0m1-18h0m0 24h0m1-10h0m1-18h0m0 16h0m0 5h0m1-21h0m0 12h0m1-7h0m0 2h0m0 7h0m1-11h0m1-4h0m10 4h0" stroke="#8a9fd0" stroke-width="2.6" stroke-linecap="square"/><path transform="scale(.5)" d="M1236 189h0m1-8h0m0 1h0m1-5h0m0 5h0m0 1h0m1-9h0m0 6h0m0 7h0m0 2h0m1-2h0m1-23h0m0 19h0m1-18h0m0 19h0m1-16h0m0 1h0m1-4h0m0 1h0" stroke="#5cbf9b" stroke-width="2.6" stroke-linecap="square"/><path transform="scale(.5)" d="M1213 224h0m1-2h0m0 4h0m0 1h0m1-1h0m0 0h0m0 1h0m2-1h0m0 1h0m0 0h0m1-1h0m0 1h0m1-2h0m0 1h0m1 0h0m1-6h0m0 3h0m1-6h0m0 3h0m2 3h0m4-1h0m2-15h0m0 12h0m0 2h0m3-11h0m0 9h0m1 2h0m0 1h0m2-2h0m1-4h0m0 3h0m1-6h0m2-5h0m0 5h0m0 2h0m1-8h0m0 4h0m1-3h0m0 7h0m1-48h0m2 38h0m1-30h0m0 37h0m1-4h0m0 3h0m2-7h0m1-35h0m0 28h0m0 2h0m1-1h0m0 2h0m0 2h0m0 1h0m1-2h0m2-13h0m0 8h0m0 4h0m1-4h0m0 1h0m2-14h0m0 7h0m1-10h0m0 10h0m2-4h0m0 2h0m0 5h0m0 0h0m2-12h0m0 1h0m1-15h0m0 7h0m0 1h0m0 4h0m0 2h0m0 3h0m1-5h0m2-6h0m0 2h0m1-6h0" stroke="#f08a6a" stroke-width="2.6" stroke-linecap="square"/><path d="M605.49 114.62 L606.05 114.82 L606.61 115.03 L607.17 115.23 L607.72 115.44 L608.28 115.65 L608.84 115.85 L609.4 116.06 L609.95 116.26 L610.51 116.48 L611.05 116.69 L611.59 116.9 L612.13 117.13 L612.67 117.35 L613.22 117.58 L613.77 117.81 L614.32 118.03 L614.87 118.27 L615.41 118.52 L615.95 118.77 L616.49 119.02 L617.03 119.27 L617.57 119.53 L618.04 119.75 L618.47 120 L618.97 120.28 L619.49 120.58 L620.01 120.87 L620.52 121.17 L621.04 121.46 L621.56 121.76 L622.08 122.04 L622.61 122.31 L623.11 122.57 L623.59 122.83 L624.09 123.12 L624.6 123.41 L625.12 123.7 L625.64 123.99 L626.16 124.28 L628.84 118.92 L628.3 118.68 L627.75 118.44 L627.21 118.2 L626.67 117.96 L626.1 117.71 L625.51 117.46 L624.93 117.22 L624.37 117 L623.82 116.79 L623.25 116.6 L622.69 116.4 L622.13 116.21 L621.57 116.01 L621 115.81 L620.42 115.61 L619.77 115.38 L619.12 115.21 L618.54 115.06 L617.96 114.91 L617.38 114.76 L616.81 114.61 L616.23 114.46 L615.66 114.3 L615.09 114.13 L614.52 113.96 L613.95 113.78 L613.38 113.61 L612.8 113.43 L612.21 113.26 L611.63 113.1 L611.06 112.94 L610.49 112.77 L609.92 112.6 L609.35 112.43 L608.78 112.26 L608.21 112.09 L607.64 111.92 L607.08 111.75 L606.51 111.58Z" fill="#f08a6a" stroke="none" stroke-width="1"/><path transform="scale(.5)" d="M1212 227h0m0 3h0m1-5h0m0 2h0m0 0h0m0 0h0m0 2h0m2 3h0m1-9h0m0 1h0m0 1h0m1 8h0m0 0h0m1-9h0m0 6h0m0 1h0m0 2h0m1-9h0m0 2h0m0 1h0m1-2h0m0 6h0m0 0h0m2-5h0m0 1h0m0 0h0m0 0h0m0 2h0m0 4h0m1-2h0m0 0h0m0 4h0m1-3h0m0 1h0m1-1h0m0 4h0m0 0h0m1-8h0m0 3h0m1 1h0m1-6h0m0 2h0m0 8h0m1-8h0m0 2h0m1-3h0m0 1h0m0 6h0m1 5h0m1-1h0m1-6h0m0 2h0m1 1h0m0 4h0m1-6h0m0 4h0m0 5h0m1-13h0m0 8h0m1-2h0m0 3h0m1-8h0m0 3h0m0 9h0m1-10h0m1-1h0m0 1h0m0 4h0m0 7h0m1-12h0m0 4h0m0 8h0m1-7h0m0 1h0m0 7h0m2-4h0m0 2h0m0 5h0m1-15h0m0 2h0m0 7h0m0 1h0m1-11h0m0 6h0m0 5h0m0 3h0m1 1h0m1-10h0m0 4h0m0 4h0m0 3h0m0 1h0m1-10h0m0 5h0m0 2h0m1-8h0m0 1h0m0 3h0m0 8h0m1-11h0m0 12h0m2-17h0m0 4h0m1 4h0m1-7h0m1 4h0m2-3h0m0 3h0m0 3h0m1-3h0" stroke="#f08a6a" stroke-width="2.6" stroke-linecap="square"/><path d="M547.3 102.4C551.92 103.18 565.55 105.57 575 107.1C584.45 108.63 597.33 111.68 604 111.6C610.67 111.52 612.08 108.77 615 106.6C617.92 104.43 619.83 101.18 621.5 98.6C623.17 96.02 624.42 92.35 625 91.1" fill="none" stroke="#111" stroke-width="0.9"/><path d="M625 91.1L622.84 92.96L624.96 93.95Z" fill="#111" stroke="none" stroke-width="1"/><path d="M606 111.8C607.33 112.35 611.02 113.83 614 115.1C616.98 116.37 622.25 118.68 623.9 119.4" fill="none" stroke="#111" stroke-width="0.9"/><path d="M623.9 119.4L621.98 117.29L621.05 119.44Z" fill="#111" stroke="none" stroke-width="1"/><rect x="647.2" y="36.1" width="15.1" height="104" fill="url(#gC)"/><line x1="647.2" y1="57.8" x2="649.4" y2="57.8" stroke="#fff" stroke-width="0.6" stroke-opacity="0.7"/><line x1="660.1" y1="57.8" x2="662.3" y2="57.8" stroke="#fff" stroke-width="0.6" stroke-opacity="0.7"/><line x1="647.2" y1="84.8" x2="649.4" y2="84.8" stroke="#fff" stroke-width="0.6" stroke-opacity="0.7"/><line x1="660.1" y1="84.8" x2="662.3" y2="84.8" stroke="#fff" stroke-width="0.6" stroke-opacity="0.7"/><line x1="647.2" y1="112" x2="649.4" y2="112" stroke="#fff" stroke-width="0.6" stroke-opacity="0.7"/><line x1="660.1" y1="112" x2="662.3" y2="112" stroke="#fff" stroke-width="0.6" stroke-opacity="0.7"/><text x="664.6" y="61" font-size="8.6" fill="#333">7.5</text><text x="664.6" y="88" font-size="8.6" fill="#333">5.0</text><text x="664.6" y="115.2" font-size="8.6" fill="#333">2.5</text><text x="664.6" y="142.7" font-size="8.6" fill="#333">0</text><rect x="539.3" y="172.9" width="95.3" height="39.9" fill="none" stroke="#d4d4d4" stroke-width="0.8"/><rect x="539.3" y="220.4" width="95.3" height="40" fill="none" stroke="#d4d4d4" stroke-width="0.8"/><text x="542.4" y="183.4" font-size="9.8" fill="#333">dVAT</text><text x="542.4" y="231" font-size="9.8" fill="#333">tVAT</text><path d="M542.15 193.95 L543.82 194.23 L545.49 194.52 L547.16 194.8 L548.83 195.08 L550.5 195.37 L552.17 195.65 L553.85 195.94 L555.53 196.21 L557.21 196.47 L558.88 196.73 L560.56 196.99 L562.23 197.25 L563.9 197.52 L565.58 197.78 L567.25 198.04 L568.94 198.3 L570.63 198.54 L572.32 198.77 L573.99 199 L575.67 199.24 L577.35 199.47 L579.03 199.7 L580.71 199.93 L582.39 200.16 L584.09 200.4 L585.82 200.59 L587.52 200.76 L589.21 200.92 L590.89 201.09 L592.58 201.25 L594.27 201.41 L595.98 201.58 L597.73 201.71 L599.45 201.78 L601.15 201.84 L602.84 201.9 L604.53 201.97 L606.23 202.03 L607.92 202.1 L608.08 199.1 L606.39 198.98 L604.7 198.86 L603.01 198.74 L601.32 198.62 L599.63 198.5 L597.97 198.38 L596.34 198.21 L594.7 197.96 L593.02 197.7 L591.35 197.44 L589.67 197.19 L588 196.93 L586.34 196.68 L584.71 196.4 L583.07 196.08 L581.41 195.75 L579.74 195.43 L578.08 195.1 L576.42 194.78 L574.75 194.45 L573.09 194.13 L571.43 193.81 L569.79 193.48 L568.14 193.13 L566.48 192.79 L564.82 192.45 L563.16 192.11 L561.49 191.78 L559.83 191.44 L558.17 191.1 L556.52 190.76 L554.87 190.42 L553.21 190.08 L551.55 189.75 L549.89 189.41 L548.23 189.07 L546.57 188.73 L544.91 188.39 L543.25 188.05Z" fill="#5cbf9b" stroke="none" stroke-width="1"/><path transform="scale(.5)" d="M1156 400h0m7-1h0m2-2h0m1 1h0m0 1h0m4 2h0m3 1h0m1 0h0m6 0h0m2-1h0m1 0h0m2-1h0m0 2h0m1-1h0m1 2h0m2-2h0m1 2h0m1-2h0m0 0h0m0 2h0m2-2h0m2 1h0m1 1h0m2 1h0m7 0h0m1-1h0m0 1h0m8-1h0m1 0h0m1 2h0" stroke="#f08a6a" stroke-width="2.6" stroke-linecap="square"/><path transform="scale(.5)" d="M1083 385h0m2-9h0m0 14h0m1-8h0m0 1h0m1-1h0m0 1h0m0 0h0m0 6h0m1-15h0m0 4h0m0 7h0m1 6h0m0 0h0m1-16h0m0 0h0m0 9h0m0 2h0m0 0h0m0 3h0m0 2h0m1-6h0m0 0h0m1 2h0m0 1h0m1-6h0m0 2h0m0 4h0m1-8h0m0 0h0m0 3h0m0 1h0m0 6h0m2-5h0m0 7h0m1-7h0m1-5h0m0 0h0m0 5h0m1-8h0m0 1h0m0 9h0m0 3h0m1-12h0m0 2h0m0 5h0m0 2h0m0 6h0m1-13h0m0 1h0m0 12h0m1-9h0m0 2h0m0 3h0m1-9h0m0 3h0m0 1h0m0 3h0m0 4h0m0 3h0m1-8h0m2 1h0m0 4h0m0 0h0m0 1h0m1-11h0m1-2h0m0 2h0m0 8h0m1-8h0m0 11h0m1-10h0m0 1h0m0 7h0m0 0h0m0 0h0m0 2h0m1-10h0m0 1h0m0 1h0m0 0h0m0 1h0m0 0h0m1-5h0m0 6h0m0 1h0m1 3h0m0 4h0m1-10h0m0 3h0m0 3h0m1-9h0m0 6h0m0 3h0m0 2h0m1-1h0m1-5h0m0 0h0m0 2h0m0 4h0m1-9h0m0 10h0m1-3h0m0 2h0m1-5h0m0 4h0m0 4h0m1-8h0m0 0h0m0 4h0m1-10h0m0 9h0m0 4h0m1-11h0m0 4h0m1 1h0m0 4h0m0 2h0m0 3h0m1-6h0m1-9h0m0 7h0m0 0h0m2-4h0m0 7h0m0 3h0m1-5h0m1 4h0m0 0h0m1-7h0m2 7h0m1 0h0m1 1h0m0 3h0m1-14h0m0 9h0m0 2h0m0 1h0m1-4h0m0 1h0m1-8h0m0 6h0m0 1h0m0 5h0m1-4h0m0 6h0m1-14h0m0 6h0m0 7h0m0 1h0m1-11h0m0 5h0m0 6h0m2-5h0m0 5h0m4-12h0m0 5h0m0 3h0m0 1h0m2 2h0m1-10h0m0 7h0m0 2h0m2-6h0m0 1h0m1 0h0m0 6h0m1-6h0m0 2h0m0 2h0m0 1h0m0 2h0m1-7h0m1-3h0m0 1h0m0 2h0m0 3h0m0 4h0m1-9h0m1 0h0m0 3h0m1-4h0m4 3h0m0 0h0m0 3h0m1-3h0m0 4h0m5 6h0m7-8h0m1-1h0m0 0h0m3 0h0m6 5h0m1-1h0m0 4h0m1-7h0m2 3h0m1 3h0m2 2h0m3-1h0m0 2h0m1-6h0m4 1h0m0 6h0m1-8h0m2 8h0m2-8h0m2 1h0m1 4h0m0 4h0m2-6h0m1 6h0" stroke="#5cbf9b" stroke-width="2.6" stroke-linecap="square"/><path transform="scale(.5)" d="M1157 396h0m1-6h0m2 7h0m0 2h0m1-8h0m0 2h0m1-1h0m0 1h0m0 2h0m2 4h0m2-2h0m4 1h0m1-3h0m5 1h0m0 1h0m0 0h0m0 5h0m4-4h0m2 2h0m1-1h0m1-5h0m0 4h0m2 3h0m2-6h0m0 2h0m1 2h0m0 0h0m1-1h0m3 2h0m1-4h0m0 3h0m0 3h0m0 2h0m0 0h0m4-6h0m1 0h0m1 1h0m0 1h0m1-1h0m1-3h0m1 0h0m0 1h0m0 2h0m1 0h0m0 1h0m0 2h0m3-1h0m1-2h0m0 1h0m0 4h0m1-2h0m1 0h0m4-3h0m0 1h0m1-2h0m0 5h0m1-3h0m2 0h0" stroke="#8a9fd0" stroke-width="2.6" stroke-linecap="square"/><path d="M607.74 202.3 L608.53 201.98 L609.32 201.66 L610.11 201.33 L610.89 201.01 L611.68 200.69 L612.47 200.37 L613.26 200.05 L614.04 199.72 L615.03 199.27 L616.15 198.45 L616.93 197.59 L617.51 196.97 L618.09 196.35 L618.68 195.73 L619.26 195.11 L619.85 194.49 L620.43 193.87 L621.01 193.25 L621.65 192.56 L622.4 191.58 L622.96 190.58 L623.39 189.85 L623.82 189.12 L624.26 188.39 L624.69 187.66 L625.12 186.93 L625.55 186.19 L625.99 185.46 L626.42 184.73 L626.88 183.94 L627.32 183.12 L627.73 182.37 L628.14 181.62 L628.55 180.88 L628.88 180.1 L628.92 179.78 L628.75 179.94 L628.98 179.67 L629.54 179.04 L622.46 171.96 L621.83 172.52 L620.86 173.45 L619.77 174.98 L619.19 176.22 L618.89 177.02 L618.68 177.84 L618.46 178.66 L618.24 179.47 L618.05 180.22 L617.83 180.97 L617.59 181.79 L617.35 182.6 L617.1 183.42 L616.86 184.23 L616.62 185.05 L616.37 185.86 L616.13 186.67 L615.88 187.49 L615.77 188.04 L615.61 188.47 L615.27 189.15 L614.87 189.9 L614.47 190.66 L614.08 191.41 L613.68 192.16 L613.28 192.92 L612.89 193.67 L612.49 194.42 L612.29 194.94 L612.16 195.19 L611.68 195.58 L611 196.09 L610.32 196.61 L609.64 197.12 L608.97 197.64 L608.29 198.15 L607.61 198.67 L606.93 199.18 L606.26 199.7Z" fill="#8a9fd0" stroke="none" stroke-width="1"/><path transform="scale(.5)" d="M1214 401h0m5 2h0m1 0h0m1 1h0m1-5h0m3 2h0m2-5h0m1 5h0m1-13h0m1 11h0m1-17h0m2 10h0m1-41h0m0 44h0m0 1h0m1-16h0m0 17h0m0 0h0m1-20h0m0 13h0m0 1h0m1-2h0m0 2h0m1-20h0m0 14h0m1 6h0m0 3h0m2-17h0m0 9h0m0 5h0m1-49h0m1 39h0m0 8h0m1-8h0m1 5h0m4-6h0m2 0h0m3-7h0m2-6h0m1-4h0" stroke="#f08a6a" stroke-width="2.6" stroke-linecap="square"/><path transform="scale(.5)" d="M1212 398h0m0 1h0m1-1h0m0 3h0m0 3h0m1-8h0m0 2h0m0 1h0m0 1h0m0 1h0m1-5h0m0 0h0m0 1h0m0 2h0m0 1h0m0 1h0m0 2h0m1-7h0m0 5h0m0 1h0m1-1h0m0 3h0m1-6h0m0 5h0m1-6h0m0 1h0m0 0h0m0 2h0m1-7h0m0 0h0m0 9h0m0 1h0m0 1h0m1-12h0m0 0h0m0 5h0m0 3h0m0 0h0m1-10h0m0 12h0m1-13h0m0 0h0m0 3h0m0 3h0m1-8h0m0 0h0m0 4h0m0 0h0m0 6h0m1-13h0m0 3h0m0 2h0m0 4h0m0 1h0m0 4h0m0 1h0m1-18h0m0 1h0m0 4h0m0 3h0m0 7h0m0 1h0m0 1h0m1-12h0m0 0h0m0 0h0m0 4h0m0 8h0m1-16h0m0 4h0m0 9h0m1-14h0m0 8h0m0 4h0m1-8h0m0 5h0m0 2h0m0 4h0m1-31h0m0 10h0m0 11h0m0 2h0m1-11h0m0 2h0m0 6h0m0 10h0m1-35h0m0 5h0m0 5h0m0 9h0m0 0h0m0 6h0m0 4h0m0 0h0m0 7h0m1-45h0m0 13h0m0 9h0m0 6h0m0 9h0m1-12h0m0 3h0m0 8h0m0 3h0m0 7h0m1-46h0m0 27h0m0 8h0m1-31h0m0 27h0m0 7h0m0 2h0m1-37h0m0 18h0m0 3h0m0 4h0m0 12h0m1-40h0m0 9h0m0 10h0m0 9h0m0 4h0m0 2h0m1-26h0m0 6h0m0 1h0m0 6h0m0 5h0m0 11h0m1-30h0m0 16h0m0 8h0m0 4h0m1-33h0m0 22h0m0 1h0m0 7h0m1-22h0m0 5h0m0 0h0m0 8h0m1-22h0m0 8h0m0 3h0m0 1h0m0 2h0m2-11h0m0 15h0m0 2h0m0 3h0m0 0h0m0 4h0m1-10h0m0 3h0m0 11h0m1-30h0m0 3h0m0 8h0m0 10h0m0 2h0m0 2h0m1-16h0m0 2h0m0 1h0m1-9h0m0 3h0m0 5h0m0 6h0m0 0h0m0 12h0m1-34h0m0 9h0m0 2h0m0 0h0m0 12h0m0 5h0m0 2h0m1-14h0m1-6h0m0 13h0m0 6h0m0 0h0m1-24h0m1 5h0m0 4h0m0 6h0m2-9h0m0 1h0m0 2h0m0 1h0m0 3h0m0 0h0m1-9h0m0 1h0m0 5h0m1-5h0m0 6h0m1-5h0m0 1h0m0 2h0m0 1h0m0 4h0m2-7h0m0 2h0m1-2h0" stroke="#8a9fd0" stroke-width="2.6" stroke-linecap="square"/><path transform="scale(.5)" d="M1229 375h0m1-2h0m1-2h0m0 4h0m0 0h0m1-2h0m0 5h0m2-7h0m2-25h0m0 14h0m2 3h0m1-15h0m2 1h0m0 0h0m1-1h0" stroke="#5cbf9b" stroke-width="2.6" stroke-linecap="square"/><path d="M606.53 202.32 L607.02 202.5 L607.51 202.69 L608 202.87 L608.49 203.06 L608.98 203.24 L609.47 203.43 L609.96 203.61 L610.45 203.8 L610.94 203.98 L611.43 204.16 L611.92 204.35 L612.41 204.54 L612.9 204.74 L613.35 204.92 L613.79 205.12 L614.26 205.34 L614.74 205.56 L615.21 205.78 L615.69 206 L616.17 206.22 L616.64 206.44 L617.12 206.66 L617.59 206.88 L618.07 207.11 L618.54 207.34 L619.01 207.57 L619.48 207.8 L619.95 208.03 L620.42 208.26 L620.89 208.5 L621.36 208.73 L621.84 208.96 L622.31 209.19 L622.78 209.42 L623.25 209.65 L623.72 209.88 L624.19 210.11 L624.66 210.35 L625.13 210.58 L626.87 206.42 L626.37 206.25 L625.87 206.08 L625.38 205.91 L624.88 205.74 L624.39 205.56 L623.89 205.39 L623.39 205.22 L622.9 205.05 L622.4 204.88 L621.91 204.71 L621.41 204.53 L620.91 204.36 L620.42 204.19 L619.92 204.02 L619.43 203.85 L618.93 203.67 L618.44 203.49 L617.95 203.3 L617.46 203.12 L616.97 202.94 L616.47 202.76 L615.98 202.57 L615.49 202.39 L614.99 202.2 L614.46 202.01 L613.93 201.84 L613.43 201.69 L612.93 201.53 L612.43 201.36 L611.94 201.19 L611.44 201.02 L610.95 200.86 L610.45 200.69 L609.95 200.52 L609.46 200.35 L608.96 200.18 L608.46 200.02 L607.97 199.85 L607.47 199.68Z" fill="#f08a6a" stroke="none" stroke-width="1"/><path transform="scale(.5)" d="M1214 405h0m1-2h0m0 2h0m0 1h0m2-7h0m2 1h0m0 5h0m1 1h0m1 2h0m1-8h0m0 8h0m0 1h0m0 1h0m1-9h0m0 0h0m0 8h0m1-8h0m1 2h0m1 3h0m1-4h0m2 10h0m1-5h0m1-2h0m0 0h0m0 1h0m6-1h0m0 5h0m2-3h0m2 6h0m1-5h0m0 11h0m4 1h0m0 1h0m1-9h0m0 3h0m0 0h0m1-2h0m0 9h0m1-13h0m1 10h0m0 3h0m4-9h0" stroke="#8a9fd0" stroke-width="2.6" stroke-linecap="square"/><path transform="scale(.5)" d="M1213 405h0m1-2h0m1-1h0m0 1h0m0 4h0m2-8h0m0 2h0m0 2h0m1 0h0m0 5h0m1-2h0m0 2h0m2-4h0m0 2h0m1-5h0m0 3h0m1 1h0m0 1h0m1 3h0m1-5h0m1-3h0m0 6h0m1-5h0m0 2h0m0 6h0m2-1h0m0 2h0m1-5h0m0 2h0m1 0h0m0 1h0m0 3h0m3-3h0m2 1h0m0 4h0m1-7h0m1 6h0m0 2h0m1-7h0m0 6h0m0 0h0m1-7h0m0 3h0m0 1h0m0 0h0m0 2h0m0 2h0m1-3h0m0 1h0m0 0h0m0 1h0m0 2h0m0 3h0m1-7h0m0 3h0m1-6h0m0 0h0m0 8h0m2-4h0m1-1h0m3-2h0m1 1h0m1 0h0m0 5h0m0 2h0m1-3h0m0 2h0m2 0h0" stroke="#f08a6a" stroke-width="2.6" stroke-linecap="square"/><path d="M599.4 195.6C600.67 194.75 604.82 192.6 607 190.5C609.18 188.4 611.08 185.7 612.5 183C613.92 180.3 615 175.75 615.5 174.3" fill="none" stroke="#e03030" stroke-width="0.9" stroke-dasharray="2 1.6"/><path d="M615.5 174.3L613.7 176.22L615.74 176.92Z" fill="#e03030" stroke="none" stroke-width="1"/><path d="M543.82 240.77 L545.48 241.03 L547.14 241.3 L548.8 241.56 L550.46 241.82 L552.12 242.08 L553.77 242.35 L555.41 242.62 L557.06 242.9 L558.72 243.19 L560.37 243.47 L562.03 243.76 L563.68 244.04 L565.34 244.32 L566.99 244.61 L568.65 244.89 L570.32 245.17 L571.99 245.44 L573.65 245.7 L575.31 245.96 L576.97 246.23 L578.63 246.49 L580.28 246.75 L581.94 247.02 L583.62 247.27 L585.34 247.5 L587.04 247.67 L588.71 247.84 L590.38 248.01 L592.05 248.17 L593.72 248.34 L595.39 248.51 L597.09 248.68 L598.81 248.8 L600.51 248.89 L602.19 248.97 L603.86 249.05 L605.54 249.13 L607.22 249.21 L608.9 249.3 L609.1 246.1 L607.43 245.97 L605.75 245.84 L604.08 245.71 L602.4 245.58 L600.73 245.45 L599.07 245.32 L597.45 245.15 L595.81 244.94 L594.14 244.72 L592.48 244.5 L590.81 244.28 L589.14 244.07 L587.48 243.85 L585.84 243.64 L584.24 243.37 L582.6 243.08 L580.95 242.78 L579.29 242.5 L577.64 242.21 L575.98 241.92 L574.33 241.63 L572.67 241.34 L571.03 241.05 L569.39 240.75 L567.74 240.44 L566.09 240.13 L564.44 239.82 L562.79 239.51 L561.14 239.2 L559.49 238.89 L557.84 238.58 L556.18 238.27 L554.51 237.97 L552.85 237.68 L551.2 237.39 L549.54 237.1 L547.89 236.81 L546.23 236.52 L544.58 236.23Z" fill="#f08a6a" stroke="none" stroke-width="1"/><path transform="scale(.5)" d="M1120 483h0m2 3h0m2-1h0m4-1h0m3 2h0m0 1h0m3-7h0m4 4h0m6 2h0m0 2h0m8 1h0m6 3h0m6-7h0m0 6h0m0 4h0m1-9h0m2 9h0m2-1h0m1-7h0m2-1h0m0 1h0m0 5h0m1-5h0m5 4h0m1 4h0m5 2h0m7-4h0m4 3h0m2-6h0m3 2h0m2 6h0m2-8h0m4 2h0m2 2h0m8-1h0" stroke="#8a9fd0" stroke-width="2.6" stroke-linecap="square"/><path transform="scale(.5)" d="M1086 482h0m1-11h0m0 2h0m0 1h0m0 3h0m1-5h0m0 0h0m1 4h0m0 2h0m1-4h0m0 2h0m0 1h0m1-3h0m0 0h0m0 1h0m0 3h0m0 0h0m0 3h0m0 3h0m0 0h0m1-5h0m1 0h0m1-2h0m1 5h0m0 2h0m1-8h0m0 7h0m1-4h0m0 5h0m1-7h0m0 7h0m1-10h0m0 0h0m0 8h0m1-5h0m0 3h0m1-7h0m0 0h0m0 2h0m0 1h0m0 4h0m0 1h0m1-5h0m0 9h0m1 0h0m1-9h0m0 3h0m0 1h0m0 5h0m1-11h0m0 3h0m0 6h0m0 1h0m2-4h0m0 2h0m1 0h0m0 2h0m0 1h0m1-8h0m1 1h0m0 2h0m1-5h0m0 1h0m0 1h0m0 10h0m1-1h0m1-6h0m0 0h0m1-4h0m1 6h0m0 3h0m1-5h0m0 5h0m0 0h0m0 1h0m0 1h0m2-3h0m0 1h0m1 2h0m1-5h0m1-6h0m2 3h0m0 3h0m2-1h0m2 0h0m2 1h0m1 0h0m2 2h0m3-3h0m0 3h0m6-1h0m1-2h0m1 3h0m2-3h0m1 6h0m1-2h0m0 3h0m1-5h0m1 3h0m1-2h0m3-1h0m3 3h0m2-1h0m0 0h0" stroke="#5cbf9b" stroke-width="2.6" stroke-linecap="square"/><path transform="scale(.5)" d="M1119 485h0m0 4h0m1-5h0m1 3h0m0 0h0m0 1h0m1-11h0m0 9h0m2-6h0m0 6h0m0 3h0m3-10h0m1 6h0m0 1h0m0 3h0m2-5h0m0 2h0m2-6h0m0 10h0m1-10h0m1-1h0m1 4h0m1 3h0m0 0h0m0 3h0m1-2h0m0 3h0m2 0h0m1-5h0m0 3h0m0 1h0m1 1h0m1-3h0m0 0h0m0 3h0m1 1h0m1-7h0m2 1h0m0 3h0m0 3h0m1-7h0m0 9h0m1-5h0m1 5h0m2 1h0m2-8h0m1 4h0m1 4h0m1-1h0m1-6h0m0 3h0m1-6h0m0 6h0m0 3h0m0 0h0m1-6h0m0 3h0m0 1h0m0 0h0m1-4h0m0 6h0m1-9h0m0 3h0m2 6h0m1-9h0m0 8h0m0 3h0m1-9h0m1 7h0m0 0h0m1-8h0m1 4h0m1 0h0m0 1h0m0 1h0m0 0h0m0 3h0m1 1h0m1-6h0m0 1h0m1 0h0m1-2h0m1 5h0m0 0h0m0 1h0m1-5h0m0 2h0m3-1h0m0 2h0m1-3h0m0 7h0m1-4h0m1-2h0m0 4h0m1-3h0m0 0h0m1-4h0m0 9h0m2-7h0m0 1h0m1-2h0m0 7h0m0 1h0m0 2h0m1-10h0m0 7h0m0 1h0m0 1h0m1-2h0m0 1h0m0 0h0m1-7h0m0 3h0m0 3h0m1-7h0m0 5h0m0 1h0m0 1h0m1-1h0m1-4h0m0 6h0m0 3h0m1-10h0m0 3h0m2 7h0m1-9h0m2 4h0m1 2h0m1 1h0m1-5h0m0 5h0m0 1h0m0 1h0m1-8h0m1 4h0m0 0h0m0 1h0m2 3h0m1-1h0m0 1h0m1-9h0m1 5h0m0 1h0m1-4h0m0 0h0m0 0h0m1-2h0m0 6h0m2 3h0m2-8h0m0 5h0m1-4h0m1 0h0m0 4h0m1-5h0m0 2h0m0 1h0m0 3h0m1-1h0m1 3h0m1-7h0" stroke="#f08a6a" stroke-width="2.6" stroke-linecap="square"/><path d="M609.83 249.25 L610.54 248.9 L611.25 248.54 L611.96 248.19 L612.67 247.84 L613.38 247.49 L614.08 247.13 L614.79 246.78 L615.5 246.43 L616.49 245.86 L617.36 245 L617.94 244.35 L618.48 243.77 L619.02 243.19 L619.56 242.61 L620.09 242.03 L620.63 241.45 L621.17 240.87 L621.71 240.29 L622.24 239.71 L622.96 238.85 L623.53 237.84 L623.94 237.1 L624.32 236.41 L624.7 235.72 L625.08 235.03 L625.46 234.34 L625.84 233.65 L626.23 232.96 L626.61 232.26 L627.01 231.52 L627.39 230.78 L627.76 230.08 L628.07 229.36 L628.29 228.6 L628.51 227.84 L628.68 227.21 L628.75 226.85 L628.96 226.42 L629.33 225.72 L622.67 221.28 L622.17 221.89 L621.51 222.76 L620.91 223.82 L620.5 224.64 L620.13 225.34 L619.77 226.04 L619.5 226.78 L619.28 227.54 L619.08 228.25 L618.87 228.96 L618.63 229.7 L618.4 230.46 L618.16 231.21 L617.92 231.96 L617.69 232.71 L617.45 233.47 L617.21 234.22 L617 234.92 L616.91 235.33 L616.71 235.75 L616.34 236.45 L615.96 237.15 L615.59 237.85 L615.21 238.54 L614.84 239.24 L614.46 239.94 L614.09 240.63 L613.71 241.33 L613.39 241.96 L613.27 242.3 L612.95 242.6 L612.35 243.12 L611.75 243.64 L611.16 244.16 L610.56 244.68 L609.96 245.2 L609.36 245.71 L608.77 246.23 L608.17 246.75Z" fill="#8a9fd0" stroke="none" stroke-width="1"/><path transform="scale(.5)" d="M1216 493h0m0 1h0m1-3h0m1 1h0m0 0h0m0 2h0m1-4h0m0 1h0m0 7h0m1-9h0m0 2h0m0 3h0m1-5h0m0 3h0m0 1h0m1-6h0m0 7h0m0 0h0m0 1h0m1-9h0m0 0h0m1 3h0m1-6h0m0 1h0m0 7h0m0 2h0m1-12h0m0 2h0m0 0h0m0 3h0m0 2h0m0 1h0m0 0h0m0 4h0m1-10h0m0 1h0m0 6h0m1-15h0m0 2h0m0 11h0m0 3h0m0 3h0m1-8h0m0 2h0m0 2h0m1-10h0m0 3h0m0 3h0m0 2h0m0 1h0m0 1h0m0 1h0m1-14h0m0 2h0m0 4h0m0 4h0m0 2h0m1-14h0m0 4h0m0 3h0m1-21h0m0 1h0m0 2h0m0 4h0m0 16h0m0 2h0m1-25h0m0 4h0m0 3h0m0 7h0m0 1h0m0 2h0m0 4h0m0 2h0m1-28h0m0 5h0m0 0h0m0 8h0m0 2h0m0 2h0m0 2h0m0 8h0m1-30h0m0 0h0m0 9h0m0 2h0m0 3h0m0 7h0m1-21h0m0 2h0m0 0h0m0 11h0m0 0h0m0 1h0m0 5h0m0 4h0m0 2h0m0 0h0m0 2h0m1-29h0m0 10h0m0 4h0m0 5h0m0 4h0m0 3h0m0 2h0m0 2h0m0 9h0m1-46h0m0 4h0m0 16h0m0 10h0m1-22h0m0 23h0m1-23h0m0 5h0m0 4h0m0 3h0m0 3h0m0 3h0m0 14h0m1-18h0m0 6h0m1-6h0m0 1h0m0 5h0m0 1h0m1-27h0m0 8h0m0 8h0m0 3h0m0 6h0m1-21h0m0 20h0m0 6h0m1-25h0m0 14h0m0 0h0m2-21h0m1 6h0m0 6h0m1-5h0m0 2h0m1-6h0m0 4h0m0 7h0m1-13h0m0 2h0m0 28h0m1-28h0m0 6h0m1-1h0m0 3h0m3 0h0m1-2h0m0 9h0m3-10h0" stroke="#8a9fd0" stroke-width="2.6" stroke-linecap="square"/><path transform="scale(.5)" d="M1215 494h0m2-2h0m0 1h0m0 1h0m0 3h0m2 1h0m0 1h0m1-2h0m0 2h0m1-11h0m1 8h0m0 2h0m0 1h0m1-3h0m0 1h0m0 1h0m1-3h0m1-1h0m0 4h0m2-4h0m0 2h0m1-3h0m2-5h0m1 6h0m1-31h0m0 11h0m0 3h0m0 11h0m1-18h0m0 14h0m0 1h0m0 4h0m1-1h0m0 5h0m1-18h0m0 17h0m1-16h0m0 14h0m0 1h0m1-21h0m0 19h0m0 0h0m2-2h0m0 2h0m1-8h0m0 5h0m0 0h0m1-39h0m0 2h0m0 25h0m0 1h0m0 6h0m0 0h0m0 2h0m0 1h0m1-4h0m0 5h0m1-8h0m0 2h0m0 1h0m0 3h0m1-37h0m0 28h0m0 9h0m1-10h0m0 2h0m0 2h0m0 2h0m0 1h0m0 3h0m1-10h0m0 7h0m1 0h0m1-15h0m0 1h0m0 0h0m0 6h0m0 1h0m3 1h0m1-12h0m0 7h0m0 2h0m0 3h0m1-27h0m0 9h0m0 16h0m1-19h0m0 0h0m0 14h0m1-12h0m0 1h0m1 0h0m0 1h0m0 7h0m1-13h0m0 6h0m0 2h0m1-5h0m0 3h0m0 7h0m1-7h0m1-4h0m0 6h0" stroke="#f08a6a" stroke-width="2.6" stroke-linecap="square"/><path d="M608.29 249.62 L608.73 249.89 L609.17 250.16 L609.61 250.43 L610.05 250.7 L610.48 250.97 L610.92 251.24 L611.36 251.51 L611.8 251.78 L612.24 252.05 L612.67 252.31 L613.11 252.58 L613.55 252.85 L614 253.13 L614.47 253.41 L614.92 253.67 L615.36 253.93 L615.8 254.19 L616.24 254.45 L616.69 254.72 L617.13 254.98 L617.57 255.24 L618.02 255.5 L618.46 255.76 L618.9 256.02 L619.35 256.28 L619.84 256.57 L620.37 256.84 L620.85 257.08 L621.32 257.3 L621.78 257.52 L622.24 257.75 L622.7 257.97 L623.17 258.2 L623.63 258.42 L624.09 258.64 L624.55 258.87 L625.02 259.09 L625.48 259.31 L625.94 259.54 L628.06 254.46 L627.57 254.29 L627.09 254.12 L626.6 253.95 L626.12 253.78 L625.63 253.61 L625.15 253.44 L624.67 253.27 L624.18 253.1 L623.7 252.92 L623.21 252.75 L622.73 252.58 L622.27 252.42 L621.86 252.28 L621.43 252.11 L620.96 251.91 L620.48 251.71 L620.01 251.51 L619.53 251.32 L619.06 251.12 L618.59 250.92 L618.11 250.72 L617.64 250.53 L617.16 250.33 L616.69 250.13 L616.22 249.94 L615.77 249.75 L615.32 249.54 L614.85 249.33 L614.38 249.11 L613.91 248.9 L613.45 248.69 L612.98 248.47 L612.51 248.26 L612.04 248.05 L611.58 247.83 L611.11 247.62 L610.64 247.4 L610.17 247.19 L609.71 246.98Z" fill="#f08a6a" stroke="none" stroke-width="1"/><path transform="scale(.5)" d="M1217 497h0m0 1h0m0 3h0m1-1h0m0 1h0m0 1h0m1-7h0m0 7h0m0 0h0m0 1h0m1-4h0m0 3h0m0 0h0m1-3h0m0 2h0m0 2h0m1-5h0m1-3h0m0 6h0m1-6h0m0 6h0m0 5h0m3-10h0m0 3h0m0 2h0m0 1h0m0 3h0m1-9h0m0 1h0m0 2h0m0 2h0m0 6h0m1-10h0m0 1h0m0 2h0m0 1h0m0 0h0m0 4h0m0 3h0m1-11h0m0 5h0m0 3h0m1-2h0m0 3h0m0 2h0m0 0h0m0 0h0m0 1h0m2-11h0m0 4h0m1 1h0m0 8h0m0 1h0m1-11h0m0 11h0m2-11h0m1-1h0m0 3h0m0 7h0m1-5h0m1 4h0m0 7h0m1-13h0m0 5h0m0 0h0m0 4h0m0 3h0m1-14h0m0 3h0m0 2h0m0 3h0m0 1h0m0 2h0m0 2h0m1-11h0m0 9h0m1-2h0m1-2h0m0 4h0m0 1h0m0 1h0m0 2h0m1-10h0m0 1h0m0 9h0m0 4h0m1-17h0m0 4h0m0 2h0m0 3h0m0 6h0m1-13h0m1 9h0m1-10h0m0 2h0m0 3h0m0 0h0m2-4h0m0 2h0m0 7h0m0 1h0m1-8h0m0 2h0m0 2h0m0 2h0m1-7h0m0 0h0m0 0h0m0 11h0m1-9h0" stroke="#f08a6a" stroke-width="2.6" stroke-linecap="square"/><path d="M611.6 246.2C613 246.75 617.18 248.43 620 249.5C622.82 250.57 627.08 252.08 628.5 252.6" fill="none" stroke="#e03030" stroke-width="0.9" stroke-dasharray="2 1.6"/><path d="M628.5 252.6L626.62 250.76L625.88 252.79Z" fill="#e03030" stroke="none" stroke-width="1"/><text x="-0.5" y="288.6" font-size="13" fill="#111" font-weight="bold" stroke="#111" stroke-width="0.45">e</text><text x="77.8" y="299.6" font-size="9.3" fill="#333" text-anchor="middle">pAC markers</text><text x="189.8" y="299.6" font-size="9.3" fill="#333" text-anchor="middle">adCAF markers</text><line x1="31.3" y1="304.2" x2="125.2" y2="304.2" stroke="#bbb" stroke-width="1.2"/><line x1="142.3" y1="304.2" x2="236.1" y2="304.2" stroke="#bbb" stroke-width="1.2"/><text x="79.65" y="315.3" font-size="9.3" fill="#333" text-anchor="middle" textLength="26.98" lengthAdjust="spacingAndGlyphs">ADH1B</text><text x="189.75" y="315.3" font-size="9.3" fill="#333" text-anchor="middle" textLength="31.03" lengthAdjust="spacingAndGlyphs">COL1A1</text><text x="79.65" y="377.3" font-size="9.3" fill="#333" text-anchor="middle" textLength="22.93" lengthAdjust="spacingAndGlyphs">APOD</text><text x="189.75" y="377.3" font-size="9.3" fill="#333" text-anchor="middle" textLength="17.08" lengthAdjust="spacingAndGlyphs">LUM</text><text x="79.65" y="439.9" font-size="9.3" fill="#333" text-anchor="middle" textLength="30.58" lengthAdjust="spacingAndGlyphs">CXCL14</text><text x="189.75" y="439.9" font-size="9.3" fill="#333" text-anchor="middle" textLength="17.98" lengthAdjust="spacingAndGlyphs">MDK</text><path transform="scale(.5)" d="M69 676h0m3-15h0m0 1h0m2 3h0m0 19h0m2-18h0m2-8h0m0 28h0m3-30h0m0 12h0m1 12h0m2 2h0m1-17h0m1-3h0m1-14h0m0 4h0m0 36h0m1-8h0m2-17h0m0 17h0m1-29h0m1 10h0m0 22h0m2-32h0m2 25h0m1-20h0m0 31h0m2-3h0m2-16h0m0 9h0m0 11h0m3-10h0m3 11h0m1-18h0m0 4h0m1-14h0m1-2h0m0 21h0m0 8h0m1-32h0m0 14h0m1 7h0m1-32h0m0 11h0m3 7h0m1 1h0m1-21h0m0 9h0m0 29h0m1-11h0m3-10h0m0 20h0m1-13h0m0 19h0m1-1h0m3-36h0m1 33h0m1-10h0m0 14h0m1-26h0m1-13h0m0 12h0m1 25h0m1-15h0m1 10h0m1-5h0m0 15h0m1-11h0m2 6h0m2 2h0m0 3h0m2-8h0m1-29h0m0 6h0m0 17h0m0 3h0m1-6h0m1-9h0m0 18h0m0 3h0m0 4h0m1-10h0m1-15h0m0 17h0m1-10h0m0 7h0m0 7h0m1-14h0m0 11h0m1-13h0m1-7h0m0 16h0m1-2h0m0 4h0m0 5h0m2-23h0m0 4h0m0 7h0m0 2h0m0 8h0m0 4h0m1-9h0m1-10h0m1-2h0m0 8h0m0 7h0m2-7h0m0 14h0m2-26h0m0 2h0m2 2h0m0 7h0m0 12h0m1-7h0m1-21h0m0 7h0m0 4h0m0 13h0m1-10h0m0 4h0m2-16h0m0 10h0m0 9h0m1-15h0m0 13h0m0 4h0m1-20h0m0 6h0m0 4h0m0 3h0m0 10h0m1-5h0m0 6h0m0 3h0m0 2h0m1-30h0m0 19h0m0 11h0m1-32h0m0 7h0m0 12h0m0 11h0m1-16h0m0 9h0m0 6h0m1-35h0m0 25h0m0 8h0m0 5h0m1-23h0m1-23h0m0 4h0m0 8h0m0 11h0m0 4h0m0 8h0m0 4h0m0 7h0m1-27h0m0 14h0m0 4h0m1-27h0m0 13h0m0 2h0m1-23h0m0 14h0m0 3h0m2-19h0m0 16h0m0 4h0m0 8h0m0 6h0m0 8h0m1-28h0m0 9h0m1-9h0m0 7h0m0 11h0m0 3h0m1-9h0m1-24h0m0 14h0m0 14h0m0 3h0m1-14h0m1 15h0m1-32h0m0 14h0m0 3h0m0 6h0m0 8h0m0 13h0m2-28h0m0 24h0m1-14h0m0 16h0m1-20h0m0 9h0m1-21h0m2 5h0m0 4h0m0 8h0m2-20h0m0 16h0m0 5h0m1-2h0m1-14h0m0 11h0m0 15h0m1-23h0m0 10h0m0 8h0m1-23h0m0 7h0m0 9h0m0 4h0m0 13h0m1-29h0m0 5h0m0 3h0m0 6h0m1-16h0m0 3h0m0 2h0m0 1h0m0 25h0m1-38h0m0 30h0m2-22h0m0 5h0m0 10h0m0 11h0m1-38h0m0 25h0m0 5h0m1-22h0m0 5h0m0 7h0m1-18h0m0 9h0m0 24h0m1-35h0m0 24h0m1-11h0m0 6h0m0 4h0m2-12h0m0 3h0m0 1h0m0 3h0m1-14h0m0 16h0m0 7h0m1-14h0m0 3h0m0 2h0m0 12h0m1-20h0m1 2h0m0 13h0m1-16h0m0 14h0m0 4h0m0 14h0m1-28h0m1 10h0m0 6h0m0 7h0m1-32h0m0 22h0m1-16h0m0 1h0m0 2h0m0 9h0m0 10h0m1-16h0m1 11h0m2-2h0m0 4h0m0 3h0m1-38h0m0 13h0m0 1h0m0 7h0m0 13h0m0 11h0m3-30h0m1-1h0m0 3h0m0 10h0m0 13h0m1-39h0m0 21h0m1-7h0m0 6h0m0 15h0m0 4h0m1-36h0m0 5h0m0 4h0m0 11h0m0 9h0m2-34h0m0 16h0m0 1h0m0 9h0m0 6h0m0 4h0m0 14h0m2-32h0m0 12h0m0 12h0m1 5h0m1-22h0m1 9h0m0 8h0m1-7h0m1-22h0m1 8h0m0 4h0m0 7h0m0 1h0m0 4h0m1-25h0m0 6h0m0 2h0m0 7h0m0 3h0m1-16h0m0 22h0m2-18h0m0 2h0m0 3h0m0 8h0m1-24h0m0 16h0m1-10h0m0 15h0m0 6h0m0 5h0m0 2h0m1-16h0" stroke="#f98a62" stroke-width="2.8" stroke-linecap="square"/><path transform="scale(.5)" d="M69 653h0m0 8h0m0 2h0m0 5h0m0 1h0m0 5h0m0 5h0m0 5h0m0 2h0m0 3h0m1-31h0m0 7h0m1-14h0m0 16h0m0 5h0m0 7h0m0 9h0m1-31h0m0 1h0m0 8h0m0 4h0m0 5h0m0 2h0m0 5h0m0 4h0m1-30h0m0 31h0m0 2h0m1-37h0m0 2h0m0 7h0m0 1h0m0 6h0m0 1h0m0 4h0m0 1h0m0 3h0m0 3h0m0 1h0m1-27h0m0 5h0m0 29h0m1-32h0m0 4h0m0 3h0m0 7h0m0 5h0m0 2h0m0 10h0m1-8h0m0 5h0m1-40h0m0 6h0m0 1h0m0 4h0m0 5h0m0 9h0m0 6h0m0 1h0m0 2h0m0 3h0m1-35h0m0 7h0m0 12h0m0 3h0m0 15h0m0 5h0m1-41h0m0 14h0m0 11h0m0 4h0m0 11h0m0 2h0m1-38h0m0 8h0m0 3h0m0 3h0m0 5h0m0 5h0m0 4h0m0 2h0m1-19h0m0 24h0m1-27h0m0 10h0m0 5h0m0 2h0m0 13h0m1-5h0m1-30h0m0 5h0m0 29h0m1-31h0m0 10h0m0 2h0m0 2h0m0 14h0m1-32h0m0 3h0m0 6h0m0 5h0m0 3h0m0 5h0m0 6h0m1-35h0m0 13h0m0 2h0m0 16h0m0 6h0m0 2h0m1-32h0m0 12h0m0 11h0m1-27h0m0 8h0m0 1h0m0 3h0m0 6h0m0 3h0m0 2h0m0 3h0m0 11h0m1-35h0m0 19h0m1-21h0m0 4h0m0 2h0m0 8h0m0 1h0m0 3h0m0 5h0m0 5h0m0 2h0m0 9h0m1-43h0m0 13h0m0 16h0m0 7h0m1-27h0m0 8h0m0 5h0m0 8h0m0 1h0m0 3h0m0 5h0m1-28h0m0 3h0m0 6h0m0 5h0m0 2h0m0 9h0m0 5h0m1-34h0m0 6h0m0 2h0m0 2h0m0 3h0m0 3h0m0 4h0m0 7h0m0 3h0m0 7h0m1-35h0m0 16h0m0 4h0m0 10h0m1 2h0m1-34h0m0 5h0m0 2h0m0 1h0m0 5h0m0 3h0m0 2h0m0 2h0m0 3h0m0 2h0m0 11h0m1-43h0m0 4h0m0 13h0m0 19h0m1-32h0m0 5h0m0 3h0m0 2h0m0 2h0m0 4h0m0 15h0m0 4h0m0 3h0m1-35h0m0 12h0m0 5h0m0 3h0m0 2h0m0 7h0m1-25h0m0 19h0m0 1h0m0 6h0m0 2h0m0 4h0m1-38h0m0 3h0m0 6h0m0 2h0m0 2h0m0 3h0m0 2h0m0 2h0m0 2h0m0 14h0m1-35h0m0 17h0m0 2h0m0 4h0m0 3h0m0 3h0m0 3h0m1-29h0m0 3h0m0 2h0m0 1h0m0 3h0m0 9h0m0 10h0m0 4h0m2-37h0m0 2h0m0 8h0m0 4h0m0 5h0m0 9h0m0 2h0m0 2h0m0 2h0m0 3h0m1-29h0m0 8h0m0 23h0m1-34h0m0 9h0m0 2h0m0 8h0m0 2h0m0 2h0m0 4h0m1-20h0m0 6h0m0 17h0m0 1h0m1-32h0m0 18h0m0 11h0m0 6h0m1-45h0m0 8h0m0 7h0m0 5h0m0 9h0m0 8h0m0 3h0m0 3h0m1-37h0m0 3h0m0 5h0m0 3h0m1-6h0m0 12h0m0 1h0m0 5h0m0 11h0m0 3h0m0 3h0m1-31h0m0 12h0m0 4h0m0 2h0m0 6h0m1-26h0m0 2h0m0 2h0m0 6h0m0 2h0m0 3h0m0 3h0m0 6h0m0 3h0m0 5h0m1-39h0m0 5h0m0 16h0m0 7h0m0 9h0m1-35h0m0 16h0m0 7h0m0 8h0m0 5h0m1-38h0m0 5h0m0 5h0m0 6h0m0 7h0m0 5h0m0 2h0m0 9h0m1-31h0m0 13h0m1-18h0m0 2h0m0 3h0m0 2h0m0 14h0m0 1h0m0 3h0m0 6h0m0 5h0m1-23h0m0 16h0m1-32h0m0 8h0m0 9h0m0 6h0m0 5h0m0 4h0m0 2h0m0 6h0m1-38h0m0 3h0m0 6h0m0 2h0m0 13h0m0 4h0m1-27h0m0 2h0m0 10h0m0 10h0m0 5h0m0 4h0m0 3h0m0 1h0m1-39h0m0 7h0m0 3h0m0 2h0m0 10h0m0 3h0m0 3h0m0 5h0m1-19h0m0 26h0m1-37h0m0 3h0m0 1h0m0 3h0m0 2h0m0 9h0m0 5h0m0 10h0m1-38h0m0 33h0m1-36h0m0 9h0m0 1h0m0 10h0m0 3h0m0 1h0m0 4h0m0 1h0m0 2h0m0 7h0m0 5h0m1-29h0m0 22h0m1-31h0m0 14h0m0 4h0m0 2h0m0 18h0m0 2h0m1-39h0m0 2h0m0 5h0m0 3h0m0 2h0m0 11h0m0 4h0m0 7h0m1-28h0m0 6h0m0 5h0m1-17h0m0 14h0m0 7h0m0 1h0m0 11h0m0 4h0m1-34h0m0 6h0m0 9h0m0 4h0m0 6h0m0 2h0m1-36h0m0 5h0m0 1h0m0 2h0m0 7h0m0 3h0m0 2h0m0 2h0m0 3h0m0 4h0m0 3h0m0 1h0m0 5h0m0 8h0m1-33h0m0 31h0m1-35h0m0 3h0m0 3h0m0 2h0m0 5h0m0 2h0m0 8h0m0 1h0m0 2h0m1-29h0m0 32h0m1-24h0m0 6h0m0 22h0m0 3h0m1-34h0m0 7h0m0 5h0m0 2h0m0 2h0m0 7h0m1 6h0m1-27h0m0 9h0m0 3h0m1 11h0m1-19h0m0 8h0m0 13h0m0 7h0m1-32h0m0 17h0m2-7h0m0 20h0m1-16h0m0 2h0m1-16h0m0 25h0m0 6h0m2-17h0m2 14h0m0 2h0m1-25h0m0 21h0m1-22h0m0 10h0m1-14h0m0 7h0m0 14h0m0 7h0m0 5h0m4-31h0m0 23h0m2-3h0m2 6h0m1-12h0m5-2h0m2-19h0m0 9h0m0 21h0m2 3h0m1-27h0m0 5h0m0 24h0" stroke="#66c2a5" stroke-width="2.8" stroke-linecap="square"/><path transform="scale(.5)" d="M145 658h0m0 28h0m3-32h0m2 8h0m2 5h0m7 1h0m0 13h0m2 4h0m0 3h0m1-30h0m0 16h0m1 0h0m1-19h0m1 31h0m1-4h0m2-12h0m0 12h0m4 0h0m1-21h0m0 6h0m0 5h0m0 8h0m1-25h0m0 18h0m1-28h0m0 8h0m0 15h0m1-21h0m0 12h0m0 18h0m1-36h0m0 3h0m0 6h0m0 1h0m0 17h0m0 4h0m2 4h0m1-37h0m0 1h0m0 7h0m0 2h0m0 4h0m0 3h0m0 15h0m0 3h0m0 6h0m0 2h0m0 2h0m0 2h0m0 3h0m2-42h0m0 4h0m0 15h0m0 13h0m0 2h0m0 4h0m0 3h0m1-43h0m0 4h0m0 4h0m0 19h0m0 3h0m1-26h0m0 5h0m0 4h0m0 3h0m0 9h0m0 9h0m0 2h0m0 8h0m1-37h0m0 31h0m0 3h0m1-32h0m0 1h0m0 13h0m0 11h0m0 8h0m1-47h0m0 8h0m0 2h0m0 2h0m0 10h0m0 7h0m0 7h0m0 7h0m0 5h0m1-8h0m0 3h0m1-46h0m0 5h0m0 7h0m0 4h0m0 11h0m0 1h0m0 6h0m0 1h0m0 9h0m1-35h0m0 6h0m0 25h0m1-37h0m0 17h0m0 5h0m0 3h0m0 2h0m0 12h0m0 10h0m1-45h0m0 4h0m0 24h0m0 10h0m1-35h0m0 2h0m0 6h0m0 5h0m0 3h0m0 5h0m0 13h0m0 2h0m0 5h0m1-48h0m0 4h0m0 7h0m0 7h0m0 15h0m0 3h0m0 3h0m0 7h0m1-34h0m0 2h0m0 21h0m0 6h0m0 8h0m1-43h0m0 3h0m0 8h0m0 4h0m0 5h0m0 1h0m0 5h0m0 5h0m0 2h0m0 5h0m0 2h0m1-25h0m0 18h0m1-26h0m0 3h0m0 3h0m0 4h0m0 2h0m0 10h0m0 2h0m0 4h0m0 5h0m0 2h0m1-39h0m0 35h0m1-36h0m0 1h0m0 2h0m0 2h0m0 12h0m0 7h0m0 7h0m0 5h0m0 5h0m1-26h0m0 12h0m0 11h0m1-41h0m0 11h0m0 12h0m0 9h0m0 1h0m0 6h0m1-38h0m0 4h0m0 1h0m0 30h0m0 8h0m1-41h0m0 17h0m0 8h0m0 3h0m1-33h0m0 2h0m0 7h0m0 2h0m0 13h0m0 14h0m0 2h0m0 5h0m1-18h0m1-24h0m0 6h0m0 9h0m0 5h0m0 2h0m0 9h0m0 2h0m1-25h0m0 4h0m0 23h0m0 5h0m0 3h0m1-39h0m0 2h0m0 20h0m0 5h0m0 6h0m0 3h0m0 2h0m1-47h0m0 2h0m0 17h0m0 3h0m0 7h0m0 5h0m1-33h0m0 12h0m0 18h0m0 9h0m0 3h0m1-37h0m0 3h0m0 2h0m0 3h0m0 6h0m0 2h0m0 11h0m0 2h0m0 2h0m0 9h0m0 1h0m1-50h0m1 4h0m0 9h0m0 3h0m0 14h0m0 2h0m0 5h0m0 1h0m0 3h0m0 2h0m0 2h0m0 3h0m1-41h0m0 2h0m1 0h0m0 4h0m0 14h0m0 8h0m0 10h0m0 5h0m1-46h0m0 3h0m0 4h0m0 8h0m0 11h0m0 8h0m0 3h0m0 2h0m0 4h0m1-22h0m0 19h0m0 7h0m1-47h0m0 4h0m0 2h0m0 3h0m0 14h0m0 10h0m0 2h0m0 2h0m0 5h0m1-42h0m0 4h0m1-1h0m0 7h0m0 1h0m0 10h0m0 3h0m0 7h0m0 4h0m0 3h0m0 5h0m0 3h0m1-33h0m1-17h0m0 10h0m0 1h0m0 14h0m0 7h0m0 3h0m0 1h0m0 14h0m1-43h0m0 6h0m0 15h0m0 13h0m0 2h0m0 3h0m0 3h0m1-44h0m0 2h0m0 2h0m0 4h0m0 14h0m0 2h0m0 2h0m1-21h0m0 6h0m0 4h0m0 2h0m0 2h0m0 13h0m0 3h0m0 3h0m0 2h0m0 2h0m0 4h0m1-47h0m0 5h0m1 2h0m0 7h0m0 3h0m0 3h0m0 3h0m0 14h0m0 3h0m0 3h0m1-40h0m0 23h0m0 21h0m1-45h0m0 2h0m0 9h0m0 6h0m0 11h0m0 2h0m0 2h0m0 4h0m0 2h0m0 1h0m0 3h0m0 3h0m1-40h0m0 3h0m0 7h0m0 4h0m0 7h0m1-24h0m0 5h0m0 13h0m0 4h0m0 9h0m0 4h0m0 4h0m0 3h0m1-46h0m0 3h0m0 5h0m0 21h0m0 4h0m0 9h0m1-39h0m0 20h0m0 12h0m0 9h0m1-49h0m0 10h0m0 9h0m0 27h0m0 5h0m1-46h0m0 4h0m0 6h0m0 15h0m0 17h0m1-40h0m0 5h0m0 9h0m0 7h0m0 12h0m0 1h0m0 9h0m1-27h0m0 21h0m1-40h0m0 11h0m0 6h0m0 3h0m0 1h0m0 22h0m1-34h0m0 4h0m0 18h0m0 3h0m0 6h0m0 7h0m1-44h0m0 24h0m0 19h0m0 2h0m1-42h0m0 2h0m0 3h0m0 2h0m0 2h0m0 2h0m0 7h0m0 5h0m0 4h0m0 3h0m0 5h0m0 1h0m1-27h0m0 25h0m1-34h0m0 2h0m0 11h0m0 5h0m0 2h0m0 10h0m0 2h0m0 4h0m0 3h0m0 3h0m1-50h0m0 4h0m0 11h0m0 18h0m1-35h0m0 10h0m0 13h0m0 19h0m0 3h0m0 2h0m0 5h0m1-46h0m0 11h0m0 9h0m0 14h0m1-34h0m0 1h0m0 6h0m0 13h0m0 15h0m1-31h0m0 18h0m0 2h0m0 5h0m0 9h0m0 4h0m0 4h0m2-42h0m0 2h0m0 9h0m0 17h0m0 6h0m0 3h0m0 2h0" stroke="#8da0cb" stroke-width="2.8" stroke-linecap="square"/><rect x="34" y="344.8" width="36.6" height="1.2" fill="#66c2a5"/><rect x="70.6" y="344.8" width="13.73" height="1.2" fill="#f98a62"/><rect x="84.33" y="344.8" width="41.18" height="1.2" fill="#8da0cb"/><rect x="34" y="348.9" width="22.88" height="1.2" fill="#66c2a5"/><rect x="56.88" y="348.9" width="13.73" height="1.2" fill="#f98a62"/><rect x="70.6" y="348.9" width="4.57" height="1.2" fill="#66c2a5"/><rect x="75.18" y="348.9" width="10.98" height="1.2" fill="#f98a62"/><rect x="86.16" y="348.9" width="39.35" height="1.2" fill="#8da0cb"/><rect x="34" y="363.1" width="9.15" height="1.2" fill="#66c2a5"/><rect x="43.15" y="363.1" width="9.15" height="1.2" fill="#f98a62"/><rect x="52.3" y="363.1" width="9.15" height="1.2" fill="#66c2a5"/><rect x="61.45" y="363.1" width="27.45" height="1.2" fill="#f98a62"/><rect x="88.9" y="363.1" width="9.15" height="1.2" fill="#8da0cb"/><rect x="98.05" y="363.1" width="13.73" height="1.2" fill="#f98a62"/><rect x="111.78" y="363.1" width="13.73" height="1.2" fill="#8da0cb"/><path d="M34 344.8C38.58 344.63 52.3 344.27 61.45 343.8C70.6 343.33 78.23 342.8 88.9 342C99.58 341.2 119.4 339.5 125.5 339" fill="none" stroke="#1a1a1a" stroke-width="1.1"/><path d="M66.03 343C69.84 342.17 78.99 340 88.9 338C98.81 336 119.4 332.17 125.5 331" fill="none" stroke="#1a1a1a" stroke-width="1.1" stroke-dasharray="3 2"/><rect x="29.5" y="318.6" width="100.3" height="47.5" fill="none" stroke="#cfcfcf" stroke-width="0.9"/><path transform="scale(.5)" d="M289 682h0m1-32h0m0 2h0m0 9h0m0 33h0m1-40h0m3 2h0m0 23h0m0 3h0m0 4h0m1-26h0m1-1h0m0 3h0m1 1h0m0 3h0m0 2h0m6-8h0m2-4h0m1 10h0m0 2h0m2 25h0m2-31h0m0 3h0m1-12h0m1 3h0m0 9h0m2-18h0m0 39h0m1-29h0m0 1h0m0 5h0m0 30h0m1-32h0m1 0h0m1-3h0m0 22h0m1-34h0m0 2h0m0 4h0m0 10h0m0 6h0m1-18h0m1 27h0m3-26h0m0 12h0m0 11h0m0 15h0m1 4h0m1-39h0m1 2h0m0 4h0m1 18h0m1-29h0m0 8h0m1 8h0m3-9h0m0 30h0m0 3h0m1-37h0m1 0h0m1-5h0m1 39h0m1-25h0m0 19h0m0 2h0m2-37h0m0 12h0m0 2h0m0 32h0m1-25h0m0 3h0m0 3h0m1-13h0m0 21h0m1-19h0m1-12h0m0 21h0m0 2h0m1-26h0m0 6h0m0 5h0m0 2h0m0 4h0m2-18h0m0 3h0m0 9h0m0 2h0m0 1h0m0 3h0m0 2h0m0 4h0m0 3h0m0 2h0m0 12h0m1-36h0m1-12h0m0 7h0m0 2h0m0 3h0m0 7h0m0 6h0m0 19h0m1-30h0m0 7h0m0 10h0m0 3h0m1-22h0m0 8h0m0 3h0m0 8h0m0 3h0m0 16h0m1-40h0m0 6h0m0 10h0m0 1h0m0 5h0m1-18h0m0 11h0m0 5h0m0 4h0m0 7h0m1-33h0m0 1h0m0 3h0m0 5h0m0 1h0m0 3h0m0 7h0m1-5h0m1-18h0m0 4h0m0 2h0m0 3h0m0 1h0m0 6h0m0 5h0m0 4h0m1-23h0m0 11h0m0 4h0m0 6h0m0 4h0m0 3h0m0 16h0m1-42h0m0 19h0m0 4h0m0 4h0m1-29h0m0 4h0m0 3h0m0 4h0m0 3h0m0 5h0m0 4h0m1-23h0m0 10h0m1-7h0m0 1h0m0 2h0m0 5h0m0 5h0m0 3h0m0 1h0m0 5h0m0 3h0m1-24h0m0 10h0m0 0h0m0 2h0m1-18h0m0 9h0m0 1h0m0 4h0m0 6h0m0 10h0m0 1h0m1-27h0m0 19h0m0 23h0m1-31h0m0 5h0m0 6h0m0 1h0m1-27h0m0 9h0m0 1h0m0 4h0m0 4h0m0 5h0m0 6h0m0 3h0m1-30h0m0 10h0m0 2h0m0 1h0m0 5h0m0 8h0m1-24h0m0 3h0m0 12h0m0 4h0m0 3h0m0 3h0m0 4h0m1-25h0m0 19h0m1-25h0m0 4h0m0 5h0m0 5h0m0 2h0m0 3h0m0 4h0m1 4h0m1-25h0m0 5h0m0 9h0m0 4h0m1-10h0m0 4h0m0 8h0m0 4h0m0 2h0m0 2h0m1-22h0m0 3h0m0 4h0m0 3h0m0 5h0m0 4h0m1-18h0m0 5h0m0 7h0m0 4h0m0 5h0m0 5h0m1-10h0m1-19h0m0 4h0m0 1h0m0 3h0m0 7h0m0 9h0m1-26h0m1 0h0m0 7h0m0 3h0m0 7h0m0 7h0m1-21h0m0 11h0m0 6h0m0 1h0m0 5h0m1-30h0m0 5h0m0 3h0m0 6h0m0 5h0m0 23h0m1-40h0m0 5h0m0 14h0m0 7h0m1-16h0m0 6h0m0 8h0m0 2h0m1-22h0m0 7h0m0 2h0m0 6h0m1-23h0m0 4h0m0 2h0m0 19h0m1-22h0m0 3h0m0 5h0m0 7h0m0 2h0m0 7h0m0 3h0m1-16h0m0 2h0m0 6h0m1-17h0m0 15h0m0 5h0m0 4h0m1-27h0m0 10h0m0 1h0m0 3h0m0 6h0m1-13h0m0 3h0m0 8h0m1-27h0m0 8h0m0 5h0m0 9h0m0 3h0m0 4h0m0 2h0m0 4h0m0 2h0m2-32h0m0 5h0m0 11h0m0 4h0m0 2h0m0 8h0m1-21h0m0 2h0m0 3h0m0 10h0m0 3h0m0 4h0m1-21h0m0 4h0m0 1h0m0 7h0m0 3h0m0 7h0m1 3h0m1-28h0m0 6h0m0 4h0m0 3h0m1-16h0m0 4h0m0 2h0m0 5h0m0 7h0m0 3h0m0 1h0m0 3h0m0 2h0m0 5h0m1-23h0m0 9h0m1-19h0m0 4h0m0 1h0m0 2h0m0 8h0m0 2h0m0 4h0m0 2h0m2-20h0m0 12h0m0 3h0m0 1h0m0 10h0m1-24h0m0 2h0m0 5h0m0 10h0m0 2h0m0 15h0m1-28h0m0 11h0m1-16h0m0 2h0m0 5h0m0 1h0m0 3h0m0 3h0m0 3h0m0 3h0m1-4h0m1-14h0m0 2h0m0 3h0m0 1h0m0 3h0m0 2h0m0 4h0m0 3h0m0 9h0m1-27h0m0 20h0m1-12h0m0 8h0m0 4h0m1-27h0m0 2h0m0 3h0m0 5h0m0 11h0m1-19h0m0 23h0m0 4h0m1-25h0m0 6h0m0 2h0m0 2h0m0 3h0m0 2h0m0 1h0m1-15h0m0 5h0m0 5h0m0 5h0m1-20h0m0 2h0m0 4h0m0 6h0m0 5h0m0 8h0m1-18h0m1 4h0m0 2h0m0 3h0m0 2h0m0 5h0m0 14h0m0 4h0m1-20h0m0 5h0m0 7h0m0 16h0m1-46h0m0 6h0m0 4h0m0 2h0m0 4h0m0 1h0m0 3h0m0 11h0m1-30h0m0 3h0m0 18h0m1-21h0m0 3h0m0 11h0m1-17h0m0 15h0m0 7h0m0 3h0m0 1h0m0 10h0m0 5h0m2-39h0m0 1h0m0 2h0m0 5h0m0 5h0m0 8h0m0 3h0m1-6h0m0 5h0m0 22h0m1-36h0m0 2h0m0 2h0m0 11h0m0 7h0m1-29h0m0 2h0m0 12h0m0 4h0m1-22h0m0 4h0m0 6h0m0 5h0m0 3h0m0 2h0m0 4h0m0 2h0m0 3h0m0 5h0m1-27h0m0 0h0m0 5h0m0 10h0m1-7h0m1-13h0m0 1h0m0 3h0m0 18h0m0 2h0m1-22h0m0 3h0m0 5h0m1-12h0m0 1h0m0 4h0m0 4h0m0 2h0m0 4h0m0 9h0m0 2h0m1-13h0m0 9h0m0 25h0m1-29h0m0 7h0m0 3h0m1-20h0m0 2h0m0 3h0m0 2h0m0 5h0m0 2h0m0 5h0m1-28h0m0 11h0m0 5h0m0 2h0m0 3h0m0 4h0m1-23h0m0 3h0m0 1h0m0 4h0m0 4h0m0 9h0m1-24h0m0 28h0m0 18h0m1-44h0m0 3h0m0 5h0m0 3h0m0 1h0m0 3h0m0 3h0m0 2h0m0 2h0m0 3h0m0 16h0m2-33h0m0 5h0m0 4h0m0 5h0m1-30h0m0 7h0m0 2h0m0 4h0m0 6h0m0 4h0m1-18h0m0 18h0m0 17h0m1-40h0m0 7h0m0 2h0m0 3h0m0 2h0m0 5h0m0 1h0m0 10h0m0 5h0m1-36h0m0 3h0m0 10h0m0 8h0m1-15h0m0 3h0m0 1h0m0 8h0m0 8h0m0 3h0m0 6h0m0 7h0m1-18h0m1-21h0m0 7h0m0 3h0m0 2h0m0 3h0m0 2h0m0 1h0m0 3h0m0 8h0m1-27h0m0 3h0m1 2h0m0 2h0m0 5h0m0 3h0m0 5h0m0 1h0m0 4h0m0 3h0m1-30h0m0 5h0m0 21h0m0 11h0m1-32h0m0 5h0m0 2h0m0 2h0m0 3h0m0 6h0m1-16h0m0 11h0m0 4h0m0 4h0m0 2h0m0 2h0m0 3h0m0 7h0m2-37h0m0 2h0m0 4h0m0 3h0m0 3h0m0 1h0m0 3h0m0 7h0m0 15h0m1-34h0m0 17h0m1-22h0m0 6h0m0 1h0m0 2h0m0 4h0m0 2h0m0 11h0m1-28h0m0 21h0m0 2h0m0 3h0m1-21h0m0 2h0m0 7h0m0 9h0m1-25h0m0 5h0m0 6h0m0 3h0m0 6h0m0 2h0m0 6h0m0 2h0m0 3h0m1-14h0m0 10h0m1-33h0m0 7h0m0 3h0m0 4h0m0 2h0m0 2h0m0 27h0m1-36h0m0 23h0m0 25h0m1-44h0m0 3h0m0 5h0m0 1h0m0 2h0m0 7h0m0 6h0m1-26h0m0 6h0m0 10h0m0 3h0m0 9h0m0 7h0m1-35h0m0 1h0m0 4h0m0 4h0m0 2h0m0 10h0m0 2h0m0 14h0m1-48h0m0 4h0m0 2h0m0 3h0m0 9h0m0 7h0m0 4h0m0 10h0m1-23h0m0 13h0m1-19h0m0 10h0m0 5h0m0 8h0m0 3h0m1-27h0m0 5h0m0 3h0" stroke="#f98a62" stroke-width="2.8" stroke-linecap="square"/><path transform="scale(.5)" d="M289 663h0m0 3h0m0 2h0m0 2h0m0 2h0m0 4h0m0 9h0m1-31h0m0 3h0m0 2h0m0 15h0m0 6h0m0 7h0m0 2h0m0 1h0m1-31h0m0 16h0m0 2h0m0 7h0m0 7h0m0 2h0m1-37h0m0 5h0m0 5h0m0 3h0m0 2h0m0 1h0m0 14h0m0 2h0m1-24h0m0 2h0m1-17h0m0 9h0m0 10h0m0 5h0m0 2h0m0 3h0m0 7h0m0 7h0m0 1h0m1-29h0m0 7h0m0 18h0m1-35h0m0 3h0m0 13h0m0 7h0m0 3h0m0 4h0m0 3h0m0 2h0m0 2h0m1-18h0m0 1h0m0 8h0m0 11h0m1-27h0m0 3h0m0 1h0m0 22h0m0 2h0m1-40h0m0 4h0m0 3h0m0 3h0m0 9h0m0 1h0m0 3h0m0 2h0m0 2h0m0 2h0m0 5h0m1-21h0m0 7h0m0 12h0m1-36h0m0 2h0m0 7h0m0 4h0m0 15h0m0 3h0m0 12h0m1-38h0m0 11h0m0 5h0m0 2h0m0 6h0m0 4h0m0 5h0m1-29h0m0 7h0m0 7h0m0 5h0m0 8h0m0 5h0m0 3h0m1-30h0m0 5h0m0 2h0m0 3h0m0 6h0m0 2h0m0 3h0m0 4h0m1-26h0m0 14h0m0 3h0m0 9h0m1-30h0m0 3h0m0 8h0m0 3h0m0 1h0m0 10h0m0 3h0m0 5h0m0 1h0m1-39h0m0 11h0m0 7h0m0 5h0m0 13h0m1-34h0m0 3h0m0 2h0m0 3h0m0 4h0m0 3h0m0 4h0m0 4h0m0 2h0m0 3h0m0 5h0m1-6h0m1-29h0m0 3h0m0 2h0m0 4h0m0 5h0m0 2h0m0 4h0m0 8h0m0 5h0m1-10h0m0 3h0m0 8h0m0 3h0m0 3h0m1-40h0m0 4h0m0 3h0m0 9h0m0 3h0m0 7h0m0 2h0m0 4h0m0 3h0m0 4h0m1-26h0m0 8h0m0 2h0m0 8h0m0 5h0m1-19h0m0 14h0m0 4h0m0 2h0m1-26h0m0 7h0m0 2h0m0 4h0m0 4h0m1-33h0m0 19h0m0 4h0m0 5h0m0 3h0m1-37h0m0 9h0m0 2h0m0 11h0m0 4h0m0 2h0m0 14h0m0 4h0m0 2h0m0 3h0m1-37h0m0 6h0m0 11h0m0 7h0m0 5h0m1-32h0m0 4h0m0 5h0m0 12h0m0 2h0m0 7h0m0 2h0m0 7h0m1-27h0m0 4h0m0 3h0m0 9h0m0 6h0m0 3h0m1-45h0m0 8h0m0 7h0m0 5h0m0 4h0m0 14h0m1-33h0m0 6h0m0 2h0m0 5h0m0 4h0m0 5h0m0 2h0m0 4h0m0 3h0m0 7h0m0 1h0m0 3h0m1-15h0m1-24h0m0 2h0m0 10h0m0 2h0m0 2h0m0 10h0m0 2h0m0 2h0m0 8h0m1-47h0m0 14h0m0 3h0m0 24h0m1-35h0m0 7h0m0 5h0m0 6h0m0 2h0m0 2h0m0 2h0m0 6h0m0 3h0m0 5h0m0 3h0m0 2h0m1-44h0m0 28h0m0 9h0m1-45h0m0 3h0m0 2h0m0 8h0m0 5h0m0 4h0m0 1h0m0 5h0m0 3h0m0 11h0m0 4h0m0 3h0m1-39h0m0 9h0m0 8h0m0 6h0m0 5h0m0 1h0m0 5h0m1-34h0m0 25h0m0 2h0m0 9h0m1-40h0m0 2h0m0 7h0m0 2h0m0 9h0m0 3h0m0 2h0m0 8h0m0 4h0m0 1h0m0 4h0m0 4h0m1-30h0m0 10h0m1-16h0m0 2h0m0 3h0m0 9h0m0 2h0m0 3h0m0 2h0m0 2h0m0 9h0m1-25h0m0 4h0m0 14h0m0 10h0m1-44h0m0 11h0m0 15h0m0 3h0m0 1h0m0 2h0m0 7h0m0 4h0m1-52h0m0 5h0m0 9h0m0 3h0m0 1h0m0 5h0m0 3h0m0 2h0m0 2h0m0 2h0m0 13h0m0 2h0m0 6h0m1-41h0m0 21h0m0 1h0m0 3h0m1-27h0m0 3h0m0 10h0m0 3h0m0 2h0m0 3h0m0 13h0m0 4h0m0 4h0m1-15h0m0 16h0m1-46h0m0 2h0m0 4h0m0 1h0m0 7h0m0 2h0m0 8h0m0 4h0m0 5h0m0 2h0m0 4h0m0 2h0m0 6h0m2-48h0m0 5h0m0 3h0m0 2h0m0 7h0m0 11h0m0 3h0m0 4h0m0 3h0m0 4h0m1-41h0m0 2h0m0 16h0m0 2h0m0 3h0m0 2h0m0 14h0m0 5h0m0 2h0m1-15h0m1 5h0m0 5h0m0 5h0m2-9h0m2-19h0m0 23h0m1-2h0m0 7h0m1-37h0m0 21h0m0 3h0m0 11h0m1-39h0m3 26h0m1 1h0m1-5h0m1-2h0m0 17h0m0 2h0m2-2h0m1-14h0m2 2h0m2-28h0m0 32h0m0 5h0m0 3h0m2-10h0m1-28h0m0 33h0m0 2h0m2-39h0m2 16h0m1-14h0m0 28h0m0 7h0m0 5h0m0 5h0m2 0h0m1-21h0m1-28h0m0 16h0m0 21h0m2-28h0m0 6h0m2 0h0m0 15h0m0 4h0m1-23h0m0 12h0m0 3h0m0 19h0m1 4h0m3-26h0m0 12h0m0 6h0m2-7h0m0 8h0m1-35h0m1 23h0m1-27h0m0 33h0m2-2h0m0 5h0m1-26h0m1 3h0m0 7h0m0 10h0m1-30h0m0 10h0m0 12h0m2 18h0" stroke="#66c2a5" stroke-width="2.8" stroke-linecap="square"/><path transform="scale(.5)" d="M344 666h0m0 16h0m1-7h0m0 5h0m0 6h0m0 5h0m1 0h0m0 2h0m1-14h0m0 3h0m0 6h0m2-34h0m0 36h0m1-14h0m0 1h0m0 2h0m0 6h0m2-10h0m0 8h0m0 4h0m1-9h0m0 5h0m1-13h0m0 21h0m3-4h0m2-10h0m4 7h0m1-15h0m1 22h0m3-14h0m0 11h0m0 3h0m2-34h0m0 20h0m0 12h0m0 2h0m1-25h0m0 8h0m0 5h0m0 7h0m1 0h0m1-30h0m0 35h0m1-14h0m0 7h0m0 8h0m1-9h0m0 5h0m2-21h0m2 10h0m0 17h0m1-14h0m0 8h0m1 4h0m2-15h0m1 9h0m2-34h0m0 22h0m0 7h0m1 10h0m1 0h0m0 2h0m1-43h0m0 11h0m0 14h0m1 18h0m1-51h0m0 42h0m0 7h0m1-4h0m0 3h0m1-12h0m1 10h0m1-9h0m0 5h0m3-9h0m0 17h0m1-3h0m1-19h0m0 4h0m0 13h0m1-14h0m0 6h0m0 3h0m1-3h0m0 2h0m0 5h0m0 3h0m0 4h0m1-19h0m0 17h0m1-5h0m0 7h0m1-18h0m0 3h0m0 1h0m0 3h0m0 2h0m0 5h0m1 0h0m1-12h0m0 5h0m0 3h0m0 5h0m0 3h0m1-23h0m0 4h0m0 5h0m0 8h0m1-31h0m0 2h0m0 6h0m0 13h0m0 7h0m0 2h0m0 6h0m0 2h0m1-19h0m0 7h0m0 7h0m1-12h0m0 2h0m0 3h0m0 2h0m0 2h0m0 2h0m0 2h0m0 3h0m1-40h0m1 27h0m0 2h0m0 2h0m0 10h0m1-31h0m0 6h0m0 4h0m0 2h0m0 11h0m0 2h0m0 3h0m1-19h0m1 3h0m0 14h0m0 2h0m1-37h0m0 31h0m1-29h0m0 17h0m0 3h0m0 1h0m0 6h0m0 1h0m0 2h0m1 3h0m0 2h0m0 2h0m1-37h0m0 21h0m1-18h0m0 7h0m0 8h0m0 5h0m0 12h0m0 2h0m1-15h0m0 6h0m0 2h0m0 2h0m1-34h0m0 9h0m0 3h0m0 9h0m0 8h0m1-4h0m0 13h0m1-37h0m0 21h0m0 7h0m0 1h0m0 2h0m0 4h0m0 3h0m1-19h0m0 14h0m1-7h0m0 6h0m0 3h0m0 2h0m1-15h0m0 7h0m0 5h0m1-25h0m0 12h0m0 11h0m0 1h0m1-32h0m0 10h0m0 2h0m0 8h0m0 3h0m0 3h0m0 2h0m0 6h0m2-27h0m0 15h0m0 1h0m0 2h0m0 11h0m1-18h0m0 10h0m0 3h0m0 2h0m1-40h0m0 28h0m0 2h0m0 5h0m0 7h0m1-39h0m0 30h0m0 4h0m0 3h0m1-9h0m0 2h0m1-10h0m0 3h0m0 2h0m0 6h0m0 8h0m0 2h0m1-12h0m1-6h0m0 5h0m0 4h0m0 5h0m2-40h0m0 17h0m0 6h0m0 2h0m0 3h0m0 3h0m0 5h0m0 6h0m0 3h0m1-24h0m0 11h0m0 5h0m0 3h0m1-49h0m0 30h0m0 10h0m0 7h0m1-24h0m0 3h0m0 9h0m0 7h0m0 7h0m0 1h0m0 3h0m1-37h0m0 15h0m0 4h0m0 12h0m1-3h0m0 5h0m0 4h0m1-25h0m0 15h0m0 7h0m1-51h0m0 26h0m0 5h0m0 5h0m0 2h0m0 9h0m0 3h0m0 2h0m0 2h0m1-21h0m0 7h0m1-20h0m0 21h0m0 3h0m0 8h0m1-39h0m0 22h0m0 8h0m0 5h0m0 2h0m0 4h0m1-16h0m0 9h0m0 5h0m0 2h0m1-18h0m0 9h0m0 5h0m1-15h0m1-6h0m0 9h0m0 7h0m0 2h0m0 3h0m0 2h0m1-30h0m0 12h0m0 6h0m0 14h0m1-34h0m0 20h0m0 5h0m0 4h0m1-42h0m0 26h0m0 2h0m0 2h0m0 10h0m0 4h0m0 4h0m1-8h0m1-13h0m0 1h0m0 3h0m0 2h0m0 3h0m0 2h0m0 5h0m0 2h0m0 2h0m1-30h0m1-26h0m0 17h0m0 4h0m0 12h0m0 3h0m0 2h0m0 3h0m0 3h0m0 4h0m0 1h0m0 8h0m1-38h0m1 12h0m0 7h0m0 2h0m0 9h0m0 3h0m0 3h0m1-49h0m0 39h0m0 2h0m0 9h0m1-24h0m0 6h0m0 16h0m0 2h0m1-16h0m0 2h0m0 6h0m0 1h0m0 2h0m1-31h0m0 8h0m0 24h0m0 2h0m1-18h0m0 3h0m0 4h0m0 1h0m0 2h0m0 4h0m0 6h0m1-19h0" stroke="#8da0cb" stroke-width="2.8" stroke-linecap="square"/><rect x="144.2" y="348.6" width="31.96" height="1.2" fill="#66c2a5"/><rect x="176.16" y="348.6" width="9.13" height="1.2" fill="#8da0cb"/><rect x="185.28" y="348.6" width="9.13" height="1.2" fill="#f98a62"/><rect x="194.41" y="348.6" width="4.56" height="1.2" fill="#8da0cb"/><rect x="198.98" y="348.6" width="36.52" height="1.2" fill="#8da0cb"/><rect x="144.2" y="351.8" width="27.39" height="1.2" fill="#66c2a5"/><rect x="171.59" y="351.8" width="13.7" height="1.2" fill="#8da0cb"/><rect x="185.28" y="351.8" width="9.13" height="1.2" fill="#f98a62"/><rect x="194.41" y="351.8" width="41.09" height="1.2" fill="#8da0cb"/><rect x="144.2" y="363.1" width="18.26" height="1.2" fill="#66c2a5"/><rect x="162.46" y="363.1" width="13.69" height="1.2" fill="#8da0cb"/><rect x="176.16" y="363.1" width="13.7" height="1.2" fill="#f98a62"/><rect x="189.85" y="363.1" width="9.13" height="1.2" fill="#8da0cb"/><rect x="198.98" y="363.1" width="4.57" height="1.2" fill="#f98a62"/><rect x="203.54" y="363.1" width="31.96" height="1.2" fill="#8da0cb"/><path d="M144.2 341.5C148 340.58 159.42 337.17 167.02 336C174.63 334.83 182.24 334.8 189.85 334.5C197.46 334.2 205.07 335.45 212.68 334.2C220.28 332.95 231.7 328.2 235.5 327" fill="none" stroke="#1a1a1a" stroke-width="1.1"/><path d="M209.94 334.2C211.91 335 217.54 337.03 221.81 339C226.07 340.97 233.22 344.83 235.5 346" fill="none" stroke="#1a1a1a" stroke-width="1.1" stroke-dasharray="3 2"/><rect x="139.7" y="318.6" width="100.1" height="47.5" fill="none" stroke="#cfcfcf" stroke-width="0.9"/><path transform="scale(.5)" d="M69 814h0m1-16h0m2-20h0m2 12h0m0 12h0m1-1h0m1-17h0m0 22h0m0 5h0m2-25h0m0 15h0m1-16h0m0 29h0m2-32h0m4 31h0m0 8h0m3-24h0m2-13h0m0 12h0m0 7h0m0 13h0m1-26h0m1 20h0m0 7h0m0 4h0m1-14h0m1-15h0m0 14h0m1-26h0m0 19h0m0 2h0m1 21h0m3-30h0m1 2h0m1-12h0m0 10h0m2 28h0m1-40h0m0 18h0m2 20h0m0 4h0m1-30h0m0 16h0m1-21h0m2 34h0m2-30h0m1-1h0m0 15h0m3-9h0m0 10h0m0 6h0m1-4h0m2-1h0m0 15h0m1-42h0m0 6h0m0 29h0m2 3h0m1-13h0m1-13h0m2 24h0m1-34h0m0 12h0m0 2h0m1-7h0m1-7h0m0 13h0m0 4h0m0 14h0m0 6h0m1-23h0m1-12h0m0 17h0m0 8h0m0 7h0m2-25h0m0 8h0m0 2h0m0 4h0m0 7h0m1-19h0m0 10h0m0 5h0m1-14h0m0 4h0m0 12h0m1-18h0m0 29h0m1-7h0m1 3h0m0 1h0m0 4h0m1-26h0m0 5h0m0 9h0m1-18h0m0 1h0m0 9h0m0 17h0m1-5h0m0 8h0m1-30h0m0 22h0m1-34h0m0 15h0m0 4h0m0 13h0m0 5h0m0 4h0m1-46h0m0 3h0m0 34h0m1-23h0m0 18h0m1-20h0m1-5h0m0 21h0m0 14h0m0 2h0m0 3h0m1-42h0m0 13h0m0 19h0m1-32h0m0 4h0m0 19h0m1-2h0m0 9h0m1-25h0m0 24h0m1-29h0m0 12h0m0 5h0m0 22h0m2-25h0m0 13h0m1-28h0m0 8h0m0 9h0m0 18h0m1-30h0m0 3h0m0 6h0m0 17h0m1-3h0m2-32h0m0 15h0m0 2h0m0 7h0m0 4h0m0 10h0m0 6h0m0 3h0m1-44h0m0 11h0m0 5h0m1-14h0m0 25h0m0 10h0m0 1h0m2-15h0m0 2h0m0 5h0m0 5h0m0 2h0m1-20h0m2-4h0m0 6h0m0 1h0m0 12h0m0 11h0m1-34h0m0 7h0m1-17h0m0 25h0m0 8h0m1-26h0m0 29h0m1-36h0m0 3h0m0 7h0m0 4h0m0 25h0m1-57h0m0 30h0m0 18h0m1-29h0m1 7h0m0 7h0m0 8h0m0 5h0m1-14h0m0 8h0m0 2h0m1-35h0m0 4h0m0 3h0m0 13h0m1-1h0m0 26h0m1-43h0m0 9h0m0 15h0m0 16h0m0 4h0m1-29h0m0 12h0m0 0h0m1-22h0m0 2h0m0 10h0m0 1h0m0 10h0m0 4h0m1-19h0m0 1h0m0 17h0m0 9h0m1-25h0m1 5h0m0 11h0m0 1h0m0 6h0m0 6h0m0 4h0m1-11h0m1-11h0m0 24h0m1-40h0m0 6h0m0 4h0m0 1h0m0 8h0m1-17h0m0 2h0m0 8h0m0 1h0m0 9h0m0 3h0m0 3h0m1-12h0m1-10h0m1-4h0m0 15h0m0 15h0m1-18h0m1-24h0m0 8h0m0 2h0m0 3h0m0 9h0m0 13h0m0 17h0m2-43h0m0 5h0m0 3h0m0 6h0m0 9h0m0 10h0m1-23h0m1-14h0m0 4h0m1 5h0m0 3h0m0 1h0m0 15h0m2-33h0m0 7h0m0 3h0m0 2h0m0 5h0m0 4h0m0 5h0m0 2h0m0 3h0m0 6h0m0 3h0m1-28h0m0 21h0m1-32h0m0 7h0m0 7h0m0 2h0m0 9h0m0 3h0m0 25h0m1-49h0m2 21h0m0 1h0m0 3h0m0 15h0m1-17h0m0 6h0m1-33h0m0 4h0m0 12h0m0 2h0m0 3h0m0 15h0m2-21h0m1 14h0m0 5h0m1-41h0m0 4h0m0 14h0m0 6h0m0 3h0m0 8h0m0 17h0m0 3h0m1-49h0m0 7h0m0 18h0m0 5h0m0 2h0m0 5h0m1-29h0m0 4h0m0 4h0m0 2h0m0 14h0m1-36h0m0 1h0m0 18h0m0 6h0m0 5h0m0 3h0m0 1h0m0 4h0m0 4h0m0 13h0m1-39h0m0 3h0m0 4h0m0 5h0m1-14h0m0 18h0m1-25h0m0 2h0m0 34h0m1-44h0m0 3h0m0 10h0m0 1h0m0 19h0m1-25h0m0 30h0m0 2h0m0 2h0m1-21h0m0 2h0m0 5h0m1-13h0m0 2h0m0 3h0m1 20h0m1-24h0m0 17h0m0 19h0m1-37h0m0 5h0m0 1h0m0 14h0m1-27h0m0 25h0m1 5h0m0 16h0m1-39h0m0 21h0m1-30h0m0 11h0m0 11h0m0 2h0m0 10h0m0 2h0m1-25h0m0 14h0m0 10h0m0 1h0m1-35h0m0 22h0m0 18h0m1-33h0m0 10h0m1 4h0m0 10h0m0 2h0m0 9h0m1-18h0m0 3h0m1-23h0m0 13h0m0 5h0m0 30h0m1-43h0m0 15h0m0 6h0m0 19h0m1-34h0m0 3h0m1 4h0m0 2h0m0 12h0m0 4h0m2-30h0m0 3h0m0 6h0m0 6h0m0 8h0m1-9h0m0 4h0m0 2h0m0 5h0m1-38h0m0 6h0m0 18h0m1-6h0m0 2h0m0 9h0m0 4h0m1-27h0m0 10h0m0 18h0m0 19h0m1-51h0m0 6h0m0 3h0m0 1h0m0 8h0m0 4h0m0 7h0m0 5h0m0 3h0m1 5h0m1-33h0m0 4h0m0 15h0m0 1h0m0 8h0m0 6h0m0 6h0m1-17h0m0 3h0m0 5h0m0 4h0m1-42h0m0 25h0m0 3h0m0 1h0m0 3h0m0 16h0m1-50h0m0 16h0m0 2h0m0 4h0m1 3h0m1-2h0m0 8h0m0 4h0m1-33h0m0 4h0m0 30h0m1-19h0m0 6h0m0 28h0" stroke="#f98a62" stroke-width="2.8" stroke-linecap="square"/><path transform="scale(.5)" d="M68 794h0m1-13h0m0 3h0m0 3h0m0 9h0m0 5h0m0 2h0m0 5h0m0 2h0m0 8h0m0 1h0m1-37h0m0 8h0m0 2h0m0 13h0m0 17h0m1-38h0m0 3h0m0 5h0m0 3h0m0 5h0m0 7h0m0 5h0m0 2h0m1-24h0m0 7h0m0 2h0m0 5h0m0 1h0m0 12h0m1-29h0m0 4h0m0 1h0m0 7h0m0 14h0m0 3h0m0 5h0m1-39h0m0 1h0m0 13h0m0 1h0m0 7h0m0 5h0m0 3h0m2-26h0m0 2h0m0 2h0m0 4h0m0 9h0m0 3h0m0 7h0m0 2h0m0 5h0m1-2h0m1-30h0m0 5h0m0 12h0m0 6h0m1-30h0m0 10h0m0 5h0m0 7h0m0 4h0m0 2h0m0 7h0m0 3h0m1-33h0m0 3h0m0 1h0m0 3h0m0 2h0m0 2h0m0 8h0m0 16h0m1-37h0m0 16h0m0 2h0m0 5h0m0 1h0m0 3h0m0 5h0m0 2h0m1-37h0m0 25h0m1-23h0m0 4h0m0 3h0m0 3h0m0 6h0m0 4h0m0 1h0m0 8h0m0 2h0m0 5h0m0 2h0m1-12h0m0 6h0m1-37h0m0 3h0m0 3h0m0 4h0m0 6h0m0 2h0m0 4h0m0 1h0m0 4h0m0 9h0m0 2h0m1-19h0m0 9h0m0 13h0m1-42h0m0 2h0m0 6h0m0 8h0m0 4h0m0 5h0m0 7h0m0 4h0m0 2h0m0 3h0m0 2h0m1-38h0m0 2h0m0 7h0m0 13h0m0 2h0m1 7h0m0 8h0m1-45h0m0 11h0m0 7h0m0 7h0m0 4h0m0 1h0m0 3h0m0 10h0m1-33h0m0 7h0m1-12h0m0 2h0m0 6h0m0 1h0m0 8h0m0 5h0m0 2h0m0 8h0m0 6h0m1-41h0m0 21h0m1-17h0m0 2h0m0 2h0m0 16h0m0 5h0m0 4h0m0 2h0m0 4h0m1-23h0m0 2h0m0 13h0m0 6h0m0 5h0m1-43h0m0 11h0m0 19h0m0 7h0m1-32h0m0 1h0m0 3h0m0 4h0m0 3h0m0 3h0m0 1h0m0 3h0m0 2h0m0 7h0m0 2h0m0 5h0m0 1h0m1-33h0m1 2h0m0 9h0m0 3h0m0 2h0m0 2h0m0 5h0m0 7h0m0 3h0m1-37h0m0 2h0m0 6h0m0 21h0m0 8h0m0 4h0m1-42h0m0 4h0m0 14h0m0 8h0m0 1h0m0 5h0m0 7h0m1-32h0m0 2h0m0 12h0m0 1h0m0 8h0m0 6h0m0 6h0m1-21h0m0 4h0m0 2h0m0 7h0m0 7h0m1-47h0m0 8h0m0 5h0m0 2h0m0 2h0m0 3h0m0 8h0m0 9h0m0 1h0m0 5h0m2-39h0m0 4h0m0 3h0m0 3h0m0 1h0m0 2h0m0 2h0m0 3h0m0 2h0m0 2h0m0 4h0m0 1h0m0 5h0m0 3h0m0 1h0m1 3h0m1-23h0m0 4h0m0 2h0m0 3h0m0 5h0m0 1h0m0 12h0m1-25h0m0 19h0m0 5h0m1-30h0m0 3h0m0 4h0m0 4h0m0 13h0m0 2h0m0 3h0m1-34h0m0 1h0m0 6h0m0 7h0m0 8h0m0 6h0m1-33h0m0 2h0m0 5h0m0 7h0m0 7h0m0 10h0m0 9h0m1-35h0m0 13h0m0 5h0m0 9h0m0 2h0m0 8h0m2-40h0m0 3h0m0 4h0m0 3h0m0 2h0m0 7h0m0 9h0m0 9h0m0 2h0m1-41h0m0 7h0m0 12h0m0 4h0m0 5h0m0 9h0m1-36h0m0 1h0m0 3h0m0 14h0m0 2h0m0 10h0m0 2h0m0 2h0m0 6h0m1-43h0m0 11h0m0 3h0m0 1h0m0 3h0m0 7h0m0 3h0m0 13h0m1-30h0m0 2h0m0 14h0m0 7h0m1-30h0m0 12h0m0 2h0m0 2h0m0 3h0m0 2h0m0 8h0m0 8h0m2-30h0m0 5h0m0 1h0m0 3h0m0 9h0m0 3h0m0 5h0m0 2h0m1-26h0m0 9h0m0 13h0m0 9h0m1-45h0m0 12h0m0 8h0m0 1h0m0 4h0m0 8h0m0 2h0m0 7h0m0 2h0m1-39h0m0 5h0m0 14h0m0 7h0m0 6h0m0 3h0m1-38h0m0 6h0m0 3h0m0 1h0m0 3h0m0 11h0m0 2h0m0 3h0m0 5h0m0 1h0m0 6h0m1-22h0m0 3h0m0 9h0m0 11h0m1-33h0m0 4h0m0 15h0m0 8h0m1-21h0m0 11h0m0 12h0m1-32h0m0 16h0m0 9h0m1-34h0m0 13h0m0 5h0m0 9h0m0 3h0m0 1h0m0 5h0m0 2h0m1-32h0m0 9h0m0 8h0m0 23h0m2-26h0m0 19h0m0 1h0m1-27h0m0 7h0m1-11h0m0 28h0m1-26h0m1 5h0m0 2h0m0 18h0m2-29h0m0 2h0m0 11h0m0 5h0m1-21h0m0 9h0m0 24h0m1-36h0m1 17h0m1-13h0m0 40h0m1-37h0m0 7h0m0 9h0m0 3h0m1-7h0m0 18h0m2-18h0m0 14h0m1-21h0m1 7h0m0 10h0m0 9h0m1-1h0m1-11h0m0 4h0m0 14h0m1-27h0m1-2h0m0 14h0m0 4h0m0 7h0m1-19h0m1-7h0m0 31h0m1-32h0m0 27h0m2-17h0m0 15h0m0 1h0m2-6h0m0 9h0m1-27h0m0 30h0m1-17h0m0 12h0m0 3h0m1-37h0m0 10h0m0 29h0m1-28h0m0 26h0m1-40h0m0 9h0m0 24h0m2-31h0m0 34h0m0 3h0m1-14h0" stroke="#66c2a5" stroke-width="2.8" stroke-linecap="square"/><path transform="scale(.5)" d="M133 787h0m3 17h0m0 10h0m2-16h0m3-21h0m1 12h0m0 19h0m4-3h0m0 12h0m1-33h0m0 14h0m0 3h0m1-23h0m0 11h0m0 25h0m1-20h0m1-12h0m3 0h0m1 2h0m1-1h0m0 36h0m2-37h0m0 17h0m0 5h0m2-21h0m0 24h0m1-11h0m1-14h0m2 7h0m1-5h0m0 3h0m0 11h0m1 8h0m1-24h0m0 32h0m1-29h0m1 11h0m2-36h0m0 11h0m0 12h0m0 2h0m0 9h0m0 4h0m0 3h0m0 3h0m0 2h0m0 6h0m0 3h0m0 5h0m1-56h0m0 3h0m0 1h0m0 28h0m0 14h0m0 11h0m1-48h0m0 2h0m0 24h0m0 16h0m1-44h0m0 19h0m0 4h0m0 2h0m0 11h0m0 3h0m0 3h0m0 3h0m0 3h0m1 2h0m1-60h0m0 8h0m0 6h0m0 8h0m0 7h0m0 13h0m1-25h0m0 27h0m0 7h0m0 2h0m1-43h0m0 2h0m0 12h0m0 1h0m0 3h0m0 12h0m0 9h0m0 5h0m0 2h0m0 3h0m0 2h0m1-47h0m0 4h0m0 24h0m1-12h0m1-20h0m0 7h0m0 26h0m0 6h0m0 5h0m0 1h0m0 4h0m1-35h0m0 1h0m0 17h0m0 11h0m1-49h0m0 8h0m0 2h0m0 2h0m0 2h0m0 12h0m0 4h0m0 2h0m0 11h0m0 11h0m0 2h0m1-50h0m0 21h0m1-21h0m0 5h0m0 6h0m0 17h0m0 2h0m0 2h0m0 8h0m0 1h0m0 2h0m0 8h0m1-15h0m1-39h0m0 5h0m0 26h0m0 8h0m0 7h0m0 7h0m1-50h0m0 6h0m0 8h0m0 2h0m0 23h0m0 3h0m0 6h0m1-50h0m0 2h0m0 30h0m0 1h0m0 3h0m0 7h0m0 7h0m1-46h0m0 2h0m0 3h0m0 4h0m0 7h0m0 7h0m0 19h0m0 2h0m1-51h0m0 42h0m0 3h0m0 4h0m1-43h0m0 12h0m0 7h0m0 3h0m0 11h0m0 2h0m0 6h0m0 3h0m1-43h0m0 9h0m0 6h0m0 10h0m0 2h0m1-42h0m0 8h0m0 3h0m0 3h0m0 1h0m0 2h0m0 24h0m0 4h0m0 3h0m0 1h0m0 7h0m0 3h0m0 2h0m0 2h0m1-40h0m0 13h0m0 2h0m0 16h0m1-44h0m0 8h0m0 22h0m0 7h0m0 10h0m1-44h0m0 20h0m0 3h0m0 3h0m0 6h0m0 5h0m0 12h0m0 2h0m1-19h0m0 18h0m1-48h0m0 14h0m0 24h0m0 3h0m0 3h0m2-51h0m0 4h0m0 18h0m0 1h0m0 10h0m0 6h0m0 3h0m0 2h0m0 5h0m0 4h0m1-18h0m0 1h0m0 10h0m1-47h0m0 6h0m0 7h0m0 2h0m0 2h0m0 2h0m0 5h0m0 14h0m0 8h0m0 8h0m1-50h0m0 5h0m0 1h0m0 12h0m0 20h0m0 7h0m0 4h0m0 3h0m1-54h0m0 8h0m0 32h0m0 7h0m0 8h0m1-50h0m0 5h0m0 3h0m0 3h0m0 12h0m0 4h0m0 2h0m0 10h0m0 7h0m1-47h0m0 24h0m0 17h0m1-32h0m0 7h0m0 4h0m0 3h0m0 11h0m0 3h0m0 2h0m0 4h0m1-46h0m0 5h0m0 5h0m0 4h0m0 18h0m0 12h0m0 4h0m0 2h0m0 4h0m1-51h0m0 3h0m0 3h0m0 8h0m0 6h0m0 28h0m1-16h0m0 5h0m0 1h0m0 3h0m0 10h0m1-12h0m0 3h0m0 2h0m1-44h0m0 7h0m0 14h0m0 15h0m0 10h0m2-41h0m0 9h0m0 4h0m0 6h0m0 3h0m0 2h0m0 10h0m0 4h0m0 2h0m0 5h0m1-18h0m0 3h0m0 6h0m1-44h0m0 22h0m0 4h0m0 4h0m0 14h0m0 5h0m1-52h0m0 9h0m0 5h0m0 5h0m0 23h0m0 3h0m0 4h0m0 5h0m1-49h0m0 24h0m0 7h0m0 4h0m0 17h0m1-48h0m0 1h0m0 15h0m0 5h0m0 3h0m0 9h0m0 7h0m0 5h0m1-52h0m1 3h0m0 5h0m0 10h0m0 20h0m0 3h0m0 9h0m0 3h0m1-31h0m0 4h0m0 20h0m1-31h0m0 4h0m0 4h0m0 4h0m0 5h0m0 7h0m0 7h0m0 8h0m1-52h0m0 6h0m0 16h0m0 17h0m0 2h0m0 4h0m0 6h0m1-55h0m0 6h0m0 2h0m0 14h0m0 3h0m0 6h0m0 15h0m0 2h0m0 4h0m1-42h0m0 7h0m0 2h0m0 17h0m0 6h0m0 7h0m0 7h0m1-39h0m0 15h0m0 18h0m1-48h0m0 6h0m0 12h0m0 16h0m0 12h0m0 7h0m1-44h0m0 13h0m0 16h0m0 16h0m1-43h0m0 7h0m0 5h0m0 18h0m0 2h0m0 10h0m1-49h0m0 3h0m0 6h0m0 37h0m1-39h0m0 19h0m0 6h0m0 3h0m0 2h0m0 7h0m2-45h0m0 8h0m0 4h0m0 5h0m0 11h0m0 5h0m1-35h0m0 28h0m0 12h0m0 4h0m0 3h0m0 1h0m0 2h0m0 4h0m1-47h0m0 5h0m0 11h0m1-29h0m0 5h0m0 1h0m0 3h0m0 8h0m0 8h0m0 21h0m0 7h0m0 7h0m1-58h0m0 9h0m0 12h0m1-16h0m0 9h0m0 3h0m0 1h0m0 7h0m0 4h0m0 5h0m0 8h0m0 2h0m0 1h0m0 6h0m0 1h0m0 6h0m1-52h0m0 5h0m0 28h0m0 9h0m0 7h0m1-56h0m0 31h0m0 20h0m0 3h0m1-33h0m0 5h0m0 6h0m0 12h0m0 4h0m0 1h0m0 10h0m1-5h0m1-47h0m0 2h0m0 17h0m0 5h0m0 14h0m1-28h0m1-6h0m0 1h0m0 5h0m0 2h0m0 7h0m0 19h0m0 7h0m0 1h0m0 6h0m1-45h0m0 29h0m1-34h0m0 1h0m0 25h0m0 11h0m0 3h0m0 5h0m1-39h0m0 3h0m0 4h0m0 5h0m0 15h0m0 10h0m0 4h0m0 2h0m1-48h0m0 10h0m0 20h0m1-25h0m0 11h0m0 8h0m0 5h0m0 5h0m0 5h0m0 2h0m0 2h0m0 6h0m1-57h0m0 19h0" stroke="#8da0cb" stroke-width="2.8" stroke-linecap="square"/><rect x="34" y="411.8" width="27.45" height="1.2" fill="#66c2a5"/><rect x="61.45" y="411.8" width="22.88" height="1.2" fill="#f98a62"/><rect x="84.33" y="411.8" width="41.18" height="1.2" fill="#8da0cb"/><rect x="34" y="414.9" width="27.45" height="1.2" fill="#66c2a5"/><rect x="61.45" y="414.9" width="18.3" height="1.2" fill="#f98a62"/><rect x="79.75" y="414.9" width="45.75" height="1.2" fill="#8da0cb"/><rect x="34" y="425.8" width="27.45" height="1.2" fill="#66c2a5"/><rect x="61.45" y="425.8" width="9.15" height="1.2" fill="#f98a62"/><rect x="70.6" y="425.8" width="9.15" height="1.2" fill="#66c2a5"/><rect x="79.75" y="425.8" width="27.45" height="1.2" fill="#8da0cb"/><rect x="107.2" y="425.8" width="18.3" height="1.2" fill="#f98a62"/><path d="M34 412C38.58 411.33 52.3 409.33 61.45 408C70.6 406.67 78.23 405 88.9 404C99.58 403 119.4 402.33 125.5 402" fill="none" stroke="#1a1a1a" stroke-width="1.1"/><path d="M79.75 402C83.56 401.17 95 398.33 102.63 397C110.25 395.67 121.69 394.5 125.5 394" fill="none" stroke="#1a1a1a" stroke-width="1.1" stroke-dasharray="3 2"/><rect x="29.5" y="380.6" width="100.3" height="47.4" fill="none" stroke="#cfcfcf" stroke-width="0.9"/><path transform="scale(.5)" d="M289 786h0m0 8h0m1 8h0m1-3h0m0 2h0m1 10h0m1-35h0m4 9h0m0 3h0m2-3h0m0 2h0m2 12h0m1 2h0m0 12h0m1-23h0m0 12h0m1 5h0m1-12h0m1-19h0m0 36h0m1-12h0m3-24h0m1 30h0m1-16h0m1 4h0m4-7h0m0 10h0m0 11h0m0 7h0m2-24h0m2 6h0m2-1h0m1-6h0m2 14h0m0 7h0m1-36h0m1 8h0m2-5h0m2 16h0m1 10h0m1-26h0m0 3h0m0 7h0m2-10h0m0 23h0m0 5h0m2-11h0m2-19h0m0 14h0m1 17h0m0 3h0m1-12h0m0 7h0m1-2h0m2-24h0m0 2h0m0 6h0m0 7h0m1-12h0m0 21h0m1-33h0m0 11h0m0 4h0m0 3h0m0 2h0m0 4h0m0 6h0m0 7h0m0 3h0m1-36h0m0 5h0m0 4h0m0 8h0m1-2h0m0 24h0m1-40h0m0 3h0m0 9h0m0 2h0m1 10h0m0 15h0m1-41h0m0 10h0m0 4h0m0 2h0m0 11h0m1-14h0m0 4h0m1-12h0m0 32h0m1-39h0m0 16h0m1-12h0m0 8h0m0 7h0m0 1h0m0 17h0m1-24h0m0 10h0m0 8h0m1-15h0m0 6h0m1-4h0m0 3h0m0 6h0m0 15h0m0 4h0m1-37h0m0 7h0m0 3h0m0 5h0m1-23h0m0 4h0m0 2h0m0 14h0m0 16h0m0 9h0m1-34h0m1-10h0m0 2h0m0 7h0m0 7h0m0 3h0m1-20h0m0 9h0m0 4h0m0 20h0m0 5h0m1-25h0m0 3h0m1-6h0m0 7h0m0 4h0m0 2h0m0 2h0m0 7h0m0 10h0m1-31h0m0 2h0m0 14h0m1-23h0m0 12h0m0 3h0m0 3h0m0 3h0m0 13h0m0 2h0m1-29h0m1-13h0m0 7h0m0 7h0m0 23h0m0 3h0m1-37h0m0 8h0m0 9h0m0 5h0m0 10h0m1-30h0m0 2h0m0 3h0m0 32h0m1-28h0m0 5h0m0 21h0m0 4h0m1-29h0m0 7h0m0 4h0m0 16h0m0 2h0m1-36h0m0 3h0m0 20h0m0 5h0m0 1h0m0 11h0m2-39h0m0 6h0m0 5h0m0 1h0m0 12h0m1-29h0m0 29h0m0 9h0m1-34h0m0 2h0m0 5h0m0 16h0m1-19h0m0 6h0m0 2h0m0 1h0m0 4h0m0 23h0m1-41h0m0 5h0m0 5h0m0 9h0m0 8h0m1-23h0m0 9h0m0 2h0m1-16h0m0 8h0m0 10h0m0 18h0m1-29h0m0 4h0m1 11h0m1-13h0m0 3h0m0 4h0m0 9h0m0 4h0m0 10h0m0 2h0m1-35h0m0 11h0m1-20h0m0 3h0m0 6h0m0 12h0m0 2h0m0 7h0m1-17h0m0 1h0m0 4h0m1-15h0m0 26h0m0 6h0m0 7h0m1-37h0m0 2h0m0 6h0m0 1h0m0 3h0m0 1h0m1-11h0m0 17h0m1-11h0m0 29h0m0 2h0m1-30h0m0 7h0m1-14h0m0 7h0m0 2h0m0 2h0m0 6h0m0 4h0m0 16h0m1-40h0m0 7h0m0 24h0m1-30h0m0 2h0m0 14h0m0 16h0m1-35h0m0 8h0m0 4h0m0 13h0m1-15h0m1-3h0m0 9h0m0 6h0m0 7h0m0 4h0m0 3h0m0 4h0m1-21h0m1-29h0m0 6h0m0 3h0m0 15h0m0 26h0m1-47h0m0 17h0m0 7h0m2-12h0m0 17h0m0 3h0m0 5h0m1 1h0m1-31h0m0 9h0m1-1h0m1 4h0m1-5h0m0 9h0m0 4h0m1-13h0m0 23h0m0 6h0m1-37h0m0 1h0m0 3h0m0 6h0m0 3h0m0 9h0m0 12h0m1-33h0m0 12h0m0 16h0m1-25h0m0 6h0m0 24h0m2-35h0m0 3h0m0 3h0m0 3h0m0 4h0m0 3h0m0 5h0m0 3h0m0 2h0m2-25h0m0 6h0m0 3h0m0 11h0m1-15h0m0 6h0m0 4h0m0 10h0m1-3h0m0 12h0m0 2h0m1-30h0m0 9h0m0 3h0m0 21h0m1-32h0m1-6h0m0 16h0m0 8h0m0 2h0m1-11h0m0 6h0m0 3h0m0 9h0m1-28h0m0 2h0m0 12h0m0 7h0m1-13h0m0 1h0m0 2h0m1-2h0m0 2h0m1-8h0m0 2h0m0 3h0m0 18h0m0 1h0m0 3h0m1-39h0m0 14h0m0 7h0m0 2h0m0 4h0m1-23h0m0 7h0m0 5h0m0 3h0m1-9h0m0 3h0m1-6h0m0 2h0m0 8h0m0 1h0m0 23h0m1-13h0m1-12h0m0 5h0m0 2h0m0 5h0m1-10h0m0 14h0m1-11h0m1-15h0m0 6h0m0 5h0m0 6h0m2-19h0m0 10h0m0 2h0m0 9h0m0 3h0m1 11h0m0 4h0m1-30h0m0 10h0m0 9h0m0 5h0m1-18h0m0 2h0m0 5h0m0 2h0m1-18h0m0 9h0m0 5h0m0 1h0m0 10h0m1-31h0m0 7h0m0 3h0m0 8h0m0 5h0m0 5h0m0 11h0m1-29h0m0 14h0m1-22h0m0 3h0m0 8h0m0 4h0m0 3h0m1 21h0m1-29h0m0 5h0m0 7h0m1-15h0m1 4h0m0 4h0m0 5h0m0 15h0m1-18h0m0 5h0m0 5h0m1-28h0m0 7h0m0 20h0m1-29h0m0 7h0m0 4h0m0 2h0m0 3h0m0 8h0m0 7h0m2-20h0m0 2h0m0 3h0m0 13h0m1-20h0m0 11h0m0 2h0m0 6h0m1-15h0m0 7h0m0 14h0m0 7h0m1-23h0m0 4h0m0 14h0m1-25h0m1 4h0m0 7h0m0 3h0m0 2h0m0 3h0m0 11h0m1-25h0m0 11h0m1-29h0m0 3h0m0 8h0m0 4h0m0 7h0m0 4h0m1-20h0m1 0h0m0 2h0m0 7h0m0 5h0m0 2h0m0 4h0m1-13h0m1-7h0m0 7h0m0 3h0m0 29h0m1-37h0m0 2h0m0 12h0m0 2h0m0 3h0m0 11h0m1-30h0m0 7h0m0 27h0m1-31h0m0 6h0m0 14h0" stroke="#f98a62" stroke-width="2.8" stroke-linecap="square"/><path transform="scale(.5)" d="M289 774h0m0 6h0m0 3h0m0 5h0m0 2h0m0 9h0m0 4h0m0 8h0m0 2h0m1-37h0m0 2h0m0 14h0m0 14h0m0 1h0m0 9h0m1-31h0m0 23h0m1-36h0m0 1h0m0 5h0m0 2h0m0 3h0m0 4h0m0 7h0m0 3h0m0 6h0m0 3h0m0 8h0m0 1h0m1-25h0m0 3h0m1-18h0m0 3h0m0 2h0m0 6h0m0 1h0m0 8h0m0 1h0m0 4h0m0 2h0m0 4h0m0 2h0m0 3h0m0 1h0m1-30h0m0 7h0m0 3h0m0 12h0m0 11h0m1-32h0m0 8h0m0 1h0m0 2h0m0 8h0m0 2h0m0 1h0m0 5h0m1-31h0m0 2h0m0 16h0m0 18h0m2-41h0m0 2h0m0 4h0m0 3h0m0 10h0m0 2h0m0 4h0m0 4h0m0 3h0m0 5h0m0 2h0m1-23h0m0 2h0m0 16h0m1-32h0m0 3h0m0 1h0m0 4h0m0 1h0m0 5h0m0 6h0m0 7h0m0 5h0m0 2h0m0 6h0m1-28h0m0 7h0m0 10h0m1-27h0m0 3h0m0 2h0m0 1h0m0 8h0m0 4h0m0 12h0m1-33h0m0 13h0m0 6h0m0 6h0m0 4h0m0 6h0m0 3h0m0 2h0m1-41h0m0 18h0m0 11h0m0 3h0m0 3h0m1-31h0m0 2h0m0 3h0m0 2h0m0 2h0m0 11h0m0 3h0m0 13h0m1-28h0m0 4h0m0 1h0m0 3h0m0 7h0m0 2h0m1-27h0m0 3h0m0 1h0m0 3h0m0 23h0m0 2h0m0 2h0m0 3h0m0 3h0m1-29h0m0 9h0m1-17h0m0 1h0m0 12h0m0 2h0m0 8h0m0 2h0m0 6h0m0 3h0m0 3h0m1-32h0m0 2h0m0 1h0m0 10h0m0 1h0m1-23h0m0 8h0m0 2h0m0 7h0m0 15h0m0 1h0m1-32h0m0 2h0m0 2h0m0 7h0m0 9h0m0 7h0m0 7h0m0 5h0m1-32h0m0 10h0m0 13h0m0 5h0m1-30h0m0 6h0m0 2h0m0 7h0m0 5h0m0 3h0m0 5h0m0 3h0m1-37h0m0 11h0m0 9h0m0 4h0m0 16h0m1-42h0m0 5h0m0 2h0m0 3h0m0 2h0m0 5h0m0 3h0m0 8h0m0 3h0m1-9h0m0 3h0m0 8h0m1-28h0m0 19h0m0 2h0m0 7h0m0 7h0m0 2h0m1-34h0m0 2h0m0 2h0m0 2h0m0 3h0m0 11h0m0 2h0m0 5h0m0 2h0m1-39h0m0 4h0m0 5h0m0 3h0m0 3h0m0 8h0m0 19h0m1-25h0m0 1h0m0 3h0m0 10h0m0 2h0m0 1h0m0 4h0m0 2h0m1-32h0m0 16h0m0 20h0m1-30h0m0 19h0m0 2h0m0 1h0m0 5h0m0 3h0m1-28h0m0 4h0m0 8h0m0 2h0m1-28h0m0 5h0m0 5h0m0 3h0m0 7h0m0 1h0m0 2h0m0 12h0m0 6h0m1-33h0m0 9h0m0 9h0m0 2h0m0 5h0m0 7h0m1-33h0m0 10h0m0 10h0m0 16h0m1-37h0m0 7h0m0 1h0m0 4h0m0 3h0m0 3h0m0 5h0m0 2h0m0 2h0m0 2h0m0 2h0m0 3h0m1-33h0m0 19h0m0 3h0m1-26h0m0 12h0m0 2h0m0 20h0m0 3h0m1-43h0m0 13h0m0 14h0m0 7h0m0 1h0m0 3h0m1-22h0m0 9h0m0 2h0m0 2h0m0 6h0m0 3h0m0 7h0m1-31h0m0 26h0m0 3h0m1-28h0m0 18h0m0 7h0m1-30h0m0 3h0m0 5h0m0 1h0m0 3h0m0 2h0m0 2h0m0 12h0m0 4h0m0 3h0m1-34h0m0 2h0m0 8h0m0 12h0m0 6h0m1-25h0m0 8h0m0 5h0m0 5h0m0 4h0m0 5h0m0 2h0m0 2h0m1-30h0m1-6h0m0 1h0m0 7h0m0 7h0m0 3h0m0 2h0m0 2h0m0 2h0m0 5h0m0 4h0m0 3h0m1-32h0m0 9h0m1-12h0m0 10h0m0 2h0m0 9h0m0 15h0m1-38h0m0 8h0m0 2h0m0 7h0m0 2h0m0 11h0m0 3h0m1-15h0m0 15h0m1-35h0m0 14h0m0 1h0m0 11h0m0 11h0m1-4h0m1-33h0m0 32h0m0 8h0m1-45h0m1 10h0m0 11h0m0 2h0m0 5h0m0 3h0m0 1h0m0 6h0m1-12h0m0 13h0m1-17h0m0 1h0m0 21h0m1-36h0m0 4h0m0 23h0m0 3h0m1-4h0m1-32h0m0 4h0m0 4h0m0 8h0m0 9h0m0 12h0m1-16h0m0 8h0m0 10h0m1-36h0m0 2h0m0 7h0m0 11h0m1 7h0m1-20h0m0 11h0m0 19h0m1-12h0m0 3h0m1-10h0m0 5h0m0 12h0m1-7h0m0 4h0m1-24h0m1 9h0m0 1h0m0 4h0m0 9h0m0 8h0m1-13h0m0 8h0m1-11h0m0 6h0m1 6h0m0 5h0m1-47h0m0 8h0m0 11h0m1-10h0m0 21h0m0 6h0m0 7h0m0 3h0m1-31h0m0 6h0m0 25h0m1-18h0m1-3h0m0 5h0m1-5h0m0 8h0m0 2h0m1-23h0m0 4h0m0 4h0m0 3h0m0 7h0m1 2h0m1-13h0m0 3h0m0 18h0m1-28h0m0 12h0m0 4h0m1-18h0m0 6h0m0 23h0m1-38h0m0 3h0m0 21h0m1 9h0m0 2h0m1 2h0m0 4h0" stroke="#66c2a5" stroke-width="2.8" stroke-linecap="square"/><path transform="scale(.5)" d="M344 803h0m0 3h0m4 6h0m2-6h0m0 8h0m2-12h0m0 2h0m2-8h0m1 20h0m1-15h0m0 7h0m0 3h0m1 3h0m2-14h0m0 6h0m0 3h0m2-12h0m0 5h0m0 11h0m4-9h0m0 5h0m1-12h0m1 5h0m1 1h0m1 9h0m1-2h0m2 6h0m4-21h0m0 20h0m1-16h0m0 5h0m0 2h0m0 7h0m3-16h0m0 15h0m1-39h0m0 9h0m0 17h0m0 6h0m0 4h0m0 1h0m0 5h0m1-23h0m0 4h0m0 7h0m0 10h0m1-23h0m0 9h0m0 14h0m1-38h0m0 3h0m0 10h0m0 6h0m0 7h0m0 2h0m0 2h0m1-27h0m0 18h0m0 5h0m1-26h0m0 13h0m0 17h0m0 3h0m0 3h0m1-38h0m0 1h0m1 14h0m0 9h0m0 2h0m0 5h0m0 2h0m0 6h0m1-35h0m0 31h0m0 2h0m0 5h0m1-18h0m0 6h0m0 5h0m0 3h0m1-18h0m0 8h0m0 14h0m1-9h0m1-36h0m0 11h0m0 7h0m0 1h0m0 10h0m0 3h0m0 6h0m1-11h0m0 14h0m1-37h0m0 29h0m1-32h0m0 25h0m0 5h0m0 7h0m0 2h0m1-9h0m0 3h0m0 11h0m1-47h0m0 15h0m0 7h0m0 5h0m0 11h0m0 4h0m0 3h0m1 1h0m1-35h0m0 6h0m0 2h0m0 16h0m0 7h0m1-13h0m0 2h0m1-20h0m0 20h0m0 4h0m0 11h0m1-21h0m0 2h0m0 2h0m0 5h0m0 4h0m1-19h0m0 19h0m0 2h0m0 5h0m1-33h0m0 3h0m0 1h0m0 8h0m0 5h0m0 5h0m0 8h0m0 6h0m1-28h0m0 9h0m0 4h0m1-25h0m0 3h0m0 11h0m0 4h0m0 12h0m0 4h0m0 2h0m0 3h0m1-16h0m0 0h0m1-20h0m0 3h0m0 5h0m0 7h0m0 3h0m0 5h0m0 3h0m0 3h0m0 5h0m1-10h0m0 7h0m1-23h0m0 12h0m0 2h0m0 9h0m1-21h0m0 3h0m0 4h0m0 17h0m1-23h0m0 14h0m0 10h0m1-35h0m0 2h0m0 6h0m0 10h0m0 2h0m0 9h0m0 3h0m0 4h0m1-37h0m0 14h0m1-3h0m0 12h0m0 3h0m0 4h0m0 6h0m1-29h0m0 21h0m0 4h0m1-24h0m0 4h0m0 9h0m0 5h0m0 4h0m0 2h0m0 6h0m1-15h0m0 5h0m0 6h0m1-32h0m0 12h0m0 21h0m0 2h0m1-38h0m0 6h0m0 14h0m0 3h0m0 2h0m0 1h0m1-22h0m0 10h0m0 17h0m1-33h0m0 9h0m0 2h0m0 15h0m0 3h0m0 6h0m0 3h0m0 3h0m2-33h0m0 12h0m0 9h0m0 4h0m0 2h0m1-9h0m0 5h0m0 6h0m0 3h0m1-38h0m0 1h0m0 15h0m0 6h0m0 3h0m0 9h0m0 4h0m1-19h0m1 5h0m0 12h0m0 2h0m1-39h0m0 19h0m0 4h0m0 4h0m0 3h0m0 2h0m0 2h0m2-29h0m0 17h0m0 6h0m0 9h0m1-24h0m0 12h0m0 4h0m0 3h0m0 7h0m1-12h0m0 3h0m0 10h0m1-36h0m0 14h0m0 5h0m0 8h0m0 3h0m1-27h0m0 4h0m0 10h0m0 7h0m0 7h0m0 4h0m1-37h0m0 28h0m0 7h0m1-12h0m0 9h0m0 5h0m1-37h0m0 2h0m0 19h0m0 2h0m0 3h0m0 2h0m1-18h0m0 2h0m0 3h0m1-14h0m0 1h0m0 23h0m0 4h0m0 4h0m0 4h0m1-16h0m0 13h0m1-36h0m0 9h0m1 15h0m0 7h0m0 3h0m0 5h0m1-20h0m0 4h0m0 3h0m1-21h0m0 6h0m0 20h0m0 2h0m0 1h0m0 5h0m1-12h0m1-25h0m0 3h0m0 11h0m0 2h0m0 5h0m0 2h0m0 2h0m0 7h0m0 3h0m1-8h0m0 11h0m1-38h0m0 10h0m0 25h0m1-33h0m0 3h0m0 20h0m0 3h0m0 2h0m0 7h0m2-23h0m0 2h0m0 5h0m0 7h0m0 7h0m1-3h0m0 5h0m1-19h0m0 7h0m0 3h0m0 2h0m0 3h0m0 1h0m0 4h0m1-26h0m1-10h0m0 3h0m0 13h0m0 6h0m0 9h0m1-23h0m0 16h0m0 12h0m1-12h0m0 4h0m0 2h0m1-21h0m0 3h0m0 14h0m0 9h0m1-4h0m0 1h0m1-34h0m0 16h0m0 12h0m0 3h0m0 6h0m1-11h0m1-23h0m0 6h0m0 14h0m0 3h0m0 7h0m0 2h0m0 1h0m1-40h0m0 31h0m0 3h0m1-20h0m0 23h0m0 1h0m1-14h0m0 4h0m0 4h0m2-30h0m0 6h0m0 7h0m0 3h0m0 5h0m0 6h0m0 3h0m1 3h0" stroke="#8da0cb" stroke-width="2.8" stroke-linecap="square"/><rect x="144.2" y="409.1" width="27.39" height="1.2" fill="#66c2a5"/><rect x="171.59" y="409.1" width="18.26" height="1.2" fill="#f98a62"/><rect x="189.85" y="409.1" width="45.65" height="1.2" fill="#8da0cb"/><rect x="144.2" y="413.3" width="18.26" height="1.2" fill="#66c2a5"/><rect x="162.46" y="413.3" width="9.13" height="1.2" fill="#f98a62"/><rect x="171.59" y="413.3" width="27.39" height="1.2" fill="#8da0cb"/><rect x="198.98" y="413.3" width="9.13" height="1.2" fill="#f98a62"/><rect x="208.11" y="413.3" width="27.39" height="1.2" fill="#8da0cb"/><rect x="144.2" y="425.8" width="27.39" height="1.2" fill="#66c2a5"/><rect x="171.59" y="425.8" width="9.13" height="1.2" fill="#f98a62"/><rect x="180.72" y="425.8" width="13.7" height="1.2" fill="#8da0cb"/><rect x="194.41" y="425.8" width="13.69" height="1.2" fill="#f98a62"/><rect x="208.11" y="425.8" width="27.39" height="1.2" fill="#8da0cb"/><path d="M144.2 402C148 400.92 159.42 396.67 167.02 395.5C174.63 394.33 182.24 395.25 189.85 395C197.46 394.75 205.07 395 212.68 394C220.28 393 231.7 389.83 235.5 389" fill="none" stroke="#1a1a1a" stroke-width="1.1"/><path d="M212.68 394.5C216.48 395.08 231.7 397.42 235.5 398" fill="none" stroke="#1a1a1a" stroke-width="1.1" stroke-dasharray="3 2"/><rect x="139.7" y="380.6" width="100.1" height="47.4" fill="none" stroke="#cfcfcf" stroke-width="0.9"/><path transform="scale(.5)" d="M69 942h0m2-2h0m0 8h0m1-36h0m0 3h0m0 8h0m0 15h0m1-14h0m0 21h0m3 0h0m5-9h0m2 2h0m0 9h0m2-23h0m1-5h0m0 26h0m2-28h0m1 7h0m3 2h0m0 22h0m3-20h0m4-2h0m5-14h0m0 21h0m0 7h0m1-20h0m3 13h0m0 2h0m0 8h0m2-13h0m0 18h0m1-13h0m1-28h0m7 6h0m0 34h0m5-35h0m0 3h0m2 14h0m3-23h0m0 14h0m2 26h0m3-22h0m2-7h0m0 24h0m0 0h0m0 5h0m3 1h0m2-14h0m1-4h0m0 4h0m1 10h0m2-21h0m1-10h0m1 15h0m2-12h0m0 31h0m2-41h0m0 22h0m1-26h0m0 12h0m0 11h0m0 7h0m0 5h0m0 3h0m0 3h0m0 4h0m1-43h0m1 2h0m0 2h0m0 8h0m0 8h0m0 5h0m0 3h0m0 2h0m0 7h0m1-20h0m0 17h0m0 6h0m1-33h0m0 19h0m0 2h0m1-17h0m0 10h0m0 3h0m0 6h0m0 7h0m0 3h0m1-44h0m0 14h0m1-10h0m0 7h0m0 9h0m0 17h0m0 1h0m0 7h0m2-36h0m0 6h0m0 7h0m0 8h0m0 7h0m0 9h0m1-42h0m0 10h0m0 4h0m0 9h0m0 12h0m0 4h0m1-38h0m0 3h0m0 14h0m0 5h0m0 3h0m0 17h0m1-36h0m0 3h0m0 2h0m0 2h0m0 13h0m0 3h0m0 7h0m0 2h0m0 2h0m1-36h0m0 27h0m0 3h0m0 5h0m0 2h0m1-36h0m0 10h0m0 14h0m0 14h0m1-41h0m0 29h0m1-21h0m0 10h0m0 22h0m1-28h0m0 4h0m0 5h0m0 2h0m0 16h0m1-49h0m0 14h0m0 21h0m0 5h0m1-42h0m0 21h0m0 2h0m0 6h0m1-18h0m0 18h0m0 10h0m0 4h0m1-24h0m1-25h0m1 6h0m0 9h0m0 5h0m0 11h0m0 27h0m1-37h0m0 8h0m0 10h0m1-30h0m0 7h0m0 11h0m0 4h0m0 3h0m0 22h0m0 3h0m2-55h0m0 9h0m0 23h0m0 2h0m0 11h0m1-18h0m0 23h0m1-48h0m0 7h0m0 2h0m1-14h0m0 28h0m0 16h0m1-23h0m0 28h0m1-37h0m0 6h0m0 22h0m1-32h0m0 26h0m0 4h0m1-22h0m0 4h0m0 3h0m0 3h0m0 9h0m1-16h0m0 20h0m0 9h0m0 2h0m1-32h0m1 12h0m0 6h0m0 17h0m1-49h0m1-7h0m0 15h0m0 11h0m0 2h0m0 8h0m0 14h0m0 1h0m1-11h0m1-27h0m0 12h0m0 3h0m0 7h0m0 6h0m0 8h0m0 12h0m1-35h0m0 16h0m1 10h0m1-42h0m0 3h0m0 2h0m0 9h0m0 3h0m0 14h0m2-33h0m0 2h0m0 9h0m0 5h0m0 18h0m0 10h0m0 2h0m0 7h0m2-49h0m0 15h0m0 4h0m0 5h0m0 23h0m1-51h0m0 11h0m0 41h0m1-49h0m0 11h0m0 6h0m0 6h0m0 22h0m1-30h0m0 4h0m1-1h0m0 11h0m0 2h0m0 17h0m1-58h0m0 2h0m0 3h0m0 4h0m0 25h0m0 4h0m0 11h0m1-16h0m1-21h0m0 23h0m0 18h0m2-46h0m0 10h0m0 2h0m0 3h0m1-9h0m0 8h0m0 4h0m0 7h0m0 3h0m0 23h0m1-25h0m1-26h0m0 3h0m0 7h0m0 1h0m0 3h0m0 5h0m0 2h0m0 13h0m0 16h0m0 3h0m1-9h0m1-41h0m0 4h0m0 3h0m0 7h0m0 2h0m0 4h0m0 9h0m0 4h0m0 4h0m0 11h0m1-31h0m0 5h0m1-23h0m0 7h0m0 17h0m1-31h0m0 9h0m0 9h0m1-15h0m0 5h0m0 6h0m0 3h0m1 1h0m0 2h0m0 29h0m0 5h0m2-47h0m0 3h0m0 6h0m0 6h0m0 13h0m1-10h0m1 1h0m0 4h0m0 12h0m0 5h0m0 7h0m1-18h0m0 2h0m0 21h0m1-52h0m1-5h0m0 24h0m0 22h0m0 7h0m0 3h0m1-34h0m0 1h0m0 17h0m1-28h0m0 23h0m1-26h0m0 42h0m1-43h0m0 11h0m0 2h0m0 2h0m0 26h0m1-32h0m0 14h0m0 6h0m1-35h0m0 22h0m0 11h0m1-16h0m0 12h0m0 1h0m0 10h0m0 9h0m1-15h0m0 4h0m1-37h0m0 12h0m0 1h0m0 10h0m0 7h0m1-28h0m0 11h0m0 14h0m0 3h0m1-25h0m0 7h0m0 4h0m0 37h0m1-44h0m0 9h0m1-8h0m0 31h0m1-18h0m0 7h0m0 13h0m1-39h0m0 42h0m1-37h0m0 22h0m1-4h0m1-27h0m0 4h0m0 49h0m2-44h0m0 32h0m0 6h0m1-45h0m0 18h0m1-12h0m0 8h0m0 4h0m0 3h0m0 13h0m0 7h0m0 10h0m1-41h0m0 18h0m0 16h0m1-47h0m0 28h0m0 5h0m1-29h0m0 1h0m0 3h0m0 19h0m0 11h0m0 2h0m0 6h0m0 2h0m1-30h0" stroke="#f98a62" stroke-width="2.8" stroke-linecap="square"/><path transform="scale(.5)" d="M68 935h0m1 5h0m1-3h0m0 7h0m1-9h0m0 10h0m1-3h0m1-11h0m0 6h0m1-20h0m0 12h0m0 6h0m0 8h0m0 4h0m1-26h0m0 19h0m0 2h0m1-27h0m0 3h0m0 2h0m0 8h0m0 2h0m0 3h0m0 14h0m1-21h0m0 9h0m1-25h0m0 3h0m0 8h0m0 3h0m0 5h0m0 1h0m0 5h0m0 7h0m0 5h0m1-2h0m1-19h0m0 13h0m1-31h0m0 13h0m0 22h0m0 2h0m0 2h0m1-14h0m0 2h0m1-9h0m0 3h0m0 2h0m0 12h0m0 2h0m2-28h0m0 15h0m0 6h0m0 3h0m1-5h0m1 1h0m1-24h0m0 1h0m0 5h0m0 6h0m0 1h0m0 9h0m2-19h0m0 5h0m0 5h0m0 5h0m0 2h0m0 3h0m0 4h0m0 2h0m0 4h0m1-6h0m1-29h0m0 9h0m0 1h0m0 3h0m0 11h0m0 3h0m0 4h0m0 3h0m2-29h0m0 21h0m0 3h0m1-25h0m0 27h0m0 2h0m0 2h0m1-5h0m0 4h0m1-35h0m0 7h0m0 2h0m0 4h0m0 3h0m0 2h0m0 3h0m0 4h0m0 3h0m0 4h0m0 4h0m2-40h0m0 8h0m0 7h0m0 8h0m0 7h0m0 11h0m1-27h0m0 18h0m0 4h0m1-29h0m0 11h0m0 9h0m0 5h0m0 1h0m0 4h0m1-28h0m0 30h0m1-38h0m0 38h0m1-35h0m0 5h0m0 2h0m0 21h0m0 5h0m0 4h0m1-23h0m0 16h0m1-32h0m0 3h0m0 2h0m0 15h0m0 3h0m0 2h0m0 11h0m0 2h0m1-9h0m0 1h0m1-31h0m0 20h0m0 13h0m0 7h0m1-26h0m0 8h0m0 16h0m2-23h0m0 6h0m0 10h0m0 7h0m1-33h0m0 12h0m0 7h0m1-11h0m0 8h0m0 5h0m0 6h0m0 7h0m1-9h0m1-15h0m0 5h0m0 4h0m0 2h0m0 12h0m0 2h0m1-19h0m0 10h0m0 2h0m0 3h0m1-35h0m0 3h0m0 16h0m0 1h0m0 9h0m0 3h0m0 4h0m0 3h0m1-24h0m0 8h0m0 11h0m1-15h0m0 11h0m0 2h0m1-26h0m0 22h0m0 7h0m0 2h0m1-20h0m0 14h0m1-22h0m0 3h0m0 17h0m0 5h0m0 2h0m0 4h0m1-35h0m1 20h0m0 2h0m0 5h0m0 4h0m0 2h0m1-28h0m0 19h0m0 5h0m1-32h0m0 16h0m0 19h0m1-26h0m0 12h0m0 7h0m0 2h0m0 2h0m0 5h0m1-2h0m0 2h0m1-37h0m0 7h0m0 20h0m0 3h0m1 4h0m1-31h0m0 8h0m0 21h0m1-24h0m0 6h0m0 16h0m1-28h0m0 10h0m0 6h0m0 10h0m0 2h0m1-20h0m0 6h0m0 5h0m0 4h0m0 8h0m0 1h0m0 3h0m1-39h0m0 16h0m0 2h0m1-21h0m0 14h0m0 9h0m0 2h0m0 8h0m1-4h0m0 11h0m1-33h0m0 26h0m0 2h0m0 4h0m1-23h0m0 3h0m0 5h0m0 14h0m1-32h0m0 1h0m0 12h0m0 5h0m0 9h0m0 2h0m0 7h0m1-27h0m0 7h0m0 16h0m1-34h0m1 8h0m0 3h0m0 15h0m0 2h0m0 3h0m0 5h0m0 2h0m1-20h0m1 2h0m0 5h0m0 6h0m0 3h0m0 1h0m0 3h0m1-9h0m1-24h0m0 26h0m0 5h0m1-27h0m0 6h0m0 14h0m0 5h0m0 4h0m1-37h0m0 18h0m0 12h0m0 2h0m1-7h0m0 2h0m1-29h0m0 20h0m1-9h0m0 19h0m2-35h0m0 32h0m1 9h0m1-7h0m1-30h0m0 12h0m0 3h0m1 5h0m1-10h0m0 14h0m0 2h0m0 9h0m2-40h0m0 29h0m0 3h0m2-28h0m0 18h0m1 12h0m1-10h0m0 2h0m3-18h0m0 3h0m0 6h0m0 21h0m1-36h0m0 34h0m0 4h0" stroke="#66c2a5" stroke-width="2.8" stroke-linecap="square"/><path transform="scale(.5)" d="M151 915h0m0 30h0m1-45h0m0 11h0m0 10h0m1-4h0m0 4h0m1-9h0m0 36h0m1-37h0m1 1h0m0 4h0m0 20h0m0 11h0m2-39h0m0 7h0m0 13h0m1-22h0m1 16h0m1-17h0m0 5h0m0 9h0m0 5h0m1 16h0m1-2h0m1-19h0m1 21h0m1-35h0m0 13h0m0 4h0m0 2h0m1 7h0m1-24h0m0 24h0m1 3h0m1-33h0m0 2h0m0 6h0m0 4h0m0 5h0m0 9h0m0 2h0m0 4h0m0 6h0m0 3h0m0 5h0m1-58h0m0 3h0m0 14h0m0 15h0m0 17h0m0 7h0m1-47h0m0 24h0m0 3h0m0 14h0m0 6h0m1-42h0m0 4h0m0 4h0m0 4h0m0 2h0m0 3h0m0 9h0m0 2h0m0 5h0m0 7h0m0 3h0m1-41h0m0 9h0m0 15h0m0 7h0m0 8h0m1-54h0m0 1h0m0 6h0m0 4h0m0 11h0m0 9h0m0 3h0m0 14h0m0 2h0m0 2h0m1-26h0m0 14h0m1-22h0m0 2h0m0 18h0m0 2h0m0 3h0m0 5h0m1-38h0m0 6h0m0 7h0m0 11h0m0 12h0m1-19h0m0 11h0m0 7h0m0 5h0m1-52h0m0 6h0m0 3h0m0 1h0m0 5h0m0 2h0m0 7h0m0 3h0m0 7h0m0 8h0m0 2h0m0 12h0m0 2h0m1-41h0m0 14h0m0 4h0m0 13h0m0 2h0m0 2h0m1-53h0m0 5h0m0 4h0m0 2h0m0 9h0m0 5h0m0 2h0m0 12h0m0 16h0m0 2h0m0 3h0m1-26h0m0 7h0m1-30h0m0 5h0m0 8h0m0 2h0m0 3h0m0 6h0m0 11h0m0 3h0m1-30h0m0 9h0m0 16h0m0 9h0m0 5h0m1-49h0m0 3h0m0 1h0m0 3h0m0 14h0m0 5h0m0 10h0m0 3h0m0 10h0m0 2h0m1-27h0m0 6h0m0 7h0m0 9h0m1-44h0m0 3h0m0 23h0m0 4h0m0 2h0m0 6h0m1-39h0m0 9h0m0 5h0m0 23h0m0 7h0m0 3h0m0 2h0m2-55h0m0 8h0m0 7h0m0 2h0m0 2h0m0 6h0m0 4h0m0 9h0m0 4h0m0 7h0m0 2h0m0 2h0m0 2h0m1-23h0m0 8h0m1-35h0m0 4h0m0 5h0m0 14h0m0 22h0m0 1h0m1-39h0m0 5h0m0 8h0m0 8h0m0 7h0m0 7h0m0 6h0m1-56h0m0 4h0m0 2h0m0 9h0m0 12h0m0 1h0m0 12h0m0 3h0m0 3h0m1-49h0m0 20h0m0 15h0m0 1h0m0 3h0m0 12h0m0 4h0m0 5h0m0 2h0m1-57h0m0 31h0m0 9h0m0 2h0m1-34h0m0 9h0m0 6h0m0 2h0m0 2h0m0 2h0m0 24h0m0 1h0m1-43h0m0 24h0m0 12h0m1-36h0m0 10h0m0 4h0m0 3h0m0 6h0m0 4h0m0 3h0m0 2h0m0 3h0m1-11h0m0 16h0m0 1h0m1-48h0m0 5h0m0 6h0m0 19h0m0 2h0m0 14h0m0 7h0m1-58h0m0 3h0m0 8h0m0 3h0m0 7h0m0 12h0m0 6h0m0 3h0m0 2h0m0 2h0m0 3h0m1-37h0m0 2h0m0 34h0m1-43h0m0 5h0m0 10h0m0 4h0m0 4h0m0 13h0m0 3h0m0 6h0m0 7h0m1-31h0m0 31h0m1-52h0m0 7h0m0 3h0m0 6h0m0 2h0m0 5h0m0 9h0m0 3h0m0 9h0m0 5h0m1-52h0m0 6h0m0 11h0m0 12h0m0 3h0m0 7h0m0 14h0m1-46h0m0 20h0m0 5h0m0 2h0m0 13h0m0 5h0m0 4h0m1-33h0m0 14h0m0 2h0m0 3h0m0 2h0m1-36h0m0 31h0m1-29h0m0 17h0m0 3h0m0 12h0m0 2h0m0 3h0m0 2h0m0 3h0m1-48h0m0 10h0m0 19h0m1-2h0m0 7h0m0 6h0m0 6h0m0 6h0m1-40h0m1-14h0m0 8h0m0 4h0m0 16h0m0 4h0m0 6h0m0 3h0m0 2h0m0 2h0m0 1h0m0 7h0m1-36h0m0 3h0m0 10h0m0 19h0m0 2h0m1-45h0m0 20h0m0 6h0m0 3h0m0 2h0m1-37h0m0 22h0m0 2h0m0 15h0m0 4h0m0 4h0m0 5h0m0 3h0m1-40h0m0 10h0m0 4h0m0 6h0m0 2h0m1-27h0m0 9h0m0 14h0m0 7h0m0 2h0m0 3h0m0 1h0m0 3h0m0 2h0m0 2h0m1-44h0m1-8h0m0 8h0m0 1h0m0 2h0m0 5h0m0 3h0m0 9h0m0 6h0m0 9h0m0 3h0m1-44h0m0 12h0m0 25h0m0 11h0m1-45h0m0 4h0m0 2h0m0 11h0m0 8h0m0 4h0m0 2h0m0 3h0m0 2h0m0 7h0m1-34h0m0 1h0m0 4h0m0 7h0m0 2h0m0 4h0m0 14h0m1-49h0m0 17h0m0 9h0m0 5h0m0 6h0m1-34h0m0 2h0m0 2h0m0 2h0m0 6h0m0 27h0m0 3h0m0 2h0m0 2h0m0 5h0m2-42h0m0 14h0m0 2h0m0 5h0m0 3h0m0 4h0m0 7h0m0 4h0m1-45h0m0 8h0m0 28h0m0 2h0m0 10h0m1-49h0m0 3h0m0 1h0m0 2h0m0 6h0m0 21h0m0 6h0m0 4h0m1-34h0m0 8h0m0 4h0m0 14h0m0 6h0m0 8h0m0 3h0m1-52h0m0 16h0m0 8h0m0 2h0m0 16h0m0 2h0m0 5h0m1-55h0m0 9h0m0 2h0m0 2h0m0 7h0m0 4h0m0 15h0m0 14h0m0 4h0m1-54h0m0 52h0m1-26h0m0 8h0m0 1h0m0 3h0m0 3h0m0 2h0m0 4h0m0 2h0m1-41h0m0 14h0m1-21h0m0 5h0m0 8h0m0 6h0m0 14h0m0 3h0m0 3h0m0 8h0m0 4h0m1-48h0m0 3h0m0 6h0m0 4h0m0 18h0m0 11h0m0 8h0m1-53h0m0 2h0m0 5h0m0 5h0m0 4h0m0 3h0m0 4h0m0 2h0m0 3h0m0 7h0m0 13h0m0 4h0m1-54h0m0 15h0m0 19h0m0 4h0m0 3h0m0 3h0m0 1h0m0 7h0m1-36h0m0 9h0m0 20h0m1-42h0m0 8h0m0 2h0m0 6h0m0 2h0m0 1h0m0 6h0m0 7h0m0 4h0m0 2h0m0 3h0m0 8h0m1-21h0m0 17h0m1-47h0m0 1h0m0 5h0m0 6h0m0 16h0m0 6h0m0 1h0m0 10h0m0 5h0m1-35h0m0 11h0m0 4h0m0 8h0m0 16h0m1-54h0m0 10h0m0 5h0m0 14h0m1-26h0m0 3h0m0 13h0m0 7h0m0 7h0m0 7h0m0 2h0m0 10h0m1-30h0m0 22h0m1-45h0m0 14h0m0 2h0m0 4h0m0 16h0m0 7h0m0 10h0m0 2h0m1-30h0" stroke="#8da0cb" stroke-width="2.8" stroke-linecap="square"/><rect x="34" y="475.9" width="41.18" height="1.2" fill="#66c2a5"/><rect x="75.18" y="475.9" width="9.15" height="1.2" fill="#f98a62"/><rect x="84.33" y="475.9" width="41.18" height="1.2" fill="#8da0cb"/><rect x="34" y="487.8" width="9.15" height="1.2" fill="#66c2a5"/><rect x="43.15" y="487.8" width="36.6" height="1.2" fill="#f98a62"/><rect x="79.75" y="487.8" width="18.3" height="1.2" fill="#8da0cb"/><rect x="98.05" y="487.8" width="27.45" height="1.2" fill="#f98a62"/><path d="M34 488.5C38.58 487.42 53.06 484.58 61.45 482C69.84 479.42 77.46 475.42 84.33 473C91.19 470.58 97.29 468.33 102.63 467.5C107.96 466.67 112.54 467.42 116.35 468C120.16 468.58 123.98 470.5 125.5 471" fill="none" stroke="#1a1a1a" stroke-width="1.1"/><path d="M75.18 475C78.99 473 91.95 465.5 98.05 463C104.15 460.5 107.2 460.33 111.78 460C116.35 459.67 123.21 460.83 125.5 461" fill="none" stroke="#1a1a1a" stroke-width="1.1" stroke-dasharray="3 2"/><rect x="29.5" y="443.2" width="100.3" height="47.1" fill="none" stroke="#cfcfcf" stroke-width="0.9"/><path transform="scale(.5)" d="M295 927h0m3-4h0m0 2h0m3-20h0m0 18h0m2-9h0m0 11h0m1-22h0m0 4h0m0 9h0m0 7h0m2-2h0m2-6h0m0 6h0m3 1h0m3 5h0m6-2h0m0 2h0m2-4h0m2 3h0m0 1h0m7-11h0m5 11h0m2-16h0m2 9h0m4-6h0m0 13h0m3-22h0m0 5h0m0 4h0m0 7h0m0 6h0m3-15h0m0 5h0m1 6h0m1-11h0m0 7h0m0 2h0m0 4h0m1-9h0m0 8h0m1-20h0m0 9h0m0 7h0m0 5h0m1-7h0m1-3h0m0 5h0m0 5h0m2-14h0m0 4h0m0 3h0m0 2h0m0 4h0m1 4h0m4-25h0m0 3h0m0 10h0m0 7h0m1-10h0m0 6h0m2-5h0m0 5h0m1-7h0m1 6h0m0 5h0m0 2h0m1-12h0m1 13h0m1-17h0m1 6h0m0 5h0m4 8h0m1-17h0m1 11h0m2-8h0m0 2h0m1-9h0m0 4h0m0 4h0m0 5h0m1 2h0m0 3h0m0 2h0m1-1h0m1-7h0m0 5h0m2-13h0m0 2h0m1 13h0m0 1h0m1-14h0m1 8h0m0 2h0m0 3h0m1-9h0m0 8h0m0 2h0m1-18h0m0 5h0m2 4h0m2-9h0m0 3h0m1 2h0m0 6h0m1-2h0m1-6h0m0 4h0m0 10h0m1-8h0m1-12h0m0 3h0m0 2h0m0 3h0m0 3h0m1 11h0m2-7h0m0 7h0m4-12h0m0 4h0m0 7h0m2-18h0m0 2h0m0 5h0m0 10h0m1-5h0m1-2h0m0 1h0m1-7h0m0 4h0m1 7h0m1-18h0m0 12h0m1 8h0m1-16h0m0 2h0m0 2h0m0 9h0m2-9h0m0 2h0m0 6h0m1-18h0m0 7h0m2 1h0m0 4h0m0 3h0m0 8h0m1-3h0m1-10h0m0 5h0m0 2h0m1-15h0m1 3h0m1-1h0m0 6h0m1-5h0m0 5h0m0 6h0m0 8h0m1-17h0m1 14h0m0 2h0m1-19h0m2 0h0m2-4h0m0 20h0m1-12h0m0 5h0m0 6h0m1-17h0m0 6h0m1-3h0m0 10h0m0 2h0m0 1h0m0 5h0m1 1h0m1-27h0m0 5h0m0 14h0m0 3h0m1-14h0m1 2h0m0 8h0m0 5h0m1 1h0m0 3h0m1-17h0m0 7h0m1-13h0m0 4h0m0 5h0m0 10h0m1-20h0m1-1h0m0 11h0m0 7h0m0 4h0m1-15h0m0 9h0m1-6h0m0 5h0m0 2h0m0 8h0m1-23h0m0 4h0m0 6h0m0 10h0m1 1h0m0 2h0m1-25h0m0 1h0m0 2h0m0 3h0m0 2h0m0 5h0m1 0h0m0 5h0m0 4h0m1-25h0m0 2h0m0 3h0m0 1h0m0 8h0m1 10h0m0 4h0m1-22h0m0 7h0m0 9h0m0 6h0m1-16h0m0 3h0m0 10h0m1-22h0m0 2h0m0 18h0m1-22h0m0 6h0m0 3h0m0 3h0m0 2h0m0 13h0m1-24h0m0 3h0m0 13h0m0 7h0m1-9h0m1 5h0m1-25h0m0 4h0m0 7h0m0 4h0m0 5h0m0 5h0m0 1h0m0 4h0m1-7h0m1-30h0m0 10h0m0 10h0m0 10h0m0 2h0m1-16h0m0 8h0m0 13h0m1-18h0m0 12h0m1-18h0m0 2h0m0 6h0m0 2h0m0 2h0m0 2h0m0 2h0m0 5h0m0 2h0m1-16h0m0 2h0m0 5h0m1-18h0m0 16h0m0 6h0m1-15h0" stroke="#f98a62" stroke-width="2.8" stroke-linecap="square"/><path transform="scale(.5)" d="M289 912h0m0 1h0m0 6h0m0 6h0m1-4h0m0 2h0m0 4h0m1-10h0m0 8h0m1-7h0m0 5h0m0 5h0m2-5h0m0 2h0m1-11h0m0 4h0m1-1h0m0 6h0m1-7h0m0 4h0m1-4h0m1-12h0m1 17h0m1-13h0m0 3h0m0 7h0m1 8h0m1-16h0m0 1h0m0 8h0m0 9h0m3-11h0m0 2h0m0 6h0m0 2h0m1-18h0m1 3h0m0 11h0m1-5h0m1-6h0m0 1h0m0 5h0m0 3h0m0 4h0m1 2h0m1-11h0m0 9h0m1-11h0m0 4h0m0 9h0m1-7h0m0 5h0m1-19h0m0 5h0m0 2h0m0 5h0m1-14h0m1 13h0m0 6h0m0 2h0m0 3h0m1-27h0m0 10h0m0 7h0m1-9h0m0 14h0m1-2h0m1-10h0m1 4h0m0 3h0m0 3h0m0 6h0m1-11h0m1-12h0m0 10h0m1-2h0m1 14h0m0 2h0m2-7h0m1-8h0m0 3h0m0 2h0m0 10h0m1-14h0m1 4h0m0 9h0m1-11h0m1-4h0m0 2h0m0 4h0m0 4h0m0 6h0m1-8h0m1-2h0m0 5h0m0 2h0m1-17h0m0 3h0m0 5h0m0 4h0m1 2h0m1-13h0m0 9h0m1-11h0m0 9h0m1-7h0m0 5h0m0 10h0m1-19h0m0 7h0m0 6h0m1-7h0m1-1h0m0 4h0m0 2h0m0 6h0m0 6h0m1-8h0m0 2h0m1 4h0m1-10h0m2 2h0m5 9h0m3-19h0m1 6h0m0 5h0m0 3h0m1-13h0m2 4h0m0 12h0m1-5h0m2-16h0m2 3h0m1 4h0m0 5h0m0 4h0m0 7h0m1 1h0m1-7h0m1 7h0m3 0h0m3-9h0m0 2h0m0 4h0m1-16h0m1 5h0m2-7h0m0 4h0m0 9h0m1-1h0" stroke="#66c2a5" stroke-width="2.8" stroke-linecap="square"/><path transform="scale(.5)" d="M345 915h0m2-4h0m0 12h0m0 2h0m2-12h0m1 6h0m0 2h0m0 4h0m1-17h0m1 5h0m0 15h0m1-19h0m3 2h0m1 16h0m2-4h0m2-15h0m0 20h0m1-9h0m1-8h0m0 9h0m0 6h0m0 2h0m1-19h0m2 13h0m0 3h0m1-15h0m3 6h0m0 2h0m1 5h0m3-10h0m0 10h0m1-12h0m0 4h0m0 13h0m1-11h0m1 1h0m1 2h0m1 3h0m1 5h0m1-14h0m2 0h0m1 1h0m0 6h0m0 7h0m2-12h0m0 7h0m1-4h0m0 2h0m1-5h0m0 12h0m1-9h0m1-8h0m1 8h0m1-8h0m1-1h0m0 11h0m0 4h0m0 2h0m1-11h0m0 6h0m1 1h0m0 3h0m1-9h0m0 10h0m1 1h0m1-22h0m0 8h0m0 10h0m2-3h0m0 1h0m0 3h0m2-10h0m0 10h0m1-2h0m1 3h0m0 2h0m1-12h0m0 4h0m0 3h0m1-9h0m1 4h0m0 5h0m0 2h0m2-19h0m0 7h0m0 5h0m0 9h0m1-4h0m1 1h0m0 3h0m1-17h0m1 4h0m0 13h0m1-15h0m0 4h0m0 4h0m2-5h0m1 5h0m1-2h0m0 9h0m1-7h0m0 6h0m1-5h0m0 2h0m1 2h0m2-10h0m0 13h0m1-5h0m1-12h0m0 4h0m0 5h0m1-3h0m0 9h0m1-25h0m0 5h0m0 10h0m0 2h0m0 4h0m0 3h0m1-21h0m1 9h0m1 9h0m1-1h0m1-10h0m0 7h0m0 5h0m0 3h0m0 1h0m1-20h0m0 7h0m1-12h0m0 5h0m0 2h0m1 9h0m2-4h0m0 2h0m0 9h0m2-11h0m0 2h0m0 9h0m1-7h0m1-11h0m0 14h0m1-8h0m0 3h0m1 7h0m4 4h0m1-21h0m0 16h0m1-21h0m1 18h0m0 5h0m1-4h0m2-11h0m0 3h0m2-2h0m0 8h0m2-6h0m1 8h0m0 5h0m2-13h0m0 2h0m0 2h0m2-21h0m0 9h0m0 8h0m2-12h0m0 5h0m0 9h0m1 4h0m0 7h0m2-23h0m1-1h0m0 24h0m1-20h0m0 5h0m0 11h0" stroke="#8da0cb" stroke-width="2.8" stroke-linecap="square"/><rect x="144.2" y="466.9" width="27.39" height="1.2" fill="#66c2a5"/><rect x="171.59" y="466.9" width="18.26" height="1.2" fill="#f98a62"/><rect x="189.85" y="466.9" width="45.65" height="1.2" fill="#8da0cb"/><rect x="144.2" y="470.8" width="27.39" height="1.2" fill="#66c2a5"/><rect x="171.59" y="470.8" width="18.26" height="1.2" fill="#f98a62"/><rect x="189.85" y="470.8" width="45.65" height="1.2" fill="#8da0cb"/><rect x="144.2" y="487.8" width="13.7" height="1.2" fill="#66c2a5"/><rect x="157.89" y="487.8" width="13.7" height="1.2" fill="#f98a62"/><rect x="171.59" y="487.8" width="22.83" height="1.2" fill="#8da0cb"/><rect x="194.41" y="487.8" width="13.69" height="1.2" fill="#f98a62"/><rect x="208.11" y="487.8" width="27.39" height="1.2" fill="#8da0cb"/><path d="M144.2 487.5C146.48 485.75 153.33 479.67 157.89 477C162.46 474.33 165.5 472.83 171.59 471.5C177.68 470.17 187.57 469.58 194.41 469C201.26 468.42 207.65 469.17 212.68 468C217.7 466.83 220.74 464.33 224.54 462C228.35 459.67 233.67 455.33 235.5 454" fill="none" stroke="#1a1a1a" stroke-width="1.1"/><path d="M144.2 486C147.24 483.83 154.09 475.92 162.46 473C170.83 470.08 186.5 469.33 194.41 468.5C202.33 467.67 205.37 467.25 209.94 468C214.5 468.75 217.54 470.83 221.81 473C226.07 475.17 233.22 479.67 235.5 481" fill="none" stroke="#1a1a1a" stroke-width="1.1" stroke-dasharray="3 2"/><rect x="139.7" y="443.2" width="100.1" height="47.1" fill="none" stroke="#cfcfcf" stroke-width="0.9"/><text x="133.6" y="502.3" font-size="9.3" fill="#333" text-anchor="middle">Pseudotime (stretched)</text><text x="-0.8" y="530.2" font-size="13" fill="#111" font-weight="bold" stroke="#111" stroke-width="0.45">f</text><text x="127.5" y="530.4" font-size="9.3" fill="#333" text-anchor="middle">Inferred TF activity</text><rect x="36.4" y="534" width="181.8" height="64.5" fill="#fff"/><line x1="42.7" y1="534" x2="42.7" y2="598.5" stroke="#ececec" stroke-width="0.6"/><line x1="53.97" y1="534" x2="53.97" y2="598.5" stroke="#ececec" stroke-width="0.6"/><line x1="65.24" y1="534" x2="65.24" y2="598.5" stroke="#ececec" stroke-width="0.6"/><line x1="76.51" y1="534" x2="76.51" y2="598.5" stroke="#ececec" stroke-width="0.6"/><line x1="87.78" y1="534" x2="87.78" y2="598.5" stroke="#ececec" stroke-width="0.6"/><line x1="99.05" y1="534" x2="99.05" y2="598.5" stroke="#ececec" stroke-width="0.6"/><line x1="110.32" y1="534" x2="110.32" y2="598.5" stroke="#ececec" stroke-width="0.6"/><line x1="121.59" y1="534" x2="121.59" y2="598.5" stroke="#ececec" stroke-width="0.6"/><line x1="132.86" y1="534" x2="132.86" y2="598.5" stroke="#ececec" stroke-width="0.6"/><line x1="144.13" y1="534" x2="144.13" y2="598.5" stroke="#ececec" stroke-width="0.6"/><line x1="155.4" y1="534" x2="155.4" y2="598.5" stroke="#ececec" stroke-width="0.6"/><line x1="166.67" y1="534" x2="166.67" y2="598.5" stroke="#ececec" stroke-width="0.6"/><line x1="177.94" y1="534" x2="177.94" y2="598.5" stroke="#ececec" stroke-width="0.6"/><line x1="189.21" y1="534" x2="189.21" y2="598.5" stroke="#ececec" stroke-width="0.6"/><line x1="200.48" y1="534" x2="200.48" y2="598.5" stroke="#ececec" stroke-width="0.6"/><line x1="211.75" y1="534" x2="211.75" y2="598.5" stroke="#ececec" stroke-width="0.6"/><line x1="36.4" y1="546.9" x2="218.2" y2="546.9" stroke="#ececec" stroke-width="0.6"/><line x1="36.4" y1="567.2" x2="218.2" y2="567.2" stroke="#ececec" stroke-width="0.6"/><line x1="36.4" y1="587.1" x2="218.2" y2="587.1" stroke="#ececec" stroke-width="0.6"/><circle cx="42.7" cy="546.9" r="5.7" fill="#6b2a73"/><circle cx="53.97" cy="546.9" r="5.7" fill="#6b2a73"/><circle cx="65.24" cy="546.9" r="5.7" fill="#6b2a73"/><circle cx="76.51" cy="546.9" r="5.7" fill="#6b2a73"/><circle cx="87.78" cy="546.9" r="5.7" fill="#6b2a73"/><circle cx="99.05" cy="546.9" r="5.7" fill="#6b2a73"/><circle cx="110.32" cy="546.9" r="0.8" fill="#d5e2f0"/><circle cx="121.59" cy="546.9" r="1" fill="#d5e2f0"/><circle cx="132.86" cy="546.9" r="2.2" fill="#a9c4df"/><circle cx="144.13" cy="546.9" r="2.8" fill="#93b3d6"/><circle cx="155.4" cy="546.9" r="0.9" fill="#d5e2f0"/><circle cx="177.94" cy="546.9" r="1.6" fill="#c3d5e9"/><circle cx="189.21" cy="546.9" r="0.7" fill="#d5e2f0"/><circle cx="42.7" cy="567.2" r="2" fill="#93b3d6"/><circle cx="53.97" cy="567.2" r="1.8" fill="#a9c4df"/><circle cx="65.24" cy="567.2" r="2" fill="#93b3d6"/><circle cx="76.51" cy="567.2" r="2.7" fill="#93b3d6"/><circle cx="87.78" cy="567.2" r="2.5" fill="#93b3d6"/><circle cx="99.05" cy="567.2" r="1.5" fill="#a9c4df"/><circle cx="110.32" cy="567.2" r="5.7" fill="#6b2a73"/><circle cx="121.59" cy="567.2" r="5.7" fill="#6b2a73"/><circle cx="132.86" cy="567.2" r="5.7" fill="#6b2a73"/><circle cx="144.13" cy="567.2" r="5.5" fill="#6b2a73"/><circle cx="155.4" cy="567.2" r="5.1" fill="#6b2a73"/><circle cx="166.67" cy="567.2" r="2" fill="#93b3d6"/><circle cx="177.94" cy="567.2" r="2.2" fill="#a9c4df"/><circle cx="189.21" cy="567.2" r="1.8" fill="#a9c4df"/><circle cx="200.48" cy="567.2" r="2.3" fill="#93b3d6"/><circle cx="211.75" cy="567.2" r="1.8" fill="#93b3d6"/><circle cx="42.7" cy="587.1" r="0.6" fill="#d5e2f0"/><circle cx="53.97" cy="587.1" r="0.6" fill="#d5e2f0"/><circle cx="65.24" cy="587.1" r="0.6" fill="#d5e2f0"/><circle cx="76.51" cy="587.1" r="0.6" fill="#d5e2f0"/><circle cx="87.78" cy="587.1" r="0.6" fill="#d5e2f0"/><circle cx="99.05" cy="587.1" r="1.8" fill="#a9c4df"/><circle cx="110.32" cy="587.1" r="2.5" fill="#93b3d6"/><circle cx="121.59" cy="587.1" r="3" fill="#93b3d6"/><circle cx="132.86" cy="587.1" r="1.8" fill="#a9c4df"/><circle cx="144.13" cy="587.1" r="1.5" fill="#c3d5e9"/><circle cx="155.4" cy="587.1" r="2" fill="#93b3d6"/><circle cx="166.67" cy="587.1" r="5.7" fill="#6b2a73"/><circle cx="177.94" cy="587.1" r="5.9" fill="#6b2a73"/><circle cx="189.21" cy="587.1" r="5.7" fill="#6b2a73"/><circle cx="200.48" cy="587.1" r="5.7" fill="#6b2a73"/><circle cx="211.75" cy="587.1" r="5.6" fill="#6b2a73"/><rect x="36.4" y="534" width="181.8" height="64.5" fill="none" stroke="#a8a8a8" stroke-width="1.1"/><line x1="31.4" y1="546.9" x2="36.4" y2="546.9" stroke="#666" stroke-width="0.8"/><line x1="31.4" y1="567.2" x2="36.4" y2="567.2" stroke="#666" stroke-width="0.8"/><line x1="31.4" y1="587.1" x2="36.4" y2="587.1" stroke="#666" stroke-width="0.8"/><line x1="42.7" y1="598.5" x2="42.7" y2="602.9" stroke="#666" stroke-width="0.8"/><line x1="53.97" y1="598.5" x2="53.97" y2="602.9" stroke="#666" stroke-width="0.8"/><line x1="65.24" y1="598.5" x2="65.24" y2="602.9" stroke="#666" stroke-width="0.8"/><line x1="76.51" y1="598.5" x2="76.51" y2="602.9" stroke="#666" stroke-width="0.8"/><line x1="87.78" y1="598.5" x2="87.78" y2="602.9" stroke="#666" stroke-width="0.8"/><line x1="99.05" y1="598.5" x2="99.05" y2="602.9" stroke="#666" stroke-width="0.8"/><line x1="110.32" y1="598.5" x2="110.32" y2="602.9" stroke="#666" stroke-width="0.8"/><line x1="121.59" y1="598.5" x2="121.59" y2="602.9" stroke="#666" stroke-width="0.8"/><line x1="132.86" y1="598.5" x2="132.86" y2="602.9" stroke="#666" stroke-width="0.8"/><line x1="144.13" y1="598.5" x2="144.13" y2="602.9" stroke="#666" stroke-width="0.8"/><line x1="155.4" y1="598.5" x2="155.4" y2="602.9" stroke="#666" stroke-width="0.8"/><line x1="166.67" y1="598.5" x2="166.67" y2="602.9" stroke="#666" stroke-width="0.8"/><line x1="177.94" y1="598.5" x2="177.94" y2="602.9" stroke="#666" stroke-width="0.8"/><line x1="189.21" y1="598.5" x2="189.21" y2="602.9" stroke="#666" stroke-width="0.8"/><line x1="200.48" y1="598.5" x2="200.48" y2="602.9" stroke="#666" stroke-width="0.8"/><line x1="211.75" y1="598.5" x2="211.75" y2="602.9" stroke="#666" stroke-width="0.8"/><text x="27.4" y="550.1" font-size="8.8" fill="#5dbf9b" text-anchor="end">ASC</text><text x="27.4" y="570.4" font-size="8.8" fill="#f3876a" text-anchor="end">adCAF</text><text x="27.4" y="590.3" font-size="8.8" fill="#8b9ccf" text-anchor="end">pAC</text><text x="48.8" y="610.6" font-size="9" fill="#333" text-anchor="end" transform="rotate(-45 48.8 610.6)">KLF3</text><text x="60.07" y="610.6" font-size="9" fill="#333" text-anchor="end" transform="rotate(-45 60.07 610.6)">KLF13</text><text x="71.34" y="610.6" font-size="9" fill="#333" text-anchor="end" transform="rotate(-45 71.34 610.6)">SREBF2</text><text x="82.61" y="610.6" font-size="9" fill="#333" text-anchor="end" transform="rotate(-45 82.61 610.6)">KLF4</text><text x="93.88" y="610.6" font-size="9" fill="#333" text-anchor="end" transform="rotate(-45 93.88 610.6)">ESRRA</text><text x="105.15" y="610.6" font-size="9" fill="#333" text-anchor="end" transform="rotate(-45 105.15 610.6)">KLF16</text><text x="116.42" y="610.6" font-size="9" fill="#333" text-anchor="end" transform="rotate(-45 116.42 610.6)">STAT2</text><text x="127.69" y="610.6" font-size="9" fill="#333" text-anchor="end" transform="rotate(-45 127.69 610.6)">TWIST1</text><text x="138.96" y="610.6" font-size="9" fill="#333" text-anchor="end" transform="rotate(-45 138.96 610.6)">CREB3L1</text><text x="150.23" y="610.6" font-size="9" fill="#333" text-anchor="end" transform="rotate(-45 150.23 610.6)">MXD4</text><text x="161.5" y="610.6" font-size="9" fill="#333" text-anchor="end" transform="rotate(-45 161.5 610.6)">SNAI1</text><text x="172.77" y="610.6" font-size="9" fill="#333" text-anchor="end" transform="rotate(-45 172.77 610.6)">HLF</text><text x="184.04" y="610.6" font-size="9" fill="#333" text-anchor="end" transform="rotate(-45 184.04 610.6)">CEBPD</text><text x="195.31" y="610.6" font-size="9" fill="#333" text-anchor="end" transform="rotate(-45 195.31 610.6)">FOXP2</text><text x="206.58" y="610.6" font-size="9" fill="#333" text-anchor="end" transform="rotate(-45 206.58 610.6)">TCF4</text><text x="217.85" y="610.6" font-size="9" fill="#333" text-anchor="end" transform="rotate(-45 217.85 610.6)">MEOX2</text><rect x="225" y="526.3" width="13" height="61.5" fill="url(#gF)"/><line x1="225" y1="531.6" x2="227" y2="531.6" stroke="#fff" stroke-width="0.6" stroke-opacity="0.8"/><line x1="236" y1="531.6" x2="238" y2="531.6" stroke="#fff" stroke-width="0.6" stroke-opacity="0.8"/><text x="240.5" y="534.8" font-size="8.6" fill="#333">1.0</text><line x1="225" y1="546.4" x2="227" y2="546.4" stroke="#fff" stroke-width="0.6" stroke-opacity="0.8"/><line x1="236" y1="546.4" x2="238" y2="546.4" stroke="#fff" stroke-width="0.6" stroke-opacity="0.8"/><text x="240.5" y="549.6" font-size="8.6" fill="#333">0.5</text><line x1="225" y1="561.2" x2="227" y2="561.2" stroke="#fff" stroke-width="0.6" stroke-opacity="0.8"/><line x1="236" y1="561.2" x2="238" y2="561.2" stroke="#fff" stroke-width="0.6" stroke-opacity="0.8"/><text x="240.5" y="564.4" font-size="8.6" fill="#333">0</text><line x1="225" y1="576.4" x2="227" y2="576.4" stroke="#fff" stroke-width="0.6" stroke-opacity="0.8"/><line x1="236" y1="576.4" x2="238" y2="576.4" stroke="#fff" stroke-width="0.6" stroke-opacity="0.8"/><text x="240.5" y="579.6" font-size="8.6" fill="#333">−0.5</text><circle cx="230.7" cy="598.4" r="1.3" fill="#111"/><text x="238.7" y="601.6" font-size="8.6" fill="#333">25</text><circle cx="230.7" cy="611" r="2.8" fill="#111"/><text x="238.7" y="614.2" font-size="8.6" fill="#333">50</text><circle cx="230.7" cy="622.7" r="4.1" fill="#111"/><text x="238.7" y="625.9" font-size="8.6" fill="#333">75</text><text x="270.6" y="289.4" font-size="13" fill="#111" font-weight="bold" stroke="#111" stroke-width="0.45">g</text><text x="270.7" y="304.9" font-size="9.3" fill="#333">Inferred TF activity</text><text x="358.5" y="304.9" font-size="9.3" fill="#333">Expression of TF</text><line x1="270.9" y1="310.2" x2="345.6" y2="310.2" stroke="#555" stroke-width="0.8"/><line x1="354.8" y1="310.2" x2="430" y2="310.2" stroke="#555" stroke-width="0.8"/><text x="308.65" y="321.1" font-size="9.3" fill="#333" text-anchor="middle" textLength="19.56" lengthAdjust="spacingAndGlyphs">KLF3</text><text x="391.9" y="321.1" font-size="9.3" fill="#333" text-anchor="middle" textLength="19.56" lengthAdjust="spacingAndGlyphs">KLF3</text><text x="308.65" y="373.2" font-size="9.3" fill="#333" text-anchor="middle" textLength="24.11" lengthAdjust="spacingAndGlyphs">KLF13</text><text x="391.9" y="373.2" font-size="9.3" fill="#333" text-anchor="middle" textLength="24.11" lengthAdjust="spacingAndGlyphs">KLF13</text><text x="308.65" y="424.6" font-size="9.3" fill="#333" text-anchor="middle" textLength="23.65" lengthAdjust="spacingAndGlyphs">SNAI1</text><text x="391.9" y="424.6" font-size="9.3" fill="#333" text-anchor="middle" textLength="23.65" lengthAdjust="spacingAndGlyphs">SNAI1</text><text x="308.65" y="476.3" font-size="9.3" fill="#333" text-anchor="middle" textLength="24.25" lengthAdjust="spacingAndGlyphs">STAT2</text><text x="391.9" y="476.3" font-size="9.3" fill="#333" text-anchor="middle" textLength="24.25" lengthAdjust="spacingAndGlyphs">STAT2</text><text x="308.65" y="528.4" font-size="9.3" fill="#333" text-anchor="middle" textLength="26.83" lengthAdjust="spacingAndGlyphs">FOXP2</text><text x="391.9" y="528.4" font-size="9.3" fill="#333" text-anchor="middle" textLength="26.83" lengthAdjust="spacingAndGlyphs">FOXP2</text><text x="308.65" y="579.9" font-size="9.3" fill="#333" text-anchor="middle" textLength="28.2" lengthAdjust="spacingAndGlyphs">CEBPD</text><text x="391.9" y="579.9" font-size="9.3" fill="#333" text-anchor="middle" textLength="28.2" lengthAdjust="spacingAndGlyphs">CEBPD</text><rect x="271.2" y="324.1" width="74.9" height="32.2" fill="none" stroke="#dcdcdc" stroke-width="0.8"/><path d="M274.72 326.03C275.26 327.32 277.4 332.47 277.94 333.76C278.48 335.05 275.57 332.69 277.94 333.76C280.31 334.83 287.05 338.54 292.17 340.2C297.29 341.86 303.53 343.15 308.65 343.74C313.77 344.33 317.64 344.12 322.88 343.74C328.12 343.37 337.24 341.86 340.11 341.49" fill="none" stroke="#4cb58e" stroke-width="1.5" stroke-linejoin="round"/><path d="M277.94 339.56C281.06 340.68 290.3 344.23 296.67 346.32C303.03 348.41 311.27 350.72 316.14 352.11C321.01 353.51 322.88 354.48 325.88 354.69C328.87 354.9 331.99 353.62 334.12 353.4C336.24 353.19 337.24 354.1 338.61 353.4C339.98 352.7 341.73 349.91 342.36 349.22" fill="none" stroke="#6b82c8" stroke-width="1.5" stroke-linejoin="round"/><path d="M277.94 333.12C280.31 333.92 287.43 336.28 292.17 337.95C296.92 339.61 302.41 341.49 306.4 343.1C310.4 344.71 313.89 346.26 316.14 347.61C318.39 348.95 318.51 350.45 319.88 351.15C321.26 351.85 323.01 351.42 324.38 351.79C325.75 352.17 326.75 353.03 328.12 353.4C329.5 353.78 330.62 354.05 332.62 354.05C334.62 354.05 338.86 353.51 340.11 353.4" fill="none" stroke="#f07b55" stroke-width="1.5" stroke-linejoin="round"/><rect x="354.3" y="324.1" width="75.2" height="32.2" fill="none" stroke="#dcdcdc" stroke-width="0.8"/><path d="M358.06 326.03C358.62 328.98 360.88 340.79 361.44 343.74C362.01 346.69 357.12 343.42 361.44 343.74C365.77 344.06 377.05 344.92 387.39 345.67C397.73 346.43 417.47 347.82 423.48 348.25" fill="none" stroke="#4cb58e" stroke-width="1.5" stroke-linejoin="round"/><path d="M361.44 349.86C365.77 350.07 379.81 350.45 387.39 351.15C394.97 351.85 401.3 353.46 406.94 354.05C412.58 354.64 418.22 355.6 421.23 354.69C424.24 353.78 424.36 349.59 424.99 348.57" fill="none" stroke="#6b82c8" stroke-width="1.5" stroke-linejoin="round"/><path d="M361.44 343.74C364.64 344.06 373.91 344.44 380.62 345.67C387.33 346.91 394.91 349.75 401.68 351.15C408.44 352.54 417.72 353.56 421.23 354.05C424.74 354.53 422.48 354.05 422.73 354.05" fill="none" stroke="#f07b55" stroke-width="1.5" stroke-linejoin="round"/><rect x="271.2" y="376.2" width="74.9" height="32.2" fill="none" stroke="#dcdcdc" stroke-width="0.8"/><path d="M274.94 377.49C275.44 379.21 277.44 386.07 277.94 387.79C278.44 389.51 275.57 387.04 277.94 387.79C280.31 388.54 286.68 390.74 292.17 392.3C297.66 393.86 302.91 396.81 310.9 397.13C318.89 397.45 335.24 394.71 340.11 394.23" fill="none" stroke="#4cb58e" stroke-width="1.5" stroke-linejoin="round"/><path d="M277.94 392.3C281.06 393.53 290.3 397.45 296.67 399.71C303.03 401.96 310.52 404.91 316.14 405.82C321.76 406.74 326.63 405.29 330.37 405.18C334.12 405.07 336.61 406.09 338.61 405.18C340.61 404.27 341.73 400.62 342.36 399.71" fill="none" stroke="#6b82c8" stroke-width="1.5" stroke-linejoin="round"/><path d="M277.94 384.89C281.06 385.91 291.17 388.97 296.67 391.01C302.16 393.05 306.53 395.04 310.9 397.13C315.27 399.22 318.01 402.23 322.88 403.57C327.75 404.91 337.24 404.91 340.11 405.18" fill="none" stroke="#f07b55" stroke-width="1.5" stroke-linejoin="round"/><rect x="354.3" y="376.2" width="75.2" height="32.2" fill="none" stroke="#dcdcdc" stroke-width="0.8"/><path d="M358.06 377.49C358.62 380.98 360.88 394.93 361.44 398.42C362.01 401.91 355.87 397.77 361.44 398.42C367.02 399.06 384.57 402.5 394.91 402.28C405.25 402.07 418.72 397.99 423.48 397.13" fill="none" stroke="#4cb58e" stroke-width="1.5" stroke-linejoin="round"/><path d="M361.44 404.54C367.77 404.75 389.46 405.72 399.42 405.82C409.38 405.93 416.97 407 421.23 405.18C425.49 403.36 424.36 396.59 424.99 394.88" fill="none" stroke="#6b82c8" stroke-width="1.5" stroke-linejoin="round"/><path d="M361.44 398.42C364.64 398.85 373.04 399.54 380.62 400.99C388.2 402.44 400.17 406.9 406.94 407.11C413.71 407.33 418.85 403.09 421.23 402.28" fill="none" stroke="#f07b55" stroke-width="1.5" stroke-linejoin="round"/><rect x="271.2" y="427.6" width="74.9" height="32.2" fill="none" stroke="#dcdcdc" stroke-width="0.8"/><path d="M274.2 457.55C274.94 456.1 276.69 450.62 278.69 448.85C280.69 447.08 281.81 448.05 286.18 446.92C290.55 445.79 299.66 442.68 304.91 442.09C310.15 441.5 311.77 442.04 317.64 443.38C323.51 444.72 336.36 449.01 340.11 450.14" fill="none" stroke="#4cb58e" stroke-width="1.5" stroke-linejoin="round"/><path d="M277.19 444.34C280.94 444.4 292.05 445.15 299.66 444.67C307.28 444.18 316.39 441.66 322.88 441.45C329.37 441.23 335.36 441.82 338.61 443.38C341.86 444.93 341.73 449.55 342.36 450.78" fill="none" stroke="#6b82c8" stroke-width="1.5" stroke-linejoin="round"/><path d="M277.19 443.38C279.56 442.73 285.93 441.12 291.42 439.51C296.92 437.9 306.4 434.63 310.15 433.72C313.89 432.81 312.4 433.5 313.89 434.04C315.39 434.58 317.89 437.58 319.14 436.94C320.38 436.29 320.51 430.87 321.38 430.18C322.26 429.48 323.26 431.41 324.38 432.75C325.5 434.09 325.75 436.67 328.12 438.23C330.5 439.78 336.86 441.45 338.61 442.09" fill="none" stroke="#f07b55" stroke-width="1.5" stroke-linejoin="round"/><rect x="354.3" y="427.6" width="75.2" height="32.2" fill="none" stroke="#dcdcdc" stroke-width="0.8"/><path d="M358.81 456.26C360.82 456.47 366.33 457.92 370.84 457.55C375.36 457.17 379.87 456.37 385.88 454C391.9 451.64 400.8 446.44 406.94 443.38C413.08 440.32 420.1 436.94 422.73 435.65" fill="none" stroke="#4cb58e" stroke-width="1.5" stroke-linejoin="round"/><path d="M361.07 446.92C366.96 447.08 386.13 448.15 396.41 447.89C406.69 447.62 418.35 445.74 422.73 445.31" fill="none" stroke="#6b82c8" stroke-width="1.5" stroke-linejoin="round"/><path d="M361.07 455.94C363.45 456.04 370.72 457.33 375.36 456.58C379.99 455.83 384.51 454.7 388.89 451.43C393.28 448.15 398.42 440.59 401.68 436.94C404.93 433.29 406.19 430.44 408.44 429.53C410.7 428.62 412.83 428.73 415.21 431.46C417.59 434.2 421.48 443.54 422.73 445.95" fill="none" stroke="#f07b55" stroke-width="1.5" stroke-linejoin="round"/><rect x="271.2" y="479.3" width="74.9" height="32.2" fill="none" stroke="#dcdcdc" stroke-width="0.8"/><path d="M274.2 509.25C275.07 507.9 273.95 502.97 279.44 501.2C284.93 499.43 297.29 498.3 307.15 498.62C317.01 498.94 333.37 502.38 338.61 503.13" fill="none" stroke="#4cb58e" stroke-width="1.5" stroke-linejoin="round"/><path d="M278.69 508.28C282.19 507.53 292.3 506.13 299.66 503.77C307.03 501.41 317.64 495.13 322.88 494.11C328.12 493.09 327.87 496.85 331.12 497.65C334.37 498.46 340.48 498.73 342.36 498.94" fill="none" stroke="#6b82c8" stroke-width="1.5" stroke-linejoin="round"/><path d="M277.19 496.69C282.68 494.92 303.16 488.26 310.15 486.06C317.14 483.86 317.26 484.45 319.14 483.49C321.01 482.52 320.01 480.59 321.38 480.27C322.76 479.94 325.38 480.7 327.38 481.55C329.37 482.41 331.24 483.92 333.37 485.42C335.49 486.92 338.98 489.71 340.11 490.57" fill="none" stroke="#f07b55" stroke-width="1.5" stroke-linejoin="round"/><rect x="354.3" y="479.3" width="75.2" height="32.2" fill="none" stroke="#dcdcdc" stroke-width="0.8"/><path d="M358.06 504.09C360.19 502.86 366.21 498.35 370.84 496.69C375.48 495.02 379.87 493.95 385.88 494.11C391.9 494.27 400.8 495.61 406.94 497.65C413.08 499.69 420.1 504.9 422.73 506.35" fill="none" stroke="#4cb58e" stroke-width="1.5" stroke-linejoin="round"/><path d="M361.07 509.57C363.95 508.07 372.47 503.02 378.36 500.55C384.25 498.08 391.9 495.72 396.41 494.76C400.92 493.79 402.8 493.9 405.44 494.76C408.07 495.61 410.2 498.19 412.2 499.91C414.21 501.63 415.71 504.04 417.47 505.06C419.22 506.08 421.35 506.35 422.73 506.03C424.11 505.7 425.24 503.61 425.74 503.13" fill="none" stroke="#6b82c8" stroke-width="1.5" stroke-linejoin="round"/><path d="M360.32 499.26C363.32 497.39 372.35 490.89 378.36 487.99C384.38 485.1 389.02 483.11 396.41 481.88C403.81 480.64 418.35 480.8 422.73 480.59" fill="none" stroke="#f07b55" stroke-width="1.5" stroke-linejoin="round"/><rect x="271.2" y="531.4" width="74.9" height="32.2" fill="none" stroke="#dcdcdc" stroke-width="0.8"/><path d="M274.2 561.35C275.82 560.97 279.69 559.09 283.93 559.09C288.18 559.09 294.04 561.51 299.66 561.35C305.28 561.18 310.9 559.74 317.64 558.13C324.38 556.52 336.36 552.76 340.11 551.69" fill="none" stroke="#4cb58e" stroke-width="1.5" stroke-linejoin="round"/><path d="M278.69 549.75C281.31 550.51 289.18 553.3 294.42 554.26C299.66 555.23 305.78 556.03 310.15 555.55C314.52 555.07 317.64 552.92 320.63 551.36C323.63 549.81 325.5 547.39 328.12 546.21C330.75 545.03 334.37 545.19 336.36 544.28C338.36 543.37 339.11 542.67 340.11 540.74C341.11 538.81 341.98 534.03 342.36 532.69" fill="none" stroke="#6b82c8" stroke-width="1.5" stroke-linejoin="round"/><path d="M277.19 558.77C280.06 559.04 288.93 560.59 294.42 560.38C299.91 560.17 306.53 558.72 310.15 557.48C313.77 556.25 314.27 553.51 316.14 552.97C318.01 552.44 319.39 555.17 321.38 554.26C323.38 553.35 325 548.63 328.12 547.5C331.24 546.37 338.11 547.5 340.11 547.5" fill="none" stroke="#f07b55" stroke-width="1.5" stroke-linejoin="round"/><rect x="354.3" y="531.4" width="75.2" height="32.2" fill="none" stroke="#dcdcdc" stroke-width="0.8"/><path d="M358.06 560.06C363.57 560.27 380.37 560.97 391.15 561.35C401.93 561.72 417.47 562.15 422.73 562.31" fill="none" stroke="#4cb58e" stroke-width="1.5" stroke-linejoin="round"/><path d="M361.07 556.52C363.95 557.05 372.47 559.2 378.36 559.74C384.25 560.27 390.77 560.86 396.41 559.74C402.05 558.61 408.44 553.3 412.2 552.97C415.96 552.65 417.22 557.37 418.97 557.8C420.73 558.23 421.6 559.74 422.73 555.55C423.86 551.36 425.24 536.5 425.74 532.69" fill="none" stroke="#6b82c8" stroke-width="1.5" stroke-linejoin="round"/><path d="M361.07 556.19C365.2 556.78 378.24 559.63 385.88 559.74C393.53 559.84 400.8 558.66 406.94 556.84C413.08 555.01 420.1 550.13 422.73 548.79" fill="none" stroke="#f07b55" stroke-width="1.5" stroke-linejoin="round"/><rect x="271.2" y="582.9" width="74.9" height="32.2" fill="none" stroke="#dcdcdc" stroke-width="0.8"/><path d="M274.2 606.41C274.94 607.21 275.32 610.75 278.69 611.24C282.06 611.72 288.8 610.22 294.42 609.3C300.04 608.39 306.78 607.37 312.39 605.76C318.01 604.15 323.51 601.47 328.12 599.64C332.74 597.82 338.11 595.62 340.11 594.81" fill="none" stroke="#4cb58e" stroke-width="1.5" stroke-linejoin="round"/><path d="M278.69 599C282.19 599.48 293.55 601.2 299.66 601.9C305.78 602.6 310.65 603.56 315.39 603.19C320.13 602.81 324.38 600.72 328.12 599.64C331.87 598.57 335.86 597.98 337.86 596.75C339.86 595.51 339.36 594.33 340.11 592.24C340.86 590.14 341.98 585.53 342.36 584.19" fill="none" stroke="#6b82c8" stroke-width="1.5" stroke-linejoin="round"/><path d="M277.19 612.52C280.06 612.74 289.43 614.03 294.42 613.81C299.41 613.6 303.66 612.68 307.15 611.24C310.65 609.79 313.39 606.57 315.39 605.12C317.39 603.67 318.14 602.17 319.14 602.54C320.13 602.92 320.51 607 321.38 607.37C322.26 607.75 322.88 606.08 324.38 604.8C325.88 603.51 327.75 601.36 330.37 599.64C332.99 597.93 338.49 595.35 340.11 594.49" fill="none" stroke="#f07b55" stroke-width="1.5" stroke-linejoin="round"/><rect x="354.3" y="582.9" width="75.2" height="32.2" fill="none" stroke="#dcdcdc" stroke-width="0.8"/><path d="M358.06 599.97C359.19 600.93 361.95 605.12 364.83 605.76C367.71 606.41 370.97 603.72 375.36 603.83C379.74 603.94 385.88 606.62 391.15 606.41C396.41 606.19 401.68 604.26 406.94 602.54C412.2 600.82 420.1 597.18 422.73 596.1" fill="none" stroke="#4cb58e" stroke-width="1.5" stroke-linejoin="round"/><path d="M361.07 584.19C363.95 585.69 372.85 590.57 378.36 593.2C383.88 595.83 389.77 598.73 394.16 599.97C398.54 601.2 401.68 601.95 404.68 600.61C407.69 599.27 410.07 593.85 412.2 591.92C414.33 589.98 415.84 589.72 417.47 589.02C419.1 588.32 420.6 587.41 421.98 587.73C423.36 588.05 425.11 590.41 425.74 590.95" fill="none" stroke="#6b82c8" stroke-width="1.5" stroke-linejoin="round"/><path d="M359.56 609.3C362.2 610 370.09 614.08 375.36 613.49C380.62 612.9 386.76 607.69 391.15 605.76C395.53 603.83 399.42 601.52 401.68 601.9C403.93 602.27 402.05 608.12 404.68 608.02C407.32 607.91 414.46 603.51 417.47 601.25C420.48 599 421.85 595.62 422.73 594.49" fill="none" stroke="#f07b55" stroke-width="1.5" stroke-linejoin="round"/><text x="350.1" y="624.5" font-size="9.3" fill="#333" text-anchor="middle">Pseudotime</text><text x="455.4" y="289.2" font-size="13" fill="#111" font-weight="bold" stroke="#111" stroke-width="0.45">h</text><g clip-path="url(#cpH1)"><rect x="467" y="293" width="104.5" height="65.2" fill="#4d86d0" filter="url(#texA)"/></g><g clip-path="url(#cpH2)"><g transform="rotate(22 628 325)"><rect x="560" y="260" width="140" height="130" fill="#4c96d8" filter="url(#texB)"/></g></g><rect x="467" y="293" width="104.5" height="65.2" fill="none" stroke="#2a3a55" stroke-width="0.7"/><rect x="575.9" y="293" width="104.4" height="65.5" fill="none" stroke="#2a3a55" stroke-width="0.7"/><text x="474.1" y="303.4" font-size="9.3" fill="#1a1a1a">CM (–)</text><text x="582.1" y="303.4" font-size="9.3" fill="#1a1a1a">CM (+)</text><text x="542.9" y="349.5" font-size="8.6" fill="#111" textLength="25.2" lengthAdjust="spacingAndGlyphs">100 μm</text><text x="651.8" y="349.5" font-size="8.6" fill="#111" textLength="24.8" lengthAdjust="spacingAndGlyphs">100 μm</text><rect x="546.4" y="352.5" width="19.3" height="2.4" fill="#111"/><rect x="655.3" y="352.5" width="19.6" height="2.4" fill="#111"/><text x="455.6" y="373.1" font-size="13" fill="#111" font-weight="bold" stroke="#111" stroke-width="0.45">i</text><line x1="496.4" y1="465.1" x2="594.7" y2="465.1" stroke="#555" stroke-width="0.8"/><line x1="496.4" y1="379.3" x2="496.4" y2="465.1" stroke="#555" stroke-width="0.8"/><line x1="493.6" y1="465.1" x2="496.4" y2="465.1" stroke="#555" stroke-width="0.8"/><text x="492.2" y="468.1" font-size="8.6" fill="#444" text-anchor="end">0</text><line x1="493.6" y1="447.94" x2="496.4" y2="447.94" stroke="#555" stroke-width="0.8"/><text x="492.2" y="450.94" font-size="8.6" fill="#444" text-anchor="end">10</text><line x1="493.6" y1="430.78" x2="496.4" y2="430.78" stroke="#555" stroke-width="0.8"/><text x="492.2" y="433.78" font-size="8.6" fill="#444" text-anchor="end">20</text><line x1="493.6" y1="413.62" x2="496.4" y2="413.62" stroke="#555" stroke-width="0.8"/><text x="492.2" y="416.62" font-size="8.6" fill="#444" text-anchor="end">30</text><line x1="493.6" y1="396.46" x2="496.4" y2="396.46" stroke="#555" stroke-width="0.8"/><text x="492.2" y="399.46" font-size="8.6" fill="#444" text-anchor="end">40</text><line x1="493.6" y1="379.3" x2="496.4" y2="379.3" stroke="#555" stroke-width="0.8"/><text x="492.2" y="382.3" font-size="8.6" fill="#444" text-anchor="end">50</text><line x1="511.3" y1="465.1" x2="511.3" y2="467.9" stroke="#555" stroke-width="0.8"/><rect x="501.7" y="463.38" width="7" height="1.72" fill="#bcd6f2" stroke="#4a8fd6" stroke-width="0.6"/><rect x="514" y="439.36" width="7.6" height="25.74" fill="#fbd3d3" stroke="#f06c6c" stroke-width="0.7"/><line x1="517.8" y1="438.33" x2="517.8" y2="440.39" stroke="#f06c6c" stroke-width="0.8"/><line x1="516.1" y1="438.33" x2="519.5" y2="438.33" stroke="#f06c6c" stroke-width="0.8"/><circle cx="503.7" cy="463.21" r="1.9" fill="#4a8fd6"/><circle cx="505.2" cy="463.38" r="1.9" fill="#4a8fd6"/><circle cx="506.7" cy="463.56" r="1.9" fill="#4a8fd6"/><circle cx="515.8" cy="438.33" r="1.9" fill="#f06c6c"/><circle cx="517.8" cy="439.36" r="1.9" fill="#f06c6c"/><circle cx="519.8" cy="440.39" r="1.9" fill="#f06c6c"/><line x1="545.5" y1="465.1" x2="545.5" y2="467.9" stroke="#555" stroke-width="0.8"/><rect x="535.9" y="463.38" width="7" height="1.72" fill="#bcd6f2" stroke="#4a8fd6" stroke-width="0.6"/><rect x="548.2" y="420.48" width="7.6" height="44.62" fill="#fbd3d3" stroke="#f06c6c" stroke-width="0.7"/><line x1="552" y1="415.34" x2="552" y2="425.63" stroke="#f06c6c" stroke-width="0.8"/><line x1="550.3" y1="415.34" x2="553.7" y2="415.34" stroke="#f06c6c" stroke-width="0.8"/><circle cx="537.9" cy="463.21" r="1.9" fill="#4a8fd6"/><circle cx="539.4" cy="463.38" r="1.9" fill="#4a8fd6"/><circle cx="540.9" cy="463.56" r="1.9" fill="#4a8fd6"/><circle cx="549.8" cy="420.14" r="1.9" fill="#f06c6c"/><circle cx="552.4" cy="414.48" r="1.9" fill="#f06c6c"/><circle cx="554.2" cy="424.6" r="1.9" fill="#f06c6c"/><line x1="579.7" y1="465.1" x2="579.7" y2="467.9" stroke="#555" stroke-width="0.8"/><rect x="570.1" y="463.38" width="7" height="1.72" fill="#bcd6f2" stroke="#4a8fd6" stroke-width="0.6"/><rect x="582.4" y="461.67" width="7.6" height="3.43" fill="#fbd3d3" stroke="#f06c6c" stroke-width="0.7"/><line x1="586.2" y1="461.15" x2="586.2" y2="462.18" stroke="#f06c6c" stroke-width="0.8"/><line x1="584.5" y1="461.15" x2="587.9" y2="461.15" stroke="#f06c6c" stroke-width="0.8"/><circle cx="572.1" cy="463.21" r="1.9" fill="#4a8fd6"/><circle cx="573.6" cy="463.38" r="1.9" fill="#4a8fd6"/><circle cx="575.1" cy="463.56" r="1.9" fill="#4a8fd6"/><circle cx="584.2" cy="461.15" r="1.9" fill="#f06c6c"/><circle cx="586.2" cy="461.67" r="1.9" fill="#f06c6c"/><circle cx="588.2" cy="462.18" r="1.9" fill="#f06c6c"/><text x="516.5" y="476.6" font-size="8.8" fill="#333" text-anchor="end" transform="rotate(-45 516.5 476.6)">Mdk</text><text x="550.7" y="476.6" font-size="8.8" fill="#333" text-anchor="end" transform="rotate(-45 550.7 476.6)">Fap</text><text x="584.9" y="476.6" font-size="8.8" fill="#333" text-anchor="end" transform="rotate(-45 584.9 476.6)">Pdgfrb</text><text x="471" y="422.2" font-size="8.6" fill="#333" text-anchor="middle" transform="rotate(-90 471 422.2)">Relative mRNA expression</text><text x="502.2" y="423.1" font-size="7.6" fill="#222"><tspan font-style="italic">P</tspan> &lt; 0.0001</text><line x1="503.5" y1="426.6" x2="517" y2="426.6" stroke="#555" stroke-width="0.8"/><text x="533.2" y="399.8" font-size="7.6" fill="#222"><tspan font-style="italic">P</tspan> = 0.0001</text><line x1="537.5" y1="402.9" x2="551.5" y2="402.9" stroke="#555" stroke-width="0.8"/><text x="565.1" y="446.6" font-size="7.6" fill="#222"><tspan font-style="italic">P</tspan> = 0.0078</text><line x1="571.9" y1="450.3" x2="585.5" y2="450.3" stroke="#555" stroke-width="0.8"/><circle cx="591.9" cy="376.8" r="2" fill="#f06c6c"/><text x="598.9" y="380.1" font-size="9.3" fill="#333" textLength="26.2" lengthAdjust="spacingAndGlyphs">CM (+)</text><circle cx="591.9" cy="390.1" r="2" fill="#4a8fd6"/><text x="598.9" y="393.4" font-size="9.3" fill="#333" textLength="26.2" lengthAdjust="spacingAndGlyphs">CM (–)</text><line x1="495.5" y1="601.3" x2="628.4" y2="601.3" stroke="#555" stroke-width="0.8"/><line x1="495.5" y1="514" x2="495.5" y2="601.3" stroke="#555" stroke-width="0.8"/><line x1="492.7" y1="601.3" x2="495.5" y2="601.3" stroke="#555" stroke-width="0.8"/><text x="491.3" y="604.3" font-size="8.6" fill="#444" text-anchor="end">0</text><line x1="492.7" y1="572.2" x2="495.5" y2="572.2" stroke="#555" stroke-width="0.8"/><text x="491.3" y="575.2" font-size="8.6" fill="#444" text-anchor="end">5</text><line x1="492.7" y1="543.1" x2="495.5" y2="543.1" stroke="#555" stroke-width="0.8"/><text x="491.3" y="546.1" font-size="8.6" fill="#444" text-anchor="end">10</text><line x1="492.7" y1="514" x2="495.5" y2="514" stroke="#555" stroke-width="0.8"/><text x="491.3" y="517" font-size="8.6" fill="#444" text-anchor="end">15</text><line x1="507.5" y1="601.3" x2="507.5" y2="604.1" stroke="#555" stroke-width="0.8"/><rect x="497.9" y="595.48" width="7" height="5.82" fill="#bcd6f2" stroke="#4a8fd6" stroke-width="0.6"/><rect x="510.2" y="567.54" width="7.6" height="33.76" fill="#fbd3d3" stroke="#f06c6c" stroke-width="0.7"/><line x1="514" y1="562.89" x2="514" y2="572.2" stroke="#f06c6c" stroke-width="0.8"/><line x1="512.3" y1="562.89" x2="515.7" y2="562.89" stroke="#f06c6c" stroke-width="0.8"/><circle cx="499.9" cy="594.9" r="1.9" fill="#4a8fd6"/><circle cx="501.4" cy="595.48" r="1.9" fill="#4a8fd6"/><circle cx="502.9" cy="595.77" r="1.9" fill="#4a8fd6"/><circle cx="514" cy="559.98" r="1.9" fill="#f06c6c"/><circle cx="512.5" cy="567.54" r="1.9" fill="#f06c6c"/><circle cx="515.5" cy="568.71" r="1.9" fill="#f06c6c"/><line x1="534.6" y1="601.3" x2="534.6" y2="604.1" stroke="#555" stroke-width="0.8"/><rect x="525" y="595.48" width="7" height="5.82" fill="#bcd6f2" stroke="#4a8fd6" stroke-width="0.6"/><rect x="537.3" y="567.54" width="7.6" height="33.76" fill="#fbd3d3" stroke="#f06c6c" stroke-width="0.7"/><line x1="541.1" y1="564.63" x2="541.1" y2="570.45" stroke="#f06c6c" stroke-width="0.8"/><line x1="539.4" y1="564.63" x2="542.8" y2="564.63" stroke="#f06c6c" stroke-width="0.8"/><circle cx="527" cy="594.9" r="1.9" fill="#4a8fd6"/><circle cx="528.5" cy="595.48" r="1.9" fill="#4a8fd6"/><circle cx="530" cy="595.77" r="1.9" fill="#4a8fd6"/><circle cx="539.6" cy="565.22" r="1.9" fill="#f06c6c"/><circle cx="542.6" cy="565.8" r="1.9" fill="#f06c6c"/><circle cx="541.1" cy="571.04" r="1.9" fill="#f06c6c"/><line x1="561.7" y1="601.3" x2="561.7" y2="604.1" stroke="#555" stroke-width="0.8"/><rect x="552.1" y="595.48" width="7" height="5.82" fill="#bcd6f2" stroke="#4a8fd6" stroke-width="0.6"/><rect x="564.4" y="552.99" width="7.6" height="48.31" fill="#fbd3d3" stroke="#f06c6c" stroke-width="0.7"/><line x1="568.2" y1="550.67" x2="568.2" y2="555.32" stroke="#f06c6c" stroke-width="0.8"/><line x1="566.5" y1="550.67" x2="569.9" y2="550.67" stroke="#f06c6c" stroke-width="0.8"/><circle cx="554.1" cy="594.9" r="1.9" fill="#4a8fd6"/><circle cx="555.6" cy="595.48" r="1.9" fill="#4a8fd6"/><circle cx="557.1" cy="595.77" r="1.9" fill="#4a8fd6"/><circle cx="566.7" cy="549.5" r="1.9" fill="#f06c6c"/><circle cx="568.2" cy="552.99" r="1.9" fill="#f06c6c"/><circle cx="569.7" cy="554.16" r="1.9" fill="#f06c6c"/><line x1="588.8" y1="601.3" x2="588.8" y2="604.1" stroke="#555" stroke-width="0.8"/><rect x="579.2" y="595.48" width="7" height="5.82" fill="#bcd6f2" stroke="#4a8fd6" stroke-width="0.6"/><rect x="591.5" y="573.36" width="7.6" height="27.94" fill="#fbd3d3" stroke="#f06c6c" stroke-width="0.7"/><line x1="595.3" y1="567.54" x2="595.3" y2="579.18" stroke="#f06c6c" stroke-width="0.8"/><line x1="593.6" y1="567.54" x2="597" y2="567.54" stroke="#f06c6c" stroke-width="0.8"/><circle cx="581.2" cy="594.9" r="1.9" fill="#4a8fd6"/><circle cx="582.7" cy="595.48" r="1.9" fill="#4a8fd6"/><circle cx="584.2" cy="595.77" r="1.9" fill="#4a8fd6"/><circle cx="595.3" cy="565.8" r="1.9" fill="#f06c6c"/><circle cx="593.8" cy="573.95" r="1.9" fill="#f06c6c"/><circle cx="596.8" cy="578.02" r="1.9" fill="#f06c6c"/><line x1="615.9" y1="601.3" x2="615.9" y2="604.1" stroke="#555" stroke-width="0.8"/><rect x="606.3" y="595.48" width="7" height="5.82" fill="#bcd6f2" stroke="#4a8fd6" stroke-width="0.6"/><rect x="618.6" y="582.68" width="7.6" height="18.62" fill="#fbd3d3" stroke="#f06c6c" stroke-width="0.7"/><line x1="622.4" y1="581.51" x2="622.4" y2="583.84" stroke="#f06c6c" stroke-width="0.8"/><line x1="620.7" y1="581.51" x2="624.1" y2="581.51" stroke="#f06c6c" stroke-width="0.8"/><circle cx="608.3" cy="594.9" r="1.9" fill="#4a8fd6"/><circle cx="609.8" cy="595.48" r="1.9" fill="#4a8fd6"/><circle cx="611.3" cy="595.77" r="1.9" fill="#4a8fd6"/><circle cx="620.9" cy="581.51" r="1.9" fill="#f06c6c"/><circle cx="622.4" cy="582.68" r="1.9" fill="#f06c6c"/><circle cx="623.9" cy="583.84" r="1.9" fill="#f06c6c"/><text x="512.7" y="613.8" font-size="8.8" fill="#333" text-anchor="end" transform="rotate(-45 512.7 613.8)">Stat2</text><text x="539.8" y="613.8" font-size="8.8" fill="#333" text-anchor="end" transform="rotate(-45 539.8 613.8)">Twist1</text><text x="566.9" y="613.8" font-size="8.8" fill="#333" text-anchor="end" transform="rotate(-45 566.9 613.8)">Creb3l1</text><text x="594" y="613.8" font-size="8.8" fill="#333" text-anchor="end" transform="rotate(-45 594 613.8)">Mxd4</text><text x="621.1" y="613.8" font-size="8.8" fill="#333" text-anchor="end" transform="rotate(-45 621.1 613.8)">Snai1</text><text x="471.8" y="557.8" font-size="8.6" fill="#333" text-anchor="middle" transform="rotate(-90 471.8 557.8)">Relative mRNA expression</text><text x="497.7" y="539" font-size="7.6" fill="#222"><tspan font-style="italic">P</tspan> = 0.0005</text><line x1="501.3" y1="542.4" x2="512.2" y2="542.4" stroke="#555" stroke-width="0.8"/><text x="515.7" y="553.5" font-size="7.6" fill="#222"><tspan font-style="italic">P</tspan> = 0.0002</text><line x1="528.8" y1="556.4" x2="539.9" y2="556.4" stroke="#555" stroke-width="0.8"/><text x="543.7" y="532.8" font-size="7.6" fill="#222"><tspan font-style="italic">P</tspan> &lt; 0.0001</text><line x1="554.6" y1="536.3" x2="566.6" y2="536.3" stroke="#555" stroke-width="0.8"/><text x="574.5" y="551.4" font-size="7.6" fill="#222"><tspan font-style="italic">P</tspan> = 0.0033</text><line x1="583.8" y1="553.5" x2="594.8" y2="553.5" stroke="#555" stroke-width="0.8"/><text x="602" y="573.3" font-size="7.6" fill="#222"><tspan font-style="italic">P</tspan> = 0.0001</text><line x1="610.2" y1="574.7" x2="621.5" y2="574.7" stroke="#555" stroke-width="0.8"/><circle cx="593.4" cy="499.6" r="2" fill="#f06c6c"/><text x="600.4" y="502.9" font-size="9.3" fill="#333" textLength="26.2" lengthAdjust="spacingAndGlyphs">CM (+)</text><circle cx="593.4" cy="513" r="2" fill="#4a8fd6"/><text x="600.4" y="516.3" font-size="9.3" fill="#333" textLength="26.2" lengthAdjust="spacingAndGlyphs">CM (–)</text><text x="-1.5" y="654.5" font-size="13" fill="#111" font-weight="bold" stroke="#111" stroke-width="0.45">j</text><text x="147.4" y="664.7" font-size="9" fill="#333" textLength="144.3" lengthAdjust="spacingAndGlyphs">KEGG enrichment, CM (+) versus (–)</text><rect x="191.8" y="671.7" width="154" height="113.5" fill="#fff"/><line x1="198.6" y1="671.7" x2="198.6" y2="785.2" stroke="#ececec" stroke-width="0.6"/><line x1="233.65" y1="671.7" x2="233.65" y2="785.2" stroke="#ececec" stroke-width="0.6"/><line x1="268.7" y1="671.7" x2="268.7" y2="785.2" stroke="#ececec" stroke-width="0.6"/><line x1="303.75" y1="671.7" x2="303.75" y2="785.2" stroke="#ececec" stroke-width="0.6"/><line x1="338.8" y1="671.7" x2="338.8" y2="785.2" stroke="#ececec" stroke-width="0.6"/><line x1="216.12" y1="671.7" x2="216.12" y2="785.2" stroke="#f4f4f4" stroke-width="0.5"/><line x1="251.17" y1="671.7" x2="251.17" y2="785.2" stroke="#f4f4f4" stroke-width="0.5"/><line x1="286.23" y1="671.7" x2="286.23" y2="785.2" stroke="#f4f4f4" stroke-width="0.5"/><line x1="321.27" y1="671.7" x2="321.27" y2="785.2" stroke="#f4f4f4" stroke-width="0.5"/><line x1="191.8" y1="679.15" x2="345.8" y2="679.15" stroke="#ececec" stroke-width="0.6"/><line x1="191.8" y1="691.49" x2="345.8" y2="691.49" stroke="#ececec" stroke-width="0.6"/><line x1="191.8" y1="703.83" x2="345.8" y2="703.83" stroke="#ececec" stroke-width="0.6"/><line x1="191.8" y1="716.17" x2="345.8" y2="716.17" stroke="#ececec" stroke-width="0.6"/><line x1="191.8" y1="728.51" x2="345.8" y2="728.51" stroke="#ececec" stroke-width="0.6"/><line x1="191.8" y1="740.85" x2="345.8" y2="740.85" stroke="#ececec" stroke-width="0.6"/><line x1="191.8" y1="753.19" x2="345.8" y2="753.19" stroke="#ececec" stroke-width="0.6"/><line x1="191.8" y1="765.53" x2="345.8" y2="765.53" stroke="#ececec" stroke-width="0.6"/><line x1="191.8" y1="777.87" x2="345.8" y2="777.87" stroke="#ececec" stroke-width="0.6"/><rect x="198.6" y="673.55" width="140.2" height="11.2" fill="#ee2f2f"/><rect x="198.6" y="685.89" width="82.02" height="11.2" fill="#ee2f2f"/><rect x="198.6" y="698.23" width="69.4" height="11.2" fill="#ee2f2f"/><rect x="198.6" y="710.57" width="60.29" height="11.2" fill="#ee2f2f"/><rect x="198.6" y="722.91" width="57.48" height="11.2" fill="#ee2f2f"/><rect x="198.6" y="735.25" width="35.75" height="11.2" fill="#e82d45"/><rect x="198.6" y="747.59" width="35.75" height="11.2" fill="#e82d45"/><rect x="198.6" y="759.93" width="21.73" height="11.2" fill="#6a4aa6"/><rect x="198.6" y="772.27" width="20.33" height="11.2" fill="#2c56ad"/><rect x="191.8" y="671.7" width="154" height="113.5" fill="none" stroke="#a8a8a8" stroke-width="0.9"/><text x="186.9" y="682.35" font-size="9.3" fill="#333" text-anchor="end">Cytokine–cytokine receptor interaction</text><line x1="189.3" y1="679.15" x2="191.8" y2="679.15" stroke="#888" stroke-width="0.7"/><text x="186.9" y="694.69" font-size="9.3" fill="#333" text-anchor="end">Cell adhesion molecules (CAMs)</text><line x1="189.3" y1="691.49" x2="191.8" y2="691.49" stroke="#888" stroke-width="0.7"/><text x="186.9" y="707.03" font-size="9.3" fill="#333" text-anchor="end">NOD-like receptor signalling pathway</text><line x1="189.3" y1="703.83" x2="191.8" y2="703.83" stroke="#888" stroke-width="0.7"/><text x="186.9" y="719.37" font-size="9.3" fill="#333" text-anchor="end">Osteoclast differentiation</text><line x1="189.3" y1="716.17" x2="191.8" y2="716.17" stroke="#888" stroke-width="0.7"/><text x="186.9" y="731.71" font-size="9.3" fill="#333" text-anchor="end">Toll-like receptor signalling pathway</text><line x1="189.3" y1="728.51" x2="191.8" y2="728.51" stroke="#888" stroke-width="0.7"/><text x="186.9" y="744.05" font-size="9.3" fill="#333" text-anchor="end">Calcium signalling pathway</text><line x1="189.3" y1="740.85" x2="191.8" y2="740.85" stroke="#888" stroke-width="0.7"/><text x="186.9" y="756.39" font-size="9.3" fill="#333" text-anchor="end">Jak–STAT signalling pathway</text><line x1="189.3" y1="753.19" x2="191.8" y2="753.19" stroke="#888" stroke-width="0.7"/><text x="186.9" y="768.73" font-size="9.3" fill="#333" text-anchor="end">Leukocyte transendothelial migration</text><line x1="189.3" y1="765.53" x2="191.8" y2="765.53" stroke="#888" stroke-width="0.7"/><text x="186.9" y="781.07" font-size="9.3" fill="#333" text-anchor="end">PPAR signalling pathway</text><line x1="189.3" y1="777.87" x2="191.8" y2="777.87" stroke="#888" stroke-width="0.7"/><text x="198.6" y="796.2" font-size="8.6" fill="#444" text-anchor="middle">0</text><text x="233.65" y="796.2" font-size="8.6" fill="#444" text-anchor="middle">2.5</text><text x="268.7" y="796.2" font-size="8.6" fill="#444" text-anchor="middle">5.0</text><text x="303.75" y="796.2" font-size="8.6" fill="#444" text-anchor="middle">7.5</text><text x="338.8" y="796.2" font-size="8.6" fill="#444" text-anchor="middle">10.0</text><text x="186.9" y="796.2" font-size="9.3" fill="#333" text-anchor="end" textLength="50.8" lengthAdjust="spacingAndGlyphs">NegLog_FDR</text><rect x="276" y="752.2" width="59.1" height="11.4" fill="url(#gQ)"/><line x1="293.3" y1="752.2" x2="293.3" y2="754.2" stroke="#fff" stroke-width="0.6" stroke-opacity="0.8"/><line x1="293.3" y1="761.6" x2="293.3" y2="763.6" stroke="#fff" stroke-width="0.6" stroke-opacity="0.8"/><line x1="310.7" y1="752.2" x2="310.7" y2="754.2" stroke="#fff" stroke-width="0.6" stroke-opacity="0.8"/><line x1="310.7" y1="761.6" x2="310.7" y2="763.6" stroke="#fff" stroke-width="0.6" stroke-opacity="0.8"/><line x1="327.7" y1="752.2" x2="327.7" y2="754.2" stroke="#fff" stroke-width="0.6" stroke-opacity="0.8"/><line x1="327.7" y1="761.6" x2="327.7" y2="763.6" stroke="#fff" stroke-width="0.6" stroke-opacity="0.8"/><text x="272.3" y="761.6" font-size="9.3" fill="#333" text-anchor="end">qvalue</text><text x="297.7" y="771.2" font-size="8" fill="#444" text-anchor="end" transform="rotate(-45 297.7 771.2)">0.01</text><text x="315.1" y="771.2" font-size="8" fill="#444" text-anchor="end" transform="rotate(-45 315.1 771.2)">0.02</text><text x="332.1" y="771.2" font-size="8" fill="#444" text-anchor="end" transform="rotate(-45 332.1 771.2)">0.03</text><rect x="532.1" y="672.7" width="153.9" height="111.6" fill="#fff"/><line x1="539" y1="672.7" x2="539" y2="784.3" stroke="#ececec" stroke-width="0.6"/><line x1="577.16" y1="672.7" x2="577.16" y2="784.3" stroke="#ececec" stroke-width="0.6"/><line x1="615.32" y1="672.7" x2="615.32" y2="784.3" stroke="#ececec" stroke-width="0.6"/><line x1="653.48" y1="672.7" x2="653.48" y2="784.3" stroke="#ececec" stroke-width="0.6"/><line x1="558.08" y1="672.7" x2="558.08" y2="784.3" stroke="#f4f4f4" stroke-width="0.5"/><line x1="596.24" y1="672.7" x2="596.24" y2="784.3" stroke="#f4f4f4" stroke-width="0.5"/><line x1="634.4" y1="672.7" x2="634.4" y2="784.3" stroke="#f4f4f4" stroke-width="0.5"/><line x1="532.1" y1="681.5" x2="686" y2="681.5" stroke="#ececec" stroke-width="0.6"/><line x1="532.1" y1="696.65" x2="686" y2="696.65" stroke="#ececec" stroke-width="0.6"/><line x1="532.1" y1="711.8" x2="686" y2="711.8" stroke="#ececec" stroke-width="0.6"/><line x1="532.1" y1="726.95" x2="686" y2="726.95" stroke="#ececec" stroke-width="0.6"/><line x1="532.1" y1="742.1" x2="686" y2="742.1" stroke="#ececec" stroke-width="0.6"/><line x1="532.1" y1="757.25" x2="686" y2="757.25" stroke="#ececec" stroke-width="0.6"/><line x1="532.1" y1="772.4" x2="686" y2="772.4" stroke="#ececec" stroke-width="0.6"/><rect x="539" y="674.9" width="139.92" height="13.2" fill="#ee2f2f"/><rect x="539" y="690.05" width="117.02" height="13.2" fill="#ee2f2f"/><rect x="539" y="705.2" width="99.22" height="13.2" fill="#ee2f2f"/><rect x="539" y="720.35" width="27.09" height="13.2" fill="#c0287c"/><rect x="539" y="735.5" width="26.46" height="13.2" fill="#c0287c"/><rect x="539" y="750.65" width="23.91" height="13.2" fill="#7b3f9b"/><rect x="539" y="765.8" width="23.91" height="13.2" fill="#7b3f9b"/><rect x="532.1" y="672.7" width="153.9" height="111.6" fill="none" stroke="#a8a8a8" stroke-width="0.9"/><text x="528.2" y="684.7" font-size="9.3" fill="#333" text-anchor="end">Cytokine–cytokine receptor interaction</text><line x1="529.6" y1="681.5" x2="532.1" y2="681.5" stroke="#888" stroke-width="0.7"/><text x="528.2" y="699.85" font-size="9.3" fill="#333" text-anchor="end">ECM–receptor interaction</text><line x1="529.6" y1="696.65" x2="532.1" y2="696.65" stroke="#888" stroke-width="0.7"/><text x="528.2" y="715" font-size="9.3" fill="#333" text-anchor="end">Focal adhesion</text><line x1="529.6" y1="711.8" x2="532.1" y2="711.8" stroke="#888" stroke-width="0.7"/><text x="528.2" y="730.15" font-size="9.3" fill="#ee3a3a" text-anchor="end">TGF-β signaling pathway</text><line x1="529.6" y1="726.95" x2="532.1" y2="726.95" stroke="#888" stroke-width="0.7"/><text x="528.2" y="745.3" font-size="9.3" fill="#333" text-anchor="end">Regulation of actin cytoskeleton</text><line x1="529.6" y1="742.1" x2="532.1" y2="742.1" stroke="#888" stroke-width="0.7"/><text x="528.2" y="760.45" font-size="9.3" fill="#333" text-anchor="end">Jak–STAT signalling pathway</text><line x1="529.6" y1="757.25" x2="532.1" y2="757.25" stroke="#888" stroke-width="0.7"/><text x="528.2" y="775.6" font-size="9.3" fill="#333" text-anchor="end">Osteoclast differentiation</text><line x1="529.6" y1="772.4" x2="532.1" y2="772.4" stroke="#888" stroke-width="0.7"/><text x="539" y="794" font-size="8.6" fill="#444" text-anchor="middle">0</text><text x="577.16" y="794" font-size="8.6" fill="#444" text-anchor="middle">3</text><text x="615.32" y="794" font-size="8.6" fill="#444" text-anchor="middle">6</text><text x="653.48" y="794" font-size="8.6" fill="#444" text-anchor="middle">9</text><text x="528.2" y="794" font-size="9.3" fill="#333" text-anchor="end" textLength="50.8" lengthAdjust="spacingAndGlyphs">NegLog_FDR</text><rect x="615" y="745.8" width="59" height="11.2" fill="url(#gK)"/><line x1="631.6" y1="745.8" x2="631.6" y2="747.8" stroke="#fff" stroke-width="0.6" stroke-opacity="0.8"/><line x1="631.6" y1="755" x2="631.6" y2="757" stroke="#fff" stroke-width="0.6" stroke-opacity="0.8"/><line x1="646.5" y1="745.8" x2="646.5" y2="747.8" stroke="#fff" stroke-width="0.6" stroke-opacity="0.8"/><line x1="646.5" y1="755" x2="646.5" y2="757" stroke="#fff" stroke-width="0.6" stroke-opacity="0.8"/><line x1="662.5" y1="745.8" x2="662.5" y2="747.8" stroke="#fff" stroke-width="0.6" stroke-opacity="0.8"/><line x1="662.5" y1="755" x2="662.5" y2="757" stroke="#fff" stroke-width="0.6" stroke-opacity="0.8"/><text x="611.9" y="755.4" font-size="9.3" fill="#333" text-anchor="end">FDR</text><text x="635.2" y="765" font-size="8" fill="#444" text-anchor="end" transform="rotate(-45 635.2 765)">0.005</text><text x="650.1" y="765" font-size="8" fill="#444" text-anchor="end" transform="rotate(-45 650.1 765)">0.010</text><text x="666.1" y="765" font-size="8" fill="#444" text-anchor="end" transform="rotate(-45 666.1 765)">0.015</text><text x="369.4" y="655" font-size="13" fill="#111" font-weight="bold" stroke="#111" stroke-width="0.45">k</text><text x="497.4" y="664.8" font-size="9" fill="#333" textLength="180.6" lengthAdjust="spacingAndGlyphs">KEGG enrichment, adCAF versus non-adCAF</text></svg></body></html>
